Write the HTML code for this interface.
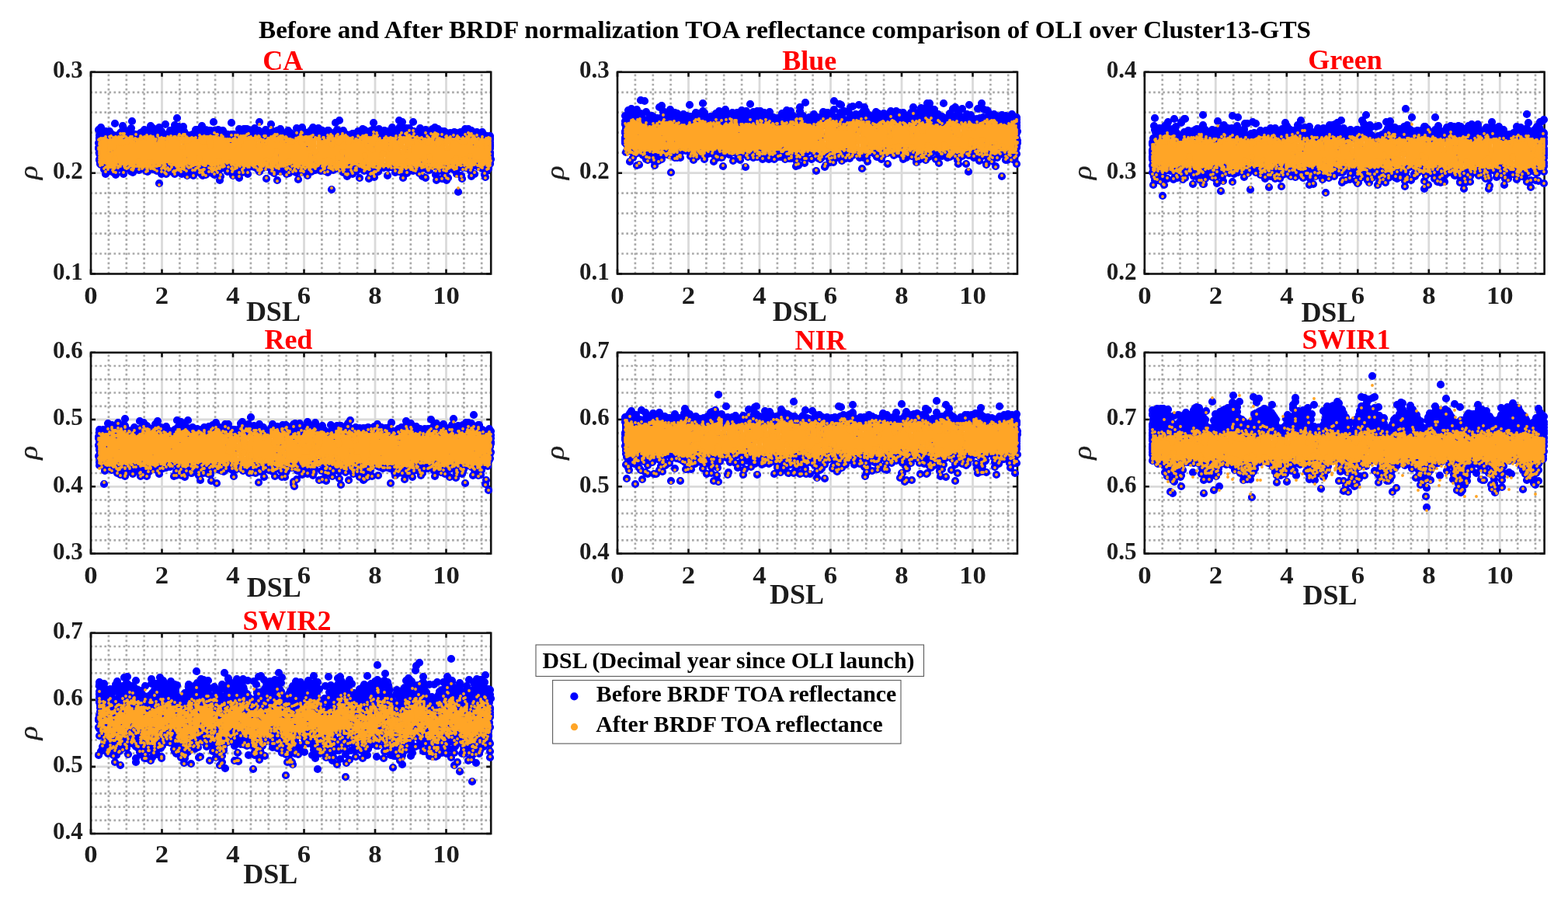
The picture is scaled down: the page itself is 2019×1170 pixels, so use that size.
<!DOCTYPE html>
<html><head><meta charset="utf-8"><title>Before and After BRDF normalization TOA reflectance comparison</title>
<style>
html,body{margin:0;padding:0;background:#fff;overflow:hidden}
svg{display:block}
text{font-family:"Liberation Serif","DejaVu Serif",serif;font-weight:bold}
.tk{font-size:31px;fill:#1c1c1c}
.xl{font-size:36px;fill:#1c1c1c}
.yl{font-size:37px;font-style:italic;font-weight:normal;fill:#1c1c1c;stroke:#1c1c1c;stroke-width:0.35}
.ti{font-size:36px;fill:#ff0000}
.lg{font-size:29.7px;fill:#000}
.mt{font-size:32px;fill:#000}
</style></head><body>
<svg width="2019" height="1170" viewBox="0 0 2019 1170">
<rect width="2019" height="1170" fill="#fff"/>
<text class="mt" x="333" y="49.1" textLength="1355" lengthAdjust="spacingAndGlyphs">Before and After BRDF normalization TOA reflectance comparison of OLI over Cluster13-GTS</text>
<path d="M208.5 92.8V352.5M300.0 92.8V352.5M391.5 92.8V352.5M483.0 92.8V352.5M574.5 92.8V352.5M117.0 222.7H632.2" stroke="#dadada" stroke-width="2.8" fill="none"/>
<path d="M139.9 92.8V352.5M162.8 92.8V352.5M185.6 92.8V352.5M231.4 92.8V352.5M254.2 92.8V352.5M277.1 92.8V352.5M322.9 92.8V352.5M345.8 92.8V352.5M368.6 92.8V352.5M414.4 92.8V352.5M437.2 92.8V352.5M460.1 92.8V352.5M505.9 92.8V352.5M528.8 92.8V352.5M551.6 92.8V352.5M597.4 92.8V352.5M620.2 92.8V352.5" stroke="#aaaaaa" stroke-width="2.7" stroke-dasharray="2.7 3.35" stroke-dashoffset="3.3" fill="none"/>
<path d="M117.0 326.5H632.2M117.0 300.6H632.2M117.0 274.6H632.2M117.0 248.6H632.2M117.0 196.7H632.2M117.0 170.7H632.2M117.0 144.7H632.2M117.0 118.8H632.2" stroke="#aaaaaa" stroke-width="2.7" stroke-dasharray="2.7 3.35" stroke-dashoffset="0.8" fill="none"/>
<path d="M117.0 352.5v-6M117.0 92.8v6M208.5 352.5v-6M208.5 92.8v6M300.0 352.5v-6M300.0 92.8v6M391.5 352.5v-6M391.5 92.8v6M483.0 352.5v-6M483.0 92.8v6M574.5 352.5v-6M574.5 92.8v6M117.0 352.5h6M632.2 352.5h-6M117.0 222.7h6M632.2 222.7h-6M117.0 92.8h6M632.2 92.8h-6" stroke="#111" stroke-width="2.6" fill="none"/>
<rect x="117.0" y="92.8" width="515.2" height="259.7" fill="none" stroke="#111" stroke-width="2.6"/>
<path d="M127 167h0m0 17h0m0 6h0m0 1h0m1-17h0m0 3h0m0 1h0m0 1h0m0 4h0m0 2h0m0 8h0m0 3h0m0 1h0m0 1h0m0 7h0m0 1h0m1-7h0m0 10h0m0 1h0m0 1h0m1-47h0m0 38h0m0 10h0m4-39h0m0 45h0m2-49h0m0 55h0m3-11h0m0 8h0m1-42h0m1-10h0m2 3h0m1 11h0m0 6h0m0 25h0m1-21h0m1-19h0m0 48h0m2-63h0m1 16h0m0 6h0m0 44h0m1-50h0m0 31h0m1-31h0m1-1h0m0 41h0m0 2h0m3-46h0m0 45h0m1-46h0m1 0h0m0 9h0m0 29h0m1-46h0m1 62h0m1-57h0m0 17h0m1 32h0m1-47h0m1 6h0m2 42h0m2-38h0m2-14h0m0 46h0m0 10h0m1-65h0m0 16h0m1 0h0m0 50h0m3-49h0m0 45h0m1-44h0m1 0h0m0 6h0m0 33h0m3 6h0m1-47h0m1-1h0m0 1h0m0 36h0m1-37h0m1-1h0m1 10h0m2-13h0m0 48h0m2 5h0m1-52h0m0 7h0m0 45h0m1 1h0m4-59h0m0 55h0m2-52h0m0 7h0m0 39h0m1-46h0m0 53h0m4-42h0m1 44h0m1-50h0m0 44h0m1-29h0m1-21h0m0 72h0m1-24h0m2-43h0m0 8h0m0 47h0m3-7h0m1-44h0m0 11h0m1-24h0m0 56h0m1-42h0m0 50h0m1-42h0m0 26h0m1-35h0m3-5h0m0 6h0m0 46h0m2-9h0m0 5h0m1-6h0m1-43h0m0 55h0m1 0h0m1-61h0m0 10h0m0 53h0m2-45h0m1-27h0m2 11h0m0 52h0m1-48h0m2 54h0m1 3h0m1-51h0m1-10h0m1 6h0m0 44h0m1-42h0m1 17h0m1-14h0m0 45h0m1-45h0m0 9h0m0 43h0m1-23h0m3 11h0m1-40h0m2-1h0m0 48h0m1 5h0m1-54h0m1-1h0m1-4h0m0 1h0m2-1h0m0 8h0m0 40h0m2-33h0m1-11h0m0 32h0m0 19h0m3-60h0m0 56h0m0 7h0m1 1h0m1-51h0m1 37h0m1-33h0m1-12h0m0 57h0m0 1h0m1-57h0m2 13h0m0 28h0m1-41h0m0 49h0m1-43h0m1-6h0m2 23h0m0 25h0m0 7h0m2-66h0m1 11h0m0 57h0m1-48h0m3 40h0m1-50h0m2 51h0m0 14h0m1-56h0m0 28h0m0 8h0m0 15h0m3-59h0m1 2h0m0 46h0m1-6h0m2-30h0m2-7h0m0 48h0m1-8h0m1-32h0m3-23h0m0 15h0m1 13h0m0 34h0m1 6h0m1-53h0m2 41h0m1-30h0m1 34h0m1-44h0m2-8h0m0 6h0m0 52h0m0 5h0m1-49h0m3 42h0m1-1h0m1-55h0m0 50h0m2-50h0m0 8h0m1 40h0m1-48h0m1 48h0m0 10h0m1-57h0m1 48h0m1-44h0m5 7h0m0 37h0m1-50h0m1 7h0m3 46h0m1-50h0m0 43h0m1-54h0m0 19h0m0 45h0m1-3h0m1-31h0m0 30h0m1-1h0m1-34h0m1 34h0m2-44h0m1-5h0m1 9h0m0 39h0m0 15h0m1-23h0m1 8h0m1 0h0m1-43h0m2-12h0m0 11h0m1 50h0m2-52h0m1 48h0m0 6h0m1-43h0m2 22h0m1-34h0m0 41h0m0 23h0m2-57h0m1 21h0m1-30h0m0 55h0m3-50h0m0 8h0m0 36h0m1-30h0m4-14h0m0 44h0m0 6h0m0 3h0m2-56h0m1 38h0m0 17h0m1-44h0m1-8h0m0 46h0m2-8h0m2-35h0m1 46h0m2-47h0m0 49h0m1-57h0m0 16h0m2 27h0m0 8h0m0 15h0m4-60h0m0 51h0m1-58h0m0 3h0m1 11h0m0 34h0m0 9h0m2-51h0m0 12h0m1-11h0m0 47h0m3 8h0m1-18h0m1-37h0m0 11h0m0 34h0m1-27h0m1-21h0m0 53h0m1-47h0m0 47h0m1-27h0m1-30h0m0 45h0m1-9h0m2 19h0m2-49h0m1 4h0m1-9h0m1 48h0m2 7h0m2-52h0m2 7h0m0 7h0m1 22h0m0 16h0m4-52h0m0 8h0m0 46h0m1-54h0m0 47h0m3-31h0m0 32h0m0 2h0m1-47h0m0 34h0m0 39h0m1-72h0m1 47h0m2-39h0m1-22h0m0 26h0m1 33h0m1-50h0m2 2h0m0 7h0m1-21h0m0 14h0m0 33h0m0 15h0m1-48h0m3 0h0m0 30h0m0 21h0m1-52h0m0 54h0m1-51h0m0 48h0m1-47h0m1 1h0m0 50h0m1-50h0m0 40h0m1 14h0m2-18h0m2 3h0m1-39h0m0 8h0m0 39h0m1 3h0m1-51h0m0 52h0m1-52h0m1 9h0m1-9h0m0 49h0m1-5h0m1 4h0m1-8h0m1-43h0m1 10h0m1 50h0m1-53h0m2 41h0m1-51h0m1 37h0m0 16h0m1-52h0m0 6h0m0 47h0m2-33h0m1-18h0m1 42h0m2-35h0m0 54h0m1-13h0m1-33h0m0 6h0m0 34h0m1-56h0m2 45h0m1-55h0m0 8h0m0 55h0m0 4h0m1-2h0m0 5h0m1-61h0m0 5h0m3 9h0m1-8h0m0 36h0m0 12h0m1-55h0m1 50h0m1 0h0m2-35h0m1-9h0m0 43h0m1 1h0m1-48h0m0 27h0m2-14h0m0 34h0m1-46h0m1 57h0m1-10h0m1-42h0m2 4h0m1 37h0m1-51h0m0 23h0m1-15h0m2 5h0m0 40h0m1-34h0m0 39h0m1-54h0m1 47h0m3-60h0m0 66h0m1-58h0m0 8h0m1 6h0m1 45h0m1-65h0m0 60h0m1-19h0m0 31h0m2-18h0m1-45h0m1-1h0m0 7h0m0 44h0m1-24h0m0 31h0m1-51h0m1 8h0m1-15h0m2 51h0m1-37h0m2-22h0m0 63h0m1-51h0m0 8h0m1-6h0m1 48h0m3-45h0m1 36h0m1 13h0m1-58h0m0 18h0m2 34h0m1-44h0m0 54h0m1-20h0m1-25h0m0 32h0m2-47h0m0 62h0m1-22h0m2-30h0m0 42h0m1-50h0m1 50h0m1-4h0m1-32h0m1 19h0m1-36h0m0 46h0m2-40h0m1-8h0m0 50h0m1-35h0m0 46h0m1 7h0m2-66h0m0 51h0m1-44h0m1 47h0m1-32h0m2-19h0m0 2h0m0 59h0m1-21h0m1 12h0m1-52h0m0 10h0m1 45h0m1-4h0m1-49h0m0 48h0m0 13h0m1-16h0m0 3h0m1-10h0m0 9h0m0 11h0m2-57h0m0 7h0m0 14h0m1-22h0m0 1h0m0 34h0m3 9h0m1-13h0m1-32h0m0 49h0m1-40h0m2-8h0m0 47h0m0 6h0m2 23h0m1-76h0m0 40h0m1-34h0m1-7h0m1 56h0m1 4h0m1-59h0m0 13h0m0 32h0m3-50h0m0 43h0m1 7h0m2-39h0m1-11h0m1 5h0m1 31h0m0 16h0m1 2h0m1-52h0m0 39h0m0 8h0m0 12h0m2-40h0m2-16h0m0 7h0m0 30h0m0 5h0m0 11h0m3-54h0m0 9h0m1 10h0m1 26h0m2-2h0m1 3h0m1-44h0m1-2h0m0 6h0m0 36h0m0 5h0m3-42h0m0 50h0m1 3h0m1-44h0m1-9h0m0 45h0m2-5h0m0 2h0m1-41h0m0 16h0m0 1h0m0 1h0m0 1h0m1-20h0m0 2h0m0 1h0m0 1h0m0 1h0m0 3h0m0 2h0m0 1h0m0 1h0m0 1h0m0 1h0m0 2h0m0 5h0m0 1h0m0 1h0m0 2h0m0 2h0m0 1h0m0 1h0m0 2h0m0 4h0m0 1h0m1-6h0" stroke="#0000ff" stroke-width="10.2" stroke-linecap="round" fill="none"/>
<path d="M128.5 190H129.5V179H136.5V180H137.5V181H139.5V198H143.5V197H145.5V190H148.5V184H150.5V177H152.5V179H154.5V186H158.5V181H160.5V185H164.5V182H168.5V181H169.5V179H170.5V183H174.5V179H175.5V180H179.5V179H180.5V178H181.5V177H182.5V180H187.5V176H188.5V175H189.5V176H196.5V177H197.5V179H200.5V185H203.5V187H207.5V189H211.5V183H215.5V177H219.5V178H223.5V177H224.5V176H225.5V177H226.5V178H233.5V191H236.5V177H240.5V183H244.5V182H245.5V178H251.5V181H256.5V178H257.5V182H260.5V184H263.5V179H264.5V176H268.5V190H272.5V183H273.5V176H276.5V177H280.5V178H281.5V179H285.5V176H286.5V179H289.5V180H293.5V185H294.5V186H297.5V190H301.5V186H303.5V185H304.5V180H305.5V189H309.5V183H311.5V178H312.5V176H313.5V175H315.5V178H320.5V180H324.5V178H329.5V177H330.5V180H331.5V189H335.5V180H338.5V185H339.5V186H343.5V181H344.5V179H345.5V178H348.5V177H349.5V176H352.5V175H353.5V182H357.5V178H358.5V177H359.5V179H363.5V180H364.5V183H365.5V184H366.5V185H370.5V183H373.5V185H377.5V181H380.5V179H381.5V178H384.5V177H386.5V187H390.5V177H392.5V190H393.5V191H394.5V192H398.5V181H399.5V192H403.5V189H404.5V196H407.5V178H411.5V182H414.5V183H415.5V184H418.5V182H422.5V176H423.5V183H424.5V185H425.5V188H428.5V182H429.5V179H434.5V185H437.5V181H440.5V175H445.5V176H446.5V185H450.5V178H453.5V181H454.5V182H457.5V180H463.5V182H467.5V175H470.5V188H473.5V192H476.5V184H478.5V194H481.5V184H482.5V176H484.5V181H487.5V180H488.5V181H498.5V180H499.5V179H500.5V192H503.5V181H504.5V178H505.5V179H508.5V182H509.5V183H513.5V181H514.5V177H516.5V197H520.5V183H524.5V195H528.5V186H530.5V185H531.5V184H532.5V180H536.5V181H540.5V182H545.5V179H547.5V180H549.5V185H552.5V179H557.5V183H561.5V181H562.5V187H566.5V182H569.5V180H573.5V192H577.5V178H579.5V179H582.5V180H586.5V179H587.5V178H588.5V176H589.5V177H590.5V182H591.5V183H595.5V185H599.5V179H600.5V180H607.5V189H611.5V188H612.5V179H613.5V182H617.5V188H620.5V180H621.5V183H624.5V192H628.5V183H630.5V210H624.5V207H620.5V215H619.5V212H617.5V208H616.5V207H612.5V208H611.5V211H610.5V210H607.5V199H603.5V215H601.5V212H600.5V203H596.5V209H591.5V212H589.5V202H585.5V207H581.5V209H577.5V211H568.5V215H567.5V213H563.5V214H562.5V211H558.5V212H556.5V208H554.5V199H550.5V208H548.5V209H547.5V210H546.5V211H545.5V205H541.5V206H540.5V212H539.5V208H535.5V209H532.5V211H531.5V210H528.5V215H527.5V211H526.5V207H523.5V211H522.5V215H521.5V214H517.5V212H511.5V211H508.5V212H507.5V211H506.5V210H499.5V212H495.5V195H491.5V196H490.5V210H489.5V215H488.5V216H487.5V212H486.5V211H478.5V214H475.5V217H473.5V210H471.5V199H468.5V215H466.5V214H464.5V209H463.5V208H460.5V209H459.5V211H453.5V209H448.5V205H444.5V209H443.5V194H439.5V212H437.5V215H436.5V201H433.5V217H432.5V215H430.5V211H427.5V206H426.5V205H425.5V204H421.5V210H420.5V211H419.5V212H418.5V207H415.5V210H410.5V212H409.5V213H407.5V214H406.5V206H402.5V199H398.5V211H396.5V209H392.5V212H390.5V210H385.5V213H383.5V214H382.5V209H374.5V210H372.5V206H368.5V212H367.5V213H361.5V214H358.5V193H354.5V199H352.5V202H351.5V214H350.5V216H349.5V215H346.5V204H342.5V205H340.5V212H339.5V213H338.5V214H336.5V218H335.5V219H334.5V212H333.5V211H328.5V212H327.5V214H326.5V213H325.5V212H320.5V215H319.5V214H318.5V213H317.5V212H313.5V210H309.5V211H308.5V212H304.5V209H300.5V211H297.5V209H296.5V208H293.5V209H291.5V208H287.5V214H285.5V210H283.5V205H280.5V211H272.5V212H271.5V211H270.5V210H264.5V213H263.5V212H261.5V211H260.5V210H258.5V202H255.5V212H247.5V211H244.5V210H240.5V202H236.5V210H232.5V213H229.5V218H228.5V214H227.5V211H223.5V212H222.5V208H218.5V210H217.5V208H212.5V209H211.5V210H205.5V213H203.5V209H197.5V214H196.5V216H195.5V207H191.5V214H184.5V209H180.5V214H179.5V206H175.5V209H173.5V210H172.5V214H171.5V212H167.5V211H166.5V210H163.5V211H162.5V212H161.5V208H158.5V211H155.5V213H154.5V209H153.5V208H150.5V210H149.5V202H145.5V215H142.5V214H141.5V211H138.5V210H136.5V209H134.5V206H130.5V212H129.5V210H128.5Z" fill="#ffa526"/>
<path d="M127 180h0m0 10h0m0 1h0m0 1h0m1-13h0m0 2h0m0 3h0m0 2h0m0 7h0m0 2h0m0 1h0m0 1h0m0 1h0m0 1h0m0 3h0m0 3h0m0 3h0m0 1h0m1-27h0m0 1h0m0 3h0m0 3h0m0 1h0m0 11h0m0 2h0m0 1h0m0 1h0m0 2h0m0 2h0m0 1h0m0 1h0m0 2h0m1-35h0m0 30h0m0 4h0m1-6h0m0 1h0m1-1h0m0 4h0m0 2h0m1-34h0m0 28h0m1 1h0m0 10h0m1-9h0m0 1h0m1-33h0m0 2h0m0 32h0m0 5h0m0 6h0m1-11h0m1-30h0m0 31h0m0 3h0m1-33h0m0 15h0m0 15h0m0 6h0m0 1h0m1-37h0m0 2h0m0 1h0m0 1h0m0 3h0m0 2h0m0 2h0m0 1h0m0 1h0m0 3h0m1-21h0m0 9h0m0 13h0m0 14h0m0 2h0m1-35h0m0 2h0m0 5h0m0 3h0m0 4h0m0 22h0m1-40h0m0 7h0m0 9h0m0 1h0m0 5h0m0 1h0m0 17h0m1-35h0m0 2h0m0 1h0m0 1h0m0 3h0m0 6h0m0 4h0m1-17h0m0 8h0m0 1h0m0 1h0m0 6h0m0 1h0m0 7h0m0 5h0m0 1h0m0 4h0m0 5h0m1-42h0m0 9h0m0 1h0m0 3h0m0 13h0m0 3h0m0 10h0m0 5h0m1-39h0m0 2h0m0 7h0m0 11h0m0 4h0m0 3h0m0 3h0m0 5h0m1-38h0m0 5h0m0 3h0m0 3h0m0 12h0m0 10h0m0 2h0m0 2h0m1-40h0m0 9h0m0 2h0m0 2h0m0 1h0m0 12h0m0 1h0m0 5h0m0 3h0m0 1h0m0 10h0m1-45h0m0 4h0m0 3h0m0 19h0m0 1h0m0 1h0m0 1h0m0 3h0m0 1h0m0 1h0m1-33h0m0 4h0m0 2h0m0 24h0m1 6h0m0 2h0m1-40h0m0 2h0m0 1h0m0 29h0m1-25h0m0 2h0m0 1h0m0 23h0m0 1h0m0 3h0m1-41h0m0 9h0m0 1h0m0 1h0m0 28h0m0 2h0m0 1h0m1-38h0m0 2h0m0 4h0m1-6h0m0 1h0m0 3h0m0 1h0m0 1h0m0 4h0m0 25h0m1-39h0m0 10h0m0 1h0m0 3h0m1-10h0m0 5h0m0 27h0m0 3h0m0 11h0m1-50h0m0 3h0m0 6h0m0 2h0m0 29h0m0 2h0m1-34h0m0 2h0m0 2h0m0 24h0m0 6h0m0 1h0m0 1h0m1-40h0m0 9h0m0 23h0m0 1h0m0 1h0m1-33h0m0 3h0m0 31h0m0 1h0m0 5h0m1-36h0m0 3h0m1-3h0m0 1h0m0 1h0m0 27h0m0 6h0m1-38h0m1 34h0m0 2h0m1-38h0m0 5h0m0 32h0m1-35h0m0 3h0m0 37h0m1-42h0m0 4h0m0 1h0m1-2h0m0 34h0m0 2h0m0 4h0m1-36h0m0 34h0m1-34h0m0 27h0m0 1h0m1-33h0m0 2h0m0 34h0m1-41h0m0 36h0m1-30h0m0 28h0m0 7h0m1-3h0m1-31h0m0 31h0m1-31h0m0 26h0m0 3h0m0 1h0m0 2h0m0 2h0m0 1h0m0 3h0m1-40h0m0 30h0m0 6h0m1-39h0m0 2h0m0 32h0m0 1h0m0 3h0m0 1h0m1-38h0m0 2h0m1-1h0m0 2h0m0 30h0m0 4h0m0 4h0m1-37h0m1 31h0m0 1h0m0 3h0m1-39h0m0 4h0m0 34h0m1-35h0m1-3h0m0 45h0m1-47h0m0 2h0m0 39h0m0 2h0m1-41h0m0 41h0m0 3h0m1-43h0m0 30h0m0 1h0m0 1h0m0 4h0m1-37h0m0 31h0m0 7h0m1-3h0m0 2h0m1-38h0m0 32h0m0 4h0m0 2h0m0 1h0m0 3h0m1-10h0m0 3h0m0 6h0m1-39h0m0 32h0m1-33h0m0 39h0m0 2h0m1-39h0m0 1h0m0 30h0m0 1h0m0 2h0m0 2h0m1 4h0m1-37h0m0 1h0m0 1h0m0 1h0m0 25h0m0 4h0m0 1h0m1-35h0m0 6h0m1 0h0m0 24h0m0 4h0m0 1h0m0 6h0m1-46h0m0 1h0m0 10h0m0 24h0m1-27h0m0 1h0m0 1h0m0 3h0m0 24h0m0 1h0m1-34h0m0 2h0m0 2h0m0 1h0m0 4h0m0 26h0m0 25h0m1-51h0m0 24h0m0 2h0m1-33h0m0 1h0m1-4h0m0 3h0m0 2h0m0 3h0m0 3h0m0 1h0m0 20h0m0 8h0m0 4h0m1-40h0m0 1h0m0 1h0m0 1h0m0 5h0m0 21h0m1-29h0m0 4h0m0 4h0m0 21h0m0 4h0m0 1h0m1-37h0m0 2h0m0 2h0m0 3h0m0 3h0m0 1h0m0 27h0m1-38h0m0 4h0m0 1h0m0 4h0m0 22h0m0 3h0m0 1h0m0 1h0m0 1h0m0 1h0m0 6h0m1-13h0m0 4h0m0 5h0m0 5h0m1 1h0m1-46h0m0 2h0m0 2h0m0 26h0m1-32h0m0 32h0m0 8h0m1-8h0m0 1h0m0 10h0m1-41h0m0 31h0m0 2h0m1-34h0m0 1h0m0 31h0m0 9h0m1-43h0m0 33h0m0 4h0m1-4h0m0 7h0m1-37h0m0 30h0m0 4h0m1-2h0m0 11h0m1-45h0m0 35h0m0 1h0m0 8h0m1-44h0m0 48h0m1-48h0m0 1h0m0 43h0m1-9h0m0 1h0m0 2h0m1-36h0m0 35h0m0 2h0m0 3h0m1-39h0m1-4h0m0 3h0m0 36h0m0 2h0m0 3h0m1-46h0m0 5h0m0 40h0m1-40h0m0 32h0m0 2h0m0 1h0m0 5h0m1-40h0m0 5h0m0 7h0m0 1h0m0 19h0m0 3h0m0 8h0m1-46h0m0 2h0m0 5h0m0 6h0m0 21h0m0 5h0m0 3h0m1-41h0m0 4h0m0 5h0m0 1h0m0 24h0m1-37h0m0 8h0m0 3h0m0 4h0m0 3h0m0 13h0m0 1h0m0 6h0m0 4h0m1-37h0m0 10h0m0 3h0m0 11h0m0 1h0m0 6h0m0 5h0m0 2h0m0 2h0m1-45h0m0 4h0m0 30h0m1-5h0m0 5h0m0 4h0m1-35h0m0 4h0m0 1h0m0 24h0m0 3h0m0 12h0m1-43h0m0 3h0m0 3h0m0 27h0m0 4h0m0 14h0m1-50h0m0 1h0m0 30h0m1 7h0m1-34h0m0 29h0m1-33h0m0 3h0m0 29h0m0 5h0m1 0h0m1-38h0m0 35h0m1-34h0m0 41h0m1-6h0m0 13h0m1-48h0m0 34h0m1-32h0m0 32h0m0 7h0m1-42h0m0 3h0m0 1h0m0 30h0m0 6h0m1-5h0m1-31h0m0 35h0m1-14h0m0 2h0m0 1h0m0 7h0m0 4h0m1-36h0m0 22h0m0 4h0m0 3h0m1-35h0m0 3h0m0 1h0m0 1h0m0 22h0m0 5h0m0 4h0m0 1h0m0 3h0m0 5h0m0 3h0m1-43h0m0 3h0m0 20h0m0 5h0m1-24h0m0 20h0m0 1h0m0 1h0m0 5h0m1-34h0m0 1h0m0 2h0m0 3h0m0 1h0m0 28h0m0 8h0m0 3h0m1-38h0m0 27h0m0 1h0m0 9h0m0 4h0m1-46h0m0 1h0m0 38h0m0 6h0m1-49h0m0 4h0m0 2h0m0 32h0m0 5h0m1-37h0m0 2h0m0 1h0m0 27h0m1-34h0m0 36h0m0 13h0m1-50h0m1 0h0m0 34h0m1-30h0m0 2h0m0 2h0m0 25h0m1-33h0m0 10h0m0 1h0m0 2h0m0 1h0m0 26h0m0 5h0m1-43h0m0 3h0m0 5h0m0 24h0m0 1h0m1-36h0m0 5h0m0 3h0m0 3h0m0 4h0m0 21h0m0 1h0m1-36h0m0 3h0m0 8h0m0 2h0m0 1h0m0 26h0m0 2h0m1-42h0m0 4h0m0 3h0m0 2h0m0 3h0m0 23h0m0 1h0m0 2h0m0 1h0m0 5h0m0 1h0m1-4h0m0 3h0m1-44h0m0 41h0m1-46h0m0 5h0m0 36h0m0 6h0m0 6h0m1-48h0m0 36h0m0 2h0m0 1h0m1-4h0m0 8h0m1-46h0m0 4h0m0 34h0m1-38h0m0 33h0m0 1h0m0 4h0m0 6h0m0 5h0m1-45h0m0 1h0m0 31h0m0 2h0m0 1h0m0 2h0m1-36h0m0 32h0m1-5h0m0 3h0m0 9h0m0 12h0m1-24h0m0 1h0m0 1h0m0 3h0m0 5h0m0 10h0m1-51h0m0 2h0m0 2h0m0 33h0m0 2h0m1-1h0m1-36h0m0 33h0m0 1h0m0 2h0m0 3h0m1-36h0m0 30h0m0 3h0m1-32h0m0 28h0m0 6h0m1-35h0m0 29h0m1 0h0m1 2h0m1-31h0m0 1h0m0 3h0m0 27h0m0 10h0m1-38h0m0 26h0m0 7h0m1-35h0m0 5h0m0 1h0m0 21h0m1-28h0m0 2h0m0 27h0m1-22h0m0 1h0m0 1h0m0 1h0m0 1h0m0 18h0m0 2h0m1-36h0m0 7h0m0 5h0m0 1h0m0 3h0m0 20h0m0 1h0m0 1h0m0 5h0m1-32h0m0 1h0m0 5h0m0 25h0m0 5h0m1-42h0m0 3h0m0 4h0m0 4h0m0 29h0m0 9h0m1-49h0m0 1h0m0 2h0m0 4h0m0 3h0m0 1h0m0 19h0m0 3h0m1-34h0m0 8h0m0 2h0m0 21h0m0 4h0m1-39h0m0 4h0m0 7h0m0 23h0m0 7h0m0 1h0m0 1h0m1-37h0m0 2h0m0 2h0m0 1h0m0 24h0m1-28h0m0 2h0m0 28h0m0 1h0m0 3h0m0 1h0m1-42h0m0 11h0m0 3h0m0 1h0m1-10h0m0 3h0m0 30h0m1-35h0m0 4h0m0 1h0m0 3h0m0 37h0m0 5h0m1-50h0m0 1h0m0 2h0m0 3h0m0 2h0m0 3h0m0 23h0m0 3h0m1-39h0m0 35h0m0 1h0m1-28h0m1-5h0m0 1h0m0 2h0m0 1h0m0 1h0m0 35h0m0 1h0m1-44h0m0 1h0m0 34h0m0 1h0m0 2h0m0 9h0m1-7h0m0 1h0m1-41h0m1 0h0m0 3h0m0 34h0m1-34h0m0 35h0m1-40h0m0 6h0m1-1h0m0 37h0m0 7h0m1-50h0m0 5h0m0 1h0m1-1h0m0 2h0m0 34h0m0 2h0m1-3h0m1-36h0m1 3h0m0 1h0m1-2h0m0 35h0m1-34h0m1-1h0m0 36h0m0 1h0m1-37h0m1-3h0m0 36h0m0 1h0m1 4h0m1-39h0m0 2h0m0 2h0m0 6h0m0 1h0m1-3h0m0 3h0m0 1h0m0 22h0m0 8h0m1-44h0m0 5h0m0 3h0m0 1h0m1-24h0m0 16h0m0 5h0m0 2h0m0 2h0m0 4h0m0 24h0m0 4h0m0 6h0m1-10h0m0 2h0m0 5h0m1-41h0m0 1h0m0 6h0m0 1h0m0 1h0m0 28h0m1-2h0m0 4h0m2-38h0m0 2h0m0 2h0m0 29h0m0 1h0m1-39h0m0 10h0m0 26h0m1-35h0m0 30h0m0 2h0m1-33h0m0 6h0m0 5h0m0 26h0m0 6h0m1-35h0m0 2h0m0 19h0m0 1h0m0 5h0m0 5h0m0 14h0m1-49h0m0 1h0m0 28h0m1-31h0m0 1h0m0 29h0m0 3h0m0 2h0m1-8h0m0 3h0m0 7h0m1-37h0m0 28h0m2-42h0m0 12h0m0 40h0m1 4h0m1-16h0m0 5h0m0 2h0m0 3h0m0 1h0m0 3h0m1-43h0m0 28h0m0 2h0m0 1h0m1-30h0m0 2h0m0 1h0m0 20h0m0 1h0m0 2h0m0 5h0m0 6h0m0 9h0m0 2h0m1-51h0m0 2h0m0 3h0m0 3h0m0 25h0m0 4h0m1-28h0m0 11h0m0 1h0m0 2h0m0 1h0m0 2h0m0 4h0m0 3h0m0 2h0m0 2h0m0 5h0m1-22h0m0 6h0m0 3h0m0 3h0m0 9h0m0 2h0m1-43h0m0 5h0m0 1h0m0 3h0m0 11h0m0 5h0m0 1h0m0 2h0m0 6h0m0 2h0m0 2h0m0 22h0m1-56h0m0 1h0m0 2h0m0 2h0m0 12h0m0 3h0m0 6h0m0 10h0m1-19h0m0 1h0m0 1h0m0 10h0m0 9h0m0 2h0m1-41h0m0 3h0m1-4h0m0 5h0m0 33h0m0 11h0m1-48h0m0 38h0m1-39h0m0 3h0m1-3h0m0 4h0m0 1h0m0 2h0m1 0h0m0 31h0m0 1h0m1-31h0m0 2h0m1-8h0m0 8h0m1-9h0m0 4h0m0 6h0m0 22h0m0 5h0m0 4h0m1-40h0m0 2h0m0 2h0m0 26h0m0 2h0m0 3h0m0 6h0m0 7h0m1-44h0m0 3h0m0 26h0m0 2h0m1-32h0m0 31h0m0 5h0m1-37h0m0 4h0m0 23h0m0 3h0m0 2h0m0 11h0m1-39h0m0 23h0m0 2h0m0 3h0m1-32h0m0 3h0m0 2h0m0 1h0m0 33h0m1-33h0m0 25h0m1-29h0m0 28h0m0 5h0m1-34h0m0 4h0m0 37h0m1-40h0m0 2h0m0 26h0m1 1h0m0 2h0m0 1h0m0 5h0m1-37h0m0 34h0m1-37h0m0 1h0m0 30h0m0 11h0m1-49h0m0 8h0m0 33h0m0 2h0m1-3h0m1-34h0m0 1h0m0 36h0m0 2h0m0 14h0m1-52h0m0 35h0m1-37h0m0 6h0m0 2h0m0 27h0m0 2h0m1-40h0m0 3h0m0 4h0m0 6h0m0 24h0m0 10h0m1-50h0m0 7h0m0 6h0m0 4h0m0 29h0m0 1h0m0 8h0m1-54h0m0 5h0m0 1h0m0 3h0m0 2h0m0 1h0m0 27h0m0 10h0m1-36h0m0 2h0m0 1h0m0 24h0m0 2h0m0 7h0m1-42h0m0 37h0m0 6h0m1-44h0m0 3h0m0 8h0m1-12h0m0 1h0m0 4h0m0 4h0m0 4h0m0 1h0m0 19h0m0 1h0m0 2h0m0 5h0m1-41h0m0 7h0m0 3h0m1-10h0m0 3h0m0 12h0m0 18h0m0 6h0m1-33h0m0 3h0m0 7h0m0 18h0m0 3h0m0 14h0m1-50h0m0 2h0m0 3h0m0 4h0m0 1h0m0 5h0m0 17h0m0 1h0m0 2h0m0 2h0m0 1h0m1-39h0m0 2h0m0 10h0m0 1h0m0 16h0m0 10h0m0 3h0m1-38h0m0 4h0m0 15h0m0 1h0m0 2h0m0 5h0m0 4h0m0 7h0m1-42h0m0 1h0m0 10h0m0 4h0m0 1h0m0 7h0m0 5h0m0 6h0m0 1h0m0 1h0m0 8h0m1-45h0m0 2h0m0 5h0m0 3h0m0 1h0m0 2h0m0 4h0m0 7h0m0 8h0m0 5h0m0 3h0m0 6h0m1-41h0m0 12h0m0 10h0m0 2h0m0 6h0m0 4h0m1-40h0m0 6h0m0 3h0m0 2h0m0 4h0m0 3h0m0 18h0m0 1h0m1-25h0m0 8h0m0 1h0m0 11h0m0 9h0m1-36h0m0 1h0m0 2h0m0 3h0m0 2h0m0 2h0m0 4h0m0 13h0m0 4h0m0 1h0m0 1h0m0 3h0m1-38h0m0 6h0m0 2h0m0 6h0m0 1h0m0 5h0m0 9h0m0 1h0m0 2h0m0 4h0m0 4h0m1-37h0m0 8h0m0 5h0m0 3h0m0 12h0m0 5h0m1-35h0m0 17h0m0 19h0m1-36h0m1 35h0m1-38h0m0 2h0m0 2h0m0 32h0m1-32h0m0 2h0m0 1h0m1 28h0m0 10h0m1-37h0m1-1h0m0 26h0m0 3h0m0 3h0m1-37h0m0 33h0m0 1h0m0 1h0m0 3h0m0 3h0m1-41h0m0 1h0m0 6h0m0 22h0m0 8h0m1-34h0m0 27h0m0 8h0m0 2h0m0 5h0m1-41h0m0 1h0m0 25h0m0 2h0m0 2h0m0 2h0m1-6h0m0 5h0m1-29h0m0 27h0m0 1h0m1-37h0m0 3h0m0 2h0m0 3h0m0 22h0m0 1h0m0 16h0m1-44h0m0 3h0m0 24h0m0 4h0m0 8h0m1-40h0m0 2h0m0 4h0m0 1h0m0 26h0m0 4h0m0 2h0m1-36h0m0 5h0m0 1h0m0 1h0m0 1h0m0 18h0m0 5h0m1-37h0m0 6h0m0 6h0m0 3h0m0 18h0m0 5h0m0 1h0m0 4h0m0 1h0m1-42h0m0 3h0m0 11h0m0 17h0m0 1h0m0 2h0m0 6h0m0 27h0m1-67h0m0 7h0m0 3h0m0 3h0m0 23h0m0 7h0m1-40h0m0 1h0m0 2h0m0 2h0m0 2h0m0 2h0m0 32h0m1-40h0m0 32h0m0 1h0m0 2h0m0 1h0m1 0h0m1-37h0m0 38h0m1-41h0m0 4h0m0 24h0m0 2h0m0 10h0m0 3h0m1-44h0m0 6h0m0 1h0m0 2h0m0 1h0m0 17h0m0 8h0m0 2h0m1-38h0m0 6h0m0 6h0m0 16h0m0 4h0m0 2h0m0 6h0m0 3h0m0 1h0m1-40h0m0 1h0m0 1h0m0 7h0m0 23h0m0 2h0m0 3h0m1-37h0m0 3h0m0 2h0m0 3h0m0 17h0m0 1h0m0 1h0m0 16h0m1-44h0m0 2h0m0 3h0m0 1h0m0 1h0m0 30h0m0 2h0m1-33h0m0 14h0m0 5h0m0 7h0m0 2h0m1-35h0m0 1h0m0 18h0m0 3h0m0 1h0m0 6h0m0 1h0m0 4h0m1-37h0m0 7h0m0 1h0m0 1h0m0 13h0m0 18h0m0 1h0m0 2h0m0 2h0m0 2h0m1-44h0m0 25h0m0 2h0m0 5h0m0 3h0m0 2h0m0 2h0m0 2h0m0 5h0m1-45h0m0 18h0m0 1h0m0 2h0m0 1h0m0 6h0m0 6h0m0 6h0m0 3h0m1-23h0m0 11h0m1-33h0m0 31h0m0 3h0m0 5h0m0 2h0m0 9h0m1-46h0m0 4h0m0 2h0m0 21h0m0 4h0m0 1h0m0 4h0m1-38h0m0 2h0m0 3h0m0 3h0m0 1h0m0 20h0m0 5h0m0 1h0m0 14h0m1-48h0m0 8h0m0 20h0m0 1h0m0 4h0m0 5h0m0 9h0m1-43h0m0 25h0m0 2h0m1-28h0m0 4h0m0 1h0m0 24h0m1-31h0m0 5h0m0 32h0m1-6h0m0 4h0m0 2h0m0 4h0m1-39h0m0 30h0m0 11h0m1-44h0m0 3h0m0 32h0m0 11h0m1-12h0m1-29h0m1 29h0m0 8h0m1-40h0m0 1h0m0 1h0m0 30h0m0 5h0m1-37h0m0 37h0m0 3h0m1-9h0m0 2h0m1-37h0m0 6h0m1-1h0m0 28h0m0 5h0m1-32h0m0 27h0m0 6h0m0 16h0m1-53h0m0 2h0m0 31h0m0 2h0m1-30h0m0 32h0m1-36h0m0 5h0m0 31h0m0 1h0m1-40h0m0 2h0m1 3h0m0 1h0m0 18h0m0 1h0m0 1h0m0 7h0m0 6h0m0 1h0m0 1h0m1-41h0m0 27h0m0 4h0m0 1h0m0 4h0m0 9h0m1-41h0m0 19h0m0 6h0m0 10h0m0 4h0m0 1h0m1-45h0m0 3h0m0 4h0m0 2h0m0 1h0m0 1h0m0 2h0m0 1h0m0 11h0m0 5h0m0 5h0m0 1h0m1-36h0m0 4h0m0 6h0m0 16h0m0 1h0m0 5h0m0 4h0m0 7h0m1-40h0m0 4h0m0 9h0m0 24h0m1-33h0m0 6h0m0 24h0m0 1h0m0 3h0m1-38h0m0 2h0m0 3h0m0 4h0m0 1h0m0 1h0m0 4h0m0 23h0m0 3h0m0 11h0m1-51h0m0 2h0m0 3h0m0 1h0m0 1h0m0 30h0m0 3h0m1-39h0m0 10h0m0 1h0m0 24h0m0 10h0m1-47h0m0 3h0m0 4h0m0 2h0m0 5h0m0 2h0m0 1h0m0 29h0m1-42h0m0 3h0m0 1h0m0 6h0m0 3h0m0 18h0m1-35h0m0 3h0m0 4h0m0 4h0m0 2h0m0 5h0m0 16h0m0 4h0m1-45h0m0 4h0m0 2h0m0 1h0m0 3h0m0 11h0m0 3h0m0 17h0m0 11h0m0 2h0m1-44h0m0 1h0m0 3h0m0 2h0m0 6h0m0 1h0m0 1h0m0 17h0m0 1h0m0 3h0m0 6h0m0 6h0m1-51h0m0 36h0m1-33h0m0 42h0m1-50h0m0 3h0m0 3h0m0 4h0m0 30h0m0 5h0m1-42h0m0 7h0m0 30h0m1 2h0m0 2h0m0 4h0m1-40h0m0 1h0m0 37h0m1-39h0m0 2h0m0 27h0m0 4h0m0 1h0m0 4h0m1-18h0m0 3h0m0 10h0m0 3h0m1-15h0m0 1h0m0 5h0m0 4h0m0 1h0m1-29h0m0 15h0m0 7h0m0 3h0m1-25h0m0 14h0m0 6h0m0 7h0m0 5h0m1-32h0m0 18h0m0 5h0m0 3h0m0 2h0m0 2h0m0 2h0m0 2h0m1-37h0m0 3h0m0 17h0m0 3h0m1-20h0m0 15h0m0 1h0m0 9h0m1-30h0m0 5h0m0 32h0m1-33h0m0 31h0m1 12h0m1-45h0m0 1h0m0 1h0m0 11h0m0 22h0m0 2h0m1-33h0m0 3h0m0 1h0m0 3h0m0 21h0m1-29h0m0 2h0m0 10h0m1-16h0m0 4h0m0 6h0m0 2h0m0 3h0m0 18h0m0 1h0m0 2h0m1-29h0m0 5h0m0 1h0m0 1h0m0 1h0m0 24h0m1-38h0m0 1h0m1-1h0m0 1h0m0 31h0m1 2h0m1-33h0m0 1h0m0 32h0m0 1h0m0 3h0m1-38h0m0 1h0m0 32h0m0 9h0m1-45h0m0 3h0m0 4h0m1 29h0m0 3h0m0 1h0m1-4h0m1-29h0m0 1h0m0 29h0m1-35h0m0 3h0m0 1h0m0 31h0m0 4h0m0 6h0m1-48h0m0 13h0m0 25h0m0 8h0m1-43h0m0 8h0m0 5h0m0 5h0m0 24h0m1-48h0m0 6h0m0 3h0m0 2h0m0 15h0m0 18h0m0 6h0m1-37h0m0 2h0m0 2h0m0 1h0m0 3h0m0 1h0m0 4h0m0 15h0m0 1h0m0 2h0m0 3h0m1-40h0m0 8h0m0 1h0m0 6h0m0 4h0m0 17h0m0 15h0m1-52h0m0 1h0m0 3h0m0 2h0m0 8h0m0 2h0m0 1h0m0 3h0m1-19h0m0 1h0m0 3h0m0 7h0m0 6h0m0 20h0m1-43h0m0 7h0m0 4h0m0 32h0m1-43h0m0 5h0m0 2h0m0 28h0m0 1h0m0 4h0m0 2h0m0 3h0m1-46h0m0 4h0m0 3h0m0 1h0m0 1h0m0 2h0m0 1h0m0 4h0m0 23h0m0 12h0m1-47h0m0 5h0m0 3h0m0 8h0m0 3h0m0 1h0m0 11h0m0 5h0m1-36h0m0 4h0m0 4h0m0 2h0m0 4h0m0 2h0m0 4h0m0 12h0m0 4h0m0 4h0m1-47h0m0 6h0m0 9h0m0 3h0m0 4h0m0 5h0m0 13h0m0 1h0m0 3h0m1-36h0m0 2h0m0 4h0m0 4h0m0 1h0m0 4h0m0 3h0m0 1h0m0 17h0m0 4h0m1-40h0m0 5h0m0 5h0m0 24h0m0 4h0m0 4h0m1-38h0m0 5h0m0 25h0m1-26h0m0 32h0m0 1h0m1-49h0m0 7h0m0 5h0m0 3h0m0 1h0m0 28h0m0 7h0m1-47h0m0 38h0m1-31h0m0 34h0m1-36h0m0 32h0m0 4h0m0 2h0m0 5h0m1-11h0m0 3h0m0 1h0m0 5h0m1-42h0m0 4h0m0 35h0m1-7h0m0 5h0m1-32h0m0 27h0m0 3h0m1-33h0m0 30h0m0 16h0m1-43h0m0 1h0m0 24h0m0 1h0m0 3h0m0 1h0m0 2h0m1-7h0m0 5h0m1-34h0m0 6h0m0 22h0m0 7h0m0 2h0m0 2h0m1-34h0m0 41h0m1-44h0m0 26h0m0 3h0m0 2h0m0 2h0m1-32h0m0 26h0m0 2h0m0 7h0m1-36h0m0 32h0m1-40h0m0 8h0m0 1h0m0 30h0m0 18h0m1-45h0m0 1h0m0 1h0m0 29h0m1-39h0m0 5h0m0 2h0m0 3h0m0 23h0m0 6h0m0 3h0m1-37h0m0 1h0m0 5h0m0 14h0m0 2h0m0 1h0m0 9h0m0 7h0m1-42h0m0 2h0m0 1h0m0 5h0m0 18h0m0 2h0m0 1h0m0 3h0m0 2h0m0 8h0m1-40h0m0 4h0m0 1h0m0 19h0m0 5h0m0 4h0m0 5h0m1-38h0m0 20h0m0 1h0m0 3h0m0 4h0m0 7h0m0 1h0m1-43h0m0 8h0m0 21h0m0 4h0m0 3h0m0 4h0m1-33h0m0 30h0m0 3h0m0 1h0m1-37h0m0 5h0m0 1h0m0 30h0m0 1h0m0 4h0m1-44h0m0 6h0m0 3h0m0 1h0m1-6h0m0 34h0m0 1h0m1-41h0m0 4h0m0 9h0m0 27h0m0 4h0m1-32h0m0 32h0m0 5h0m1-48h0m0 8h0m0 1h0m0 3h0m0 2h0m0 25h0m0 1h0m0 19h0m1-56h0m0 2h0m0 4h0m0 5h0m0 1h0m1-14h0m0 8h0m0 6h0m0 26h0m0 1h0m0 3h0m1-37h0m0 1h0m0 2h0m0 4h0m1-9h0m0 1h0m0 2h0m0 1h0m0 2h0m0 2h0m0 27h0m0 7h0m1-35h0m0 31h0m1-34h0m0 31h0m0 2h0m1-42h0m0 6h0m0 3h0m0 29h0m0 19h0m1-50h0m0 31h0m0 4h0m1-35h0m0 35h0m0 4h0m1-8h0m1-31h0m0 6h0m0 24h0m0 5h0m0 11h0m1-50h0m0 3h0m0 1h0m0 3h0m0 5h0m0 3h0m0 1h0m0 19h0m0 9h0m1-45h0m0 1h0m0 8h0m0 4h0m0 22h0m0 7h0m0 3h0m0 9h0m1-42h0m0 29h0m1-38h0m0 3h0m0 3h0m0 4h0m0 1h0m0 2h0m0 1h0m0 18h0m0 2h0m0 2h0m0 1h0m0 2h0m0 13h0m1-51h0m0 2h0m0 2h0m0 1h0m0 6h0m0 19h0m0 3h0m1-35h0m0 39h0m1-40h0m0 2h0m0 31h0m0 5h0m1-6h0m0 5h0m1-3h0m1-31h0m0 27h0m0 5h0m0 3h0m0 2h0m1-42h0m0 33h0m0 5h0m1-32h0m0 24h0m0 3h0m0 1h0m0 2h0m0 4h0m0 4h0m1-39h0m0 23h0m0 3h0m0 4h0m1-7h0m0 4h0m0 4h0m1-33h0m0 25h0m0 4h0m0 8h0m0 2h0m0 1h0m0 10h0m1-52h0m0 27h0m0 3h0m0 1h0m0 2h0m0 3h0m0 1h0m1-33h0m0 1h0m0 31h0m0 31h0m1-65h0m0 5h0m0 30h0m1-30h0m0 1h0m0 27h0m1-27h0m0 26h0m0 4h0m1-34h0m0 4h0m0 25h0m0 5h0m0 14h0m1-45h0m0 1h0m0 1h0m0 1h0m0 24h0m0 22h0m1-54h0m0 2h0m0 3h0m0 3h0m0 19h0m0 5h0m0 9h0m1-14h0m0 3h0m1-28h0m0 2h0m0 27h0m0 3h0m0 2h0m1-40h0m0 8h0m0 3h0m0 1h0m0 18h0m0 4h0m0 5h0m1-34h0m0 5h0m0 21h0m0 2h0m0 1h0m0 3h0m0 2h0m0 5h0m0 1h0m1-42h0m0 3h0m0 26h0m0 7h0m1 2h0m0 1h0m1-44h0m0 5h0m0 4h0m0 26h0m1-34h0m0 1h0m0 3h0m0 1h0m0 2h0m0 1h0m0 19h0m0 1h0m0 2h0m0 5h0m0 1h0m0 2h0m0 5h0m1-41h0m0 6h0m0 19h0m0 5h0m0 3h0m0 3h0m0 2h0m0 1h0m0 2h0m1-34h0m0 18h0m0 4h0m0 16h0m1-47h0m0 8h0m0 5h0m0 1h0m0 1h0m0 1h0m0 11h0m0 3h0m0 4h0m0 4h0m0 5h0m0 1h0m0 10h0m1-51h0m0 3h0m0 6h0m0 4h0m0 20h0m0 1h0m0 1h0m0 3h0m1-31h0m0 2h0m0 25h0m1-34h0m0 4h0m0 4h0m0 1h0m0 26h0m1-33h0m0 2h0m0 5h0m0 4h0m0 1h0m0 23h0m0 10h0m1-43h0m0 1h0m0 2h0m0 1h0m0 1h0m0 3h0m0 1h0m0 21h0m0 2h0m1-31h0m0 1h0m0 5h0m0 22h0m1-34h0m0 5h0m0 2h0m0 26h0m1 0h0m0 6h0m1-35h0m0 4h0m0 25h0m0 1h0m0 5h0m0 5h0m1-36h0m0 4h0m0 22h0m0 3h0m1-26h0m0 3h0m0 24h0m1-32h0m0 2h0m0 30h0m0 3h0m1-36h0m0 1h0m0 5h0m0 3h0m0 20h0m1-32h0m0 3h0m0 2h0m0 1h0m0 5h0m0 1h0m0 22h0m0 3h0m0 2h0m0 1h0m1-36h0m0 27h0m0 5h0m1-5h0m0 5h0m1-32h0m0 3h0m0 7h0m0 17h0m0 1h0m0 2h0m0 13h0m1-43h0m0 1h0m0 4h0m0 2h0m0 2h0m0 3h0m0 17h0m0 20h0m1-51h0m0 1h0m0 9h0m0 4h0m1-13h0m0 3h0m0 1h0m0 1h0m0 3h0m0 1h0m0 4h0m0 18h0m0 1h0m0 2h0m0 5h0m1-40h0m0 11h0m0 22h0m1-34h0m0 2h0m0 4h0m0 2h0m0 5h0m0 25h0m0 2h0m1-33h0m0 5h0m0 3h0m0 1h0m0 1h0m0 2h0m0 1h0m0 1h0m0 1h0m0 1h0m0 1h0m0 8h0m1-31h0m0 1h0m0 1h0m0 3h0m0 2h0m0 2h0m0 1h0m0 2h0m0 1h0m0 2h0m0 5h0m0 4h0m0 1h0m0 1h0m0 1h0m0 2h0m0 1h0m0 2h0m0 3h0m1-6h0" stroke="#ffa526" stroke-width="3.9" stroke-linecap="round" fill="none"/>
<g class="tk" text-anchor="middle"><text transform="translate(117.0 390.5) scale(1.12 1)">0</text><text transform="translate(208.5 390.5) scale(1.12 1)">2</text><text transform="translate(300.0 390.5) scale(1.12 1)">4</text><text transform="translate(391.5 390.5) scale(1.12 1)">6</text><text transform="translate(483.0 390.5) scale(1.12 1)">8</text><text transform="translate(574.5 390.5) scale(1.12 1)">10</text></g>
<g class="tk" text-anchor="end"><text x="106.8" y="359.7">0.1</text><text x="106.8" y="229.8">0.2</text><text x="106.8" y="100.0">0.3</text></g>
<text class="xl" x="351.9" y="413.3" text-anchor="middle">DSL</text>
<text class="yl" transform="translate(47.7 222.2) rotate(-90) scale(1 0.9)" text-anchor="middle">&#961;</text>
<text class="ti" x="364.2" y="89.7" text-anchor="middle">CA</text>
<path d="M886.5 92.8V352.5M978.0 92.8V352.5M1069.5 92.8V352.5M1161.0 92.8V352.5M1252.5 92.8V352.5M795.0 222.7H1310.0" stroke="#dadada" stroke-width="2.8" fill="none"/>
<path d="M817.9 92.8V352.5M840.8 92.8V352.5M863.6 92.8V352.5M909.4 92.8V352.5M932.2 92.8V352.5M955.1 92.8V352.5M1000.9 92.8V352.5M1023.8 92.8V352.5M1046.6 92.8V352.5M1092.4 92.8V352.5M1115.2 92.8V352.5M1138.1 92.8V352.5M1183.9 92.8V352.5M1206.8 92.8V352.5M1229.6 92.8V352.5M1275.4 92.8V352.5M1298.2 92.8V352.5" stroke="#aaaaaa" stroke-width="2.7" stroke-dasharray="2.7 3.35" stroke-dashoffset="3.3" fill="none"/>
<path d="M795.0 326.5H1310.0M795.0 300.6H1310.0M795.0 274.6H1310.0M795.0 248.6H1310.0M795.0 196.7H1310.0M795.0 170.7H1310.0M795.0 144.7H1310.0M795.0 118.8H1310.0" stroke="#aaaaaa" stroke-width="2.7" stroke-dasharray="2.7 3.35" stroke-dashoffset="0.8" fill="none"/>
<path d="M795.0 352.5v-6M795.0 92.8v6M886.5 352.5v-6M886.5 92.8v6M978.0 352.5v-6M978.0 92.8v6M1069.5 352.5v-6M1069.5 92.8v6M1161.0 352.5v-6M1161.0 92.8v6M1252.5 352.5v-6M1252.5 92.8v6M795.0 352.5h6M1310.0 352.5h-6M795.0 222.7h6M1310.0 222.7h-6M795.0 92.8h6M1310.0 92.8h-6" stroke="#111" stroke-width="2.6" fill="none"/>
<rect x="795.0" y="92.8" width="515.0" height="259.7" fill="none" stroke="#111" stroke-width="2.6"/>
<path d="M805 149h0m0 7h0m0 3h0m0 1h0m0 9h0m0 2h0m0 6h0m0 1h0m0 2h0m0 1h0m0 1h0m0 2h0m1-19h0m0 3h0m0 5h0m0 1h0m0 1h0m0 10h0m0 11h0m1-10h0m0 8h0m0 1h0m1-30h0m0 23h0m0 7h0m1-53h0m0 48h0m0 1h0m2 17h0m1-57h0m0 43h0m1-54h0m0 17h0m2-12h0m0 58h0m1-50h0m0 44h0m1 2h0m2-39h0m1-19h0m0 9h0m0 47h0m0 16h0m1-16h0m1-22h0m1 37h0m1-16h0m1-67h0m0 17h0m0 12h0m1-8h0m1 2h0m1 48h0m2-70h0m1 25h0m1-11h0m0 15h0m0 46h0m1-17h0m0 7h0m1 11h0m1-53h0m0 10h0m1 40h0m3-54h0m1 10h0m1-9h0m0 1h0m0 46h0m0 6h0m1 4h0m1 6h0m3-61h0m1 4h0m0 42h0m1-34h0m0 43h0m1-69h0m2 17h0m1-19h0m0 15h0m0 27h0m0 18h0m0 9h0m2-62h0m0 1h0m1 3h0m0 20h0m2-19h0m1 9h0m0 41h0m1-27h0m0 28h0m1-5h0m1-14h0m1-32h0m0 17h0m0 35h0m1-59h0m0 11h0m1 36h0m0 12h0m0 22h0m2-41h0m1 15h0m1-38h0m1-13h0m0 58h0m1-49h0m2-8h0m0 57h0m2-55h0m1 12h0m0 39h0m1-5h0m0 2h0m0 7h0m2-47h0m2-9h0m2 19h0m1 28h0m1-45h0m1 8h0m0 37h0m2-44h0m0 44h0m1-59h0m1 66h0m1-51h0m0 48h0m2-23h0m1-17h0m0 48h0m1-53h0m2-8h0m0 47h0m1 10h0m2-49h0m0 11h0m1-18h0m1 53h0m1-51h0m0 31h0m3-46h0m0 10h0m0 14h0m0 34h0m0 9h0m2-55h0m0 59h0m0 1h0m2-55h0m0 13h0m3-12h0m0 3h0m0 44h0m2-47h0m1-1h0m0 5h0m2 42h0m2 2h0m0 9h0m2-59h0m0 11h0m0 6h0m0 24h0m1-44h0m0 2h0m0 7h0m0 47h0m2 1h0m2-60h0m0 15h0m0 36h0m2-50h0m0 5h0m1 54h0m1-1h0m1 12h0m1-53h0m1-6h0m1-14h0m0 32h0m0 24h0m1-52h0m0 52h0m2-45h0m2 5h0m0 42h0m2-3h0m2-51h0m0 46h0m1-38h0m0 6h0m0 37h0m0 11h0m5-62h0m0 18h0m0 11h0m0 24h0m2 3h0m1-49h0m1 4h0m0 39h0m0 7h0m0 4h0m2-64h0m1 9h0m0 41h0m4 23h0m1-72h0m0 15h0m0 39h0m1-14h0m0 16h0m1-49h0m0 28h0m0 23h0m0 1h0m1-45h0m1-7h0m0 16h0m1-32h0m2 56h0m1 8h0m1-54h0m0 59h0m2-51h0m0 7h0m3-16h0m0 59h0m1-53h0m2 47h0m1-53h0m1 11h0m0 20h0m2-16h0m0 42h0m0 5h0m1-57h0m1-3h0m2 3h0m0 46h0m4-48h0m0 59h0m1-61h0m0 11h0m0 8h0m0 36h0m3-1h0m2-47h0m1 54h0m1-45h0m2 33h0m1-41h0m1 9h0m0 32h0m0 9h0m2-16h0m1 16h0m2-56h0m0 11h0m0 36h0m3-42h0m0 10h0m0 33h0m1-46h0m0 57h0m2-63h0m0 56h0m3-40h0m0 33h0m0 13h0m1-51h0m1-10h0m0 9h0m1 52h0m1-9h0m1-46h0m0 8h0m3 9h0m0 12h0m1 36h0m1-63h0m0 50h0m0 7h0m2 5h0m2-75h0m0 5h0m0 52h0m0 7h0m1-45h0m2 0h0m1-8h0m0 1h0m2 55h0m0 5h0m1-78h0m0 20h0m1 14h0m0 38h0m1-8h0m2-36h0m1-9h0m2 6h0m1-4h0m0 13h0m0 39h0m1-10h0m2-48h0m0 49h0m1 1h0m1 4h0m1 19h0m1-61h0m1-8h0m0 33h0m1 20h0m2-9h0m0 9h0m0 1h0m1-52h0m1-3h0m0 51h0m0 2h0m2-59h0m0 3h0m0 50h0m1-1h0m1-35h0m0 14h0m0 40h0m1-70h0m0 51h0m0 17h0m2-61h0m0 6h0m1-13h0m0 52h0m2-51h0m0 59h0m1-6h0m0 10h0m3-60h0m1 7h0m0 53h0m1-79h0m0 11h0m1 56h0m0 7h0m2-41h0m1-12h0m2 4h0m0 39h0m0 9h0m1-69h0m1 11h0m1-10h0m1 13h0m0 59h0m1-55h0m0 50h0m1-42h0m0 35h0m1-52h0m0 46h0m2 15h0m2-60h0m0 56h0m1-46h0m0 3h0m1-12h0m0 20h0m1-13h0m0 52h0m1-66h0m2 62h0m1-63h0m0 14h0m0 48h0m0 1h0m1-37h0m3-16h0m1 31h0m1-22h0m1 12h0m1-33h0m0 60h0m1-47h0m0 17h0m0 34h0m0 4h0m1-56h0m1 49h0m1 21h0m1-73h0m1 5h0m0 6h0m0 48h0m1-65h0m2 5h0m0 37h0m1 22h0m1-4h0m0 10h0m1-51h0m0 32h0m1-41h0m4 6h0m0 10h0m0 32h0m3-48h0m0 7h0m0 8h0m0 35h0m2-54h0m0 50h0m1 8h0m1 0h0m1-56h0m2 13h0m1-6h0m0 41h0m1 11h0m2-5h0m1-54h0m2 1h0m0 7h0m2 35h0m1-41h0m0 49h0m0 14h0m4-68h0m0 14h0m1-8h0m0 22h0m2 27h0m1-6h0m0 8h0m2-48h0m1-9h0m0 17h0m1 38h0m2-39h0m1-14h0m0 47h0m1-39h0m2 47h0m1 1h0m1-56h0m0 60h0m2-52h0m0 38h0m0 7h0m1-49h0m0 12h0m1 42h0m2-42h0m3 32h0m1-48h0m0 8h0m0 1h0m1 47h0m2-63h0m1 8h0m0 8h0m0 7h0m0 9h0m3-25h0m0 48h0m0 13h0m0 3h0m2-12h0m1-44h0m0 53h0m1-47h0m0 11h0m2-31h0m0 56h0m1 9h0m1-54h0m1-4h0m0 10h0m3-17h0m0 20h0m0 39h0m0 8h0m1-2h0m1-71h0m0 13h0m2 12h0m0 30h0m0 14h0m1-69h0m0 17h0m1-7h0m0 17h0m1-20h0m0 51h0m0 6h0m2-47h0m2-9h0m0 23h0m1-9h0m1 40h0m0 10h0m3-58h0m0 13h0m1 50h0m1-12h0m0 1h0m1-40h0m1-9h0m0 50h0m1-50h0m0 51h0m2-68h0m0 25h0m0 25h0m2 14h0m1-45h0m2 0h0m0 39h0m0 12h0m2-54h0m1-3h0m0 56h0m2-54h0m0 15h0m0 38h0m1-45h0m1-16h0m0 55h0m3-57h0m0 12h0m1 23h0m1 23h0m1 10h0m1-61h0m0 13h0m0 47h0m0 6h0m2-62h0m0 1h0m2 1h0m0 44h0m1-55h0m0 61h0m1-49h0m1 9h0m2-11h0m1 14h0m0 47h0m1-64h0m0 52h0m2-41h0m0 32h0m0 10h0m0 21h0m1-86h0m0 65h0m1-2h0m1-50h0m0 33h0m1-29h0m2 10h0m1-9h0m0 38h0m0 12h0m1-50h0m3 0h0m0 7h0m0 37h0m1-57h0m0 50h0m2 8h0m0 9h0m1-55h0m2-19h0m0 48h0m1-29h0m0 6h0m0 43h0m1-50h0m1-10h0m0 11h0m1 47h0m2-8h0m0 20h0m0 1h0m1-70h0m0 10h0m1-9h0m0 8h0m1 54h0m2-43h0m0 37h0m1-48h0m1-3h0m0 40h0m0 19h0m1-11h0m0 8h0m2-57h0m2 11h0m0 56h0m1-65h0m1 33h0m0 21h0m2-8h0m1-35h0m1 39h0m1-46h0m1-5h0m0 79h0m1-37h0m1-35h0m1 38h0m2-44h0m0 14h0m0 38h0m0 5h0m2 0h0m2-51h0m2 43h0m1-40h0m0 35h0m0 11h0m1-57h0m3 4h0m0 55h0m2-32h0m0 1h0m0 17h0m0 7h0m1-48h0m0 2h0m0 1h0m0 3h0m0 1h0m0 3h0m0 1h0m0 2h0m0 3h0m0 3h0m0 1h0m0 7h0m0 2h0m0 8h0m0 1h0m0 1h0m0 8h0m0 13h0m1-42h0m0 12h0m0 3h0" stroke="#0000ff" stroke-width="10.2" stroke-linecap="round" fill="none"/>
<path d="M1061.5 159H1062.5V158H1063.5V157H1064.5V156H1066.5V155H1068.5V157H1070.5V161H1074.5V157H1075.5V167H1079.5V166H1080.5V165H1082.5V163H1087.5V166H1090.5V164H1092.5V162H1093.5V161H1094.5V158H1095.5V163H1096.5V164H1100.5V172H1103.5V178H1107.5V165H1108.5V157H1111.5V160H1116.5V157H1118.5V161H1119.5V162H1120.5V163H1121.5V164H1126.5V167H1130.5V161H1131.5V160H1132.5V159H1133.5V161H1134.5V162H1139.5V159H1141.5V161H1143.5V177H1147.5V159H1148.5V156H1149.5V162H1154.5V161H1158.5V162H1159.5V163H1160.5V164H1164.5V160H1165.5V161H1166.5V162H1168.5V165H1172.5V175H1176.5V164H1181.5V163H1182.5V162H1183.5V161H1185.5V160H1186.5V170H1189.5V164H1191.5V161H1192.5V164H1195.5V155H1196.5V158H1197.5V162H1200.5V163H1204.5V162H1205.5V161H1206.5V162H1207.5V164H1216.5V163H1217.5V162H1218.5V161H1220.5V158H1222.5V164H1225.5V174H1229.5V163H1232.5V176H1236.5V175H1237.5V163H1239.5V160H1242.5V161H1245.5V166H1246.5V167H1250.5V166H1254.5V162H1262.5V159H1265.5V162H1270.5V158H1271.5V162H1275.5V161H1278.5V156H1280.5V157H1281.5V158H1282.5V161H1283.5V162H1287.5V161H1289.5V162H1294.5V163H1298.5V160H1301.5V161H1305.5V162H1308.5V177H1306.5V192H1304.5V196H1302.5V191H1298.5V192H1295.5V193H1294.5V195H1293.5V193H1292.5V187H1287.5V188H1286.5V189H1285.5V190H1283.5V184H1278.5V183H1274.5V192H1270.5V195H1267.5V178H1263.5V182H1259.5V189H1255.5V190H1254.5V191H1253.5V190H1251.5V180H1248.5V192H1244.5V193H1241.5V195H1240.5V193H1236.5V195H1235.5V190H1231.5V194H1229.5V190H1226.5V198H1225.5V191H1224.5V190H1221.5V191H1220.5V192H1218.5V184H1214.5V193H1213.5V192H1209.5V193H1208.5V192H1204.5V191H1202.5V188H1198.5V189H1196.5V194H1195.5V185H1192.5V193H1191.5V192H1187.5V196H1182.5V197H1181.5V194H1180.5V193H1178.5V192H1177.5V191H1176.5V188H1172.5V193H1171.5V188H1167.5V189H1166.5V190H1165.5V194H1164.5V187H1160.5V188H1159.5V193H1158.5V186H1154.5V194H1151.5V188H1147.5V189H1146.5V196H1143.5V197H1142.5V188H1138.5V189H1137.5V188H1134.5V192H1133.5V194H1132.5V193H1130.5V192H1129.5V191H1126.5V190H1122.5V194H1121.5V190H1116.5V183H1113.5V177H1110.5V191H1107.5V180H1103.5V193H1100.5V195H1094.5V194H1092.5V189H1086.5V192H1085.5V191H1081.5V192H1080.5V195H1075.5V196H1074.5V197H1073.5V193H1066.5V194H1064.5V195H1062.5V177H1061.5Z" fill="#ffa526"/>
<path d="M805 159h0m0 8h0m0 3h0m0 3h0m0 1h0m0 1h0m0 1h0m0 5h0m0 2h0m0 3h0m0 5h0m0 1h0m1-31h0m0 4h0m0 4h0m0 1h0m0 1h0m0 6h0m0 7h0m0 2h0m0 1h0m0 1h0m0 3h0m0 5h0m1-32h0m0 1h0m0 10h0m0 4h0m0 4h0m0 4h0m0 3h0m0 3h0m1-32h0m0 6h0m0 3h0m0 3h0m0 4h0m0 4h0m0 7h0m0 4h0m0 7h0m1-40h0m0 12h0m0 8h0m0 6h0m0 4h0m0 4h0m1-30h0m0 2h0m0 4h0m0 6h0m0 7h0m0 10h0m0 4h0m1-31h0m0 1h0m0 7h0m0 4h0m0 2h0m0 5h0m0 2h0m0 4h0m0 1h0m0 1h0m0 14h0m1-48h0m0 2h0m0 1h0m0 10h0m0 11h0m0 6h0m0 1h0m0 1h0m0 5h0m0 1h0m1-41h0m0 3h0m0 4h0m0 6h0m0 3h0m0 4h0m0 3h0m0 1h0m0 6h0m1-28h0m0 2h0m0 3h0m0 3h0m0 1h0m0 1h0m0 3h0m0 4h0m0 7h0m0 3h0m0 4h0m0 2h0m0 6h0m1-42h0m0 10h0m0 8h0m0 4h0m0 15h0m0 12h0m1-43h0m0 3h0m0 6h0m0 5h0m0 4h0m0 1h0m0 3h0m0 4h0m0 3h0m0 9h0m1-42h0m0 3h0m0 1h0m0 6h0m0 9h0m0 9h0m0 4h0m0 5h0m0 5h0m1-38h0m0 5h0m0 6h0m0 2h0m0 6h0m0 2h0m0 5h0m0 4h0m0 3h0m0 1h0m0 1h0m1-37h0m0 1h0m0 3h0m0 6h0m0 5h0m0 4h0m0 7h0m0 6h0m0 4h0m0 5h0m1-42h0m0 1h0m0 5h0m0 2h0m0 6h0m0 1h0m0 2h0m0 6h0m0 3h0m0 4h0m0 4h0m0 1h0m0 2h0m0 4h0m0 15h0m1-59h0m0 4h0m0 5h0m0 7h0m0 1h0m0 4h0m0 1h0m0 3h0m0 4h0m0 1h0m0 6h0m0 1h0m0 4h0m0 2h0m1-38h0m0 2h0m0 5h0m0 1h0m0 16h0m0 5h0m1-25h0m0 7h0m0 5h0m0 2h0m0 4h0m0 5h0m0 5h0m0 19h0m1-57h0m0 3h0m0 13h0m0 1h0m0 1h0m0 2h0m0 1h0m0 4h0m0 11h0m0 4h0m0 1h0m0 1h0m1-36h0m0 1h0m0 1h0m0 3h0m0 1h0m0 2h0m0 15h0m0 2h0m0 5h0m0 7h0m0 1h0m1-26h0m0 5h0m0 3h0m0 1h0m0 2h0m0 5h0m0 5h0m0 1h0m0 1h0m1-32h0m0 7h0m0 4h0m0 11h0m0 3h0m0 1h0m0 2h0m1-29h0m0 2h0m0 1h0m0 2h0m0 5h0m0 6h0m0 3h0m0 5h0m0 8h0m0 6h0m1-27h0m0 3h0m0 3h0m0 1h0m0 4h0m0 1h0m0 14h0m1-34h0m0 4h0m0 1h0m0 16h0m0 3h0m0 1h0m0 2h0m0 3h0m0 1h0m0 3h0m1-37h0m0 4h0m0 7h0m0 2h0m0 2h0m0 5h0m0 3h0m0 3h0m0 6h0m1-35h0m0 4h0m0 1h0m0 1h0m0 5h0m0 3h0m0 7h0m0 3h0m0 6h0m0 3h0m0 11h0m1-35h0m0 4h0m0 4h0m0 4h0m0 7h0m0 4h0m0 3h0m0 9h0m1-36h0m0 11h0m0 7h0m0 4h0m0 5h0m0 14h0m1-42h0m0 4h0m0 4h0m0 3h0m0 1h0m0 2h0m0 2h0m0 9h0m1-27h0m0 2h0m0 5h0m0 14h0m0 1h0m0 2h0m0 16h0m1-40h0m0 1h0m0 3h0m0 2h0m0 3h0m0 2h0m0 6h0m0 2h0m0 7h0m0 3h0m0 1h0m0 2h0m1-29h0m0 10h0m0 2h0m0 3h0m0 5h0m0 5h0m1-27h0m0 6h0m0 13h0m0 5h0m0 4h0m1-28h0m0 1h0m0 3h0m0 5h0m0 1h0m0 2h0m0 4h0m0 6h0m0 5h0m0 1h0m1-33h0m0 3h0m0 10h0m0 7h0m0 10h0m0 4h0m0 3h0m0 7h0m1-41h0m0 2h0m0 2h0m0 4h0m0 2h0m0 10h0m0 2h0m0 22h0m1-44h0m0 5h0m0 1h0m0 7h0m0 2h0m0 10h0m0 4h0m0 4h0m0 19h0m1-51h0m0 1h0m0 7h0m0 9h0m0 9h0m0 3h0m1-31h0m0 9h0m0 3h0m0 3h0m0 3h0m0 4h0m0 2h0m0 5h0m0 2h0m0 3h0m1-36h0m0 1h0m0 1h0m0 5h0m0 1h0m0 7h0m0 7h0m0 7h0m0 6h0m1-33h0m0 5h0m0 5h0m0 2h0m0 4h0m0 3h0m0 4h0m0 3h0m0 9h0m1-33h0m0 1h0m0 5h0m0 7h0m0 5h0m0 4h0m0 4h0m0 1h0m0 1h0m0 2h0m0 1h0m0 14h0m1-51h0m0 5h0m0 1h0m0 3h0m0 4h0m0 8h0m0 5h0m0 13h0m1-24h0m0 1h0m0 1h0m0 1h0m0 4h0m0 3h0m0 5h0m1-24h0m0 1h0m0 4h0m0 4h0m0 4h0m0 8h0m0 6h0m0 1h0m0 6h0m0 1h0m0 1h0m1-41h0m0 2h0m0 2h0m0 3h0m0 1h0m0 5h0m0 7h0m0 1h0m0 1h0m0 11h0m0 3h0m0 3h0m0 9h0m1-46h0m0 1h0m0 5h0m0 16h0m0 4h0m0 2h0m0 4h0m1-44h0m0 8h0m0 5h0m0 5h0m0 3h0m0 3h0m0 1h0m0 2h0m0 1h0m0 8h0m0 7h0m0 5h0m1-42h0m0 4h0m0 5h0m0 2h0m0 3h0m0 6h0m0 4h0m0 2h0m0 11h0m1-20h0m0 2h0m0 1h0m0 1h0m0 1h0m0 3h0m0 3h0m0 1h0m0 2h0m0 2h0m0 2h0m1-31h0m0 1h0m0 2h0m0 3h0m0 2h0m0 7h0m0 5h0m0 7h0m0 13h0m1-32h0m0 3h0m0 8h0m0 2h0m0 8h0m0 4h0m0 1h0m0 8h0m1-42h0m0 2h0m0 2h0m0 6h0m0 3h0m0 1h0m0 1h0m0 3h0m0 2h0m0 12h0m0 9h0m1-35h0m0 2h0m0 4h0m0 3h0m0 1h0m0 1h0m0 6h0m0 2h0m0 2h0m0 1h0m0 2h0m0 2h0m0 7h0m1-39h0m0 5h0m0 14h0m0 4h0m0 1h0m0 2h0m0 1h0m0 4h0m0 1h0m1-33h0m0 2h0m0 3h0m0 6h0m0 1h0m0 1h0m0 3h0m0 7h0m0 4h0m0 7h0m0 3h0m0 9h0m1-44h0m0 1h0m0 2h0m0 3h0m0 1h0m0 3h0m0 2h0m0 4h0m0 3h0m0 3h0m0 7h0m0 7h0m0 4h0m1-42h0m0 13h0m0 3h0m0 10h0m0 3h0m0 1h0m0 2h0m0 3h0m0 3h0m0 4h0m0 23h0m1-61h0m0 2h0m0 3h0m0 4h0m0 7h0m0 2h0m0 5h0m0 10h0m1-35h0m0 9h0m0 5h0m0 1h0m0 7h0m0 3h0m0 3h0m0 3h0m1-28h0m0 2h0m0 2h0m0 2h0m0 6h0m0 1h0m0 5h0m0 6h0m0 7h0m0 3h0m1-40h0m0 6h0m0 9h0m0 7h0m0 2h0m0 4h0m0 5h0m0 2h0m0 5h0m1-35h0m0 7h0m0 4h0m0 5h0m0 2h0m0 6h0m0 2h0m0 7h0m0 10h0m1-44h0m0 1h0m0 2h0m0 2h0m0 10h0m0 11h0m0 5h0m1-32h0m0 11h0m0 1h0m0 3h0m0 5h0m0 1h0m0 1h0m0 1h0m0 1h0m0 1h0m0 5h0m0 4h0m1-29h0m0 3h0m0 10h0m0 7h0m0 10h0m0 2h0m0 6h0m0 2h0m1-42h0m0 3h0m0 3h0m0 5h0m0 1h0m0 4h0m0 3h0m0 6h0m0 3h0m0 1h0m1-33h0m0 5h0m0 7h0m0 6h0m0 5h0m0 3h0m0 1h0m0 4h0m1-26h0m0 3h0m0 3h0m0 3h0m0 9h0m0 19h0m1-38h0m0 2h0m0 11h0m0 2h0m0 2h0m0 8h0m0 6h0m0 7h0m0 2h0m1-40h0m0 1h0m0 2h0m0 2h0m0 4h0m0 2h0m0 6h0m0 3h0m0 1h0m0 1h0m0 6h0m1-29h0m0 5h0m0 2h0m0 8h0m0 10h0m0 1h0m0 5h0m1-30h0m0 8h0m0 3h0m0 6h0m0 1h0m0 11h0m1-28h0m0 3h0m0 2h0m0 7h0m0 8h0m0 1h0m0 5h0m1-28h0m0 1h0m0 4h0m0 6h0m0 5h0m0 9h0m0 6h0m0 1h0m1-30h0m0 6h0m0 6h0m0 1h0m0 4h0m0 1h0m0 3h0m0 3h0m0 4h0m1-27h0m0 2h0m0 19h0m0 4h0m0 5h0m1-31h0m0 3h0m0 5h0m0 2h0m0 5h0m0 5h0m0 8h0m1-28h0m0 5h0m0 8h0m0 4h0m0 7h0m0 2h0m0 4h0m1-30h0m0 9h0m0 3h0m0 1h0m0 1h0m0 1h0m0 6h0m0 4h0m0 1h0m1-28h0m0 4h0m0 2h0m0 3h0m0 7h0m0 5h0m0 12h0m1-36h0m0 3h0m0 11h0m0 1h0m0 7h0m0 6h0m0 5h0m0 1h0m1-30h0m0 1h0m0 2h0m0 2h0m0 2h0m0 5h0m0 4h0m0 6h0m0 4h0m0 13h0m1-40h0m0 11h0m0 2h0m0 1h0m0 2h0m0 2h0m0 3h0m0 7h0m0 9h0m1-36h0m0 1h0m0 5h0m0 2h0m0 6h0m0 9h0m0 2h0m0 5h0m0 1h0m0 2h0m0 2h0m1-36h0m0 5h0m0 6h0m0 5h0m0 3h0m0 4h0m0 2h0m0 5h0m1-31h0m0 1h0m0 7h0m0 7h0m0 7h0m0 6h0m0 3h0m0 10h0m0 5h0m1-50h0m0 5h0m0 3h0m0 3h0m0 4h0m0 7h0m0 3h0m0 3h0m0 10h0m0 3h0m0 1h0m1-39h0m0 3h0m0 2h0m0 5h0m0 4h0m0 9h0m0 5h0m0 3h0m0 5h0m0 2h0m0 2h0m1-45h0m0 4h0m0 12h0m0 1h0m0 5h0m0 2h0m0 2h0m0 5h0m0 7h0m1-29h0m0 1h0m0 2h0m0 2h0m0 7h0m0 3h0m0 4h0m0 6h0m0 4h0m0 7h0m0 1h0m0 2h0m1-43h0m0 1h0m0 1h0m0 7h0m0 5h0m0 1h0m0 5h0m0 1h0m0 4h0m0 2h0m0 5h0m1-37h0m0 12h0m0 5h0m0 7h0m0 11h0m0 3h0m0 1h0m0 2h0m1-42h0m0 9h0m0 2h0m0 1h0m0 3h0m0 5h0m0 2h0m0 1h0m0 1h0m0 5h0m0 5h0m0 4h0m0 1h0m0 1h0m1-36h0m0 1h0m0 22h0m0 5h0m0 4h0m0 1h0m0 7h0m1-41h0m0 3h0m0 5h0m0 3h0m0 3h0m0 2h0m0 3h0m0 9h0m0 5h0m0 6h0m0 3h0m1-36h0m0 5h0m0 6h0m0 5h0m0 4h0m0 5h0m0 8h0m0 3h0m1-39h0m0 5h0m0 13h0m0 4h0m0 4h0m0 7h0m0 4h0m1-40h0m0 5h0m0 6h0m0 2h0m0 2h0m0 2h0m0 1h0m0 14h0m0 1h0m0 2h0m0 3h0m0 1h0m0 4h0m0 2h0m1-39h0m0 17h0m0 4h0m0 2h0m0 6h0m0 1h0m1-34h0m0 2h0m0 2h0m0 3h0m0 2h0m0 7h0m0 2h0m0 4h0m0 7h0m0 9h0m0 1h0m0 7h0m0 1h0m1-48h0m0 12h0m0 1h0m0 2h0m0 7h0m0 4h0m0 3h0m0 3h0m0 3h0m1-32h0m0 3h0m0 13h0m0 8h0m0 8h0m0 1h0m1-27h0m0 1h0m0 3h0m0 2h0m0 1h0m0 8h0m0 6h0m0 2h0m1-27h0m0 3h0m0 13h0m0 3h0m0 3h0m0 7h0m0 3h0m1-35h0m0 1h0m0 1h0m0 7h0m0 2h0m0 5h0m0 5h0m0 4h0m0 2h0m0 8h0m0 1h0m1-31h0m0 9h0m0 3h0m0 5h0m0 4h0m0 3h0m0 1h0m0 3h0m1-29h0m0 3h0m0 4h0m0 3h0m0 2h0m0 3h0m0 2h0m0 8h0m0 3h0m0 1h0m1-34h0m0 2h0m0 4h0m0 4h0m0 2h0m0 13h0m0 5h0m1-25h0m0 2h0m0 8h0m0 3h0m0 5h0m0 5h0m0 5h0m1-31h0m0 6h0m0 2h0m0 2h0m0 9h0m0 1h0m0 4h0m0 5h0m0 4h0m0 4h0m1-24h0m0 1h0m0 3h0m0 9h0m0 8h0m1-36h0m0 8h0m0 5h0m0 11h0m0 1h0m0 8h0m0 16h0m1-46h0m0 2h0m0 2h0m0 4h0m0 7h0m0 2h0m0 2h0m0 3h0m0 3h0m0 2h0m1-26h0m0 2h0m0 2h0m0 4h0m0 3h0m0 4h0m0 5h0m0 10h0m1-38h0m0 6h0m0 8h0m0 7h0m0 4h0m0 6h0m0 1h0m0 4h0m0 11h0m1-43h0m0 4h0m0 9h0m0 3h0m0 6h0m0 4h0m0 5h0m0 13h0m1-37h0m0 1h0m0 6h0m0 5h0m0 4h0m0 1h0m0 6h0m0 14h0m1-40h0m0 7h0m0 5h0m0 3h0m0 8h0m0 6h0m1-33h0m0 2h0m0 2h0m0 5h0m0 4h0m0 8h0m0 9h0m0 3h0m0 2h0m1-29h0m0 5h0m0 4h0m0 2h0m0 4h0m0 2h0m0 2h0m0 2h0m0 6h0m0 1h0m0 1h0m0 2h0m1-33h0m0 3h0m0 5h0m0 6h0m0 13h0m0 2h0m1-36h0m0 8h0m0 5h0m0 2h0m0 3h0m0 6h0m0 8h0m0 3h0m0 13h0m1-40h0m0 8h0m0 5h0m0 6h0m0 2h0m0 7h0m0 12h0m1-37h0m0 2h0m0 4h0m0 7h0m0 7h0m0 3h0m0 6h0m0 18h0m1-49h0m0 4h0m0 6h0m0 8h0m0 11h0m0 2h0m0 2h0m1-36h0m0 3h0m0 3h0m0 1h0m0 1h0m0 2h0m0 1h0m0 5h0m0 2h0m0 2h0m0 3h0m0 4h0m0 3h0m0 2h0m1-33h0m0 2h0m0 8h0m0 7h0m0 6h0m0 4h0m0 1h0m0 1h0m0 8h0m1-43h0m0 5h0m0 5h0m0 2h0m0 7h0m0 2h0m0 5h0m0 15h0m0 1h0m1-35h0m0 7h0m0 9h0m0 8h0m0 6h0m0 1h0m0 3h0m1-34h0m0 3h0m0 1h0m0 6h0m0 3h0m0 6h0m0 2h0m0 5h0m0 2h0m0 6h0m1-33h0m0 16h0m0 3h0m0 10h0m0 4h0m1-28h0m0 2h0m0 4h0m0 3h0m0 3h0m0 5h0m0 1h0m0 3h0m0 5h0m0 1h0m0 2h0m0 1h0m1-44h0m0 6h0m0 1h0m0 4h0m0 6h0m0 4h0m0 23h0m1-38h0m0 4h0m0 6h0m0 9h0m0 3h0m0 1h0m0 3h0m0 1h0m0 1h0m0 2h0m0 1h0m0 1h0m0 2h0m1-39h0m0 2h0m0 1h0m0 1h0m0 2h0m0 6h0m0 6h0m0 4h0m0 9h0m0 8h0m1-33h0m0 1h0m0 3h0m0 5h0m0 1h0m0 4h0m0 5h0m0 3h0m0 2h0m0 12h0m0 1h0m0 1h0m1-31h0m0 7h0m0 11h0m0 3h0m0 1h0m0 2h0m0 2h0m0 14h0m1-46h0m0 1h0m0 4h0m0 6h0m0 5h0m0 4h0m0 2h0m0 2h0m0 2h0m0 1h0m0 6h0m0 3h0m1-42h0m0 2h0m0 7h0m0 4h0m0 2h0m0 3h0m0 6h0m0 12h0m0 4h0m1-36h0m0 1h0m0 15h0m0 6h0m0 4h0m0 2h0m0 8h0m1-40h0m0 2h0m0 3h0m0 1h0m0 2h0m0 3h0m0 6h0m0 1h0m0 5h0m0 5h0m0 6h0m0 2h0m0 1h0m1-32h0m0 2h0m0 5h0m0 2h0m0 2h0m0 1h0m0 13h0m0 9h0m0 2h0m0 2h0m1-35h0m0 1h0m0 4h0m0 4h0m0 1h0m0 2h0m0 1h0m0 3h0m0 1h0m0 2h0m0 5h0m0 3h0m0 2h0m0 3h0m1-27h0m0 13h0m0 6h0m0 10h0m0 5h0m1-38h0m0 1h0m0 1h0m0 7h0m0 2h0m0 2h0m0 7h0m0 5h0m0 5h0m1-29h0m0 1h0m0 3h0m0 4h0m0 7h0m0 2h0m0 5h0m0 4h0m0 11h0m0 3h0m1-45h0m0 5h0m0 5h0m0 3h0m0 4h0m0 8h0m0 9h0m0 2h0m1-34h0m0 3h0m0 3h0m0 1h0m0 6h0m0 7h0m0 7h0m0 3h0m1-32h0m0 12h0m0 7h0m0 6h0m0 1h0m0 5h0m1-28h0m0 3h0m0 5h0m0 3h0m0 3h0m0 3h0m0 3h0m0 5h0m0 8h0m0 1h0m1-35h0m0 2h0m0 5h0m0 4h0m0 4h0m0 13h0m0 4h0m1-26h0m0 8h0m0 5h0m0 3h0m0 2h0m0 7h0m1-33h0m0 6h0m0 4h0m0 1h0m0 8h0m0 2h0m0 7h0m0 4h0m0 21h0m1-52h0m0 2h0m0 11h0m0 4h0m0 8h0m0 5h0m0 2h0m0 1h0m0 6h0m1-40h0m0 8h0m0 4h0m0 4h0m0 7h0m0 4h0m0 2h0m0 3h0m0 3h0m0 4h0m1-34h0m0 5h0m0 5h0m0 1h0m0 1h0m0 1h0m0 2h0m0 5h0m0 3h0m0 2h0m0 4h0m0 9h0m1-42h0m0 3h0m0 14h0m0 5h0m0 11h0m1-34h0m0 4h0m0 3h0m0 2h0m0 3h0m0 1h0m0 6h0m0 6h0m0 6h0m0 5h0m1-42h0m0 13h0m0 8h0m0 6h0m0 7h0m0 3h0m1-29h0m0 9h0m0 1h0m0 4h0m0 1h0m0 6h0m0 4h0m0 4h0m0 1h0m0 2h0m1-33h0m0 4h0m0 3h0m0 7h0m0 4h0m0 4h0m0 3h0m0 3h0m1-26h0m0 10h0m0 9h0m0 6h0m0 4h0m0 8h0m1-41h0m0 1h0m0 1h0m0 6h0m0 3h0m0 7h0m0 2h0m0 2h0m0 4h0m0 4h0m0 10h0m0 4h0m1-42h0m0 4h0m0 5h0m0 4h0m0 3h0m0 9h0m0 6h0m1-29h0m0 4h0m0 3h0m0 2h0m0 2h0m0 4h0m0 5h0m0 6h0m0 5h0m0 1h0m1-32h0m0 2h0m0 2h0m0 6h0m0 7h0m0 6h0m0 5h0m1-28h0m0 13h0m0 7h0m0 5h0m1-32h0m0 1h0m0 2h0m0 4h0m0 6h0m0 2h0m0 3h0m0 4h0m0 2h0m0 5h0m0 6h0m0 1h0m0 1h0m0 1h0m0 4h0m0 5h0m1-45h0m0 1h0m0 1h0m0 6h0m0 3h0m0 3h0m0 4h0m0 7h0m0 5h0m0 3h0m1-28h0m0 4h0m0 10h0m0 3h0m0 3h0m0 2h0m0 5h0m0 6h0m1-32h0m0 7h0m0 3h0m0 1h0m0 13h0m0 1h0m0 7h0m0 4h0m1-45h0m0 6h0m0 1h0m0 7h0m0 7h0m0 3h0m0 3h0m0 3h0m0 6h0m0 7h0m1-39h0m0 1h0m0 6h0m0 2h0m0 4h0m0 7h0m0 8h0m1-31h0m0 8h0m0 9h0m0 8h0m0 2h0m0 7h0m0 1h0m1-30h0m0 2h0m0 4h0m0 2h0m0 1h0m0 3h0m0 1h0m0 1h0m0 2h0m0 1h0m0 7h0m0 2h0m0 5h0m0 1h0m0 1h0m0 1h0m0 3h0m0 6h0m1-43h0m0 4h0m0 8h0m0 4h0m0 4h0m0 2h0m0 7h0m0 1h0m0 4h0m1-31h0m0 3h0m0 3h0m0 15h0m0 2h0m0 9h0m1-35h0m0 4h0m0 10h0m0 1h0m0 3h0m0 2h0m0 6h0m0 6h0m0 1h0m0 4h0m1-44h0m0 4h0m0 1h0m0 4h0m0 5h0m0 4h0m0 11h0m0 2h0m0 4h0m0 1h0m0 4h0m0 3h0m1-27h0m0 5h0m0 2h0m0 14h0m1-33h0m0 3h0m0 3h0m0 2h0m0 2h0m0 4h0m0 5h0m0 3h0m0 1h0m0 6h0m0 1h0m1-30h0m0 3h0m0 9h0m0 6h0m0 8h0m0 7h0m0 1h0m0 2h0m1-35h0m0 6h0m0 3h0m0 4h0m0 2h0m0 5h0m0 3h0m0 2h0m0 3h0m0 3h0m0 3h0m0 1h0m0 2h0m0 1h0m0 6h0m1-47h0m0 5h0m0 2h0m0 24h0m0 4h0m0 6h0m0 2h0m1-38h0m0 4h0m0 2h0m0 2h0m0 2h0m0 4h0m0 2h0m0 3h0m0 4h0m0 10h0m1-32h0m0 1h0m0 1h0m0 3h0m0 1h0m0 5h0m0 10h0m0 6h0m0 8h0m1-26h0m0 8h0m0 2h0m0 3h0m0 2h0m0 6h0m0 5h0m0 1h0m1-39h0m0 2h0m0 1h0m0 12h0m0 2h0m0 2h0m0 13h0m0 8h0m1-39h0m0 6h0m0 1h0m0 2h0m0 2h0m0 5h0m0 5h0m0 1h0m0 3h0m0 3h0m0 5h0m0 1h0m0 1h0m1-31h0m0 1h0m0 19h0m0 4h0m0 17h0m1-42h0m0 7h0m0 3h0m0 1h0m0 4h0m0 1h0m0 3h0m0 8h0m0 1h0m0 2h0m0 4h0m1-34h0m0 4h0m0 1h0m0 9h0m0 9h0m0 2h0m0 1h0m1-30h0m0 5h0m0 4h0m0 3h0m0 3h0m0 6h0m0 4h0m0 8h0m1-33h0m0 6h0m0 4h0m0 6h0m0 8h0m0 3h0m0 5h0m1-28h0m0 1h0m0 7h0m0 1h0m0 6h0m0 10h0m0 4h0m0 9h0m1-37h0m0 3h0m0 8h0m0 6h0m0 2h0m0 1h0m0 1h0m0 3h0m0 3h0m1-27h0m0 2h0m0 3h0m0 3h0m0 11h0m0 3h0m0 2h0m0 4h0m1-29h0m0 6h0m0 2h0m0 3h0m0 3h0m0 2h0m0 8h0m0 13h0m1-36h0m0 3h0m0 15h0m0 6h0m0 1h0m0 5h0m0 1h0m1-38h0m0 2h0m0 3h0m0 11h0m0 2h0m0 6h0m0 2h0m0 1h0m0 1h0m0 2h0m0 6h0m0 1h0m1-32h0m0 2h0m0 1h0m0 2h0m0 2h0m0 1h0m0 8h0m0 9h0m0 7h0m0 1h0m1-34h0m0 10h0m0 3h0m0 2h0m0 5h0m0 4h0m0 2h0m1-28h0m0 1h0m0 5h0m0 2h0m0 1h0m0 14h0m0 5h0m0 1h0m0 3h0m0 1h0m0 1h0m1-30h0m0 10h0m0 4h0m0 2h0m0 4h0m0 5h0m0 2h0m0 2h0m0 14h0m1-43h0m0 7h0m0 5h0m0 3h0m0 3h0m0 4h0m0 7h0m1-34h0m0 4h0m0 4h0m0 1h0m0 6h0m0 7h0m0 3h0m0 6h0m0 9h0m1-35h0m0 9h0m0 4h0m0 5h0m0 3h0m0 3h0m0 4h0m0 1h0m1-24h0m0 1h0m0 5h0m0 4h0m0 5h0m0 4h0m0 1h0m0 10h0m1-37h0m0 4h0m0 5h0m0 6h0m0 4h0m0 11h0m0 5h0m0 2h0m0 6h0m1-44h0m0 4h0m0 3h0m0 2h0m0 4h0m0 4h0m0 8h0m0 6h0m0 3h0m1-37h0m0 5h0m0 9h0m0 11h0m0 2h0m0 3h0m0 2h0m0 2h0m0 5h0m1-39h0m0 4h0m0 4h0m0 8h0m0 2h0m0 2h0m0 2h0m0 1h0m0 10h0m0 11h0m0 2h0m1-41h0m0 6h0m0 2h0m0 13h0m0 3h0m0 7h0m0 2h0m0 2h0m1-40h0m0 6h0m0 1h0m0 10h0m0 3h0m0 2h0m0 4h0m0 5h0m1-29h0m0 5h0m0 2h0m0 6h0m0 3h0m0 4h0m0 4h0m0 2h0m0 5h0m0 1h0m1-22h0m0 3h0m0 6h0m0 2h0m0 7h0m0 7h0m1-35h0m0 4h0m0 1h0m0 2h0m0 8h0m0 2h0m0 11h0m0 3h0m0 3h0m0 1h0m1-40h0m0 2h0m0 5h0m0 2h0m0 7h0m0 10h0m0 2h0m0 2h0m0 7h0m0 5h0m0 2h0m0 14h0m1-59h0m0 5h0m0 7h0m0 3h0m0 4h0m0 5h0m0 9h0m0 3h0m0 7h0m0 6h0m0 5h0m1-46h0m0 2h0m0 4h0m0 8h0m0 18h0m1-32h0m0 8h0m0 1h0m0 9h0m0 2h0m0 2h0m0 1h0m0 2h0m0 2h0m0 3h0m0 2h0m0 1h0m0 6h0m0 11h0m1-47h0m0 2h0m0 7h0m0 4h0m0 16h0m1-40h0m0 8h0m0 1h0m0 3h0m0 2h0m0 3h0m0 4h0m0 4h0m0 6h0m0 3h0m0 2h0m0 3h0m0 10h0m1-44h0m0 1h0m0 3h0m0 1h0m0 4h0m0 4h0m0 3h0m0 3h0m0 3h0m0 2h0m0 4h0m0 5h0m0 5h0m1-43h0m0 38h0m1-35h0m0 1h0m0 6h0m0 2h0m0 4h0m0 4h0m0 3h0m0 2h0m0 2h0m0 3h0m0 2h0m0 3h0m0 5h0m0 1h0m0 5h0m1-39h0m0 1h0m0 2h0m0 3h0m0 5h0m0 4h0m0 15h0m0 7h0m0 2h0m1-37h0m0 16h0m0 2h0m0 2h0m0 3h0m0 2h0m0 5h0m1-32h0m0 6h0m0 2h0m0 2h0m0 1h0m0 2h0m0 3h0m0 17h0m0 2h0m0 9h0m0 5h0m1-49h0m0 4h0m0 1h0m0 1h0m0 2h0m0 6h0m0 6h0m0 3h0m0 6h0m0 1h0m1-28h0m0 15h0m0 3h0m0 2h0m0 4h0m0 6h0m0 12h0m1-39h0m0 3h0m0 2h0m0 2h0m0 19h0m1-30h0m0 2h0m0 12h0m0 3h0m0 6h0m0 2h0m0 2h0m0 4h0m0 3h0m1-28h0m0 4h0m0 6h0m0 4h0m0 9h0m1-29h0m0 3h0m0 5h0m0 3h0m0 1h0m0 6h0m0 1h0m0 4h0m0 1h0m0 3h0m0 1h0m1-28h0m0 5h0m0 10h0m0 16h0m0 1h0m1-31h0m0 1h0m0 2h0m0 5h0m0 4h0m0 5h0m0 3h0m0 5h0m1-19h0m0 3h0m0 5h0m0 5h0m0 4h0m0 3h0m0 2h0m0 3h0m0 1h0m0 10h0m1-37h0m0 4h0m0 3h0m0 2h0m0 3h0m0 6h0m0 6h0m0 3h0m1-31h0m0 1h0m0 18h0m0 1h0m0 2h0m0 4h0m1-29h0m0 2h0m0 1h0m0 1h0m0 5h0m0 4h0m0 2h0m0 3h0m0 9h0m0 4h0m0 1h0m0 5h0m1-31h0m0 3h0m0 3h0m0 1h0m0 7h0m0 3h0m0 12h0m1-30h0m0 1h0m0 4h0m0 6h0m0 9h0m0 4h0m0 1h0m0 11h0m1-37h0m0 5h0m0 4h0m0 6h0m0 3h0m0 4h0m0 5h0m0 3h0m0 25h0m1-59h0m0 3h0m0 1h0m0 3h0m0 4h0m0 3h0m0 4h0m0 1h0m0 3h0m0 1h0m0 5h0m0 5h0m1-33h0m0 9h0m0 8h0m0 1h0m0 5h0m0 2h0m0 6h0m0 3h0m1-36h0m0 1h0m0 4h0m0 3h0m0 5h0m0 2h0m0 2h0m0 3h0m0 5h0m0 7h0m0 3h0m0 2h0m0 6h0m0 3h0m1-41h0m0 5h0m0 10h0m0 6h0m0 3h0m0 5h0m1-32h0m0 2h0m0 2h0m0 7h0m0 2h0m0 8h0m0 1h0m0 4h0m0 6h0m0 4h0m0 2h0m0 6h0m0 2h0m1-50h0m0 2h0m0 3h0m0 6h0m0 2h0m0 7h0m0 1h0m0 1h0m0 1h0m0 1h0m0 9h0m0 4h0m0 4h0m1-38h0m0 4h0m0 2h0m0 2h0m0 4h0m0 4h0m0 7h0m0 2h0m0 2h0m0 6h0m0 1h0m0 6h0m0 1h0m0 2h0m1-43h0m0 1h0m0 10h0m0 4h0m0 6h0m0 9h0m1-36h0m0 6h0m0 8h0m0 6h0m0 2h0m0 6h0m0 5h0m0 4h0m0 3h0m0 3h0m1-34h0m0 2h0m0 6h0m0 6h0m0 5h0m0 2h0m0 10h0m0 5h0m1-40h0m0 18h0m0 1h0m0 1h0m0 2h0m0 8h0m0 26h0m1-57h0m0 1h0m0 21h0m0 6h0m0 6h0m0 4h0m0 1h0m0 15h0m1-55h0m0 39h0m1-1h0m0 1h0m1-40h0m0 39h0m0 7h0m1-8h0m0 1h0m1-39h0m0 44h0m0 5h0m1-51h0m0 4h0m0 35h0m0 6h0m0 10h0m1-49h0m0 34h0m1-36h0m0 1h0m0 3h0m0 32h0m0 10h0m1-47h0m0 5h0m0 36h0m0 1h0m1-42h0m0 37h0m0 1h0m0 2h0m0 13h0m1-52h0m0 3h0m0 36h0m1-37h0m0 4h0m0 1h0m0 1h0m0 30h0m0 1h0m0 1h0m0 4h0m0 2h0m1-37h0m1-10h0m0 2h0m0 3h0m0 1h0m1-1h0m0 1h0m0 5h0m0 28h0m1-29h0m0 29h0m1-35h0m0 5h0m0 1h0m0 34h0m0 1h0m1-36h0m0 28h0m1-36h0m0 2h0m0 3h0m0 2h0m0 27h0m0 1h0m0 4h0m1-33h0m0 35h0m1-44h0m0 10h0m0 44h0m1-16h0m0 9h0m1-41h0m0 2h0m0 1h0m0 28h0m1-27h0m0 1h0m0 1h0m0 24h0m0 4h0m1-31h0m0 30h0m1-33h0m0 7h0m0 21h0m0 15h0m1-37h0m0 23h0m1-31h0m0 6h0m0 25h0m0 11h0m1-37h0m0 27h0m0 3h0m0 1h0m1-33h0m0 1h0m0 1h0m0 36h0m1-41h0m0 2h0m0 1h0m0 34h0m0 8h0m1-42h0m0 33h0m1-36h0m0 1h0m0 36h0m1-36h0m0 4h0m0 38h0m1-44h0m0 1h0m0 1h0m0 5h0m0 32h0m0 3h0m1-44h0m0 5h0m0 4h0m1-6h0m0 1h0m0 4h0m0 7h0m0 24h0m1-36h0m0 5h0m0 3h0m0 2h0m0 4h0m0 21h0m0 3h0m1-34h0m0 1h0m0 29h0m1-37h0m0 3h0m0 7h0m0 3h0m0 7h0m0 1h0m0 1h0m0 1h0m0 6h0m0 8h0m0 1h0m0 8h0m1-41h0m0 2h0m0 3h0m0 4h0m0 2h0m0 3h0m0 1h0m0 3h0m0 3h0m0 2h0m0 6h0m0 4h0m1-33h0m0 10h0m0 10h0m0 4h0m0 2h0m0 1h0m0 6h0m0 4h0m1-41h0m0 3h0m0 2h0m0 6h0m0 3h0m0 3h0m0 1h0m0 4h0m0 6h0m0 1h0m0 2h0m0 2h0m0 2h0m0 3h0m0 4h0m1-40h0m0 8h0m0 7h0m0 4h0m0 1h0m0 2h0m0 1h0m0 2h0m0 11h0m0 5h0m0 1h0m0 1h0m1-42h0m0 5h0m0 1h0m0 4h0m0 13h0m0 9h0m0 6h0m1-44h0m0 4h0m0 5h0m0 1h0m0 19h0m0 13h0m1-16h0m0 6h0m0 6h0m0 3h0m0 2h0m0 1h0m0 20h0m1-60h0m0 30h0m0 3h0m1-33h0m0 2h0m0 1h0m0 17h0m0 4h0m0 2h0m0 3h0m0 3h0m0 2h0m0 3h0m1-13h0m0 2h0m0 1h0m0 7h0m1-30h0m0 17h0m0 1h0m0 1h0m0 3h0m0 3h0m0 2h0m0 2h0m0 3h0m0 3h0m1-44h0m0 8h0m0 22h0m0 5h0m0 7h0m0 1h0m1-38h0m0 26h0m0 3h0m0 4h0m0 11h0m1-43h0m0 25h0m0 10h0m0 3h0m0 3h0m0 8h0m1-50h0m0 1h0m0 2h0m0 30h0m0 3h0m0 1h0m1-37h0m0 3h0m1 1h0m0 29h0m0 5h0m0 2h0m1-35h0m0 32h0m1-31h0m0 29h0m1 1h0m0 2h0m1-36h0m0 5h0m0 26h0m1-25h0m1-5h0m0 1h0m0 4h0m0 26h0m0 6h0m1-34h0m0 3h0m0 25h0m1-30h0m0 2h0m0 27h0m1-29h0m0 1h0m0 6h0m0 23h0m0 10h0m1-34h0m0 26h0m0 8h0m1-41h0m0 3h0m0 1h0m0 1h0m1-6h0m0 34h0m0 1h0m1-36h0m0 2h0m1-2h0m0 31h0m0 1h0m0 2h0m0 1h0m0 3h0m0 2h0m1-41h0m0 4h0m0 1h0m0 26h0m0 4h0m0 12h0m1-42h0m0 26h0m0 9h0m1-41h0m0 1h0m0 6h0m0 25h0m0 13h0m1-44h0m0 31h0m0 1h0m0 1h0m0 7h0m1-38h0m0 2h0m0 1h0m0 30h0m0 1h0m0 1h0m1-34h0m0 27h0m0 9h0m1-37h0m0 29h0m0 8h0m1-35h0m0 27h0m0 5h0m0 6h0m1-42h0m0 9h0m0 9h0m0 14h0m0 1h0m0 1h0m0 7h0m0 12h0m1-49h0m0 4h0m0 4h0m0 2h0m0 3h0m0 2h0m0 1h0m0 20h0m1-39h0m0 5h0m0 3h0m0 7h0m1-13h0m0 4h0m0 5h0m0 4h0m0 4h0m0 13h0m0 1h0m1-41h0m0 11h0m0 5h0m0 5h0m0 3h0m0 2h0m0 13h0m0 7h0m1-40h0m0 2h0m0 17h0m0 14h0m0 4h0m0 1h0m0 2h0m1-41h0m0 38h0m1-34h0m0 3h0m0 26h0m0 11h0m1-43h0m0 1h0m0 5h0m0 26h0m0 3h0m0 1h0m0 2h0m0 1h0m0 5h0m1-43h0m0 6h0m1-5h0m0 4h0m1 26h0m0 6h0m1-34h0m0 1h0m0 28h0m0 1h0m0 1h0m0 6h0m1-36h0m0 25h0m1 0h0m0 4h0m0 3h0m0 2h0m0 2h0m1-49h0m0 12h0m0 29h0m0 1h0m0 3h0m1-35h0m0 1h0m0 29h0m0 2h0m0 1h0m1-29h0m0 27h0m0 4h0m1-29h0m0 24h0m0 5h0m0 7h0m1-35h0m0 36h0m1-43h0m0 6h0m0 23h0m0 8h0m0 2h0m0 4h0m0 3h0m1-45h0m0 4h0m0 25h0m0 3h0m0 10h0m1-42h0m0 1h0m0 1h0m0 28h0m0 4h0m0 4h0m1-37h0m0 31h0m0 2h0m0 1h0m1-33h0m0 27h0m0 2h0m0 4h0m0 4h0m1-34h0m0 24h0m0 7h0m1-33h0m0 25h0m0 10h0m0 2h0m1-33h0m0 26h0m1-33h0m0 6h0m0 23h0m0 1h0m1-29h0m0 4h0m0 7h0m0 1h0m0 20h0m0 2h0m1-34h0m0 4h0m0 3h0m0 2h0m0 5h0m0 1h0m0 14h0m1-29h0m0 2h0m0 1h0m0 2h0m0 2h0m0 1h0m0 20h0m0 4h0m0 10h0m1-46h0m0 15h0m0 4h0m0 13h0m1-42h0m0 28h0m0 14h0m0 3h0m0 5h0m1-38h0m0 3h0m0 2h0m0 1h0m0 2h0m0 2h0m0 1h0m0 23h0m1-33h0m0 5h0m0 29h0m1-34h0m0 5h0m0 29h0m0 9h0m1-46h0m0 1h0m0 7h0m0 29h0m0 6h0m0 6h0m0 6h0m1-16h0m0 2h0m1-35h0m0 36h0m1-41h0m0 4h0m0 1h0m0 35h0m0 7h0m1-49h0m0 6h0m1 35h0m1-37h0m0 2h0m0 6h0m0 1h0m0 2h0m0 31h0m1-38h0m0 4h0m0 3h0m0 27h0m0 6h0m1-45h0m0 1h0m0 4h0m0 2h0m0 27h0m0 1h0m0 3h0m0 4h0m1-40h0m0 32h0m0 8h0m1-36h0m0 3h0m0 1h0m0 1h0m0 1h0m0 22h0m0 10h0m1-39h0m0 29h0m0 1h0m1-41h0m0 9h0m0 2h0m0 1h0m0 23h0m0 1h0m0 8h0m0 1h0m0 1h0m0 9h0m1-47h0m0 1h0m0 24h0m0 3h0m0 3h0m0 3h0m0 10h0m1-50h0m0 2h0m0 9h0m0 24h0m0 4h0m1-38h0m0 2h0m0 1h0m0 3h0m0 3h0m0 21h0m0 3h0m1-31h0m0 28h0m0 2h0m0 1h0m0 2h0m0 1h0m0 3h0m0 1h0m0 5h0m1-45h0m0 4h0m0 30h0m0 3h0m0 3h0m1-34h0m0 27h0m0 7h0m0 2h0m1-45h0m0 6h0m0 31h0m0 3h0m0 1h0m0 5h0m1-36h0m1 0h0m0 1h0m0 29h0m1-29h0m0 25h0m0 1h0m1-25h0m0 27h0m1-28h0m0 28h0m1-30h0m0 1h0m0 31h0m0 12h0m2-44h0m0 31h0m1-37h0m0 8h0m0 30h0m1-1h0m0 1h0m0 17h0m1-53h0m0 35h0m0 3h0m1-32h0m0 1h0m1 0h0m0 34h0m1-39h0m0 34h0m0 5h0m1-34h0m0 21h0m0 2h0m0 1h0m0 6h0m1-10h0m0 1h0m0 3h0m0 4h0m1-29h0m0 21h0m0 6h0m0 2h0m1-4h0m0 4h0m0 4h0m1-35h0m0 24h0m0 3h0m0 3h0m1-29h0m0 30h0m1-34h0m0 34h0m0 9h0m1-42h0m0 1h0m0 31h0m0 1h0m0 7h0m1-42h0m0 4h0m0 1h0m0 1h0m0 32h0m1-40h0m0 4h0m0 31h0m0 8h0m0 4h0m1-45h0m0 41h0m1-38h0m0 4h0m0 7h0m0 1h0m0 2h0m0 18h0m0 3h0m0 2h0m0 2h0m0 1h0m1-40h0m0 1h0m0 1h0m0 1h0m0 3h0m0 4h0m0 4h0m0 16h0m0 1h0m0 3h0m0 5h0m1-42h0m0 2h0m0 5h0m0 2h0m0 2h0m0 22h0m0 3h0m0 3h0m0 2h0m1-28h0m0 4h0m0 20h0m0 3h0m1-39h0m0 2h0m0 1h0m0 1h0m0 3h0m0 3h0m0 2h0m0 1h0m0 2h0m0 1h0m0 16h0m1-31h0m0 3h0m0 1h0m0 9h0m0 18h0m0 1h0m0 1h0m0 1h0m0 1h0m0 7h0m1-34h0m0 2h0m0 22h0m0 1h0m0 3h0m1-39h0m0 34h0m0 1h0m0 3h0m0 2h0m1-36h0m0 2h0m0 3h0m0 6h0m0 2h0m0 2h0m0 20h0m0 1h0m0 8h0m1-43h0m0 7h0m0 4h0m0 18h0m0 4h0m0 12h0m0 4h0m1-49h0m0 1h0m0 2h0m0 12h0m0 14h0m0 1h0m0 4h0m0 5h0m1-34h0m0 2h0m0 2h0m0 5h0m0 17h0m1-27h0m0 7h0m0 2h0m0 19h0m0 3h0m1-38h0m0 5h0m0 10h0m0 26h0m1-39h0m0 2h0m0 35h0m0 2h0m0 2h0m1-41h0m0 33h0m0 1h0m1 2h0m1-36h0m0 34h0m1-36h0m1 3h0m0 31h0m0 18h0m1-45h0m0 28h0m0 5h0m1-36h0m0 3h0m0 1h0m0 26h0m0 6h0m1-38h0m0 6h0m0 1h0m0 24h0m0 8h0m0 1h0m0 18h0m1-61h0m0 5h0m0 5h0m0 14h0m0 2h0m0 4h0m0 5h0m0 8h0m1-42h0m0 9h0m0 13h0m0 3h0m0 1h0m0 6h0m0 2h0m0 2h0m0 2h0m1-35h0m0 2h0m0 1h0m0 3h0m0 12h0m0 5h0m0 4h0m0 2h0m0 3h0m1-33h0m0 3h0m0 2h0m0 15h0m0 3h0m0 3h0m1-20h0m0 14h0m0 2h0m0 1h0m1-21h0m0 29h0m1-30h0m0 2h0m0 2h0m0 1h0m0 24h0m0 11h0m1-40h0m0 3h0m0 27h0m1-2h0m0 6h0m1-33h0m0 27h0m1-32h0m0 4h0m0 1h0m0 27h0m0 9h0m1-37h0m0 22h0m0 1h0m0 1h0m0 5h0m0 4h0m1-32h0m0 20h0m0 1h0m0 5h0m0 1h0m0 1h0m0 5h0m1-13h0m0 7h0m0 10h0m0 7h0m1-47h0m0 2h0m0 1h0m0 20h0m0 4h0m0 2h0m0 5h0m1-34h0m0 19h0m0 1h0m0 2h0m0 2h0m0 6h0m0 3h0m0 1h0m1-12h0m0 1h0m0 4h0m0 2h0m0 2h0m0 6h0m0 2h0m1-40h0m0 2h0m0 24h0m0 2h0m0 5h0m0 10h0m1-43h0m0 1h0m0 2h0m0 17h0m0 5h0m0 7h0m0 4h0m1-32h0m0 17h0m0 2h0m0 1h0m0 4h0m0 2h0m1-32h0m0 24h0m0 12h0m0 4h0m0 3h0m1-37h0m0 33h0m1-37h0m0 53h0m0 2h0m1-59h0m0 6h0m0 32h0m0 1h0m0 2h0m0 4h0m1-42h0m0 2h0m0 2h0m0 1h0m1 0h0m0 42h0m1-14h0m0 2h0m0 13h0m1-49h0m0 3h0m0 25h0m0 2h0m0 1h0m0 1h0m0 12h0m0 1h0m1-40h0m0 27h0m0 5h0m0 1h0m0 3h0m1-42h0m0 2h0m0 5h0m0 21h0m0 8h0m0 4h0m0 1h0m0 12h0m1-25h0m0 1h0m0 5h0m0 3h0m0 4h0m0 7h0m1-44h0m0 1h0m0 28h0m0 1h0m0 2h0m0 6h0m1-42h0m0 1h0m0 28h0m0 4h0m0 1h0m0 5h0m1-38h0m0 32h0m0 4h0m0 2h0m0 3h0m0 1h0m1-39h0m0 30h0m0 26h0m1-57h0m0 2h0m0 1h0m0 23h0m0 1h0m0 2h0m0 1h0m0 4h0m0 5h0m1-7h0m0 5h0m0 8h0m1-41h0m0 27h0m1-27h0m0 27h0m0 1h0m0 4h0m0 1h0m1-34h0m0 1h0m0 27h0m0 8h0m1-36h0m0 37h0m1-38h0m0 27h0m0 5h0m0 1h0m1-31h0m0 24h0m0 5h0m0 1h0m0 34h0m1-64h0m0 25h0m0 6h0m1-5h0m0 3h0m1-30h0m0 1h0m0 26h0m0 3h0m0 3h0m1 1h0m0 1h0m1-34h0m0 39h0m0 4h0m1-12h0m1-30h0m0 40h0m1-40h0m1-4h0m0 1h0m0 1h0m0 31h0m0 4h0m0 3h0m1-8h0m0 4h0m0 1h0m1-6h0m0 5h0m0 1h0m0 4h0m1-40h0m0 1h0m0 30h0m0 3h0m0 12h0m1-49h0m0 36h0m0 3h0m1 0h0m1-36h0m0 1h0m0 34h0m1-39h0m0 2h0m0 20h0m0 4h0m0 2h0m0 8h0m0 4h0m0 7h0m1-46h0m0 21h0m0 3h0m0 3h0m1-22h0m0 3h0m0 8h0m0 1h0m0 2h0m0 1h0m0 8h0m0 1h0m0 1h0m0 1h0m0 1h0m0 1h0m0 1h0m0 1h0m0 1h0m0 8h0m1-47h0m0 2h0m0 11h0m0 1h0m0 1h0m0 2h0m0 1h0m0 1h0m0 4h0m0 7h0m0 1h0m0 4h0m0 8h0m0 14h0m1-34h0m0 6h0m0 1h0" stroke="#ffa526" stroke-width="3.9" stroke-linecap="round" fill="none"/>
<g class="tk" text-anchor="middle"><text transform="translate(795.0 390.5) scale(1.12 1)">0</text><text transform="translate(886.5 390.5) scale(1.12 1)">2</text><text transform="translate(978.0 390.5) scale(1.12 1)">4</text><text transform="translate(1069.5 390.5) scale(1.12 1)">6</text><text transform="translate(1161.0 390.5) scale(1.12 1)">8</text><text transform="translate(1252.5 390.5) scale(1.12 1)">10</text></g>
<g class="tk" text-anchor="end"><text x="784.8" y="359.7">0.1</text><text x="784.8" y="229.8">0.2</text><text x="784.8" y="100.0">0.3</text></g>
<text class="xl" x="1029.8" y="413.0" text-anchor="middle">DSL</text>
<text class="yl" transform="translate(725.7 222.2) rotate(-90) scale(1 0.9)" text-anchor="middle">&#961;</text>
<text class="ti" x="1042.2" y="90.4" text-anchor="middle">Blue</text>
<path d="M1565.3 92.8V352.5M1656.8 92.8V352.5M1748.3 92.8V352.5M1839.8 92.8V352.5M1931.3 92.8V352.5M1473.8 222.7H1988.6" stroke="#dadada" stroke-width="2.8" fill="none"/>
<path d="M1496.7 92.8V352.5M1519.5 92.8V352.5M1542.4 92.8V352.5M1588.2 92.8V352.5M1611.0 92.8V352.5M1633.9 92.8V352.5M1679.7 92.8V352.5M1702.5 92.8V352.5M1725.4 92.8V352.5M1771.2 92.8V352.5M1794.0 92.8V352.5M1816.9 92.8V352.5M1862.7 92.8V352.5M1885.5 92.8V352.5M1908.4 92.8V352.5M1954.2 92.8V352.5M1977.0 92.8V352.5" stroke="#aaaaaa" stroke-width="2.7" stroke-dasharray="2.7 3.35" stroke-dashoffset="3.3" fill="none"/>
<path d="M1473.8 326.5H1988.6M1473.8 300.6H1988.6M1473.8 274.6H1988.6M1473.8 248.6H1988.6M1473.8 196.7H1988.6M1473.8 170.7H1988.6M1473.8 144.7H1988.6M1473.8 118.8H1988.6" stroke="#aaaaaa" stroke-width="2.7" stroke-dasharray="2.7 3.35" stroke-dashoffset="0.8" fill="none"/>
<path d="M1473.8 352.5v-6M1473.8 92.8v6M1565.3 352.5v-6M1565.3 92.8v6M1656.8 352.5v-6M1656.8 92.8v6M1748.3 352.5v-6M1748.3 92.8v6M1839.8 352.5v-6M1839.8 92.8v6M1931.3 352.5v-6M1931.3 92.8v6M1473.8 352.5h6M1988.6 352.5h-6M1473.8 222.7h6M1988.6 222.7h-6M1473.8 92.8h6M1988.6 92.8h-6" stroke="#111" stroke-width="2.6" fill="none"/>
<rect x="1473.8" y="92.8" width="514.8" height="259.7" fill="none" stroke="#111" stroke-width="2.6"/>
<path d="M1484 183h0m0 1h0m0 1h0m0 1h0m0 7h0m0 1h0m0 1h0m0 2h0m0 4h0m0 1h0m0 1h0m0 2h0m0 8h0m0 9h0m1-44h0m0 3h0m0 6h0m0 1h0m0 2h0m0 2h0m0 6h0m0 1h0m0 8h0m0 3h0m0 2h0m0 4h0m0 1h0m0 21h0m1-76h0m0 56h0m0 9h0m1-75h0m0 15h0m0 45h0m0 20h0m1-62h0m1 5h0m0 49h0m1 8h0m3-67h0m1 13h0m0 38h0m0 17h0m2-64h0m1 54h0m0 5h0m0 24h0m1-34h0m0 18h0m1 2h0m1-76h0m0 11h0m0 36h0m1-25h0m0 36h0m2-61h0m0 71h0m1-73h0m0 8h0m0 8h0m3 41h0m0 6h0m3-54h0m0 19h0m0 35h0m1-49h0m0 7h0m0 42h0m0 11h0m1-78h0m0 68h0m1-55h0m0 61h0m1-64h0m1 8h0m0 41h0m1-30h0m0 42h0m0 5h0m3-51h0m1 39h0m0 4h0m1-64h0m0 1h0m1 17h0m0 7h0m1 48h0m0 1h0m2-78h0m0 17h0m1-17h0m0 52h0m0 24h0m1-54h0m0 39h0m0 9h0m1-1h0m1-20h0m1-34h0m0 1h0m2 49h0m1-42h0m0 46h0m1-53h0m2 68h0m1-10h0m2-60h0m0 48h0m1-39h0m1-10h0m0 57h0m2-56h0m0 55h0m1 9h0m1-65h0m0 15h0m1 34h0m1-47h0m2-20h0m0 13h0m0 62h0m0 14h0m1 0h0m2-70h0m0 8h0m0 55h0m1-61h0m0 11h0m0 35h0m3 7h0m2-48h0m1 42h0m0 10h0m2-59h0m0 61h0m1-51h0m0 48h0m3-50h0m0 9h0m0 46h0m1-62h0m1 47h0m0 8h0m0 13h0m1-80h0m2 17h0m1 7h0m1 66h0m1-81h0m0 4h0m0 49h0m1 8h0m0 1h0m1-48h0m0 54h0m1-72h0m0 53h0m0 9h0m2-44h0m0 43h0m3-57h0m0 6h0m2 7h0m0 45h0m1-51h0m2-7h0m1-16h0m0 30h0m0 55h0m2-12h0m0 2h0m3-60h0m0 2h0m0 5h0m1-9h0m0 48h0m1-59h0m0 71h0m1-46h0m1 10h0m3 34h0m1-18h0m1-33h0m0 50h0m1-53h0m0 1h0m0 8h0m0 53h0m1-69h0m2 15h0m1-15h0m0 21h0m0 36h0m1 7h0m1-49h0m0 29h0m1 7h0m0 9h0m1-33h0m0 58h0m1-72h0m2-15h0m2 14h0m0 7h0m0 39h0m1 3h0m1-61h0m0 55h0m0 5h0m0 3h0m1-35h0m4-17h0m1-2h0m0 8h0m0 33h0m0 16h0m1-56h0m2 50h0m2-41h0m1 43h0m0 9h0m1-62h0m3 7h0m0 41h0m1 25h0m1-58h0m0 43h0m1-61h0m0 62h0m2-61h0m0 2h0m0 56h0m2-7h0m1-47h0m0 58h0m1-63h0m0 43h0m0 22h0m1-59h0m0 8h0m1 44h0m3-8h0m1-46h0m0 8h0m0 53h0m1-47h0m1 29h0m0 28h0m1-74h0m1 55h0m0 4h0m1-49h0m2-18h0m1 14h0m1-10h0m0 47h0m0 7h0m1 8h0m2-58h0m0 10h0m2 51h0m2-59h0m0 53h0m1-44h0m0 37h0m1-46h0m2 29h0m0 31h0m1-60h0m0 49h0m0 7h0m2-63h0m1 12h0m0 37h0m3-55h0m0 71h0m1-35h0m0 27h0m0 8h0m1-61h0m0 12h0m1 52h0m1-61h0m1-4h0m1 54h0m1-34h0m0 14h0m0 25h0m1-54h0m1 5h0m2-11h0m0 17h0m0 30h0m0 28h0m1-51h0m0 43h0m1-10h0m0 3h0m2-8h0m1 22h0m1-67h0m0 7h0m1 43h0m1 7h0m3-62h0m0 5h0m0 45h0m0 8h0m1-45h0m1 44h0m2-48h0m1 11h0m1 2h0m0 17h0m0 27h0m1-66h0m0 57h0m2-48h0m0 40h0m0 12h0m1 22h0m3-83h0m0 57h0m1-53h0m0 60h0m1-68h0m0 23h0m3-9h0m1-14h0m1 22h0m1-16h0m0 50h0m0 8h0m0 2h0m1-67h0m0 14h0m1 33h0m2-49h0m1 6h0m1 11h0m0 47h0m1-34h0m0 5h0m1-23h0m0 52h0m1-67h0m1 61h0m0 19h0m1-13h0m0 10h0m1-67h0m0 48h0m0 6h0m1-44h0m0 44h0m2-47h0m0 60h0m1-44h0m2-13h0m0 5h0m1 36h0m1 15h0m1-64h0m0 28h0m0 30h0m2-22h0m0 13h0m3-45h0m0 7h0m0 39h0m2 16h0m1-66h0m1 0h0m0 55h0m0 2h0m0 12h0m1-68h0m0 56h0m0 11h0m2-63h0m0 14h0m1 43h0m1-52h0m1-22h0m0 64h0m0 8h0m1-61h0m1-7h0m2 13h0m0 40h0m1-64h0m0 18h0m2 58h0m0 8h0m1-58h0m1 41h0m0 20h0m1-74h0m0 11h0m1-8h0m1 10h0m0 55h0m1-54h0m0 54h0m1-53h0m0 5h0m0 38h0m2-33h0m0 39h0m2-62h0m1 57h0m1-13h0m0 9h0m0 22h0m1-76h0m0 13h0m0 40h0m1-33h0m0 45h0m0 7h0m1-3h0m1-17h0m1 12h0m1-53h0m1 30h0m0 22h0m1-52h0m1 56h0m1-59h0m0 12h0m0 38h0m0 15h0m1-78h0m0 12h0m2-4h0m1 12h0m0 49h0m0 3h0m1-70h0m1-3h0m0 52h0m1-45h0m0 53h0m1 6h0m0 1h0m2-52h0m0 9h0m2-16h0m0 43h0m1 22h0m2-52h0m0 42h0m0 11h0m1-39h0m2-25h0m0 3h0m0 11h0m0 46h0m1-52h0m0 53h0m0 1h0m1-60h0m0 51h0m3-5h0m1-51h0m0 34h0m1-14h0m0 50h0m0 7h0m1-100h0m0 35h0m0 46h0m0 9h0m2-69h0m0 68h0m0 2h0m1-60h0m2 44h0m1-48h0m0 47h0m1 18h0m1-81h0m1 25h0m1 38h0m1-45h0m0 55h0m1-48h0m0 51h0m1-10h0m1-9h0m1-40h0m0 55h0m4-52h0m0 49h0m1-52h0m0 9h0m1 43h0m1 0h0m2-57h0m0 20h0m0 21h0m0 12h0m0 17h0m0 10h0m1-80h0m1 63h0m2-60h0m0 1h0m0 6h0m0 4h0m1-9h0m0 1h0m0 69h0m1-66h0m1-2h0m1 53h0m1-38h0m1 29h0m3-45h0m0 8h0m0 45h0m0 8h0m1-79h0m0 16h0m1 47h0m2 20h0m1-72h0m0 15h0m2-8h0m0 56h0m1-56h0m0 49h0m0 17h0m2-60h0m0 51h0m1-31h0m1-26h0m0 39h0m1 26h0m1-21h0m0 12h0m1-43h0m1-18h0m2 10h0m0 9h0m1 39h0m1-11h0m1-49h0m0 7h0m1 8h0m1 43h0m2-57h0m0 26h0m1-4h0m0 12h0m0 29h0m1-53h0m0 53h0m1-62h0m0 54h0m2-40h0m1-16h0m2 15h0m0 31h0m0 19h0m0 7h0m0 1h0m1-72h0m0 5h0m0 61h0m3-9h0m1 3h0m0 20h0m1-77h0m0 39h0m0 25h0m1-58h0m0 63h0m1-60h0m3-13h0m1 50h0m0 5h0m0 8h0m1-55h0m0 57h0m0 7h0m1-53h0m1-21h0m1 16h0m1-10h0m2 56h0m1-43h0m0 37h0m0 4h0m1-46h0m2-14h0m0 2h0m1 4h0m0 60h0m2-53h0m1 6h0m0 46h0m3-49h0m1-8h0m0 51h0m1 9h0m1 2h0m1-66h0m1 9h0m0 32h0m1 16h0m0 5h0m1 4h0m0 13h0m1-65h0m0 61h0m1-74h0m1 31h0m1-39h0m1 6h0m0 56h0m1-48h0m3-4h0m0 54h0m1-44h0m0 51h0m1-4h0m2-61h0m1 6h0m0 13h0m0 34h0m1-39h0m1 48h0m1-14h0m2-44h0m1 55h0m0 16h0m1-66h0m0 44h0m0 10h0m0 4h0m1-9h0m1-40h0m2 49h0m2-57h0m1 42h0m2-34h0m0 1h0m0 41h0m1-24h0m0 25h0m1-53h0m3-2h0m1-6h0m0 12h0m0 5h0m0 51h0m1-13h0m2 2h0m2-56h0m1 50h0m0 13h0m1-57h0m0 52h0m1-41h0m2 47h0m1-54h0m2-27h0m0 18h0m0 51h0m0 18h0m1-63h0m0 63h0m1-76h0m0 64h0m1-7h0m1-41h0m1 23h0m0 35h0m0 9h0m1-61h0m0 4h0m1-15h0m3-2h0m0 45h0m0 6h0m1-9h0m0 12h0m0 1h0m0 10h0m2-69h0m0 12h0m0 48h0m2-31h0m0 41h0m1-69h0m0 18h0m1-25h0m0 62h0m1-47h0m1-2h0m1-14h0m1 14h0m0 6h0m0 4h0m0 7h0m0 1h0m0 17h0m0 14h0m1-65h0m0 17h0m0 1h0m0 5h0m0 4h0m0 1h0m0 1h0m0 1h0m0 1h0m0 6h0m0 1h0m0 2h0m0 2h0m0 2h0m0 2h0m0 3h0m0 6h0m0 1h0m0 3h0m0 1h0m0 7h0m0 15h0" stroke="#0000ff" stroke-width="10.2" stroke-linecap="round" fill="none"/>
<path d="M1483.5 202H1484.5V196H1485.5V187H1486.5V189H1490.5V183H1492.5V184H1496.5V181H1498.5V185H1502.5V174H1503.5V176H1504.5V180H1507.5V185H1510.5V188H1513.5V184H1518.5V183H1524.5V180H1528.5V181H1529.5V182H1533.5V180H1535.5V181H1536.5V182H1541.5V179H1543.5V177H1544.5V174H1545.5V184H1549.5V183H1550.5V182H1552.5V184H1556.5V181H1559.5V182H1561.5V186H1565.5V185H1569.5V184H1572.5V181H1575.5V180H1576.5V179H1577.5V180H1580.5V179H1584.5V180H1590.5V189H1594.5V180H1598.5V181H1602.5V182H1606.5V181H1607.5V183H1609.5V187H1613.5V185H1617.5V179H1619.5V178H1620.5V177H1621.5V181H1626.5V180H1633.5V184H1637.5V180H1641.5V183H1645.5V182H1646.5V181H1647.5V182H1648.5V184H1652.5V181H1653.5V182H1656.5V181H1657.5V180H1658.5V181H1660.5V182H1664.5V181H1667.5V179H1669.5V178H1670.5V179H1671.5V194H1674.5V197H1679.5V185H1682.5V183H1683.5V185H1687.5V182H1689.5V188H1693.5V183H1697.5V182H1698.5V181H1700.5V192H1704.5V180H1705.5V179H1706.5V178H1707.5V179H1711.5V181H1716.5V182H1718.5V189H1720.5V196H1724.5V181H1725.5V180H1729.5V187H1736.5V181H1737.5V182H1738.5V183H1739.5V196H1742.5V183H1743.5V178H1746.5V180H1748.5V183H1751.5V190H1756.5V177H1758.5V178H1759.5V179H1760.5V180H1763.5V179H1764.5V181H1767.5V183H1768.5V184H1769.5V185H1770.5V187H1773.5V185H1777.5V184H1778.5V180H1779.5V183H1782.5V180H1784.5V181H1785.5V182H1789.5V181H1790.5V180H1794.5V181H1795.5V185H1798.5V192H1802.5V191H1803.5V186H1807.5V185H1808.5V184H1809.5V182H1810.5V184H1814.5V179H1817.5V180H1825.5V181H1829.5V178H1831.5V177H1833.5V184H1834.5V185H1842.5V186H1846.5V183H1847.5V179H1848.5V180H1855.5V181H1856.5V195H1860.5V184H1861.5V187H1865.5V186H1868.5V184H1871.5V193H1876.5V179H1882.5V178H1883.5V180H1887.5V181H1889.5V182H1893.5V184H1898.5V183H1899.5V182H1901.5V181H1902.5V180H1903.5V179H1905.5V177H1906.5V182H1907.5V183H1910.5V182H1911.5V181H1912.5V180H1914.5V175H1915.5V179H1916.5V180H1918.5V195H1921.5V180H1923.5V179H1926.5V180H1927.5V181H1928.5V182H1932.5V183H1938.5V182H1939.5V183H1941.5V187H1942.5V188H1946.5V180H1953.5V182H1957.5V179H1958.5V181H1961.5V180H1965.5V179H1966.5V180H1967.5V186H1968.5V187H1971.5V196H1975.5V186H1977.5V187H1979.5V189H1982.5V183H1983.5V182H1984.5V180H1986.5V216H1983.5V217H1982.5V216H1981.5V210H1978.5V205H1975.5V212H1974.5V213H1973.5V214H1972.5V210H1969.5V214H1968.5V215H1962.5V214H1958.5V213H1954.5V215H1953.5V214H1949.5V199H1945.5V212H1942.5V215H1939.5V210H1936.5V209H1929.5V210H1928.5V212H1927.5V215H1926.5V214H1922.5V215H1918.5V203H1914.5V214H1913.5V206H1909.5V215H1906.5V213H1902.5V212H1901.5V211H1899.5V210H1895.5V212H1891.5V209H1890.5V205H1887.5V215H1886.5V216H1884.5V208H1880.5V215H1877.5V197H1874.5V221H1873.5V215H1872.5V214H1871.5V211H1866.5V216H1865.5V217H1863.5V213H1859.5V212H1856.5V209H1853.5V211H1846.5V214H1845.5V215H1839.5V214H1837.5V201H1833.5V199H1829.5V211H1828.5V213H1827.5V206H1823.5V215H1822.5V211H1818.5V212H1817.5V213H1816.5V214H1814.5V211H1813.5V210H1809.5V197H1804.5V211H1803.5V215H1800.5V203H1797.5V216H1796.5V213H1795.5V212H1793.5V205H1792.5V202H1788.5V210H1785.5V220H1784.5V198H1781.5V210H1778.5V212H1777.5V205H1773.5V214H1770.5V215H1769.5V214H1768.5V212H1765.5V215H1763.5V214H1755.5V218H1752.5V219H1751.5V220H1750.5V216H1749.5V212H1745.5V203H1741.5V214H1736.5V210H1735.5V209H1734.5V208H1731.5V211H1727.5V212H1725.5V215H1723.5V214H1722.5V205H1719.5V206H1718.5V212H1715.5V214H1714.5V217H1712.5V219H1709.5V214H1707.5V204H1703.5V218H1702.5V217H1700.5V214H1697.5V212H1696.5V211H1692.5V212H1691.5V213H1689.5V214H1686.5V213H1683.5V210H1680.5V213H1677.5V209H1673.5V217H1672.5V216H1671.5V211H1670.5V210H1667.5V196H1663.5V213H1660.5V214H1657.5V216H1656.5V208H1652.5V209H1651.5V211H1650.5V213H1649.5V208H1645.5V209H1643.5V210H1642.5V211H1640.5V208H1636.5V216H1635.5V214H1631.5V216H1630.5V213H1627.5V204H1623.5V215H1622.5V213H1615.5V214H1614.5V212H1613.5V200H1610.5V212H1609.5V213H1608.5V212H1607.5V211H1604.5V204H1600.5V213H1597.5V211H1591.5V219H1590.5V216H1585.5V217H1581.5V210H1579.5V209H1574.5V216H1573.5V214H1572.5V213H1571.5V212H1570.5V211H1568.5V210H1561.5V211H1560.5V212H1559.5V215H1558.5V216H1554.5V212H1551.5V214H1544.5V215H1542.5V217H1538.5V216H1537.5V214H1536.5V212H1534.5V200H1533.5V199H1529.5V214H1527.5V208H1523.5V212H1522.5V211H1518.5V212H1516.5V213H1515.5V214H1513.5V213H1509.5V218H1507.5V213H1503.5V214H1502.5V219H1500.5V212H1497.5V210H1493.5V211H1491.5V210H1488.5V214H1487.5V213H1484.5V204H1483.5Z" fill="#ffa526"/>
<path d="M1484 186h0m0 2h0m0 2h0m0 2h0m0 5h0m0 4h0m0 1h0m0 1h0m0 1h0m0 1h0m0 3h0m0 4h0m0 1h0m0 11h0m1-33h0m0 1h0m0 1h0m0 2h0m0 4h0m0 2h0m0 8h0m0 1h0m0 3h0m0 4h0m0 2h0m0 19h0m1-52h0m0 1h0m0 7h0m0 19h0m0 6h0m0 1h0m0 8h0m1-48h0m0 9h0m0 25h0m0 2h0m0 2h0m0 1h0m0 11h0m1-51h0m0 3h0m0 7h0m0 23h0m1-28h0m0 5h0m0 25h0m0 11h0m1-43h0m0 1h0m0 2h0m0 1h0m0 2h0m0 1h0m0 21h0m0 21h0m1-21h0m0 6h0m0 2h0m0 2h0m1-9h0m0 1h0m1-32h0m0 3h0m0 34h0m1-42h0m0 2h0m0 2h0m0 5h0m0 27h0m0 4h0m0 1h0m0 18h0m1-50h0m0 26h0m0 7h0m1-36h0m0 28h0m0 7h0m0 4h0m1-39h0m0 29h0m0 3h0m0 6h0m0 3h0m0 5h0m0 26h0m1-77h0m0 1h0m0 3h0m0 1h0m0 3h0m0 1h0m0 25h0m0 1h0m0 8h0m0 18h0m1-57h0m0 2h0m0 30h0m0 4h0m0 1h0m0 2h0m0 19h0m1-63h0m0 2h0m0 2h0m0 2h0m0 32h0m0 3h0m1-31h0m0 29h0m0 5h0m1-44h0m0 7h0m0 2h0m0 1h0m0 31h0m0 4h0m1-49h0m0 2h0m0 5h0m0 2h0m0 34h0m0 1h0m0 2h0m0 2h0m0 10h0m1-54h0m0 1h0m0 2h0m1 1h0m0 1h0m0 32h0m1-36h0m0 37h0m1-32h0m0 2h0m0 31h0m0 2h0m0 2h0m1-38h0m0 2h0m0 2h0m0 1h0m0 32h0m1-41h0m1 2h0m0 7h0m0 1h0m0 1h0m0 27h0m0 2h0m0 3h0m0 1h0m1-45h0m0 3h0m0 3h0m0 1h0m0 31h0m0 9h0m0 8h0m1-55h0m0 6h0m0 1h0m0 6h0m0 25h0m0 7h0m1-37h0m0 1h0m0 4h0m0 26h0m1-35h0m0 7h0m0 1h0m0 27h0m1-30h0m0 29h0m0 5h0m0 2h0m0 6h0m1-46h0m0 4h0m0 30h0m0 14h0m1-44h0m0 28h0m1-29h0m0 29h0m0 6h0m0 4h0m1-39h0m0 28h0m0 1h0m1-29h0m0 33h0m0 4h0m1-37h0m0 41h0m1-41h0m0 29h0m0 5h0m1-8h0m0 1h0m0 2h0m0 1h0m0 2h0m0 14h0m0 3h0m1-52h0m0 3h0m0 25h0m0 3h0m0 1h0m0 2h0m0 1h0m1-39h0m0 3h0m0 1h0m1-1h0m0 29h0m0 5h0m0 16h0m1-49h0m0 31h0m0 1h0m0 1h0m0 8h0m1-41h0m0 27h0m0 8h0m0 8h0m1-43h0m0 21h0m0 9h0m1-33h0m0 4h0m0 21h0m0 1h0m0 2h0m0 6h0m0 2h0m1-14h0m0 5h0m0 4h0m0 6h0m0 6h0m1-38h0m0 17h0m0 5h0m0 3h0m0 10h0m1-38h0m0 2h0m0 19h0m0 4h0m0 6h0m0 2h0m0 3h0m0 5h0m1-43h0m0 3h0m0 21h0m0 2h0m0 1h0m0 3h0m0 5h0m1-32h0m0 31h0m1-31h0m0 56h0m1-59h0m0 35h0m0 1h0m0 1h0m0 1h0m0 10h0m1-43h0m0 33h0m0 2h0m1-34h0m0 34h0m1-39h0m0 4h0m1-6h0m0 3h0m0 2h0m0 43h0m1-8h0m0 2h0m1 0h0m0 2h0m0 3h0m1-50h0m0 4h0m0 1h0m0 41h0m0 3h0m0 10h0m1-57h0m0 2h0m0 4h0m0 1h0m0 2h0m0 31h0m0 3h0m0 1h0m1-43h0m0 8h0m0 35h0m1-46h0m0 2h0m0 4h0m0 1h0m0 52h0m1-53h0m0 5h0m0 30h0m0 1h0m0 6h0m1-38h0m0 1h0m0 38h0m0 16h0m1-56h0m0 32h0m0 21h0m1-52h0m0 30h0m0 1h0m1-35h0m0 3h0m0 36h0m0 13h0m1-55h0m0 2h0m0 1h0m0 2h0m0 2h0m0 1h0m0 28h0m0 4h0m1-32h0m1 30h0m0 2h0m1-35h0m0 2h0m0 34h0m1-36h0m0 1h0m1-4h0m0 2h0m0 35h0m1-35h0m0 36h0m0 9h0m1-13h0m0 3h0m1-33h0m0 1h0m0 2h0m0 26h0m0 1h0m0 17h0m1-44h0m0 1h0m0 24h0m0 1h0m0 8h0m0 5h0m1-45h0m0 31h0m0 9h0m1-40h0m0 2h0m0 35h0m1-31h0m0 26h0m0 4h0m0 14h0m1-50h0m1 6h0m0 29h0m0 2h0m0 5h0m0 13h0m1-72h0m0 23h0m0 25h0m0 1h0m1-29h0m0 2h0m0 1h0m0 26h0m1-31h0m0 4h0m1-4h0m0 5h0m0 27h0m0 1h0m1-32h0m0 64h0m1-69h0m0 5h0m0 2h0m0 1h0m0 31h0m0 3h0m1-8h0m0 1h0m0 1h0m0 1h0m0 13h0m1-46h0m0 29h0m0 7h0m0 19h0m1-62h0m0 6h0m0 30h0m0 6h0m0 5h0m1-46h0m0 4h0m0 30h0m0 10h0m1-38h0m0 29h0m0 15h0m1-43h0m0 29h0m1-30h0m0 30h0m0 8h0m1-40h0m0 33h0m0 2h0m0 1h0m0 2h0m1-37h0m0 33h0m0 5h0m0 1h0m1 4h0m1-46h0m0 2h0m0 1h0m0 1h0m1 38h0m0 3h0m1-5h0m1-42h0m0 6h0m0 36h0m0 7h0m0 12h0m1-55h0m0 35h0m0 6h0m1-41h0m0 36h0m0 6h0m1-36h0m0 1h0m0 1h0m0 24h0m0 4h0m0 1h0m0 3h0m1-39h0m0 3h0m0 4h0m0 29h0m0 1h0m1-41h0m0 1h0m0 1h0m0 1h0m0 4h0m0 5h0m0 25h0m1-38h0m0 2h0m0 4h0m0 2h0m0 5h0m0 22h0m0 9h0m1-42h0m0 7h0m0 1h0m0 2h0m0 1h0m0 21h0m0 6h0m0 2h0m1-38h0m0 7h0m0 24h0m0 3h0m1-34h0m1 31h0m0 3h0m0 2h0m1-37h0m0 33h0m0 1h0m0 1h0m0 2h0m1 3h0m0 3h0m1-41h0m0 29h0m0 1h0m1-6h0m0 2h0m0 7h0m0 4h0m1-38h0m0 24h0m0 9h0m0 14h0m1-46h0m0 27h0m0 1h0m0 2h0m0 5h0m1-39h0m0 28h0m0 3h0m1-25h0m0 23h0m0 5h0m1-29h0m0 34h0m1-36h0m0 32h0m0 13h0m1-43h0m0 1h0m0 29h0m1-29h0m0 31h0m0 5h0m1-35h0m0 2h0m0 1h0m0 15h0m0 1h0m0 38h0m1-61h0m0 2h0m0 5h0m0 13h0m0 4h0m0 3h0m0 5h0m1-32h0m0 1h0m0 2h0m0 4h0m0 13h0m0 4h0m0 5h0m0 1h0m0 1h0m1-30h0m0 6h0m0 13h0m0 4h0m0 3h0m1-23h0m0 1h0m0 1h0m0 15h0m0 1h0m0 11h0m1-33h0m0 5h0m0 30h0m1-35h0m0 1h0m1-2h0m0 2h0m0 3h0m0 1h0m0 28h0m0 10h0m1-10h0m1-35h0m0 35h0m1-35h0m0 34h0m1-36h0m0 3h0m0 34h0m1-32h0m0 36h0m1-40h0m0 4h0m0 27h0m0 4h0m0 2h0m0 1h0m0 4h0m0 3h0m0 4h0m1-44h0m0 23h0m0 3h0m0 7h0m0 5h0m1-39h0m0 29h0m0 12h0m1-45h0m0 4h0m0 29h0m0 3h0m1-36h0m0 2h0m0 25h0m0 1h0m0 2h0m0 6h0m0 1h0m0 5h0m1-45h0m0 6h0m0 26h0m0 7h0m1 4h0m0 4h0m0 7h0m1-51h0m0 2h0m1 35h0m0 1h0m1-34h0m0 33h0m0 3h0m1-42h0m0 2h0m0 3h0m0 33h0m0 5h0m0 1h0m0 6h0m1-45h0m0 1h0m0 2h0m0 1h0m0 30h0m0 6h0m0 19h0m1-60h0m0 1h0m0 4h0m0 31h0m0 2h0m0 8h0m1-41h0m0 25h0m0 1h0m0 1h0m0 4h0m0 1h0m0 9h0m1-48h0m0 2h0m0 4h0m0 1h0m0 24h0m0 8h0m1-41h0m0 5h0m0 1h0m0 2h0m0 25h0m0 5h0m0 4h0m0 5h0m1-42h0m0 32h0m1-38h0m0 6h0m0 28h0m0 1h0m0 2h0m0 1h0m0 1h0m0 1h0m1-39h0m0 4h0m0 4h0m0 43h0m0 2h0m1-50h0m0 2h0m0 50h0m1-52h0m0 5h0m0 27h0m0 1h0m0 6h0m1-34h0m0 31h0m0 10h0m1-42h0m0 26h0m0 21h0m1-50h0m0 30h0m1 8h0m0 8h0m1-44h0m0 27h0m0 4h0m0 18h0m1-47h0m0 25h0m0 3h0m0 6h0m1-41h0m0 36h0m0 2h0m0 2h0m0 1h0m0 5h0m0 18h0m1-56h0m0 27h0m0 1h0m1-32h0m0 1h0m0 29h0m0 8h0m0 1h0m0 2h0m0 4h0m1-45h0m0 2h0m1 0h0m0 26h0m1-26h0m0 26h0m1-26h0m0 26h0m0 1h0m0 2h0m0 2h0m0 2h0m0 3h0m1-44h0m0 2h0m0 4h0m0 1h0m0 36h0m1-38h0m0 1h0m0 35h0m0 9h0m1-46h0m0 3h0m1 32h0m0 7h0m1-42h0m0 3h0m0 1h0m0 32h0m1-7h0m0 21h0m1-51h0m0 6h0m0 15h0m0 4h0m0 10h0m1-39h0m0 6h0m0 3h0m0 15h0m0 3h0m0 5h0m0 4h0m0 1h0m0 4h0m0 5h0m1-43h0m0 1h0m0 4h0m0 19h0m0 3h0m0 5h0m0 5h0m0 1h0m0 1h0m1-38h0m0 4h0m0 19h0m0 9h0m1-28h0m0 16h0m0 4h0m0 3h0m0 2h0m0 6h0m0 6h0m0 1h0m1-44h0m0 4h0m0 31h0m0 4h0m0 2h0m0 13h0m1-19h0m0 5h0m0 7h0m1-45h0m0 1h0m0 3h0m0 29h0m0 5h0m1-44h0m0 7h0m0 9h0m0 3h0m0 1h0m0 21h0m1-33h0m0 4h0m0 7h0m0 3h0m0 20h0m0 3h0m0 1h0m1-38h0m0 1h0m0 5h0m0 4h0m0 22h0m1-36h0m0 3h0m0 3h0m0 1h0m0 6h0m0 2h0m0 4h0m0 16h0m0 2h0m0 3h0m1-33h0m0 1h0m0 2h0m0 6h0m0 2h0m0 1h0m0 3h0m0 12h0m0 8h0m0 1h0m0 7h0m1-42h0m0 14h0m0 11h0m0 5h0m0 1h0m0 11h0m0 2h0m1-59h0m0 19h0m0 2h0m0 3h0m0 5h0m0 12h0m1-27h0m0 1h0m0 2h0m0 2h0m0 2h0m0 22h0m0 7h0m0 11h0m1-51h0m0 2h0m0 1h0m0 4h0m0 7h0m0 1h0m0 4h0m0 16h0m0 3h0m1-48h0m0 12h0m0 5h0m0 9h0m0 1h0m0 1h0m0 1h0m0 14h0m0 1h0m1-2h0m0 3h0m0 4h0m1 6h0m1-45h0m0 4h0m0 1h0m0 1h0m0 1h0m0 25h0m0 3h0m0 10h0m1-43h0m0 4h0m0 1h0m0 26h0m0 12h0m2-38h0m0 28h0m0 1h0m0 23h0m1-55h0m0 2h0m0 42h0m0 2h0m1-47h0m0 33h0m0 10h0m1-48h0m0 10h0m1-9h0m0 1h0m0 4h0m0 3h0m0 2h0m0 26h0m0 1h0m0 2h0m1-34h0m0 2h0m0 4h0m0 25h0m0 23h0m1-55h0m0 3h0m0 4h0m0 25h0m1-36h0m0 7h0m0 1h0m0 3h0m0 23h0m0 11h0m1-39h0m0 28h0m0 18h0m2-52h0m0 34h0m0 1h0m1-30h0m0 1h0m0 29h0m0 1h0m0 2h0m0 8h0m1-42h0m0 37h0m1 4h0m1-41h0m0 5h0m0 2h0m0 1h0m0 1h0m0 1h0m0 24h0m0 2h0m1-38h0m0 4h0m0 5h0m0 4h0m1-15h0m0 1h0m0 9h0m0 5h0m0 26h0m1-35h0m0 2h0m0 3h0m0 18h0m0 7h0m0 5h0m0 14h0m1-52h0m0 2h0m0 6h0m0 1h0m0 2h0m0 1h0m0 12h0m0 3h0m0 3h0m0 5h0m0 5h0m0 3h0m1-43h0m0 24h0m0 4h0m0 12h0m1-42h0m0 1h0m0 25h0m0 8h0m0 1h0m0 2h0m0 2h0m0 1h0m0 2h0m1-43h0m0 28h0m0 2h0m0 2h0m0 10h0m0 4h0m0 26h0m1-73h0m0 37h0m1-34h0m0 35h0m0 3h0m0 3h0m0 2h0m0 1h0m1-44h0m0 40h0m0 6h0m1-47h0m0 1h0m0 1h0m0 50h0m1-57h0m0 2h0m0 1h0m1 41h0m0 1h0m0 2h0m0 1h0m0 4h0m1-44h0m1 0h0m0 33h0m0 1h0m0 2h0m1-41h0m0 5h0m0 39h0m1-43h0m0 2h0m0 3h0m0 30h0m1-35h0m0 6h0m0 6h0m0 29h0m0 8h0m0 1h0m1-45h0m0 4h0m0 20h0m0 1h0m0 2h0m0 3h0m0 1h0m0 5h0m1-39h0m0 1h0m0 3h0m0 2h0m0 4h0m0 5h0m0 11h0m0 5h0m1-25h0m0 4h0m0 3h0m0 1h0m0 2h0m0 9h0m0 7h0m0 2h0m0 1h0m1-33h0m0 4h0m0 1h0m0 3h0m0 24h0m1-36h0m0 5h0m0 8h0m0 6h0m0 9h0m0 1h0m0 1h0m0 1h0m0 1h0m0 5h0m1-30h0m0 3h0m0 8h0m0 1h0m0 20h0m0 4h0m1-40h0m0 11h0m0 1h0m0 1h0m0 1h0m0 1h0m0 19h0m1-38h0m0 5h0m0 32h0m1-33h0m0 36h0m1-4h0m0 10h0m0 12h0m1-54h0m0 4h0m0 1h0m0 47h0m1-53h0m0 3h0m0 1h0m0 3h0m0 1h0m0 24h0m0 8h0m1-37h0m0 5h0m0 23h0m0 2h0m0 6h0m1-35h0m0 4h0m0 21h0m0 4h0m1-30h0m0 25h0m0 6h0m0 3h0m0 15h0m1-49h0m0 5h0m0 21h0m1-27h0m0 2h0m0 4h0m0 21h0m0 1h0m0 1h0m1-29h0m0 2h0m0 27h0m0 3h0m1-29h0m0 1h0m0 1h0m0 28h0m0 1h0m0 2h0m1-41h0m0 5h0m0 33h0m0 15h0m1-52h0m0 5h0m0 6h0m0 5h0m0 1h0m0 29h0m1-38h0m0 6h0m0 5h0m1-20h0m0 2h0m0 8h0m0 3h0m0 8h0m0 6h0m0 1h0m0 1h0m0 1h0m0 1h0m0 3h0m0 5h0m1-32h0m0 9h0m0 1h0m0 16h0m0 5h0m1-37h0m0 3h0m0 7h0m0 6h0m0 2h0m0 1h0m0 16h0m1-9h0m0 4h0m0 2h0m0 3h0m0 3h0m1-37h0m0 25h0m0 3h0m0 8h0m1-34h0m0 30h0m0 2h0m0 1h0m0 19h0m1-55h0m0 35h0m1-37h0m0 5h0m0 1h0m0 40h0m0 3h0m0 13h0m1-57h0m0 3h0m0 29h0m0 1h0m0 3h0m0 8h0m0 11h0m1-62h0m0 40h0m0 1h0m0 3h0m0 2h0m1-34h0m0 3h0m0 30h0m0 3h0m0 2h0m1-43h0m0 1h0m0 1h0m0 7h0m0 1h0m0 40h0m1-51h0m0 1h0m0 6h0m0 4h0m0 29h0m0 6h0m1-51h0m0 10h0m0 2h0m0 4h0m0 28h0m0 9h0m1-50h0m0 1h0m0 3h0m0 2h0m0 3h0m0 5h0m0 24h0m0 1h0m1-30h0m0 4h0m0 28h0m1-42h0m0 4h0m0 8h0m0 1h0m0 25h0m1 4h0m1-41h0m0 37h0m1-36h0m0 41h0m1-39h0m0 34h0m0 9h0m0 7h0m0 1h0m1-17h0m1 1h0m0 22h0m1-59h0m0 1h0m0 37h0m0 8h0m1-43h0m0 32h0m1-32h0m0 1h0m0 30h0m0 3h0m0 13h0m1-17h0m0 20h0m1-51h0m0 32h0m1-29h0m0 31h0m1-30h0m0 1h0m0 1h0m0 1h0m0 29h0m0 8h0m1-10h0m1-34h0m0 8h0m1-4h0m0 3h0m0 19h0m0 15h0m1-36h0m0 1h0m0 1h0m0 18h0m0 3h0m0 2h0m0 3h0m0 2h0m0 24h0m1-60h0m0 2h0m0 32h0m0 2h0m1-30h0m0 20h0m0 23h0m0 7h0m1-30h0m0 1h0m0 2h0m0 1h0m0 2h0m0 21h0m1-52h0m0 1h0m0 2h0m0 29h0m0 1h0m1 1h0m0 12h0m1-49h0m0 3h0m0 3h0m0 27h0m0 10h0m1-22h0m0 1h0m0 2h0m0 2h0m0 7h0m0 5h0m0 10h0m0 6h0m1-53h0m0 2h0m0 3h0m0 18h0m0 6h0m0 3h0m0 1h0m1-30h0m0 2h0m0 14h0m0 8h0m0 7h0m0 2h0m0 13h0m1-54h0m0 2h0m0 5h0m0 18h0m0 5h0m0 5h0m0 8h0m0 2h0m0 3h0m0 14h0m1-55h0m0 20h0m0 1h0m0 9h0m0 2h0m0 6h0m1-36h0m0 28h0m0 3h0m0 1h0m0 6h0m1-38h0m0 34h0m1-45h0m0 5h0m0 27h0m0 1h0m0 1h0m0 1h0m0 4h0m0 6h0m0 10h0m0 3h0m1-57h0m0 4h0m0 5h0m0 21h0m0 1h0m0 4h0m0 1h0m0 1h0m0 1h0m0 3h0m0 4h0m0 1h0m0 2h0m1-44h0m0 4h0m0 29h0m0 1h0m1-34h0m0 1h0m0 2h0m0 23h0m0 12h0m0 1h0m0 1h0m0 2h0m1-39h0m0 24h0m0 6h0m0 3h0m0 4h0m0 5h0m0 2h0m1-49h0m0 31h0m0 1h0m0 2h0m1-35h0m0 2h0m0 6h0m0 29h0m0 8h0m1-38h0m0 4h0m0 29h0m0 5h0m1-45h0m0 3h0m0 5h0m0 1h0m0 3h0m0 29h0m1-11h0m0 1h0m0 2h0m0 2h0m0 5h0m0 1h0m0 2h0m0 11h0m1-46h0m0 9h0m0 13h0m0 3h0m0 4h0m1-30h0m0 1h0m0 3h0m0 1h0m0 4h0m0 2h0m0 16h0m0 9h0m0 5h0m1-41h0m0 3h0m0 3h0m0 1h0m0 1h0m0 4h0m0 20h0m0 2h0m0 2h0m1-34h0m0 22h0m0 1h0m0 1h0m0 3h0m1-31h0m0 1h0m0 1h0m0 6h0m0 1h0m0 4h0m0 1h0m0 23h0m1-35h0m0 4h0m0 3h0m0 3h0m0 17h0m0 5h0m0 1h0m0 1h0m0 1h0m0 13h0m0 1h0m1-48h0m0 2h0m0 3h0m0 3h0m0 9h0m0 1h0m0 20h0m1-39h0m0 2h0m0 4h0m0 14h0m0 4h0m0 5h0m0 2h0m0 5h0m1-35h0m0 5h0m0 10h0m0 5h0m0 1h0m0 4h0m0 4h0m0 1h0m1-26h0m0 12h0m0 3h0m0 7h0m0 6h0m0 1h0m1-41h0m0 7h0m0 4h0m0 17h0m0 1h0m0 2h0m0 7h0m0 2h0m0 4h0m1-33h0m0 25h0m0 3h0m0 21h0m0 7h0m1-59h0m0 1h0m0 15h0m0 1h0m0 1h0m0 7h0m0 4h0m0 1h0m0 8h0m0 2h0m0 9h0m1-46h0m0 26h0m1-32h0m0 50h0m0 3h0m1-52h0m0 32h0m0 5h0m1-38h0m0 5h0m0 29h0m1-31h0m0 2h0m0 29h0m0 1h0m0 1h0m0 1h0m1-1h0m1-35h0m0 35h0m0 17h0m1-71h0m0 19h0m0 1h0m0 32h0m1 0h0m1-32h0m0 31h0m0 5h0m1-41h0m0 1h0m0 50h0m1-51h0m0 5h0m0 31h0m0 4h0m0 11h0m1-13h0m0 5h0m0 4h0m1-42h0m0 27h0m0 2h0m0 1h0m0 4h0m0 2h0m1-36h0m0 1h0m0 25h0m0 5h0m0 13h0m1-48h0m0 2h0m0 28h0m0 4h0m1-36h0m0 3h0m0 32h0m0 4h0m0 5h0m0 1h0m1-38h0m0 27h0m0 5h0m0 1h0m0 7h0m1-40h0m0 18h0m0 1h0m0 11h0m0 1h0m0 2h0m0 5h0m1-41h0m0 1h0m0 20h0m0 3h0m0 1h0m0 3h0m0 3h0m0 2h0m1-34h0m0 21h0m0 5h0m0 8h0m0 9h0m1-42h0m0 26h0m0 3h0m0 4h0m0 10h0m1-21h0m0 3h0m0 1h0m0 4h0m0 3h0m0 11h0m1-46h0m0 4h0m0 1h0m0 2h0m0 1h0m0 16h0m0 2h0m0 2h0m0 9h0m0 3h0m0 2h0m0 16h0m0 6h0m1-66h0m0 4h0m0 6h0m0 17h0m0 4h0m0 1h0m0 3h0m0 3h0m0 3h0m1-38h0m0 3h0m0 5h0m0 16h0m0 4h0m0 9h0m0 1h0m0 5h0m0 7h0m1-41h0m0 15h0m0 7h0m0 2h0m1-30h0m0 1h0m0 4h0m0 17h0m0 1h0m0 1h0m0 8h0m0 7h0m1-52h0m0 11h0m0 6h0m0 30h0m0 3h0m0 4h0m0 17h0m1-57h0m0 35h0m1-46h0m0 9h0m0 2h0m0 38h0m0 2h0m1-41h0m0 4h0m0 1h0m0 30h0m0 8h0m1-38h0m0 1h0m0 29h0m1-37h0m1-2h0m0 3h0m0 7h0m0 30h0m0 2h0m1-35h0m0 2h0m0 1h0m0 27h0m0 1h0m0 1h0m1-35h0m0 3h0m0 28h0m0 11h0m0 7h0m1-51h0m1 1h0m0 32h0m0 3h0m1-3h0m1-30h0m0 37h0m0 15h0m1-53h0m1 31h0m0 1h0m0 3h0m1-6h0m0 4h0m0 15h0m1-49h0m0 1h0m0 10h0m0 18h0m0 6h0m0 20h0m1-53h0m0 1h0m0 1h0m0 1h0m0 25h0m0 3h0m0 1h0m0 7h0m0 1h0m1-40h0m0 3h0m0 3h0m0 1h0m0 4h0m0 2h0m0 1h0m0 31h0m1-35h0m0 20h0m1-31h0m0 1h0m0 3h0m0 2h0m0 2h0m0 3h0m0 4h0m0 17h0m0 3h0m1-41h0m0 10h0m0 7h0m0 4h0m0 18h0m0 3h0m0 1h0m0 3h0m0 17h0m1-44h0m0 1h0m0 19h0m0 5h0m0 5h0m1-39h0m0 2h0m0 27h0m0 5h0m1-39h0m0 1h0m0 2h0m0 5h0m0 29h0m1-29h0m1-7h0m0 2h0m0 1h0m0 1h0m0 33h0m1-41h0m0 5h0m0 2h0m0 3h0m0 27h0m0 4h0m0 4h0m1-42h0m0 33h0m1-42h0m0 4h0m0 12h0m0 29h0m0 6h0m1-40h0m0 3h0m0 1h0m0 26h0m0 4h0m1-39h0m0 9h0m0 34h0m1-40h0m0 5h0m0 27h0m0 1h0m1-35h0m0 1h0m0 1h0m0 2h0m0 5h0m0 3h0m0 1h0m0 2h0m0 1h0m0 19h0m0 1h0m0 1h0m0 6h0m1-44h0m0 17h0m0 21h0m0 1h0m0 1h0m0 2h0m0 2h0m0 3h0m1-45h0m0 4h0m0 1h0m0 1h0m0 3h0m0 1h0m0 5h0m0 6h0m0 1h0m0 2h0m0 3h0m0 3h0m0 11h0m0 6h0m1-47h0m0 4h0m0 7h0m0 8h0m0 5h0m0 9h0m0 1h0m0 2h0m0 2h0m0 5h0m1-42h0m0 2h0m0 1h0m0 4h0m0 4h0m0 3h0m0 4h0m0 6h0m0 3h0m0 12h0m0 2h0m1-37h0m0 7h0m0 2h0m0 5h0m0 5h0m0 1h0m0 6h0m0 6h0m1-36h0m0 19h0m0 1h0m0 1h0m0 1h0m0 10h0m0 2h0m0 2h0m0 6h0m1-43h0m0 45h0m1-7h0m0 4h0m0 1h0m0 5h0m0 9h0m1-56h0m0 29h0m0 3h0m0 1h0m0 3h0m0 2h0m0 1h0m0 1h0m1-41h0m0 30h0m0 7h0m1-37h0m0 30h0m0 6h0m1-38h0m0 4h0m0 31h0m0 6h0m0 1h0m1 5h0m0 19h0m1-12h0m1-53h0m0 2h0m0 26h0m0 1h0m0 5h0m0 5h0m0 18h0m1-26h0m0 5h0m1-32h0m0 28h0m0 4h0m1-37h0m0 5h0m0 24h0m0 8h0m0 2h0m0 10h0m1-51h0m0 31h0m0 1h0m0 1h0m0 1h0m0 1h0m0 3h0m0 2h0m1-32h0m0 27h0m0 1h0m0 1h0m0 1h0m0 1h0m0 3h0m1 0h0m0 2h0m0 1h0m0 9h0m0 6h0m1-53h0m0 2h0m0 38h0m1-8h0m0 3h0m1-31h0m0 25h0m0 1h0m0 6h0m1-33h0m0 30h0m0 3h0m1-3h0m1-36h0m0 4h0m0 29h0m0 4h0m0 4h0m0 3h0m1-6h0m0 2h0m1-37h0m1 0h0m0 31h0m0 1h0m1-38h0m0 4h0m0 34h0m1 0h0m0 13h0m1-48h0m0 1h0m0 38h0m1-41h0m0 2h0m0 35h0m0 1h0m0 6h0m1-39h0m0 1h0m0 33h0m0 10h0m1-47h0m0 5h0m0 28h0m1-28h0m0 32h0m1-8h0m0 2h0m0 4h0m1-41h0m0 9h0m0 25h0m0 4h0m0 5h0m0 8h0m1-43h0m0 1h0m0 25h0m0 8h0m0 1h0m0 4h0m0 1h0m0 7h0m1-51h0m0 4h0m0 27h0m0 5h0m0 8h0m0 10h0m1-53h0m0 27h0m0 5h0m0 1h0m1-36h0m0 4h0m0 28h0m0 1h0m0 7h0m0 8h0m1-46h0m0 3h0m0 23h0m0 9h0m0 3h0m0 2h0m0 10h0m1-47h0m0 1h0m0 23h0m0 5h0m0 3h0m0 2h0m0 2h0m0 14h0m0 13h0m1-58h0m0 3h0m0 3h0m0 2h0m0 1h0m0 13h0m0 9h0m0 1h0m0 23h0m1-58h0m0 10h0m0 4h0m0 10h0m0 5h0m0 5h0m1-35h0m0 2h0m0 3h0m0 2h0m0 1h0m0 3h0m0 4h0m0 20h0m1-34h0m0 3h0m0 7h0m0 4h0m0 21h0m1-44h0m0 20h0m0 1h0m0 23h0m1-37h0m0 35h0m0 5h0m1-39h0m0 33h0m1-34h0m1 36h0m1-36h0m0 35h0m0 12h0m1-15h0m0 1h0m0 1h0m0 2h0m0 9h0m1-43h0m0 35h0m1-6h0m1-32h0m0 4h0m0 34h0m1-34h0m0 27h0m0 11h0m1-38h0m0 28h0m0 16h0m1-17h0m1-25h0m0 25h0m1-31h0m0 5h0m0 26h0m0 1h0m0 3h0m1 5h0m0 5h0m0 13h0m1-54h0m0 32h0m0 14h0m0 1h0m1-48h0m0 30h0m0 5h0m1-34h0m0 38h0m1-37h0m0 2h0m1-1h0m0 29h0m0 1h0m0 1h0m0 17h0m1-50h0m0 1h0m0 4h0m0 29h0m1-34h0m0 1h0m0 5h0m0 24h0m1-24h0m0 14h0m0 3h0m0 13h0m1-40h0m0 3h0m0 4h0m0 3h0m0 12h0m0 8h0m0 2h0m0 2h0m0 1h0m0 2h0m1-34h0m0 3h0m0 2h0m0 17h0m0 8h0m0 3h0m0 4h0m1-38h0m0 19h0m0 7h0m0 7h0m0 2h0m0 2h0m0 8h0m1-49h0m0 23h0m0 3h0m0 7h0m0 1h0m0 8h0m1-38h0m0 21h0m0 3h0m1-24h0m0 34h0m2-38h0m0 3h0m0 1h0m0 1h0m0 33h0m0 1h0m0 6h0m0 4h0m0 5h0m1-49h0m0 34h0m0 1h0m0 3h0m1-45h0m0 8h0m0 34h0m0 1h0m0 1h0m0 8h0m1-13h0m0 7h0m0 2h0m1-41h0m0 36h0m1-41h0m0 2h0m0 1h0m0 34h0m0 7h0m1-43h0m0 36h0m0 1h0m0 1h0m0 3h0m0 10h0m1-47h0m0 43h0m1-43h0m1-2h0m0 36h0m0 2h0m1-2h0m1-35h0m0 34h0m0 5h0m1-44h0m1 3h0m0 1h0m0 37h0m0 4h0m0 14h0m1-57h0m0 56h0m1-58h0m0 5h0m0 2h0m0 1h0m0 2h0m0 1h0m0 37h0m1-37h0m0 1h0m0 24h0m0 4h0m1-36h0m0 3h0m0 31h0m1-33h0m0 1h0m0 2h0m0 4h0m0 3h0m0 24h0m0 18h0m0 9h0m1-58h0m0 1h0m0 9h0m0 3h0m0 14h0m0 3h0m0 1h0m1-35h0m0 6h0m0 4h0m0 3h0m0 4h0m0 15h0m1-29h0m0 2h0m0 1h0m0 2h0m0 9h0m0 20h0m1-30h0m0 4h0m0 2h0m0 3h0m0 10h0m0 8h0m0 4h0m1-36h0m0 1h0m0 4h0m0 6h0m0 2h0m0 11h0m0 3h0m0 3h0m0 9h0m1-34h0m0 18h0m0 8h0m0 4h0m0 4h0m0 1h0m0 2h0m0 8h0m1-51h0m0 2h0m0 2h0m0 21h0m0 3h0m0 1h0m0 2h0m1-31h0m0 7h0m0 1h0m0 1h0m0 16h0m0 18h0m1-41h0m0 7h0m1 22h0m0 2h0m0 3h0m0 16h0m1-49h0m0 1h0m0 2h0m0 3h0m0 26h0m0 2h0m1-35h0m0 1h0m0 4h0m0 2h0m1-7h0m0 35h0m1-38h0m0 1h0m0 35h0m1-33h0m1-10h0m0 16h0m0 3h0m0 4h0m0 5h0m0 3h0m0 2h0m0 3h0m0 1h0m0 4h0m0 4h0m1-38h0m0 1h0m0 2h0m0 2h0m0 1h0m0 1h0m0 1h0m0 2h0m0 1h0m0 3h0m0 1h0m0 2h0m0 1h0m0 1h0m0 4h0m0 2h0m0 4h0m0 2h0m0 1h0m0 1h0m0 2h0m0 7h0m0 15h0" stroke="#ffa526" stroke-width="3.9" stroke-linecap="round" fill="none"/>
<g class="tk" text-anchor="middle"><text transform="translate(1473.8 390.5) scale(1.12 1)">0</text><text transform="translate(1565.3 390.5) scale(1.12 1)">2</text><text transform="translate(1656.8 390.5) scale(1.12 1)">4</text><text transform="translate(1748.3 390.5) scale(1.12 1)">6</text><text transform="translate(1839.8 390.5) scale(1.12 1)">8</text><text transform="translate(1931.3 390.5) scale(1.12 1)">10</text></g>
<g class="tk" text-anchor="end"><text x="1463.6" y="359.7">0.2</text><text x="1463.6" y="229.9">0.3</text><text x="1463.6" y="100.0">0.4</text></g>
<text class="xl" x="1710.4" y="413.6" text-anchor="middle">DSL</text>
<text class="yl" transform="translate(1404.5 222.2) rotate(-90) scale(1 0.9)" text-anchor="middle">&#961;</text>
<text class="ti" x="1732.0" y="88.8" text-anchor="middle">Green</text>
<path d="M208.5 453.8V712.5M300.0 453.8V712.5M391.5 453.8V712.5M483.0 453.8V712.5M574.5 453.8V712.5M117.0 626.3H632.2M117.0 540.0H632.2" stroke="#dadada" stroke-width="2.8" fill="none"/>
<path d="M139.9 453.8V712.5M162.8 453.8V712.5M185.6 453.8V712.5M231.4 453.8V712.5M254.2 453.8V712.5M277.1 453.8V712.5M322.9 453.8V712.5M345.8 453.8V712.5M368.6 453.8V712.5M414.4 453.8V712.5M437.2 453.8V712.5M460.1 453.8V712.5M505.9 453.8V712.5M528.8 453.8V712.5M551.6 453.8V712.5M597.4 453.8V712.5M620.2 453.8V712.5" stroke="#aaaaaa" stroke-width="2.7" stroke-dasharray="2.7 3.35" stroke-dashoffset="3.3" fill="none"/>
<path d="M117.0 695.3H632.2M117.0 678.0H632.2M117.0 660.8H632.2M117.0 643.5H632.2M117.0 609.0H632.2M117.0 591.8H632.2M117.0 574.5H632.2M117.0 557.3H632.2M117.0 522.8H632.2M117.0 505.5H632.2M117.0 488.3H632.2M117.0 471.0H632.2" stroke="#aaaaaa" stroke-width="2.7" stroke-dasharray="2.7 3.35" stroke-dashoffset="0.8" fill="none"/>
<path d="M117.0 712.5v-6M117.0 453.8v6M208.5 712.5v-6M208.5 453.8v6M300.0 712.5v-6M300.0 453.8v6M391.5 712.5v-6M391.5 453.8v6M483.0 712.5v-6M483.0 453.8v6M574.5 712.5v-6M574.5 453.8v6M117.0 712.5h6M632.2 712.5h-6M117.0 626.3h6M632.2 626.3h-6M117.0 540.0h6M632.2 540.0h-6M117.0 453.8h6M632.2 453.8h-6" stroke="#111" stroke-width="2.6" fill="none"/>
<rect x="117.0" y="453.8" width="515.2" height="258.7" fill="none" stroke="#111" stroke-width="2.6"/>
<path d="M127 562h0m0 2h0m0 9h0m0 14h0m1-34h0m0 3h0m0 4h0m0 1h0m0 5h0m0 2h0m0 3h0m0 1h0m0 2h0m0 1h0m0 3h0m0 1h0m0 7h0m0 1h0m0 1h0m0 1h0m0 6h0m0 4h0m1-19h0m0 1h0m0 2h0m0 1h0m0 10h0m2-35h0m0 40h0m2-46h0m1 38h0m0 32h0m1-17h0m1-52h0m2 18h0m0 26h0m1-53h0m0 14h0m1-9h0m1 50h0m3-53h0m0 58h0m1-57h0m0 10h0m0 12h0m1-10h0m1 38h0m2-49h0m0 40h0m2 20h0m1-65h0m0 15h0m0 19h0m0 28h0m1-43h0m0 41h0m2-52h0m0 42h0m0 17h0m1-64h0m1 54h0m2-36h0m0 9h0m2-35h0m0 9h0m0 8h0m0 47h0m0 10h0m1-4h0m3-55h0m0 45h0m1-44h0m1 47h0m2-35h0m0 15h0m1-28h0m1 56h0m1-58h0m0 49h0m1-51h0m0 43h0m1-42h0m1 9h0m0 42h0m3-5h0m2-55h0m0 10h0m0 56h0m1-52h0m0 50h0m0 7h0m3-64h0m0 1h0m0 49h0m0 12h0m1-67h0m1 47h0m1-44h0m1 10h0m0 46h0m1-55h0m0 65h0m1-64h0m1 58h0m0 1h0m1-56h0m0 51h0m2-42h0m1 20h0m2 23h0m1-53h0m1 15h0m0 23h0m1-43h0m0 53h0m3-57h0m0 7h0m0 57h0m1-57h0m0 5h0m1 56h0m1-8h0m1-52h0m0 44h0m1-38h0m2 47h0m4-54h0m0 53h0m2-9h0m1-39h0m0 31h0m2-30h0m0 10h0m0 36h0m3-4h0m2-21h0m0 37h0m1-60h0m0 7h0m0 37h0m2-45h0m0 55h0m0 5h0m1-71h0m1 9h0m0 49h0m1-50h0m1-2h0m0 61h0m1-52h0m0 34h0m1-47h0m1 27h0m0 42h0m1-11h0m1-48h0m2-5h0m0 66h0m1-65h0m0 13h0m1 45h0m1-56h0m1-10h0m0 56h0m1-27h0m2 35h0m1-54h0m0 12h0m0 46h0m1-52h0m0 52h0m1-59h0m0 33h0m2 19h0m2-8h0m2-42h0m0 12h0m0 39h0m1-50h0m1 54h0m0 5h0m1-18h0m1 24h0m1-65h0m0 3h0m1 28h0m0 13h0m2 12h0m1-59h0m0 1h0m0 53h0m1-37h0m1-7h0m3 50h0m1-61h0m0 4h0m1 48h0m1-6h0m0 13h0m0 3h0m1 8h0m2-72h0m0 15h0m1-10h0m2 49h0m1-57h0m0 25h0m1 53h0m1-18h0m1-55h0m1 47h0m1-40h0m1 43h0m1 7h0m2-55h0m1 56h0m1-30h0m1-31h0m0 11h0m1-5h0m0 46h0m0 6h0m1-15h0m1-29h0m1-14h0m4 49h0m1-42h0m0 50h0m0 2h0m2 8h0m1-60h0m0 11h0m1 40h0m1-44h0m0 38h0m0 6h0m1-50h0m0 49h0m1-25h0m2-26h0m1 51h0m1-58h0m0 20h0m0 28h0m0 10h0m2-60h0m0 12h0m1 51h0m2-26h0m2-30h0m0 6h0m1 42h0m1-20h0m1-32h0m0 37h0m0 18h0m1 8h0m1-54h0m0 51h0m1-69h0m1 71h0m1 0h0m1-13h0m1-47h0m0 16h0m2 45h0m1-9h0m1-46h0m2 45h0m0 22h0m1-75h0m0 16h0m1 45h0m2-16h0m2-41h0m0 12h0m0 34h0m0 10h0m1 8h0m1-60h0m1 49h0m2-47h0m1 40h0m1 9h0m2-35h0m1-19h0m2-5h0m0 52h0m0 9h0m1-2h0m0 2h0m2 6h0m1-21h0m0 10h0m2-53h0m0 53h0m1-28h0m1 6h0m2 24h0m1-12h0m0 14h0m1-51h0m0 3h0m0 27h0m0 29h0m1-67h0m0 1h0m0 51h0m1-6h0m1-18h0m1 39h0m1-67h0m0 61h0m1-60h0m0 1h0m0 10h0m0 47h0m1-56h0m0 54h0m1-39h0m1 34h0m1-42h0m3 45h0m1-49h0m1-7h0m0 53h0m0 21h0m0 1h0m0 2h0m1 3h0m1-81h0m0 48h0m0 9h0m1-35h0m0 32h0m1 18h0m1-61h0m0 50h0m1-54h0m1 52h0m1-59h0m0 14h0m2-6h0m1 43h0m0 15h0m1-38h0m0 11h0m1 22h0m1-56h0m0 14h0m1 35h0m2-50h0m1-6h0m0 12h0m0 55h0m2-27h0m0 2h0m0 16h0m1-53h0m1 1h0m0 12h0m2 17h0m1-10h0m0 28h0m0 16h0m1-62h0m0 56h0m0 3h0m1-56h0m0 49h0m1-58h0m0 53h0m1-39h0m1 16h0m1 16h0m0 6h0m1-29h0m1 51h0m1-22h0m1-46h0m1 2h0m0 10h0m0 44h0m1-58h0m0 69h0m2-64h0m0 1h0m0 43h0m1-11h0m1-31h0m0 44h0m0 4h0m0 6h0m1 10h0m2-9h0m1-48h0m1-6h0m1 47h0m1-56h0m1 7h0m1 3h0m0 36h0m0 2h0m0 18h0m1-6h0m3-42h0m0 36h0m2-53h0m1 6h0m1-5h0m0 12h0m1 46h0m0 9h0m1-68h0m1 0h0m0 1h0m0 75h0m1-55h0m1-16h0m0 48h0m2-10h0m2-39h0m0 56h0m2-51h0m1-12h0m1 73h0m1-68h0m0 29h0m1-38h0m0 61h0m3-50h0m0 54h0m1 3h0m0 1h0m1-50h0m1 4h0m1-14h0m0 49h0m2-44h0m0 30h0m0 22h0m3-56h0m0 63h0m1-20h0m2 7h0m2-50h0m0 2h0m0 56h0m0 9h0m1-1h0m2-66h0m0 47h0m1-36h0m0 52h0m1 0h0m1-64h0m0 53h0m0 9h0m2-53h0m1 21h0m0 10h0m0 9h0m0 4h0m0 2h0m1-54h0m0 50h0m1 12h0m3-64h0m0 7h0m2 8h0m1 35h0m1-53h0m1 31h0m0 35h0m1-11h0m1-35h0m1-12h0m0 27h0m0 8h0m0 12h0m1-51h0m1 1h0m1 6h0m0 46h0m2-40h0m0 39h0m1-51h0m2 0h0m1 7h0m0 44h0m2-52h0m1 53h0m1-39h0m0 58h0m1-78h0m2 54h0m1-43h0m1 32h0m0 21h0m1-45h0m0 38h0m0 11h0m1-17h0m3-43h0m0 57h0m1-53h0m0 21h0m0 28h0m3-55h0m0 15h0m1 8h0m0 28h0m0 8h0m2-59h0m1 67h0m2-75h0m0 62h0m1-56h0m0 12h0m1 50h0m1-58h0m0 27h0m0 25h0m1-6h0m0 12h0m2-65h0m0 50h0m1-47h0m0 7h0m1 59h0m2-12h0m0 4h0m2-50h0m0 21h0m1-28h0m2 48h0m2 7h0m1-52h0m0 10h0m0 46h0m1 4h0m1-16h0m1 13h0m1-52h0m1 47h0m1-52h0m2 45h0m1-44h0m1-1h0m0 7h0m0 44h0m2-51h0m0 50h0m2-62h0m3 9h0m1 7h0m0 39h0m0 11h0m1-36h0m0 43h0m1-10h0m1-58h0m1 2h0m0 8h0m2 29h0m1-22h0m1 31h0m0 8h0m1 7h0m2-56h0m1-6h0m0 60h0m1-51h0m1 55h0m1-59h0m0 15h0m1 29h0m1-44h0m0 49h0m1-45h0m1 33h0m1-37h0m0 53h0m0 10h0m3-67h0m2-8h0m1 16h0m0 44h0m1-38h0m0 33h0m1-27h0m0 48h0m1-10h0m0 3h0m0 3h0m2-63h0m1 47h0m2-39h0m0 46h0m2-14h0m0 22h0m1-63h0m0 60h0m1-49h0m0 46h0m2 18h0m1-78h0m0 56h0m2-48h0m1-8h0m0 47h0m2 8h0m1-38h0m1-16h0m0 1h0m0 55h0m2-53h0m0 4h0m0 60h0m1-78h0m1 57h0m0 6h0m0 8h0m1-25h0m3-18h0m1-15h0m0 65h0m1-65h0m0 5h0m1 51h0m1 8h0m1-6h0m1-52h0m0 37h0m1-33h0m2 40h0m1-42h0m0 8h0m0 22h0m0 38h0m1-5h0m2-63h0m0 41h0m0 4h0m1-46h0m0 77h0m1-79h0m0 1h0m0 24h0m0 3h0m0 5h0m0 1h0m0 1h0m0 5h0m1-36h0m0 2h0m0 9h0m0 1h0m0 4h0m0 3h0m0 6h0m0 2h0m0 1h0m0 6h0m1-35h0m0 5h0m0 4h0m0 5h0m0 2h0m0 11h0" stroke="#0000ff" stroke-width="10.2" stroke-linecap="round" fill="none"/>
<path d="M289.5 579H290.5V562H291.5V566H295.5V559H296.5V557H297.5V564H301.5V563H303.5V561H305.5V576H309.5V564H311.5V559H314.5V560H315.5V562H319.5V579H323.5V567H324.5V561H326.5V558H330.5V559H331.5V560H335.5V562H337.5V564H340.5V561H349.5V555H350.5V572H352.5V575H356.5V554H357.5V563H358.5V575H366.5V560H367.5V562H371.5V563H372.5V566H375.5V567H376.5V568H380.5V562H382.5V572H385.5V562H388.5V570H389.5V575H393.5V566H395.5V565H396.5V578H400.5V568H402.5V555H403.5V557H404.5V562H405.5V563H406.5V577H410.5V572H413.5V565H414.5V561H415.5V562H418.5V559H419.5V563H424.5V564H427.5V567H428.5V568H432.5V567H433.5V555H434.5V574H438.5V560H442.5V561H443.5V562H447.5V561H449.5V558H450.5V564H455.5V563H456.5V569H459.5V558H461.5V556H462.5V557H464.5V558H465.5V559H467.5V560H475.5V559H477.5V591H473.5V594H464.5V590H462.5V587H456.5V593H455.5V594H454.5V579H450.5V596H449.5V598H446.5V600H445.5V598H444.5V596H443.5V593H442.5V591H438.5V598H437.5V597H436.5V596H432.5V588H428.5V595H427.5V596H422.5V586H418.5V596H417.5V595H413.5V589H410.5V587H407.5V598H406.5V597H405.5V591H404.5V581H400.5V592H398.5V596H396.5V600H395.5V586H390.5V599H389.5V590H385.5V591H381.5V594H380.5V595H379.5V599H378.5V595H377.5V594H376.5V593H372.5V594H370.5V593H367.5V579H363.5V597H362.5V599H361.5V593H359.5V587H358.5V580H354.5V581H353.5V591H350.5V598H349.5V597H347.5V592H341.5V594H337.5V590H330.5V593H325.5V596H324.5V584H321.5V598H320.5V599H319.5V595H316.5V593H315.5V580H311.5V592H306.5V579H305.5V578H301.5V592H296.5V591H295.5V586H290.5V593H289.5Z" fill="#ffa526"/>
<path d="M127 564h0m0 2h0m0 6h0m0 18h0m1-32h0m0 6h0m0 1h0m0 5h0m0 1h0m0 1h0m0 1h0m0 1h0m0 1h0m0 1h0m0 1h0m0 1h0m0 1h0m0 3h0m0 2h0m0 4h0m0 2h0m0 2h0m0 1h0m0 3h0m0 7h0m1-37h0m0 3h0m0 12h0m0 1h0m0 2h0m0 2h0m0 1h0m0 1h0m0 5h0m1-33h0m0 3h0m0 1h0m0 10h0m0 5h0m0 13h0m0 1h0m0 1h0m0 3h0m1-35h0m0 1h0m0 8h0m0 2h0m0 3h0m0 7h0m0 2h0m0 5h0m0 7h0m0 4h0m1-43h0m0 4h0m0 2h0m0 2h0m0 1h0m0 1h0m0 1h0m0 10h0m0 1h0m0 7h0m0 3h0m1-31h0m0 9h0m0 2h0m0 5h0m0 2h0m0 6h0m0 3h0m0 7h0m1-21h0m0 8h0m0 9h0m0 4h0m0 3h0m0 25h0m1-61h0m0 2h0m0 1h0m0 2h0m0 1h0m0 6h0m0 3h0m0 10h0m0 2h0m0 4h0m0 14h0m1-46h0m0 7h0m0 3h0m0 1h0m0 2h0m0 6h0m0 2h0m0 2h0m0 7h0m0 1h0m0 1h0m0 7h0m1-35h0m0 9h0m0 6h0m0 5h0m0 5h0m0 1h0m0 6h0m1-36h0m0 6h0m0 3h0m0 4h0m0 9h0m0 2h0m0 3h0m0 13h0m1-47h0m0 9h0m0 1h0m0 6h0m0 3h0m0 1h0m0 1h0m0 4h0m0 1h0m0 15h0m0 1h0m0 4h0m1-39h0m0 6h0m0 8h0m0 1h0m0 1h0m0 1h0m0 1h0m0 7h0m0 2h0m0 2h0m0 1h0m0 2h0m0 2h0m0 2h0m0 2h0m1-41h0m0 7h0m0 2h0m0 3h0m0 1h0m0 1h0m0 8h0m0 2h0m0 2h0m0 1h0m0 9h0m0 5h0m0 2h0m0 5h0m1-33h0m0 3h0m0 8h0m0 4h0m0 3h0m0 5h0m0 2h0m1-38h0m0 5h0m0 4h0m0 6h0m0 3h0m0 4h0m0 7h0m0 1h0m0 2h0m1-40h0m0 2h0m0 5h0m0 2h0m0 2h0m0 5h0m0 2h0m0 8h0m0 1h0m0 7h0m0 3h0m0 6h0m0 2h0m0 4h0m0 7h0m1-52h0m0 7h0m0 1h0m0 1h0m0 7h0m0 1h0m0 1h0m0 4h0m0 5h0m0 6h0m0 5h0m0 7h0m1-42h0m0 1h0m0 4h0m0 6h0m0 3h0m0 1h0m0 3h0m0 1h0m0 3h0m0 5h0m0 4h0m0 11h0m0 2h0m1-47h0m0 11h0m0 3h0m0 11h0m0 8h0m0 4h0m0 1h0m0 2h0m0 2h0m0 1h0m0 3h0m1-46h0m0 7h0m0 4h0m0 9h0m0 8h0m0 4h0m0 2h0m0 1h0m0 1h0m0 4h0m0 4h0m1-44h0m0 1h0m0 5h0m0 6h0m0 4h0m0 2h0m0 2h0m0 3h0m0 3h0m0 4h0m0 5h0m0 3h0m0 9h0m1-40h0m0 6h0m0 9h0m0 5h0m0 13h0m0 2h0m0 7h0m1-48h0m0 6h0m0 16h0m0 1h0m0 4h0m0 3h0m0 1h0m0 4h0m0 4h0m0 15h0m1-64h0m0 6h0m0 5h0m0 1h0m0 2h0m0 3h0m0 3h0m0 4h0m0 2h0m0 2h0m0 2h0m0 1h0m0 6h0m0 5h0m0 1h0m0 1h0m0 2h0m0 1h0m0 13h0m1-50h0m0 7h0m0 6h0m0 6h0m0 11h0m0 13h0m0 5h0m1-47h0m0 17h0m0 2h0m0 1h0m0 4h0m0 2h0m0 7h0m0 3h0m0 2h0m0 10h0m1-50h0m0 4h0m0 2h0m0 1h0m0 3h0m0 2h0m0 4h0m0 7h0m0 2h0m0 8h0m0 7h0m0 1h0m0 2h0m0 5h0m0 10h0m1-60h0m0 1h0m0 16h0m0 3h0m0 4h0m0 5h0m0 3h0m0 1h0m0 6h0m0 4h0m0 3h0m1-43h0m0 1h0m0 6h0m0 4h0m0 6h0m0 3h0m0 1h0m0 3h0m0 4h0m0 6h0m0 3h0m0 1h0m0 3h0m0 5h0m1-42h0m0 5h0m0 4h0m0 2h0m0 9h0m0 8h0m0 10h0m1-37h0m0 14h0m0 2h0m0 3h0m0 2h0m0 3h0m0 1h0m0 4h0m0 1h0m0 6h0m1-39h0m0 2h0m0 3h0m0 1h0m0 2h0m0 1h0m0 6h0m0 3h0m0 1h0m0 16h0m0 1h0m1-44h0m0 1h0m0 5h0m0 4h0m0 3h0m0 3h0m0 1h0m0 3h0m0 10h0m0 3h0m0 5h0m0 2h0m0 5h0m0 8h0m0 1h0m0 9h0m0 1h0m1-53h0m0 6h0m0 4h0m0 3h0m0 5h0m0 7h0m0 1h0m0 5h0m0 5h0m0 1h0m0 12h0m0 1h0m1-48h0m0 5h0m0 5h0m0 3h0m0 5h0m0 3h0m0 7h0m0 5h0m0 1h0m1-38h0m0 5h0m0 7h0m0 8h0m0 3h0m0 7h0m0 5h0m1-32h0m0 2h0m0 1h0m0 2h0m0 3h0m0 4h0m0 11h0m0 2h0m0 5h0m0 8h0m0 1h0m1-45h0m0 10h0m0 1h0m0 5h0m0 5h0m0 3h0m0 5h0m0 3h0m0 5h0m0 3h0m1-39h0m0 5h0m0 1h0m0 5h0m0 2h0m0 3h0m0 6h0m0 4h0m0 2h0m0 5h0m0 6h0m0 7h0m0 1h0m1-41h0m0 12h0m0 2h0m0 3h0m0 9h0m0 4h0m0 3h0m0 1h0m1-36h0m0 1h0m0 1h0m0 3h0m0 1h0m0 5h0m0 3h0m0 5h0m0 2h0m0 4h0m0 2h0m0 1h0m0 6h0m0 4h0m1-39h0m0 5h0m0 4h0m0 3h0m0 10h0m0 1h0m0 4h0m0 4h0m0 4h0m0 4h0m1-41h0m0 1h0m0 5h0m0 3h0m0 8h0m0 1h0m0 2h0m0 2h0m0 4h0m0 1h0m0 3h0m0 6h0m0 17h0m1-50h0m0 4h0m0 5h0m0 13h0m0 10h0m0 2h0m0 7h0m1-47h0m0 6h0m0 2h0m0 10h0m0 7h0m0 7h0m0 3h0m0 2h0m0 1h0m1-30h0m0 1h0m0 3h0m0 1h0m0 7h0m0 2h0m0 4h0m0 3h0m0 3h0m0 4h0m0 6h0m1-33h0m0 3h0m0 4h0m0 2h0m0 13h0m0 4h0m0 12h0m1-39h0m0 5h0m0 7h0m0 3h0m0 1h0m0 4h0m0 1h0m0 4h0m0 6h0m0 2h0m1-33h0m0 4h0m0 3h0m0 4h0m0 6h0m0 9h0m0 2h0m0 1h0m1-30h0m0 3h0m0 3h0m0 4h0m0 5h0m0 5h0m0 4h0m0 1h0m0 8h0m0 3h0m1-36h0m0 12h0m0 6h0m0 4h0m0 6h0m0 1h0m1-39h0m0 8h0m0 4h0m0 3h0m0 3h0m0 2h0m0 6h0m0 5h0m0 2h0m0 8h0m0 17h0m1-49h0m0 1h0m0 14h0m0 12h0m0 5h0m0 3h0m0 3h0m0 2h0m0 8h0m0 5h0m1-54h0m0 6h0m0 2h0m0 5h0m0 7h0m0 1h0m0 4h0m0 5h0m0 2h0m0 1h0m1-34h0m0 1h0m0 4h0m0 3h0m0 1h0m0 3h0m0 3h0m0 4h0m0 6h0m0 4h0m0 1h0m0 11h0m1-46h0m0 2h0m0 7h0m0 1h0m0 13h0m0 2h0m0 3h0m0 3h0m0 13h0m0 2h0m0 12h0m1-62h0m0 7h0m0 4h0m0 9h0m0 2h0m0 3h0m0 16h0m0 2h0m0 3h0m1-30h0m0 1h0m0 3h0m0 2h0m0 6h0m0 3h0m0 3h0m0 3h0m0 2h0m0 4h0m0 1h0m0 4h0m1-45h0m0 10h0m0 12h0m0 3h0m0 2h0m0 2h0m0 13h0m0 6h0m1-42h0m0 2h0m0 1h0m0 3h0m0 3h0m0 18h0m0 2h0m0 3h0m0 6h0m0 7h0m1-50h0m0 1h0m0 2h0m0 1h0m0 8h0m0 5h0m0 2h0m0 3h0m0 6h0m0 1h0m0 2h0m0 4h0m0 4h0m0 4h0m0 5h0m0 12h0m1-61h0m0 10h0m0 5h0m0 11h0m0 13h0m0 3h0m0 2h0m0 1h0m1-41h0m0 3h0m0 5h0m0 9h0m0 7h0m0 2h0m0 4h0m0 11h0m0 6h0m0 4h0m1-54h0m0 2h0m0 5h0m0 5h0m0 2h0m0 2h0m0 2h0m0 5h0m0 9h0m0 4h0m0 4h0m0 5h0m0 4h0m1-46h0m0 7h0m0 9h0m0 7h0m0 5h0m0 3h0m0 4h0m0 4h0m0 3h0m0 1h0m1-41h0m0 3h0m0 1h0m0 1h0m0 1h0m0 3h0m0 1h0m0 3h0m0 3h0m0 3h0m0 4h0m0 12h0m0 5h0m0 4h0m0 1h0m1-44h0m0 5h0m0 2h0m0 3h0m0 11h0m0 3h0m0 3h0m0 1h0m0 1h0m0 1h0m0 8h0m1-42h0m0 3h0m0 14h0m0 3h0m0 3h0m0 5h0m0 9h0m0 3h0m0 2h0m1-41h0m0 5h0m0 3h0m0 5h0m0 3h0m0 3h0m0 7h0m0 10h0m0 5h0m0 1h0m0 9h0m1-54h0m0 3h0m0 3h0m0 4h0m0 3h0m0 3h0m0 11h0m0 3h0m0 4h0m0 2h0m0 1h0m0 6h0m1-41h0m0 2h0m0 1h0m0 6h0m0 8h0m0 2h0m0 3h0m0 4h0m0 3h0m0 3h0m0 5h0m0 2h0m0 5h0m1-48h0m0 10h0m0 6h0m0 9h0m0 9h0m0 5h0m0 6h0m0 4h0m1-48h0m0 18h0m0 9h0m0 4h0m0 5h0m0 4h0m0 1h0m0 6h0m1-42h0m0 2h0m0 4h0m0 2h0m0 4h0m0 4h0m0 2h0m0 2h0m0 5h0m0 1h0m0 7h0m0 3h0m0 5h0m1-47h0m0 9h0m0 6h0m0 5h0m0 8h0m0 7h0m0 2h0m0 6h0m0 1h0m0 2h0m0 1h0m0 8h0m1-56h0m0 5h0m0 6h0m0 3h0m0 11h0m0 2h0m0 8h0m0 5h0m1-27h0m0 5h0m0 2h0m0 2h0m0 3h0m0 6h0m0 2h0m0 7h0m0 2h0m0 1h0m0 1h0m0 15h0m1-53h0m0 5h0m0 4h0m0 8h0m0 5h0m0 3h0m0 6h0m0 16h0m1-51h0m0 5h0m0 1h0m0 2h0m0 11h0m0 6h0m0 5h0m0 3h0m0 5h0m0 4h0m0 3h0m1-35h0m0 2h0m0 3h0m0 2h0m0 6h0m0 4h0m0 2h0m0 7h0m0 4h0m0 5h0m1-37h0m0 2h0m0 11h0m0 5h0m0 5h0m0 2h0m0 2h0m0 7h0m0 8h0m1-37h0m0 1h0m0 2h0m0 3h0m0 18h0m0 2h0m0 1h0m0 4h0m0 2h0m0 5h0m1-47h0m0 15h0m0 3h0m0 2h0m0 3h0m0 1h0m0 1h0m0 4h0m0 1h0m0 9h0m1-36h0m0 1h0m0 1h0m0 2h0m0 2h0m0 4h0m0 14h0m0 8h0m0 7h0m1-41h0m0 10h0m0 6h0m0 4h0m0 4h0m0 7h0m0 5h0m0 2h0m1-35h0m0 2h0m0 3h0m0 6h0m0 4h0m0 4h0m0 6h0m0 1h0m0 1h0m0 2h0m0 4h0m0 8h0m1-33h0m0 1h0m0 14h0m0 3h0m0 3h0m0 1h0m0 3h0m1-34h0m0 3h0m0 1h0m0 4h0m0 3h0m0 3h0m0 2h0m0 2h0m0 4h0m0 4h0m0 8h0m1-34h0m0 1h0m0 3h0m0 3h0m0 5h0m0 9h0m0 4h0m0 5h0m0 3h0m0 1h0m0 5h0m1-31h0m0 4h0m0 3h0m0 2h0m0 1h0m0 1h0m0 8h0m0 1h0m0 1h0m0 1h0m0 6h0m1-38h0m0 2h0m0 5h0m0 3h0m0 1h0m0 2h0m0 1h0m0 5h0m0 3h0m0 3h0m0 15h0m0 3h0m1-35h0m0 4h0m0 4h0m0 2h0m0 7h0m0 2h0m0 1h0m0 6h0m0 2h0m0 5h0m1-36h0m0 5h0m0 4h0m0 17h0m0 5h0m1-29h0m0 11h0m0 1h0m0 4h0m0 11h0m0 9h0m1-38h0m0 4h0m0 3h0m0 4h0m0 4h0m0 1h0m0 2h0m0 3h0m0 1h0m0 2h0m0 7h0m0 1h0m1-25h0m0 2h0m0 4h0m0 8h0m0 2h0m0 4h0m0 4h0m0 19h0m1-53h0m0 3h0m0 2h0m0 16h0m0 7h0m0 4h0m0 2h0m0 4h0m1-35h0m0 5h0m0 2h0m0 4h0m0 3h0m0 2h0m0 5h0m0 7h0m0 3h0m1-37h0m0 3h0m0 5h0m0 8h0m0 7h0m0 7h0m0 1h0m0 3h0m0 2h0m0 14h0m0 6h0m1-54h0m0 2h0m0 9h0m0 5h0m0 3h0m0 4h0m0 6h0m0 7h0m0 1h0m1-42h0m0 1h0m0 8h0m0 4h0m0 4h0m0 2h0m0 3h0m0 6h0m0 3h0m0 9h0m0 2h0m0 5h0m1-44h0m0 3h0m0 5h0m0 3h0m0 2h0m0 2h0m0 7h0m0 11h0m0 2h0m0 9h0m1-47h0m0 4h0m0 4h0m0 5h0m0 1h0m0 7h0m0 3h0m0 6h0m0 2h0m0 1h0m0 1h0m0 2h0m0 1h0m0 3h0m0 3h0m0 2h0m0 9h0m0 2h0m1-49h0m0 2h0m0 3h0m0 1h0m0 6h0m0 8h0m0 10h0m0 5h0m1-39h0m0 1h0m0 18h0m0 2h0m0 9h0m0 4h0m0 2h0m0 12h0m1-48h0m0 4h0m0 3h0m0 2h0m0 4h0m0 1h0m0 1h0m0 9h0m0 2h0m0 2h0m0 3h0m0 3h0m0 5h0m0 17h0m1-56h0m0 1h0m0 8h0m0 3h0m0 5h0m0 13h0m0 2h0m0 7h0m0 3h0m0 2h0m1-45h0m0 1h0m0 4h0m0 1h0m0 2h0m0 4h0m0 9h0m0 2h0m0 6h0m0 4h0m0 3h0m0 2h0m1-26h0m0 3h0m0 1h0m0 2h0m0 1h0m0 7h0m0 10h0m0 4h0m0 3h0m0 2h0m0 11h0m1-57h0m0 4h0m0 7h0m0 4h0m0 2h0m0 3h0m0 4h0m0 7h0m0 2h0m0 7h0m0 2h0m0 17h0m1-60h0m0 4h0m0 4h0m0 1h0m0 8h0m0 5h0m0 8h0m0 6h0m0 6h0m0 6h0m1-46h0m0 4h0m0 1h0m0 2h0m0 2h0m0 3h0m0 4h0m0 4h0m0 5h0m0 7h0m0 5h0m0 2h0m0 5h0m0 7h0m1-51h0m0 2h0m0 7h0m0 2h0m0 2h0m0 6h0m0 3h0m0 3h0m0 4h0m0 5h0m0 4h0m0 6h0m1-40h0m0 12h0m0 6h0m0 5h0m0 4h0m0 10h0m0 1h0m0 2h0m1-42h0m0 7h0m0 1h0m0 3h0m0 2h0m0 5h0m0 5h0m0 7h0m0 4h0m0 3h0m1-34h0m0 3h0m0 1h0m0 4h0m0 3h0m0 3h0m0 3h0m0 7h0m0 4h0m0 4h0m1-30h0m0 1h0m0 8h0m0 6h0m0 3h0m0 1h0m0 26h0m1-48h0m0 7h0m0 2h0m0 4h0m0 8h0m0 6h0m0 4h0m0 4h0m0 1h0m0 5h0m0 9h0m1-50h0m0 1h0m0 4h0m0 7h0m0 1h0m0 3h0m0 8h0m0 4h0m0 6h0m0 4h0m0 11h0m1-53h0m0 3h0m0 5h0m0 5h0m0 10h0m0 3h0m0 5h0m0 4h0m0 4h0m0 2h0m0 1h0m0 7h0m1-49h0m0 6h0m0 3h0m0 3h0m0 3h0m0 4h0m0 9h0m0 1h0m0 4h0m0 5h0m0 4h0m0 4h0m0 1h0m1-45h0m0 4h0m0 3h0m0 2h0m0 3h0m0 2h0m0 3h0m0 2h0m0 2h0m0 2h0m0 2h0m0 3h0m0 8h0m0 9h0m1-45h0m0 9h0m0 21h0m0 2h0m0 2h0m0 2h0m0 4h0m1-38h0m0 3h0m0 2h0m0 6h0m0 2h0m0 7h0m0 3h0m0 11h0m0 1h0m0 6h0m1-40h0m0 8h0m0 7h0m0 2h0m0 6h0m0 2h0m0 1h0m0 2h0m1-31h0m0 2h0m0 3h0m0 2h0m0 2h0m0 5h0m0 5h0m0 5h0m0 3h0m0 5h0m0 1h0m0 2h0m0 3h0m0 6h0m1-43h0m0 4h0m0 6h0m0 5h0m0 6h0m0 7h0m0 6h0m0 4h0m1-41h0m0 8h0m0 2h0m0 7h0m0 2h0m0 9h0m0 1h0m0 6h0m0 5h0m0 13h0m0 3h0m1-55h0m0 14h0m0 7h0m0 3h0m0 1h0m0 7h0m0 5h0m1-32h0m0 3h0m0 3h0m0 6h0m0 5h0m0 8h0m0 4h0m0 4h0m0 22h0m1-59h0m0 1h0m0 3h0m0 5h0m0 9h0m0 8h0m0 5h0m0 5h0m0 12h0m1-47h0m0 3h0m0 2h0m0 5h0m0 1h0m0 2h0m0 8h0m0 2h0m0 1h0m0 1h0m0 7h0m0 9h0m1-37h0m0 7h0m0 5h0m0 3h0m0 8h0m0 2h0m0 6h0m0 1h0m0 9h0m1-38h0m0 3h0m0 5h0m0 3h0m0 3h0m0 2h0m0 4h0m0 5h0m0 5h0m0 2h0m0 11h0m0 1h0m1-55h0m0 1h0m0 3h0m0 2h0m0 1h0m0 7h0m0 3h0m0 10h0m0 4h0m0 8h0m0 10h0m1-42h0m0 2h0m0 3h0m0 2h0m0 6h0m0 3h0m0 1h0m0 5h0m0 3h0m0 2h0m1-27h0m0 28h0m0 2h0m0 3h0m0 2h0m1-34h0m0 2h0m0 3h0m0 3h0m0 2h0m0 3h0m0 5h0m0 2h0m0 3h0m0 9h0m0 2h0m0 3h0m1-22h0m0 10h0m0 4h0m1-31h0m0 4h0m0 1h0m0 3h0m0 6h0m0 4h0m0 3h0m0 3h0m0 2h0m0 3h0m0 7h0m0 1h0m0 14h0m1-55h0m0 4h0m0 2h0m0 9h0m0 6h0m0 6h0m0 10h0m0 3h0m1-37h0m0 5h0m0 3h0m0 3h0m0 2h0m0 8h0m0 7h0m0 2h0m0 2h0m0 11h0m1-46h0m0 5h0m0 6h0m0 8h0m0 4h0m0 4h0m0 2h0m0 9h0m0 13h0m0 3h0m1-57h0m0 4h0m0 18h0m0 2h0m0 11h0m0 4h0m0 8h0m0 18h0m1-59h0m0 4h0m0 2h0m0 3h0m0 1h0m0 2h0m0 2h0m0 5h0m0 3h0m0 1h0m0 3h0m0 5h0m0 5h0m1-44h0m0 6h0m0 4h0m0 3h0m0 8h0m0 9h0m0 4h0m0 2h0m0 9h0m0 5h0m1-44h0m0 2h0m0 1h0m0 2h0m0 4h0m0 3h0m0 6h0m0 1h0m0 12h0m0 4h0m0 1h0m0 4h0m0 1h0m0 2h0m1-44h0m0 7h0m0 16h0m0 4h0m0 3h0m0 4h0m1-34h0m0 2h0m0 6h0m0 3h0m0 2h0m0 2h0m0 2h0m0 5h0m0 2h0m0 3h0m0 11h0m0 2h0m0 10h0m1-56h0m0 3h0m0 1h0m0 6h0m0 8h0m0 3h0m0 5h0m0 12h0m0 4h0m0 4h0m0 4h0m1-44h0m0 4h0m0 2h0m0 3h0m0 7h0m0 3h0m0 3h0m0 2h0m0 1h0m0 4h0m0 5h0m0 3h0m0 29h0m1-69h0m0 4h0m0 14h0m0 11h0m0 8h0m0 2h0m0 9h0m0 2h0m1-50h0m0 3h0m0 5h0m0 3h0m0 3h0m0 1h0m0 2h0m0 3h0m0 3h0m0 11h0m0 6h0m0 7h0m0 3h0m1-49h0m0 5h0m0 3h0m0 4h0m0 11h0m0 2h0m0 2h0m0 3h0m0 1h0m0 3h0m0 9h0m0 5h0m1-46h0m0 9h0m0 4h0m0 3h0m0 2h0m0 17h0m0 4h0m0 3h0m1-37h0m0 8h0m0 7h0m0 3h0m0 3h0m0 3h0m0 2h0m0 6h0m0 8h0m1-43h0m0 5h0m0 4h0m0 1h0m0 4h0m0 2h0m0 15h0m0 6h0m0 6h0m0 7h0m1-43h0m0 12h0m0 4h0m0 2h0m0 2h0m0 7h0m1-37h0m0 5h0m0 1h0m0 6h0m0 3h0m0 6h0m0 2h0m0 1h0m0 9h0m0 7h0m1-32h0m0 2h0m0 4h0m0 4h0m0 2h0m0 4h0m0 11h0m0 1h0m0 3h0m0 1h0m0 2h0m0 1h0m0 8h0m1-50h0m0 5h0m0 7h0m0 4h0m0 7h0m0 3h0m0 2h0m0 2h0m0 8h0m0 2h0m1-47h0m0 11h0m0 2h0m0 13h0m0 1h0m0 2h0m0 1h0m0 7h0m0 1h0m0 1h0m0 1h0m0 2h0m0 2h0m0 1h0m0 4h0m1-42h0m0 6h0m0 2h0m0 2h0m0 4h0m0 19h0m0 9h0m0 2h0m0 3h0m1-40h0m0 3h0m0 19h0m1-26h0m0 7h0m0 20h0m0 4h0m0 1h0m0 1h0m0 1h0m0 1h0m0 4h0m1-47h0m0 10h0m0 5h0m0 24h0m0 1h0m0 5h0m1-9h0m0 2h0m1-31h0m0 1h0m0 4h0m0 1h0m1-8h0m0 36h0m0 1h0m1-35h0m0 1h0m0 1h0m0 1h0m0 2h0m0 30h0m0 6h0m1-45h0m0 38h0m0 4h0m0 7h0m1-39h0m1-1h0m0 1h0m0 15h0m0 1h0m0 5h0m0 4h0m0 2h0m0 2h0m0 21h0m1-55h0m0 19h0m0 4h0m0 16h0m0 2h0m1-41h0m0 3h0m0 16h0m0 5h0m0 3h0m0 1h0m0 6h0m0 3h0m0 7h0m1-42h0m0 22h0m0 7h0m0 8h0m0 3h0m0 3h0m1-43h0m0 17h0m0 1h0m0 4h0m0 2h0m0 4h0m0 3h0m0 4h0m0 1h0m0 8h0m1-44h0m0 1h0m0 2h0m0 3h0m0 2h0m0 3h0m0 1h0m0 2h0m0 11h0m0 5h0m0 3h0m0 2h0m1-32h0m0 8h0m0 4h0m0 5h0m0 11h0m1-35h0m0 3h0m0 4h0m0 3h0m0 25h0m1-28h0m0 6h0m0 2h0m0 1h0m0 2h0m0 1h0m0 27h0m1-51h0m0 40h0m0 5h0m0 3h0m0 2h0m0 3h0m1-54h0m0 7h0m0 2h0m0 3h0m0 1h0m0 18h0m0 3h0m0 7h0m0 1h0m0 2h0m1-47h0m0 6h0m0 1h0m0 26h0m0 2h0m0 5h0m0 3h0m0 7h0m1-43h0m0 4h0m0 21h0m0 7h0m0 4h0m0 2h0m0 1h0m0 2h0m0 2h0m0 9h0m1-27h0m0 4h0m0 5h0m0 4h0m1-38h0m0 4h0m0 1h0m0 21h0m0 3h0m0 2h0m0 7h0m0 4h0m0 4h0m1-47h0m0 7h0m0 1h0m0 20h0m0 8h0m0 8h0m0 1h0m1-47h0m0 10h0m0 32h0m0 1h0m1-1h0m0 5h0m0 3h0m1-48h0m0 1h0m0 16h0m0 27h0m1-46h0m0 3h0m0 6h0m0 1h0m0 1h0m0 2h0m0 3h0m0 6h0m0 1h0m0 3h0m0 1h0m0 16h0m0 1h0m0 1h0m0 2h0m0 1h0m1-41h0m0 1h0m0 1h0m0 1h0m0 2h0m0 5h0m0 2h0m0 4h0m0 11h0m0 1h0m0 6h0m0 6h0m0 10h0m1-57h0m0 4h0m0 1h0m0 10h0m0 7h0m0 10h0m0 5h0m0 2h0m0 6h0m0 10h0m1-51h0m0 4h0m0 8h0m0 2h0m0 3h0m0 5h0m0 1h0m0 9h0m0 2h0m0 4h0m0 4h0m1-37h0m0 1h0m0 2h0m0 3h0m0 9h0m0 1h0m0 7h0m0 4h0m0 5h0m0 3h0m0 13h0m1-48h0m0 3h0m0 3h0m0 19h0m0 1h0m0 9h0m0 11h0m1-49h0m0 35h0m0 1h0m0 6h0m0 2h0m1-48h0m0 3h0m0 1h0m0 35h0m0 5h0m1-41h0m0 44h0m1-47h0m0 4h0m0 35h0m0 16h0m1-55h0m0 38h0m0 1h0m0 1h0m0 7h0m1-43h0m0 1h0m0 32h0m0 2h0m0 1h0m0 1h0m0 1h0m1-37h0m0 35h0m0 1h0m1-1h0m0 5h0m0 22h0m1-68h0m0 7h0m0 30h0m0 1h0m0 15h0m1-51h0m0 6h0m0 29h0m0 5h0m0 12h0m1-51h0m0 1h0m0 2h0m0 31h0m0 4h0m1-32h0m0 1h0m0 28h0m0 7h0m2-43h0m0 10h0m0 29h0m0 1h0m0 3h0m0 3h0m0 2h0m0 1h0m1-44h0m0 1h0m0 3h0m0 49h0m1-55h0m0 2h0m0 1h0m0 1h0m0 2h0m1 29h0m0 2h0m0 7h0m1-10h0m1-32h0m1 0h0m0 32h0m0 3h0m1-4h0m0 6h0m0 1h0m0 7h0m1-13h0m0 3h0m0 2h0m1-36h0m0 33h0m0 1h0m1-42h0m0 2h0m0 2h0m0 1h0m0 2h0m1-1h0m0 3h0m0 9h0m0 24h0m0 3h0m0 1h0m0 6h0m1-50h0m0 8h0m0 4h0m0 2h0m0 3h0m0 19h0m0 1h0m0 10h0m0 4h0m1-55h0m0 7h0m0 2h0m0 5h0m0 26h0m0 4h0m0 2h0m0 7h0m0 2h0m1-49h0m0 5h0m0 4h0m0 3h0m0 3h0m0 2h0m0 9h0m0 6h0m0 1h0m1-36h0m0 7h0m0 7h0m0 1h0m0 1h0m0 5h0m0 6h0m0 1h0m0 3h0m0 6h0m0 5h0m0 1h0m0 1h0m0 15h0m1-59h0m0 5h0m0 5h0m0 5h0m0 2h0m0 9h0m0 1h0m0 4h0m0 2h0m0 9h0m0 1h0m0 1h0m0 6h0m1-48h0m0 6h0m0 4h0m0 8h0m0 1h0m0 10h0m0 5h0m0 1h0m0 1h0m0 2h0m0 5h0m1-46h0m0 17h0m0 17h0m0 4h0m0 12h0m1-48h0m0 1h0m0 1h0m0 2h0m0 3h0m0 1h0m0 5h0m0 13h0m0 6h0m0 4h0m0 2h0m0 1h0m0 3h0m0 1h0m0 2h0m1-41h0m0 6h0m0 7h0m0 2h0m0 1h0m0 7h0m0 1h0m0 1h0m0 3h0m0 3h0m0 1h0m1-33h0m0 8h0m0 3h0m0 2h0m0 18h0m0 4h0m0 4h0m1-38h0m0 1h0m0 2h0m0 2h0m0 6h0m0 6h0m0 17h0m0 1h0m0 3h0m0 2h0m0 4h0m1-42h0m0 7h0m0 2h0m0 5h0m0 15h0m0 9h0m0 7h0m1-54h0m0 2h0m0 10h0m0 2h0m0 5h0m0 3h0m0 7h0m0 12h0m0 21h0m1-62h0m0 4h0m0 1h0m0 2h0m0 10h0m0 2h0m0 1h0m0 3h0m0 5h0m0 4h0m0 4h0m0 9h0m0 4h0m1-42h0m0 1h0m0 2h0m0 5h0m0 9h0m0 7h0m0 3h0m0 5h0m0 2h0m0 2h0m0 1h0m1-40h0m0 4h0m0 5h0m0 6h0m0 1h0m0 3h0m0 4h0m0 4h0m0 2h0m0 3h0m0 8h0m0 5h0m1-41h0m0 9h0m0 3h0m0 1h0m0 1h0m0 1h0m0 7h0m0 1h0m0 8h0m0 2h0m0 1h0m0 3h0m0 5h0m0 11h0m1-62h0m0 35h0m0 7h0m0 3h0m0 1h0m0 10h0m1-57h0m0 8h0m0 4h0m0 30h0m0 6h0m0 7h0m1-51h0m0 8h0m0 35h0m0 6h0m1-45h0m0 1h0m0 2h0m0 1h0m0 31h0m0 1h0m0 1h0m0 8h0m1-5h0m0 1h0m1-44h0m0 1h0m0 7h0m0 2h0m0 1h0m0 28h0m2-32h0m0 4h0m0 27h0m0 7h0m1-34h0m0 27h0m0 1h0m0 6h0m0 4h0m1-41h0m0 32h0m1-46h0m0 10h0m0 1h0m0 1h0m0 7h0m0 30h0m0 2h0m0 20h0m0 1h0m0 4h0m1-62h0m0 34h0m0 29h0m1-68h0m0 2h0m0 1h0m0 2h0m0 4h0m0 1h0m0 36h0m1-42h0m0 3h0m0 29h0m0 1h0m0 4h0m1-36h0m0 6h0m0 1h0m0 1h0m0 20h0m0 1h0m0 2h0m0 24h0m1-56h0m0 3h0m0 2h0m0 5h0m0 29h0m0 4h0m1-48h0m0 1h0m0 4h0m0 6h0m0 5h0m0 17h0m1-33h0m0 2h0m0 8h0m0 24h0m0 14h0m1-57h0m0 14h0m0 2h0m0 5h0m0 1h0m0 1h0m0 22h0m1-30h0m0 27h0m0 4h0m0 1h0m1-41h0m0 8h0m0 28h0m0 7h0m1-33h0m0 3h0m0 2h0m0 1h0m0 3h0m0 18h0m0 2h0m0 5h0m0 12h0m1-49h0m0 5h0m0 4h0m0 2h0m0 2h0m0 13h0m0 2h0m0 6h0m0 5h0m1-41h0m0 1h0m0 10h0m0 5h0m0 14h0m0 3h0m0 3h0m0 1h0m0 11h0m1-52h0m0 2h0m0 6h0m0 1h0m0 1h0m0 4h0m0 1h0m0 20h0m0 9h0m1-40h0m0 2h0m0 1h0m0 4h0m0 1h0m0 1h0m0 4h0m0 3h0m0 11h0m0 3h0m0 3h0m0 5h0m0 1h0m1-32h0m0 7h0m0 1h0m0 1h0m0 15h0m0 4h0m1-42h0m0 3h0m0 3h0m0 35h0m0 2h0m0 3h0m0 1h0m1-49h0m0 10h0m0 1h0m0 3h0m0 1h0m0 3h0m0 1h0m0 17h0m0 1h0m0 1h0m0 1h0m0 12h0m0 8h0m1-54h0m0 1h0m0 3h0m0 2h0m0 2h0m0 10h0m0 2h0m0 2h0m0 19h0m0 1h0m0 2h0m1-43h0m0 10h0m0 5h0m0 2h0m0 1h0m0 20h0m0 6h0m1-47h0m0 1h0m0 9h0m0 1h0m0 4h0m0 19h0m0 9h0m1-40h0m0 2h0m0 1h0m0 3h0m0 2h0m0 4h0m0 3h0m0 3h0m0 3h0m0 1h0m0 5h0m0 6h0m0 3h0m0 9h0m1-40h0m0 1h0m0 6h0m0 8h0m0 5h0m0 3h0m0 1h0m0 7h0m0 4h0m1-41h0m0 4h0m0 6h0m0 2h0m0 1h0m0 13h0m0 4h0m0 3h0m0 1h0m0 8h0m0 1h0m1-44h0m0 3h0m0 24h0m0 4h0m0 2h0m0 10h0m0 1h0m0 3h0m0 10h0m1-57h0m0 5h0m0 1h0m0 1h0m0 20h0m0 3h0m0 1h0m0 4h0m0 2h0m0 6h0m0 10h0m0 1h0m1-56h0m0 5h0m0 4h0m0 5h0m0 26h0m0 3h0m0 1h0m0 5h0m1-48h0m0 22h0m0 18h0m0 4h0m0 1h0m1-35h0m0 5h0m0 2h0m0 3h0m0 1h0m0 2h0m0 1h0m0 14h0m1-34h0m0 2h0m0 6h0m0 7h0m0 5h0m0 10h0m0 3h0m0 2h0m0 2h0m0 2h0m1-37h0m0 3h0m0 4h0m0 7h0m0 5h0m0 8h0m0 8h0m0 1h0m0 4h0m1-42h0m0 12h0m0 1h0m0 1h0m0 1h0m0 1h0m0 1h0m1-12h0m0 2h0m0 1h0m0 1h0m0 3h0m0 3h0m0 2h0m0 1h0m0 1h0m0 12h0m0 1h0m0 5h0m0 25h0m1-61h0m0 2h0m0 1h0m0 4h0m0 3h0m0 5h0m0 16h0m0 6h0m0 1h0m0 2h0m1-42h0m0 1h0m0 1h0m0 7h0m0 4h0m0 3h0m0 20h0m1-36h0m0 6h0m0 2h0m0 1h0m0 4h0m0 1h0m0 26h0m0 11h0m1-51h0m0 1h0m0 1h0m0 3h0m0 1h0m0 33h0m0 22h0m1-58h0m0 3h0m1-5h0m0 1h0m0 38h0m1-3h0m1-33h0m0 1h0m0 25h0m0 1h0m0 3h0m0 2h0m0 6h0m0 5h0m0 5h0m1-49h0m0 3h0m0 28h0m0 5h0m0 8h0m0 15h0m1-32h0m0 5h0m0 3h0m0 2h0m0 5h0m1-43h0m0 5h0m0 23h0m0 1h0m0 2h0m0 1h0m0 19h0m1-46h0m0 29h0m0 17h0m1-47h0m0 1h0m0 34h0m1 6h0m1-45h0m0 2h0m0 4h0m1-7h0m0 8h0m0 31h0m1-37h0m0 2h0m0 5h0m0 1h0m0 22h0m0 1h0m0 1h0m0 7h0m0 16h0m1-53h0m0 2h0m0 25h0m0 5h0m0 2h0m0 11h0m1-44h0m0 6h0m0 20h0m0 4h0m0 2h0m1-34h0m0 3h0m0 5h0m0 19h0m0 5h0m0 1h0m0 2h0m0 3h0m1-39h0m0 1h0m0 2h0m0 5h0m0 21h0m0 8h0m0 1h0m0 3h0m1-45h0m0 2h0m0 2h0m0 4h0m0 25h0m0 1h0m0 1h0m0 9h0m0 1h0m0 1h0m1-46h0m0 7h0m0 3h0m0 4h0m0 3h0m0 24h0m1-37h0m0 4h0m0 10h0m0 1h0m0 22h0m0 5h0m1-50h0m0 2h0m0 1h0m0 3h0m0 3h0m0 6h0m0 1h0m0 3h0m0 4h0m0 22h0m0 1h0m1-38h0m0 1h0m0 3h0m0 34h0m0 1h0m0 8h0m0 10h0m1-64h0m0 3h0m0 1h0m0 10h0m0 2h0m0 5h0m0 25h0m0 1h0m1-47h0m0 3h0m0 1h0m0 6h0m0 9h0m0 20h0m0 3h0m0 5h0m0 3h0m0 22h0m1-64h0m0 31h0m0 5h0m0 3h0m1-42h0m0 2h0m0 32h0m0 8h0m0 1h0m1-44h0m0 35h0m0 1h0m1-36h0m0 4h0m0 34h0m0 2h0m0 6h0m0 1h0m1-47h0m0 5h0m0 1h0m0 33h0m1-41h0m0 1h0m0 43h0m0 1h0m0 3h0m0 6h0m1-8h0m0 1h0m0 3h0m1-47h0m0 4h0m0 1h0m0 37h0m1-50h0m0 49h0m1-37h0m0 58h0m1-64h0m0 3h0m0 1h0m0 22h0m0 7h0m0 7h0m0 2h0m0 2h0m1-57h0m0 17h0m0 2h0m0 2h0m0 1h0m0 15h0m0 1h0m0 2h0m0 3h0m0 7h0m0 10h0m1-44h0m0 2h0m0 4h0m0 22h0m0 4h0m0 5h0m0 8h0m1-46h0m0 3h0m0 5h0m0 14h0m0 5h0m0 5h0m0 4h0m0 3h0m0 1h0m1-45h0m0 7h0m0 5h0m0 15h0m0 3h0m0 1h0m0 18h0m0 4h0m1-46h0m0 4h0m0 18h0m0 5h0m0 1h0m0 4h0m0 3h0m0 1h0m0 13h0m0 3h0m1-51h0m0 3h0m0 5h0m0 1h0m0 29h0m0 7h0m1-50h0m0 6h0m0 5h0m0 3h0m0 19h0m0 2h0m0 2h0m1-35h0m0 2h0m0 1h0m0 2h0m0 3h0m0 28h0m0 6h0m1-33h0m0 20h0m0 5h0m0 1h0m0 2h0m1-36h0m0 6h0m0 4h0m0 19h0m0 3h0m0 1h0m0 3h0m0 1h0m0 1h0m0 8h0m0 3h0m1-52h0m0 31h0m0 8h0m0 1h0m0 6h0m1-46h0m0 35h0m0 4h0m1-37h0m0 30h0m0 1h0m0 1h0m0 1h0m0 4h0m0 20h0m1-23h0m0 2h0m0 1h0m0 1h0m0 7h0m1-45h0m0 37h0m0 5h0m0 5h0m0 3h0m1-49h0m0 36h0m0 7h0m1-6h0m1-40h0m0 4h0m0 1h0m0 34h0m0 4h0m0 3h0m0 7h0m0 8h0m1-22h0m0 23h0m1-23h0m0 1h0m0 2h0m1-40h0m0 3h0m0 34h0m0 4h0m0 2h0m1-43h0m0 37h0m0 20h0m1-54h0m0 35h0m0 20h0m1-62h0m0 38h0m0 1h0m0 2h0m0 3h0m0 7h0m0 8h0m1-53h0m0 32h0m0 4h0m1-35h0m0 30h0m1-25h0m0 4h0m0 4h0m0 3h0m0 3h0m0 4h0m0 8h0m0 8h0m0 4h0m0 1h0m0 1h0m1-53h0m0 3h0m0 3h0m0 3h0m0 1h0m0 14h0m0 3h0m0 7h0m0 3h0m0 4h0m0 1h0m0 1h0m0 2h0m0 1h0m0 4h0m1-44h0m0 7h0m0 2h0m0 4h0m0 4h0m0 5h0m0 1h0m0 32h0m1-53h0m0 3h0m0 4h0m0 3h0m0 4h0m0 2h0m0 3h0m0 5h0m0 3h0m0 3h0m0 2h0m0 1h0m0 5h0m0 5h0m1-48h0m0 4h0m0 5h0m0 8h0m0 4h0m0 1h0m0 1h0m0 4h0m0 5h0m0 4h0m0 2h0m0 3h0m0 5h0m1-49h0m0 10h0m0 7h0m0 4h0m0 8h0m0 3h0m0 11h0m1-36h0m0 6h0m0 1h0m0 5h0m0 5h0m0 13h0m1-31h0m0 10h0m0 6h0m0 5h0m0 2h0m0 2h0m0 3h0m0 6h0m0 2h0m0 1h0m0 1h0m0 1h0m1-46h0m0 11h0m0 1h0m0 9h0m0 4h0m0 5h0m0 3h0m0 4h0m0 2h0m0 2h0m0 5h0m0 3h0m1-52h0m0 7h0m0 3h0m0 1h0m0 5h0m0 1h0m0 2h0m0 3h0m0 8h0m0 9h0m1-27h0m0 3h0m0 1h0m0 3h0m0 6h0m0 1h0m0 1h0m0 4h0m0 7h0m0 4h0m0 4h0m0 2h0m0 2h0m0 14h0m1-59h0m0 18h0m0 6h0m0 4h0m0 1h0m0 3h0m0 8h0m0 8h0m1-44h0m0 1h0m0 3h0m0 7h0m0 1h0m0 3h0m0 10h0m0 6h0m0 7h0m0 3h0m1-41h0m0 1h0m0 3h0m0 2h0m0 4h0m0 6h0m0 3h0m0 2h0m0 1h0m0 5h0m0 4h0m0 3h0m0 9h0m1-47h0m0 3h0m0 1h0m0 4h0m0 3h0m0 1h0m0 1h0m0 5h0m0 2h0m0 1h0m0 1h0m0 2h0m0 3h0m0 9h0m0 4h0m0 4h0m1-41h0m0 5h0m0 7h0m0 12h0m0 3h0m0 11h0m1-34h0m0 2h0m0 1h0m0 2h0m0 5h0m0 5h0m0 5h0m0 6h0m0 1h0m0 1h0m0 3h0m0 5h0m0 6h0m1-38h0m0 3h0m0 5h0m0 4h0m0 1h0m0 2h0m0 6h0m0 7h0m1-33h0m0 12h0m0 7h0m0 2h0m0 2h0m0 7h0m0 6h0m0 2h0m0 5h0m1-48h0m0 5h0m0 2h0m0 4h0m0 4h0m0 5h0m0 13h0m0 5h0m0 2h0m1-33h0m0 1h0m0 1h0m0 1h0m0 3h0m0 4h0m0 5h0m0 3h0m0 3h0m0 2h0m0 5h0m0 7h0m1-41h0m0 2h0m0 4h0m0 3h0m0 2h0m0 2h0m0 4h0m0 12h0m0 1h0m0 1h0m0 5h0m1-33h0m0 3h0m0 2h0m0 4h0m0 8h0m0 2h0m0 4h0m0 8h0m0 3h0m0 1h0m0 2h0m0 3h0m0 4h0m1-35h0m0 3h0m0 2h0m0 7h0m0 2h0m0 15h0m0 1h0m1-39h0m0 5h0m0 4h0m0 7h0m0 3h0m0 6h0m0 1h0m0 2h0m0 1h0m0 3h0m0 4h0m0 3h0m1-33h0m0 4h0m0 7h0m0 4h0m0 8h0m0 4h0m0 11h0m1-40h0m0 2h0m0 3h0m0 4h0m0 1h0m0 5h0m0 5h0m0 3h0m0 37h0m1-73h0m0 12h0m0 7h0m0 5h0m0 3h0m0 6h0m0 7h0m0 4h0m0 1h0m0 1h0m0 2h0m1-37h0m0 5h0m0 6h0m0 7h0m0 2h0m0 6h0m0 2h0m0 4h0m1-29h0m0 1h0m0 2h0m0 8h0m0 1h0m0 9h0m0 13h0m1-40h0m0 12h0m0 2h0m0 3h0m0 4h0m0 3h0m0 6h0m0 3h0m0 4h0m1-36h0m0 4h0m0 1h0m0 3h0m0 5h0m0 5h0m0 7h0m0 1h0m0 7h0m0 5h0m0 5h0m0 8h0m1-43h0m0 6h0m0 7h0m0 9h0m0 13h0m0 14h0m1-52h0m0 2h0m0 3h0m0 1h0m0 6h0m0 3h0m0 3h0m0 5h0m0 4h0m0 3h0m0 2h0m0 3h0m0 8h0m1-44h0m0 2h0m0 4h0m0 4h0m0 2h0m0 1h0m0 1h0m0 7h0m0 3h0m0 2h0m0 14h0m1-31h0m0 8h0m0 3h0m0 5h0m0 5h0m0 2h0m1-38h0m0 6h0m0 2h0m0 4h0m0 2h0m0 1h0m0 13h0m0 7h0m0 4h0m0 1h0m0 3h0m0 8h0m1-46h0m0 2h0m0 6h0m0 6h0m0 2h0m0 3h0m0 5h0m0 4h0m0 3h0m0 9h0m0 5h0m1-47h0m0 1h0m0 10h0m0 4h0m0 5h0m0 3h0m0 3h0m0 3h0m0 6h0m0 10h0m1-42h0m0 3h0m0 6h0m0 3h0m0 1h0m0 2h0m0 4h0m0 7h0m0 3h0m0 3h0m0 3h0m0 4h0m0 2h0m1-49h0m0 1h0m0 3h0m0 1h0m0 7h0m0 1h0m0 1h0m0 1h0m0 14h0m0 7h0m0 7h0m1-38h0m0 3h0m0 1h0m0 9h0m0 1h0m0 4h0m0 2h0m0 2h0m0 5h0m0 7h0m0 7h0m0 1h0m0 8h0m1-53h0m0 3h0m0 4h0m0 4h0m0 8h0m0 9h0m0 3h0m0 2h0m0 6h0m0 1h0m1-41h0m0 2h0m0 1h0m0 7h0m0 5h0m0 5h0m0 3h0m0 3h0m0 10h0m0 2h0m0 6h0m1-37h0m0 5h0m0 5h0m0 5h0m0 9h0m0 2h0m0 8h0m0 1h0m0 2h0m0 18h0m1-59h0m0 5h0m0 7h0m0 9h0m0 3h0m0 1h0m0 4h0m0 2h0m0 3h0m1-43h0m0 6h0m0 2h0m0 2h0m0 6h0m0 6h0m0 3h0m0 2h0m0 1h0m0 14h0m0 3h0m0 1h0m0 11h0m1-54h0m0 4h0m0 5h0m0 1h0m0 1h0m0 3h0m0 2h0m0 12h0m0 5h0m0 12h0m0 3h0m1-39h0m0 12h0m0 4h0m0 5h0m0 6h0m0 1h0m0 3h0m0 5h0m0 12h0m1-54h0m0 1h0m0 1h0m0 5h0m0 3h0m0 5h0m0 5h0m0 7h0m0 10h0m0 2h0m0 2h0m0 8h0m1-42h0m0 5h0m0 5h0m0 6h0m0 1h0m0 4h0m0 1h0m0 2h0m0 2h0m0 2h0m0 5h0m0 2h0m0 3h0m0 3h0m0 6h0m1-50h0m0 5h0m0 4h0m0 9h0m0 13h0m0 5h0m0 4h0m0 1h0m1-50h0m0 5h0m0 1h0m0 14h0m0 4h0m0 7h0m0 5h0m0 1h0m0 3h0m0 4h0m0 1h0m0 6h0m1-49h0m0 7h0m0 2h0m0 1h0m0 4h0m0 2h0m0 5h0m0 7h0m0 3h0m0 7h0m0 8h0m1-42h0m0 1h0m0 2h0m0 1h0m0 3h0m0 13h0m0 4h0m0 4h0m0 3h0m0 3h0m0 1h0m0 2h0m0 4h0m0 3h0m0 2h0m0 11h0m1-49h0m0 3h0m0 2h0m0 2h0m0 5h0m0 1h0m0 2h0m0 9h0m0 7h0m0 3h0m0 3h0m0 1h0m1-40h0m0 8h0m0 3h0m0 1h0m0 8h0m0 3h0m0 4h0m0 2h0m0 12h0m0 3h0m1-47h0m0 6h0m0 10h0m0 2h0m0 8h0m0 8h0m1-35h0m0 4h0m0 6h0m0 3h0m0 4h0m0 4h0m0 1h0m0 7h0m0 5h0m0 2h0m1-35h0m0 3h0m0 5h0m0 3h0m0 1h0m0 4h0m0 8h0m0 7h0m0 6h0m0 4h0m1-41h0m0 5h0m0 7h0m0 3h0m0 1h0m0 2h0m0 4h0m0 1h0m0 3h0m0 4h0m0 6h0m0 5h0m0 1h0m0 1h0m1-40h0m0 6h0m0 5h0m0 5h0m0 7h0m0 2h0m0 5h0m0 1h0m0 1h0m0 7h0m1-42h0m0 7h0m0 5h0m0 5h0m0 5h0m0 5h0m0 4h0m0 2h0m1-32h0m0 1h0m0 2h0m0 3h0m0 1h0m0 2h0m0 4h0m0 5h0m0 5h0m0 8h0m0 14h0m1-48h0m0 6h0m0 7h0m0 6h0m0 3h0m0 5h0m0 4h0m0 3h0m0 5h0m0 12h0m1-42h0m0 7h0m0 8h0m0 2h0m0 3h0m0 26h0m1-48h0m0 4h0m0 3h0m0 4h0m0 3h0m0 11h0m0 4h0m0 3h0m1-34h0m0 4h0m0 10h0m0 3h0m0 2h0m0 3h0m0 2h0m0 6h0m0 17h0m1-51h0m0 1h0m0 3h0m0 1h0m0 4h0m0 2h0m0 3h0m0 2h0m0 7h0m1-18h0m0 2h0m0 6h0m0 6h0m0 9h0m0 2h0m0 2h0m0 3h0m0 3h0m0 7h0m1-40h0m0 16h0m0 2h0m0 2h0m0 9h0m1-25h0m0 1h0m0 1h0m0 2h0m0 2h0m0 2h0m0 10h0m0 4h0m0 5h0m1-35h0m0 1h0m0 5h0m0 1h0m0 12h0m0 4h0m0 5h0m0 1h0m0 3h0m0 4h0m1-37h0m0 4h0m0 8h0m0 10h0m0 4h0m0 11h0m1-39h0m0 4h0m0 1h0m0 4h0m0 3h0m0 4h0m0 2h0m0 2h0m0 8h0m0 3h0m0 3h0m0 3h0m0 10h0m1-34h0m0 3h0m0 7h0m0 1h0m0 1h0m0 4h0m0 5h0m0 1h0m0 4h0m1-41h0m0 3h0m0 2h0m0 4h0m0 3h0m0 8h0m0 3h0m0 5h0m0 5h0m0 7h0m0 3h0m0 5h0m1-32h0m0 6h0m0 11h0m0 3h0m0 3h0m0 2h0m1-43h0m0 7h0m0 5h0m0 4h0m0 5h0m0 6h0m0 2h0m0 3h0m0 8h0m0 9h0m1-43h0m0 3h0m0 4h0m0 6h0m0 2h0m0 1h0m0 12h0m0 2h0m1-29h0m0 1h0m0 4h0m0 4h0m0 9h0m0 5h0m0 6h0m0 2h0m0 2h0m0 4h0m0 3h0m0 1h0m1-43h0m0 3h0m0 1h0m0 2h0m0 4h0m0 7h0m0 6h0m0 4h0m0 9h0m0 1h0m0 4h0m1-43h0m0 6h0m0 7h0m0 1h0m0 1h0m0 2h0m0 5h0m0 6h0m0 4h0m0 5h0m0 6h0m0 5h0m0 2h0m1-40h0m0 1h0m0 14h0m0 5h0m0 4h0m0 15h0m0 8h0m1-55h0m0 4h0m0 1h0m0 12h0m0 1h0m0 7h0m0 7h0m0 1h0m0 8h0m0 2h0m0 3h0m1-53h0m0 5h0m0 5h0m0 5h0m0 1h0m0 3h0m0 2h0m0 2h0m0 5h0m0 5h0m0 3h0m0 5h0m0 5h0m0 2h0m1-49h0m0 10h0m0 3h0m0 3h0m0 1h0m0 10h0m0 4h0m0 3h0m0 7h0m0 2h0m1-30h0m0 9h0m0 8h0m0 8h0m0 1h0m0 14h0m1-40h0m0 3h0m0 3h0m0 5h0m0 1h0m0 8h0m0 3h0m0 8h0m0 2h0m0 2h0m0 3h0m0 4h0m1-47h0m0 6h0m0 7h0m0 7h0m0 3h0m0 3h0m0 2h0m0 1h0m0 1h0m0 4h0m0 7h0m1-41h0m0 1h0m0 6h0m0 2h0m0 5h0m0 3h0m0 3h0m0 8h0m0 8h0m0 8h0m0 1h0m0 1h0m0 1h0m1-50h0m0 2h0m0 12h0m0 6h0m0 8h0m0 8h0m0 1h0m0 1h0m0 2h0m0 15h0m1-50h0m0 2h0m0 4h0m0 6h0m0 8h0m0 6h0m0 3h0m0 2h0m0 4h0m0 3h0m1-43h0m0 8h0m0 2h0m0 1h0m0 3h0m0 3h0m0 2h0m0 3h0m0 12h0m0 2h0m0 6h0m0 3h0m1-47h0m0 6h0m0 2h0m0 2h0m0 14h0m0 2h0m0 3h0m0 2h0m0 2h0m0 2h0m0 6h0m0 2h0m0 10h0m1-49h0m0 1h0m0 6h0m0 1h0m0 3h0m0 2h0m0 1h0m0 3h0m0 7h0m0 10h0m0 4h0m0 2h0m0 4h0m1-40h0m0 4h0m0 12h0m0 1h0m0 7h0m0 5h0m0 21h0m1-55h0m0 1h0m0 2h0m0 6h0m0 2h0m0 5h0m0 3h0m0 8h0m0 4h0m0 6h0m0 3h0m0 2h0m1-39h0m0 3h0m0 7h0m0 7h0m0 1h0m0 3h0m0 9h0m0 3h0m0 2h0m0 5h0m1-34h0m0 7h0m0 1h0m0 8h0m0 4h0m0 6h0m0 2h0m0 3h0m0 5h0m1-40h0m0 7h0m0 1h0m0 9h0m0 5h0m0 3h0m0 1h0m0 3h0m0 4h0m0 4h0m0 1h0m1-36h0m0 2h0m0 3h0m0 5h0m0 2h0m0 1h0m0 3h0m0 2h0m0 2h0m0 4h0m0 3h0m0 4h0m0 2h0m0 7h0m0 1h0m1-50h0m0 9h0m0 8h0m0 3h0m0 9h0m0 6h0m0 2h0m0 14h0m0 11h0m1-56h0m0 1h0m0 1h0m0 5h0m0 3h0m0 8h0m0 3h0m0 2h0m0 4h0m0 1h0m0 3h0m0 2h0m0 4h0m1-36h0m0 4h0m0 6h0m0 2h0m0 3h0m0 6h0m0 2h0m0 1h0m0 10h0m0 2h0m1-43h0m0 4h0m0 3h0m0 4h0m0 4h0m0 4h0m0 6h0m0 6h0m0 3h0m0 3h0m0 11h0m1-43h0m0 1h0m0 5h0m0 1h0m0 10h0m0 4h0m0 10h0m0 1h0m0 1h0m0 2h0m0 1h0m0 1h0m0 2h0m0 2h0m1-56h0m0 27h0m0 2h0m0 2h0m0 4h0m0 4h0m0 1h0m0 3h0m0 12h0m1-36h0m0 5h0m0 19h0m0 14h0m1-36h0m0 12h0m0 4h0m0 3h0m0 1h0m0 4h0m0 2h0m0 2h0m1-32h0m0 9h0m0 2h0m0 2h0m0 6h0m0 10h0m0 3h0m0 2h0m0 2h0m0 2h0m0 17h0m1-54h0m0 2h0m0 1h0m0 1h0m0 1h0m0 2h0m0 10h0m0 4h0m0 1h0m0 3h0m0 4h0m0 8h0m0 7h0m0 2h0m0 4h0m1-40h0m0 4h0m0 5h0m0 14h0m0 5h0m0 9h0m1-53h0m0 7h0m0 7h0m0 3h0m0 10h0m0 3h0m0 3h0m0 4h0m0 3h0m0 5h0m1-45h0m0 4h0m0 1h0m0 2h0m0 4h0m0 1h0m0 6h0m0 4h0m0 1h0m0 13h0m0 3h0m0 1h0m0 1h0m1-31h0m0 3h0m0 2h0m0 5h0m0 2h0m0 4h0m0 3h0m0 4h0m0 2h0m1-32h0m0 6h0m0 2h0m0 7h0m0 2h0m0 9h0m0 1h0m0 6h0m0 12h0m1-45h0m0 3h0m0 9h0m0 9h0m0 3h0m0 1h0m0 3h0m0 6h0m0 1h0m0 2h0m0 9h0m1-47h0m0 5h0m0 3h0m0 2h0m0 2h0m0 8h0m0 2h0m0 10h0m0 4h0m0 3h0m0 13h0m1-57h0m0 8h0m0 12h0m0 2h0m0 8h0m0 3h0m0 22h0m1-48h0m0 5h0m0 3h0m0 8h0m0 5h0m0 5h0m0 2h0m0 3h0m0 1h0m0 2h0m0 2h0m0 4h0m0 5h0m1-41h0m0 7h0m0 8h0m0 4h0m0 8h0m0 4h0m0 1h0m1-36h0m0 1h0m0 1h0m0 5h0m0 7h0m0 4h0m0 4h0m0 3h0m0 2h0m0 8h0m0 27h0m1-58h0m0 5h0m0 6h0m0 5h0m0 9h0m0 2h0m0 1h0m0 5h0m0 3h0m1-43h0m0 6h0m0 1h0m0 3h0m0 4h0m0 1h0m0 6h0m0 6h0m0 4h0m0 7h0m1-41h0m0 3h0m0 1h0m0 17h0m0 6h0m0 3h0m0 1h0m0 1h0m1-36h0m0 10h0m0 2h0m0 1h0m0 3h0m0 2h0m0 1h0m0 3h0m0 2h0m0 4h0m0 2h0m0 10h0m0 2h0m0 1h0m0 5h0m0 2h0m0 1h0m1-43h0m0 3h0m0 15h0m0 6h0m0 6h0m0 7h0m0 1h0m1-41h0m0 8h0m0 2h0m0 6h0m0 1h0m0 7h0m0 5h0m0 2h0m0 4h0m0 7h0m0 6h0m1-44h0m0 8h0m0 2h0m0 5h0m0 3h0m0 3h0m0 8h0m0 4h0m0 2h0m1-42h0m0 5h0m0 5h0m0 3h0m0 11h0m0 6h0m0 3h0m0 4h0m0 1h0m0 3h0m0 5h0m0 1h0m0 1h0m0 1h0m1-45h0m0 4h0m0 9h0m0 2h0m0 2h0m0 6h0m0 2h0m0 4h0m0 8h0m0 3h0m1-42h0m0 4h0m0 5h0m0 4h0m0 12h0m0 3h0m0 5h0m0 10h0m0 3h0m0 3h0m0 9h0m1-62h0m0 6h0m0 1h0m0 6h0m0 1h0m0 4h0m0 1h0m0 6h0m0 2h0m0 1h0m0 9h0m0 3h0m0 3h0m0 2h0m0 9h0m1-46h0m0 3h0m0 3h0m0 1h0m0 7h0m0 1h0m0 6h0m0 5h0m0 7h0m0 1h0m0 1h0m0 5h0m0 7h0m1-40h0m0 4h0m0 10h0m0 4h0m0 6h0m0 6h0m1-38h0m0 10h0m0 4h0m0 4h0m0 1h0m0 4h0m0 4h0m0 2h0m0 5h0m0 2h0m0 5h0m1-42h0m0 1h0m0 2h0m0 4h0m0 1h0m0 8h0m0 5h0m0 3h0m0 2h0m0 6h0m0 7h0m0 4h0m1-40h0m0 2h0m0 2h0m0 2h0m0 3h0m0 2h0m0 4h0m0 11h0m0 8h0m0 7h0m0 1h0m0 2h0m1-52h0m0 2h0m0 23h0m0 2h0m0 8h0m0 1h0m0 3h0m0 6h0m0 1h0m0 17h0m1-56h0m0 4h0m0 4h0m0 6h0m0 3h0m0 6h0m0 2h0m0 8h0m0 7h0m0 2h0m1-42h0m0 1h0m0 2h0m0 1h0m0 2h0m0 5h0m0 8h0m0 10h0m0 5h0m0 2h0m0 6h0m0 3h0m0 3h0m1-44h0m0 2h0m0 7h0m0 3h0m0 5h0m0 6h0m0 1h0m0 1h0m0 4h0m0 6h0m0 14h0m1-48h0m0 4h0m0 1h0m0 4h0m0 4h0m0 3h0m0 3h0m0 2h0m0 4h0m0 4h0m0 7h0m0 7h0m1-43h0m0 1h0m0 3h0m0 17h0m0 11h0m0 1h0m1-39h0m0 5h0m0 6h0m0 2h0m0 4h0m0 3h0m0 4h0m0 3h0m0 6h0m1-28h0m0 3h0m0 5h0m0 2h0m0 1h0m0 4h0m0 2h0m0 5h0m0 1h0m0 1h0m0 3h0m0 2h0m0 2h0m0 2h0m1-28h0m0 13h0m0 6h0m0 1h0m0 1h0m0 1h0m0 1h0m0 3h0m0 4h0m0 1h0m0 1h0m1-36h0m0 1h0m0 5h0m0 6h0m0 2h0m0 5h0m0 3h0m0 1h0m0 3h0m0 6h0m0 4h0m0 26h0m1-65h0m0 7h0m0 4h0m0 2h0m0 7h0m0 2h0m0 4h0m0 7h0m0 5h0m0 20h0m1-54h0m0 1h0m0 6h0m0 3h0m0 4h0m0 4h0m0 5h0m0 4h0m0 1h0m0 2h0m1-34h0m0 1h0m0 2h0m0 1h0m0 4h0m0 5h0m0 3h0m0 6h0m0 4h0m0 3h0m0 5h0m0 1h0m0 3h0m0 3h0m1-42h0m0 20h0m0 5h0m0 13h0m0 35h0m1-75h0m0 7h0m0 2h0m0 4h0m0 2h0m0 3h0m0 3h0m0 6h0m0 1h0m0 2h0m0 2h0m0 1h0m0 2h0m0 3h0m0 1h0m0 3h0m1-39h0m0 3h0m0 1h0m0 5h0m0 3h0m0 2h0m0 2h0m0 1h0m0 1h0m0 3h0m0 1h0m0 2h0m0 5h0m0 1h0m0 1h0m0 1h0m1-32h0m0 5h0m0 2h0m0 7h0m0 1h0m0 1h0m0 8h0" stroke="#ffa526" stroke-width="3.9" stroke-linecap="round" fill="none"/>
<g class="tk" text-anchor="middle"><text transform="translate(117.0 750.5) scale(1.12 1)">0</text><text transform="translate(208.5 750.5) scale(1.12 1)">2</text><text transform="translate(300.0 750.5) scale(1.12 1)">4</text><text transform="translate(391.5 750.5) scale(1.12 1)">6</text><text transform="translate(483.0 750.5) scale(1.12 1)">8</text><text transform="translate(574.5 750.5) scale(1.12 1)">10</text></g>
<g class="tk" text-anchor="end"><text x="106.8" y="719.7">0.3</text><text x="106.8" y="633.5">0.4</text><text x="106.8" y="547.2">0.5</text><text x="106.8" y="461.0">0.6</text></g>
<text class="xl" x="352.7" y="768.2" text-anchor="middle">DSL</text>
<text class="yl" transform="translate(47.7 582.6) rotate(-90) scale(1 0.9)" text-anchor="middle">&#961;</text>
<text class="ti" x="371.4" y="449.2" text-anchor="middle">Red</text>
<path d="M886.5 453.8V712.5M978.0 453.8V712.5M1069.5 453.8V712.5M1161.0 453.8V712.5M1252.5 453.8V712.5M795.0 626.3H1310.0M795.0 540.0H1310.0" stroke="#dadada" stroke-width="2.8" fill="none"/>
<path d="M817.9 453.8V712.5M840.8 453.8V712.5M863.6 453.8V712.5M909.4 453.8V712.5M932.2 453.8V712.5M955.1 453.8V712.5M1000.9 453.8V712.5M1023.8 453.8V712.5M1046.6 453.8V712.5M1092.4 453.8V712.5M1115.2 453.8V712.5M1138.1 453.8V712.5M1183.9 453.8V712.5M1206.8 453.8V712.5M1229.6 453.8V712.5M1275.4 453.8V712.5M1298.2 453.8V712.5" stroke="#aaaaaa" stroke-width="2.7" stroke-dasharray="2.7 3.35" stroke-dashoffset="3.3" fill="none"/>
<path d="M795.0 695.3H1310.0M795.0 678.0H1310.0M795.0 660.8H1310.0M795.0 643.5H1310.0M795.0 609.0H1310.0M795.0 591.8H1310.0M795.0 574.5H1310.0M795.0 557.3H1310.0M795.0 522.8H1310.0M795.0 505.5H1310.0M795.0 488.3H1310.0M795.0 471.0H1310.0" stroke="#aaaaaa" stroke-width="2.7" stroke-dasharray="2.7 3.35" stroke-dashoffset="0.8" fill="none"/>
<path d="M795.0 712.5v-6M795.0 453.8v6M886.5 712.5v-6M886.5 453.8v6M978.0 712.5v-6M978.0 453.8v6M1069.5 712.5v-6M1069.5 453.8v6M1161.0 712.5v-6M1161.0 453.8v6M1252.5 712.5v-6M1252.5 453.8v6M795.0 712.5h6M1310.0 712.5h-6M795.0 626.3h6M1310.0 626.3h-6M795.0 540.0h6M1310.0 540.0h-6M795.0 453.8h6M1310.0 453.8h-6" stroke="#111" stroke-width="2.6" fill="none"/>
<rect x="795.0" y="453.8" width="515.0" height="258.7" fill="none" stroke="#111" stroke-width="2.6"/>
<path d="M805 537h0m0 2h0m0 4h0m0 14h0m0 2h0m0 4h0m0 2h0m0 1h0m0 8h0m1-34h0m0 5h0m0 2h0m0 1h0m0 1h0m0 2h0m0 3h0m0 1h0m0 5h0m0 2h0m0 5h0m0 1h0m0 1h0m0 1h0m0 5h0m0 1h0m0 2h0m0 2h0m0 4h0m0 14h0m1-15h0m0 5h0m0 28h0m1-80h0m1-1h0m0 58h0m0 9h0m1 3h0m1-73h0m1 18h0m0 28h0m1-49h0m1 11h0m0 52h0m1-34h0m0 36h0m2 3h0m1-59h0m0 85h0m1-89h0m0 11h0m0 46h0m1-7h0m1 10h0m1-48h0m0 47h0m1-14h0m0 23h0m1-62h0m1 65h0m1-77h0m1 62h0m0 2h0m0 25h0m2-30h0m0 7h0m1-46h0m1-17h0m0 8h0m0 69h0m1-64h0m2 0h0m0 55h0m0 11h0m1-48h0m1-26h0m1 55h0m1-55h0m1 13h0m1 38h0m0 8h0m1-63h0m1 11h0m0 45h0m0 22h0m1-49h0m1-22h0m0 41h0m1 30h0m4-79h0m0 14h0m0 47h0m0 13h0m1-47h0m1 42h0m1-63h0m1 50h0m0 20h0m1-15h0m1-56h0m0 45h0m0 19h0m1-64h0m0 8h0m1 20h0m0 35h0m1-13h0m1-37h0m1 34h0m1-45h0m1 58h0m1-58h0m1 81h0m1-72h0m0 25h0m0 18h0m3-48h0m1-9h0m0 51h0m0 19h0m1-66h0m0 38h0m1-26h0m0 41h0m4-52h0m0 53h0m1 28h0m2-76h0m1 50h0m1-55h0m0 29h0m1-35h0m0 55h0m1-61h0m0 69h0m1-41h0m0 50h0m1-74h0m0 35h0m1-24h0m0 58h0m1-56h0m0 61h0m2-71h0m1 59h0m1-33h0m0 45h0m1-66h0m0 44h0m1-13h0m0 28h0m2-43h0m1-13h0m0 55h0m0 1h0m1-61h0m0 11h0m0 32h0m1 6h0m3-38h0m0 44h0m1-52h0m0 28h0m1 28h0m3-14h0m0 6h0m0 16h0m1-65h0m0 7h0m1 13h0m0 40h0m2-46h0m0 43h0m1-55h0m0 70h0m1-74h0m1 53h0m1-3h0m2-55h0m0 4h0m0 52h0m1 14h0m0 8h0m1-79h0m0 16h0m0 49h0m1-54h0m0 38h0m0 21h0m1-8h0m0 27h0m2-91h0m0 48h0m2-42h0m0 22h0m0 43h0m0 13h0m1-51h0m0 41h0m1-94h0m0 33h0m0 45h0m0 34h0m2-29h0m0 3h0m2-61h0m0 1h0m1 1h0m1 53h0m1-26h0m2-22h0m0 7h0m1-24h0m0 66h0m2-52h0m0 74h0m1-27h0m0 24h0m2-13h0m1-49h0m1 45h0m1-54h0m0 5h0m0 36h0m2 9h0m2-52h0m0 15h0m0 46h0m1-51h0m1-5h0m0 17h0m0 29h0m1 16h0m1-19h0m1-21h0m2-20h0m1 42h0m0 10h0m1 1h0m1-60h0m0 76h0m1-6h0m1-1h0m1-68h0m0 9h0m0 42h0m1-7h0m1 13h0m1-27h0m1-39h0m0 11h0m0 4h0m0 10h0m2 32h0m1-47h0m0 64h0m2-53h0m1-20h0m0 38h0m0 22h0m0 2h0m0 1h0m1 4h0m1-71h0m0 16h0m0 57h0m1-50h0m1-24h0m0 10h0m1 57h0m0 21h0m1-27h0m2-48h0m1 7h0m0 21h0m2-16h0m0 47h0m0 3h0m1-12h0m1-50h0m0 61h0m2-68h0m0 10h0m1 4h0m0 39h0m3-50h0m0 30h0m0 24h0m1 11h0m1-67h0m0 66h0m2-62h0m0 6h0m0 4h0m0 46h0m0 5h0m3-45h0m1 33h0m0 27h0m2-16h0m1-58h0m0 28h0m0 25h0m1-47h0m0 59h0m0 1h0m4-14h0m0 20h0m1-81h0m0 4h0m0 66h0m1-67h0m0 10h0m2-9h0m0 72h0m1-14h0m1-44h0m2 42h0m0 7h0m0 6h0m1-67h0m0 4h0m1 72h0m2-74h0m0 10h0m0 25h0m1-19h0m0 36h0m0 11h0m1-15h0m1-44h0m2-22h0m0 92h0m1-73h0m0 58h0m0 13h0m1-66h0m0 58h0m1-13h0m0 14h0m1 1h0m1-62h0m0 54h0m1-46h0m1 31h0m1 32h0m2-38h0m0 27h0m0 10h0m1-73h0m1-1h0m0 52h0m1-46h0m0 50h0m2-63h0m0 20h0m0 34h0m0 21h0m1 7h0m1-72h0m0 58h0m2-7h0m1-50h0m1 17h0m0 26h0m0 28h0m1-70h0m0 4h0m1-4h0m1-11h0m0 67h0m2-46h0m1 40h0m0 4h0m0 5h0m1-65h0m0 25h0m0 18h0m1 23h0m1 7h0m0 8h0m1-74h0m1 4h0m1-11h0m1 58h0m0 13h0m1-69h0m1 26h0m0 41h0m1-66h0m0 49h0m1-34h0m0 21h0m0 23h0m2 2h0m0 18h0m1-70h0m1 47h0m1-56h0m0 44h0m2 4h0m0 6h0m1-52h0m0 7h0m0 45h0m1-38h0m0 18h0m2-33h0m0 41h0m1 24h0m1-65h0m0 62h0m1-8h0m1-55h0m1 47h0m1 8h0m0 12h0m1-60h0m0 52h0m0 11h0m2-84h0m0 24h0m0 57h0m1-59h0m1-9h0m0 50h0m1-62h0m1 12h0m0 55h0m0 11h0m2-68h0m0 46h0m1 18h0m2 0h0m1-53h0m0 42h0m1-49h0m1 17h0m0 38h0m1-59h0m0 58h0m1-48h0m1-11h0m3-12h0m0 10h0m0 2h0m1 5h0m0 48h0m0 6h0m1-46h0m0 52h0m1-9h0m1-50h0m0 38h0m3-18h0m1-19h0m1 57h0m1-60h0m0 13h0m0 42h0m1-8h0m4-47h0m0 64h0m1-56h0m0 68h0m1-72h0m0 54h0m0 7h0m1-16h0m0 22h0m1-8h0m0 2h0m2-68h0m2 10h0m1 49h0m1-57h0m0 70h0m2-60h0m1-8h0m0 42h0m0 15h0m1-57h0m2 49h0m0 9h0m1 8h0m1-64h0m0 61h0m1-50h0m0 7h0m0 34h0m2-54h0m0 52h0m0 10h0m1-53h0m0 26h0m2-41h0m1 15h0m1 43h0m0 14h0m1-4h0m1-19h0m1-47h0m0 62h0m0 9h0m1-66h0m2 49h0m2-45h0m1 15h0m0 38h0m1-2h0m1-57h0m1 11h0m0 35h0m3-52h0m0 10h0m0 49h0m0 3h0m2-54h0m2 41h0m0 4h0m1-27h0m0 58h0m1-1h0m1-94h0m0 26h0m0 63h0m1-18h0m0 5h0m0 13h0m1-71h0m1 51h0m1-15h0m0 46h0m1-86h0m0 66h0m1-70h0m0 72h0m0 16h0m1-33h0m0 18h0m1-61h0m0 22h0m0 18h0m1-35h0m1-13h0m0 58h0m1-40h0m0 43h0m1-11h0m0 12h0m1-62h0m0 6h0m0 51h0m0 27h0m3-85h0m0 57h0m2-41h0m0 30h0m0 11h0m2-58h0m0 50h0m1-49h0m0 7h0m1 10h0m1 20h0m0 19h0m0 7h0m1-60h0m0 74h0m3-76h0m0 10h0m0 52h0m1-62h0m0 53h0m1 10h0m1-8h0m1-63h0m0 10h0m1 74h0m1-1h0m1-81h0m1 55h0m0 14h0m1 3h0m1-58h0m1 49h0m0 11h0m1-55h0m0 25h0m0 28h0m1-61h0m0 46h0m2 14h0m1-54h0m1 6h0m1-35h0m0 15h0m0 9h0m0 18h0m1 35h0m1-13h0m2 14h0m0 12h0m1-70h0m0 62h0m0 15h0m2-77h0m0 10h0m0 40h0m0 18h0m1-68h0m1 62h0m1-55h0m1 47h0m1-69h0m0 93h0m1-81h0m2-2h0m0 13h0m0 7h0m0 34h0m1-59h0m1 7h0m0 5h0m2 67h0m1-14h0m1-55h0m1 1h0m0 10h0m0 39h0m1-2h0m1-44h0m0 57h0m0 1h0m0 21h0m2-25h0m1-51h0m0 66h0m2-54h0m0 21h0m1-27h0m0 42h0m1-54h0m0 50h0m2 10h0m1-16h0m1-15h0m1-25h0m0 48h0m1-55h0m0 51h0m1 14h0m2-65h0m0 61h0m0 1h0m0 1h0m1-57h0m0 7h0m3 43h0m1-56h0m2 9h0m1 8h0m0 34h0m2-53h0m0 7h0m1 37h0m0 9h0m0 12h0m1 6h0m1-71h0m0 53h0m0 24h0m2-64h0m0 12h0m1-25h0m0 56h0m1-63h0m0 12h0m0 44h0m1-10h0m0 25h0m0 11h0m1-7h0m1-64h0m0 70h0m1-13h0m1-4h0m1-45h0m0 49h0m1-8h0m0 23h0m1-24h0m0 1h0m1-48h0m1 11h0m2-7h0m0 21h0m1 21h0m1-45h0m2 1h0m0 45h0m1 5h0m1-8h0m0 14h0m0 6h0m1-57h0m0 5h0m1 8h0m0 54h0m1-54h0m1 10h0m1-28h0m0 58h0m1-74h0m0 13h0m0 51h0m0 7h0m1-50h0m0 31h0m2-15h0m0 31h0m3-57h0m0 52h0m0 5h0m1-51h0m3 6h0m0 35h0m1-48h0m2 63h0m1-7h0m0 13h0m2-68h0m0 5h0m2 43h0m0 8h0m1 3h0m0 3h0m1-9h0m0 22h0m1-73h0m0 4h0m0 7h0m0 5h0m0 30h0m1-49h0m0 9h0m0 1h0m0 1h0m0 2h0m0 7h0m0 1h0m0 6h0m0 3h0m0 1h0m0 1h0m0 2h0m0 1h0m0 3h0m0 3h0m0 2h0m0 1h0m0 1h0m0 18h0m1-41h0m0 4h0m0 26h0" stroke="#0000ff" stroke-width="10.2" stroke-linecap="round" fill="none"/>
<path d="M892.5 563H894.5V548H896.5V567H899.5V549H900.5V550H902.5V561H906.5V550H909.5V554H913.5V548H917.5V547H921.5V546H922.5V558H923.5V562H928.5V551H932.5V565H935.5V546H936.5V544H937.5V550H941.5V549H942.5V548H943.5V547H945.5V548H948.5V556H952.5V547H953.5V565H957.5V549H960.5V552H963.5V555H967.5V547H973.5V549H977.5V550H978.5V551H982.5V549H985.5V561H988.5V548H989.5V550H991.5V552H992.5V556H996.5V555H1000.5V547H1001.5V564H1005.5V548H1009.5V544H1010.5V545H1011.5V549H1014.5V546H1016.5V544H1017.5V553H1021.5V552H1022.5V547H1024.5V548H1027.5V550H1031.5V552H1036.5V545H1037.5V546H1038.5V547H1039.5V562H1043.5V550H1046.5V561H1050.5V553H1054.5V546H1056.5V565H1060.5V551H1062.5V550H1066.5V549H1067.5V552H1071.5V549H1073.5V550H1078.5V549H1079.5V546H1083.5V548H1088.5V549H1089.5V550H1092.5V555H1095.5V549H1096.5V548H1097.5V547H1098.5V548H1099.5V551H1100.5V564H1105.5V548H1107.5V562H1111.5V553H1114.5V547H1119.5V543H1120.5V552H1125.5V547H1126.5V562H1132.5V554H1136.5V547H1137.5V543H1138.5V545H1143.5V547H1144.5V549H1149.5V547H1150.5V559H1154.5V556H1158.5V546H1159.5V550H1160.5V552H1164.5V551H1165.5V546H1167.5V555H1171.5V563H1174.5V547H1175.5V554H1179.5V545H1181.5V553H1182.5V554H1186.5V547H1187.5V548H1192.5V545H1193.5V549H1194.5V550H1195.5V553H1199.5V548H1202.5V547H1203.5V546H1204.5V550H1205.5V551H1207.5V557H1211.5V552H1214.5V548H1215.5V551H1218.5V556H1222.5V547H1224.5V550H1227.5V552H1230.5V549H1231.5V555H1232.5V558H1236.5V546H1237.5V552H1241.5V566H1242.5V577H1239.5V573H1235.5V582H1234.5V580H1229.5V582H1224.5V583H1223.5V584H1221.5V585H1215.5V587H1214.5V578H1210.5V584H1209.5V586H1208.5V587H1207.5V582H1205.5V581H1202.5V567H1198.5V568H1197.5V580H1196.5V579H1193.5V580H1192.5V581H1191.5V584H1189.5V568H1186.5V571H1185.5V576H1180.5V585H1175.5V581H1174.5V580H1173.5V579H1172.5V578H1168.5V577H1167.5V576H1163.5V578H1162.5V576H1158.5V577H1157.5V582H1149.5V583H1147.5V586H1146.5V579H1142.5V583H1141.5V582H1136.5V585H1134.5V574H1130.5V586H1129.5V583H1128.5V575H1124.5V585H1123.5V587H1122.5V588H1121.5V587H1119.5V586H1118.5V583H1115.5V581H1113.5V580H1108.5V583H1106.5V582H1103.5V579H1099.5V583H1095.5V585H1094.5V588H1091.5V581H1088.5V580H1085.5V578H1080.5V582H1078.5V581H1074.5V570H1071.5V572H1067.5V581H1064.5V582H1063.5V579H1059.5V581H1057.5V572H1054.5V583H1053.5V573H1049.5V576H1046.5V581H1043.5V580H1038.5V583H1036.5V580H1035.5V574H1032.5V583H1031.5V579H1026.5V581H1022.5V582H1020.5V583H1019.5V577H1015.5V581H1014.5V571H1011.5V588H1010.5V585H1009.5V584H1002.5V581H993.5V582H992.5V581H989.5V582H988.5V581H983.5V579H981.5V566H978.5V579H976.5V585H975.5V580H974.5V567H965.5V576H964.5V564H961.5V575H958.5V582H952.5V579H951.5V578H950.5V577H946.5V578H943.5V580H937.5V581H935.5V583H934.5V582H929.5V587H927.5V574H926.5V573H922.5V581H917.5V584H916.5V583H915.5V582H911.5V583H910.5V581H908.5V580H904.5V579H900.5V575H897.5V579H895.5V573H892.5Z" fill="#ffa526"/>
<path d="M805 541h0m0 6h0m0 6h0m0 10h0m0 2h0m0 2h0m0 2h0m0 7h0m0 4h0m1-37h0m0 2h0m0 2h0m0 3h0m0 3h0m0 1h0m0 1h0m0 3h0m0 1h0m0 1h0m0 3h0m0 7h0m0 1h0m0 2h0m0 1h0m0 1h0m0 1h0m0 1h0m0 3h0m0 1h0m0 4h0m0 12h0m1-56h0m0 10h0m0 1h0m0 1h0m0 1h0m0 1h0m0 1h0m0 1h0m0 4h0m0 1h0m0 4h0m0 2h0m0 4h0m0 6h0m0 5h0m0 5h0m0 29h0m1-73h0m0 1h0m0 4h0m0 5h0m0 17h0m0 10h0m0 5h0m1-41h0m0 3h0m0 2h0m0 5h0m0 3h0m0 2h0m0 4h0m0 2h0m0 7h0m0 4h0m0 1h0m0 4h0m0 2h0m0 3h0m0 13h0m0 1h0m1-52h0m0 1h0m0 4h0m0 9h0m0 6h0m0 37h0m1-70h0m0 11h0m0 6h0m0 3h0m0 5h0m0 3h0m0 4h0m0 3h0m0 6h0m0 3h0m1-35h0m0 6h0m0 8h0m0 5h0m0 2h0m0 4h0m0 3h0m0 1h0m0 1h0m0 3h0m0 1h0m0 4h0m0 3h0m1-43h0m0 2h0m0 1h0m0 1h0m0 1h0m0 6h0m0 2h0m0 12h0m0 6h0m0 6h0m0 3h0m1-37h0m0 1h0m0 4h0m0 2h0m0 1h0m0 3h0m0 3h0m0 2h0m0 4h0m0 5h0m0 15h0m1-28h0m0 6h0m0 7h0m0 3h0m0 2h0m0 3h0m0 2h0m0 3h0m0 4h0m0 7h0m1-45h0m0 1h0m0 9h0m0 3h0m0 2h0m0 3h0m0 1h0m0 6h0m0 2h0m0 6h0m0 2h0m1-34h0m0 2h0m0 3h0m0 4h0m0 13h0m0 8h0m0 1h0m0 4h0m0 6h0m0 4h0m1-52h0m0 11h0m0 2h0m0 6h0m0 1h0m0 2h0m0 5h0m0 7h0m0 13h0m0 2h0m0 30h0m1-74h0m0 1h0m0 2h0m0 8h0m0 9h0m0 5h0m0 2h0m0 5h0m0 2h0m0 7h0m0 1h0m1-37h0m0 2h0m0 2h0m0 8h0m0 2h0m0 3h0m0 12h0m1-33h0m0 12h0m0 1h0m0 7h0m0 4h0m0 3h0m0 2h0m0 5h0m0 2h0m0 7h0m1-48h0m0 4h0m0 4h0m0 5h0m0 2h0m0 6h0m0 7h0m0 4h0m0 2h0m0 14h0m1-43h0m0 5h0m0 13h0m0 6h0m0 4h0m0 3h0m0 21h0m1-55h0m0 1h0m0 5h0m0 3h0m0 6h0m0 2h0m0 1h0m0 6h0m0 6h0m0 3h0m1-30h0m0 4h0m0 5h0m0 14h0m0 3h0m0 4h0m0 26h0m1-63h0m0 8h0m0 1h0m0 6h0m0 5h0m0 4h0m0 2h0m0 1h0m0 4h0m0 1h0m0 5h0m0 1h0m0 3h0m1-36h0m0 1h0m0 4h0m0 2h0m0 6h0m0 4h0m0 4h0m0 13h0m0 8h0m0 2h0m0 26h0m1-69h0m0 5h0m0 4h0m0 14h0m0 4h0m0 1h0m0 6h0m1-33h0m0 6h0m0 7h0m0 3h0m0 1h0m0 3h0m0 3h0m0 4h0m0 1h0m0 1h0m0 2h0m0 5h0m0 2h0m0 2h0m0 5h0m1-49h0m0 5h0m0 1h0m0 8h0m0 11h0m0 10h0m0 3h0m1-37h0m0 1h0m0 1h0m0 6h0m0 2h0m0 3h0m0 3h0m0 1h0m0 2h0m0 2h0m0 6h0m0 1h0m0 4h0m0 28h0m1-61h0m0 7h0m0 5h0m0 5h0m0 6h0m0 8h0m0 3h0m0 3h0m0 3h0m1-36h0m0 10h0m0 3h0m0 9h0m0 6h0m0 8h0m0 1h0m1-39h0m0 1h0m0 2h0m0 3h0m0 2h0m0 1h0m0 8h0m0 2h0m0 3h0m0 5h0m0 7h0m0 3h0m0 1h0m0 1h0m0 2h0m0 10h0m0 10h0m1-54h0m0 6h0m0 12h0m0 3h0m0 4h0m0 5h0m1-41h0m0 2h0m0 4h0m0 3h0m0 6h0m0 5h0m0 1h0m0 1h0m0 3h0m0 2h0m0 5h0m0 3h0m0 5h0m1-34h0m0 3h0m0 1h0m0 3h0m0 6h0m0 10h0m0 9h0m0 9h0m1-46h0m0 10h0m0 6h0m0 1h0m0 5h0m0 6h0m0 3h0m0 2h0m0 4h0m0 2h0m0 4h0m1-45h0m0 1h0m0 6h0m0 4h0m0 4h0m0 2h0m0 1h0m0 2h0m0 4h0m0 3h0m0 10h0m0 1h0m0 6h0m0 2h0m1-44h0m0 5h0m0 3h0m0 1h0m0 1h0m0 3h0m0 6h0m0 1h0m0 2h0m0 5h0m0 2h0m0 3h0m0 3h0m0 6h0m0 1h0m0 9h0m1-55h0m0 2h0m0 2h0m0 5h0m0 2h0m0 5h0m0 12h0m0 5h0m0 5h0m0 5h0m1-37h0m0 1h0m0 1h0m0 5h0m0 6h0m0 1h0m0 2h0m0 2h0m0 13h0m0 8h0m0 1h0m0 2h0m0 20h0m1-64h0m0 5h0m0 2h0m0 7h0m0 4h0m0 2h0m0 2h0m0 4h0m0 2h0m0 3h0m0 5h0m0 4h0m1-42h0m0 4h0m0 1h0m0 7h0m0 1h0m0 13h0m0 7h0m0 5h0m1-30h0m0 3h0m0 7h0m0 6h0m0 7h0m0 4h0m0 1h0m0 31h0m1-71h0m0 6h0m0 5h0m0 8h0m0 6h0m0 5h0m0 2h0m0 1h0m0 11h0m0 1h0m0 1h0m1-43h0m0 3h0m0 3h0m0 4h0m0 2h0m0 3h0m0 1h0m0 1h0m0 3h0m0 5h0m0 4h0m0 4h0m0 1h0m0 5h0m0 5h0m0 2h0m1-42h0m0 2h0m0 6h0m0 1h0m0 4h0m0 1h0m0 5h0m0 4h0m0 9h0m0 10h0m1-41h0m0 4h0m0 4h0m0 8h0m0 5h0m0 5h0m0 4h0m0 2h0m0 1h0m0 3h0m0 1h0m0 1h0m0 3h0m0 4h0m0 13h0m1-62h0m0 1h0m0 5h0m0 5h0m0 2h0m0 4h0m0 6h0m0 5h0m0 3h0m0 3h0m0 3h0m0 1h0m0 10h0m1-46h0m0 5h0m0 6h0m0 3h0m0 4h0m0 6h0m0 16h0m0 16h0m1-57h0m0 4h0m0 4h0m0 6h0m0 2h0m0 12h0m0 2h0m0 1h0m0 2h0m0 3h0m0 1h0m1-39h0m0 4h0m0 9h0m0 10h0m0 2h0m0 4h0m0 6h0m0 1h0m0 5h0m0 4h0m0 8h0m0 12h0m1-59h0m0 2h0m0 2h0m0 6h0m0 3h0m0 1h0m0 7h0m0 3h0m0 7h0m0 3h0m0 10h0m0 3h0m1-50h0m0 8h0m0 6h0m0 1h0m0 1h0m0 3h0m0 1h0m0 3h0m0 6h0m0 2h0m0 24h0m1-46h0m0 2h0m0 4h0m0 5h0m0 5h0m0 8h0m0 3h0m0 4h0m1-41h0m0 2h0m0 1h0m0 2h0m0 11h0m0 4h0m0 9h0m0 2h0m0 6h0m0 1h0m0 3h0m0 13h0m1-46h0m0 1h0m0 2h0m0 3h0m0 2h0m0 1h0m0 2h0m0 1h0m0 3h0m0 2h0m0 1h0m0 8h0m0 5h0m0 1h0m1-36h0m0 4h0m0 21h0m0 4h0m1-30h0m0 2h0m0 7h0m0 3h0m0 2h0m0 4h0m0 2h0m0 9h0m0 4h0m0 2h0m0 2h0m1-40h0m0 2h0m0 8h0m0 9h0m0 6h0m0 2h0m0 5h0m1-25h0m0 5h0m0 2h0m0 2h0m0 8h0m0 6h0m0 4h0m0 3h0m0 15h0m1-48h0m0 4h0m0 8h0m0 5h0m0 1h0m0 3h0m0 4h0m0 5h0m1-30h0m0 2h0m0 5h0m0 7h0m0 3h0m0 4h0m0 2h0m0 4h0m0 3h0m0 3h0m0 40h0m1-76h0m0 5h0m0 7h0m0 1h0m0 2h0m0 16h0m0 1h0m0 4h0m0 10h0m1-40h0m0 2h0m0 5h0m0 6h0m0 3h0m0 4h0m0 2h0m0 7h0m0 1h0m1-28h0m0 2h0m0 7h0m0 3h0m0 3h0m0 3h0m0 1h0m0 1h0m0 4h0m0 4h0m1-37h0m0 2h0m0 1h0m0 2h0m0 1h0m0 8h0m0 2h0m0 2h0m0 6h0m0 4h0m0 1h0m0 1h0m0 2h0m0 4h0m0 1h0m0 2h0m1-31h0m0 3h0m0 10h0m0 2h0m0 5h0m0 6h0m0 2h0m0 4h0m0 21h0m1-58h0m0 13h0m0 3h0m0 5h0m0 3h0m0 5h0m0 4h0m0 5h0m1-37h0m0 2h0m0 3h0m0 4h0m0 7h0m0 1h0m0 4h0m0 1h0m0 4h0m0 1h0m0 3h0m0 2h0m0 10h0m1-39h0m0 5h0m0 1h0m0 3h0m0 1h0m0 15h0m0 6h0m1-38h0m0 3h0m0 1h0m0 6h0m0 13h0m0 2h0m0 3h0m0 4h0m0 7h0m0 1h0m1-36h0m0 11h0m0 4h0m0 1h0m0 7h0m0 8h0m0 1h0m0 7h0m1-40h0m0 2h0m0 2h0m0 1h0m0 3h0m0 2h0m0 5h0m0 3h0m0 1h0m0 2h0m0 2h0m0 5h0m0 1h0m0 3h0m0 4h0m0 2h0m0 6h0m1-47h0m0 2h0m0 12h0m0 2h0m0 2h0m0 10h0m0 1h0m0 1h0m0 1h0m0 5h0m0 4h0m0 34h0m1-76h0m0 2h0m0 9h0m0 18h0m0 6h0m0 4h0m0 2h0m0 2h0m1-37h0m0 2h0m0 6h0m0 3h0m0 3h0m0 3h0m0 1h0m0 1h0m0 2h0m0 6h0m0 12h0m1-42h0m0 2h0m0 5h0m0 3h0m0 3h0m0 2h0m0 12h0m0 7h0m0 3h0m0 2h0m0 10h0m1-50h0m0 6h0m0 16h0m0 2h0m0 8h0m0 2h0m0 9h0m1-44h0m0 1h0m0 4h0m0 5h0m0 3h0m0 4h0m0 2h0m0 1h0m0 2h0m0 5h0m0 1h0m0 3h0m0 6h0m0 7h0m1-42h0m0 6h0m0 3h0m0 3h0m0 10h0m0 7h0m0 3h0m0 6h0m0 2h0m0 1h0m0 9h0m1-54h0m0 1h0m0 1h0m0 5h0m0 5h0m0 4h0m0 3h0m0 10h0m0 4h0m0 5h0m0 26h0m1-67h0m0 11h0m0 8h0m0 6h0m0 1h0m0 2h0m0 6h0m0 6h0m0 2h0m0 1h0m0 3h0m1-36h0m0 4h0m0 1h0m0 3h0m0 2h0m0 4h0m0 1h0m0 5h0m0 8h0m0 9h0m0 3h0m0 10h0m1-51h0m0 1h0m0 2h0m0 3h0m0 2h0m0 6h0m0 1h0m0 3h0m0 6h0m0 2h0m0 10h0m0 2h0m0 19h0m1-62h0m0 9h0m0 6h0m0 4h0m0 6h0m0 4h0m0 2h0m0 4h0m0 2h0m0 1h0m0 12h0m0 1h0m0 2h0m1-55h0m0 7h0m0 7h0m0 1h0m0 1h0m0 3h0m0 1h0m0 5h0m0 3h0m0 1h0m0 6h0m0 6h0m0 2h0m0 4h0m0 12h0m1-50h0m0 4h0m0 6h0m0 6h0m0 1h0m0 1h0m0 7h0m0 4h0m0 7h0m0 2h0m1-40h0m0 3h0m0 3h0m0 9h0m0 2h0m0 9h0m0 1h0m0 6h0m0 3h0m0 4h0m0 1h0m0 6h0m0 3h0m0 6h0m1-59h0m0 3h0m0 3h0m0 3h0m0 4h0m0 3h0m0 1h0m0 1h0m0 2h0m0 7h0m0 3h0m0 1h0m0 1h0m0 1h0m0 4h0m0 2h0m0 7h0m1-44h0m0 5h0m0 6h0m0 3h0m0 5h0m0 3h0m0 2h0m0 4h0m0 3h0m0 12h0m0 8h0m1-49h0m0 5h0m0 4h0m0 2h0m0 7h0m0 1h0m0 1h0m0 5h0m0 5h0m0 1h0m0 8h0m0 1h0m1-40h0m0 1h0m0 5h0m0 2h0m0 1h0m0 3h0m0 3h0m0 14h0m0 1h0m0 4h0m0 4h0m1-43h0m0 8h0m0 9h0m0 13h0m0 1h0m0 16h0m0 5h0m0 1h0m1-48h0m0 14h0m0 2h0m0 1h0m0 1h0m0 9h0m0 5h0m0 3h0m1-37h0m0 3h0m0 4h0m0 3h0m0 3h0m0 5h0m0 3h0m0 10h0m0 1h0m0 1h0m0 5h0m1-33h0m0 3h0m0 4h0m0 4h0m0 13h0m0 4h0m1-29h0m0 3h0m0 3h0m0 8h0m0 11h0m0 4h0m0 6h0m1-37h0m0 12h0m0 4h0m0 1h0m0 1h0m0 1h0m0 12h0m0 5h0m0 2h0m0 6h0m1-43h0m0 27h0m0 1h0m0 1h0m0 1h0m0 1h0m0 4h0m0 9h0m1-41h0m0 4h0m0 2h0m0 1h0m0 23h0m0 2h0m0 5h0m0 5h0m1-44h0m0 4h0m1-8h0m0 11h0m0 4h0m0 18h0m0 12h0m0 3h0m1-51h0m0 2h0m0 1h0m0 4h0m0 2h0m0 3h0m0 6h0m0 20h0m0 5h0m0 9h0m0 8h0m1-55h0m0 1h0m0 5h0m0 3h0m0 1h0m0 22h0m0 4h0m0 4h0m0 5h0m0 3h0m1-12h0m0 7h0m0 7h0m1-48h0m0 31h0m0 3h0m0 3h0m0 5h0m1-42h0m0 1h0m0 2h0m0 1h0m0 40h0m1-44h0m0 1h0m0 3h0m0 55h0m1-63h0m0 9h0m0 26h0m0 1h0m0 1h0m1-37h0m0 3h0m0 1h0m0 35h0m0 1h0m1-38h0m0 3h0m0 2h0m0 34h0m1-38h0m0 33h0m1-41h0m0 7h0m0 34h0m1-39h0m0 5h0m0 36h0m0 7h0m0 10h0m0 8h0m1-66h0m0 4h0m0 35h0m0 13h0m1-49h0m0 35h0m0 1h0m0 3h0m0 14h0m1-8h0m0 28h0m1-38h0m0 4h0m1-58h0m0 19h0m0 4h0m0 30h0m0 6h0m1-40h0m0 1h0m0 9h0m0 19h0m0 1h0m0 4h0m0 1h0m0 3h0m1-32h0m0 1h0m0 1h0m0 1h0m0 2h0m0 1h0m0 15h0m0 3h0m0 1h0m0 6h0m0 17h0m0 11h0m1-66h0m0 4h0m0 9h0m0 1h0m0 3h0m0 10h0m0 5h0m0 1h0m0 3h0m0 23h0m1-64h0m0 6h0m0 5h0m0 7h0m0 4h0m0 11h0m0 5h0m0 6h0m0 1h0m0 36h0m1-83h0m0 5h0m0 4h0m0 3h0m0 4h0m0 1h0m0 3h0m0 5h0m0 10h0m0 1h0m0 7h0m0 4h0m0 2h0m1-46h0m0 3h0m0 9h0m0 22h0m0 2h0m0 6h0m0 9h0m0 2h0m1-45h0m0 7h0m0 2h0m0 1h0m0 2h0m0 15h0m0 3h0m0 9h0m1-48h0m0 2h0m0 1h0m0 3h0m0 1h0m0 1h0m0 2h0m0 1h0m0 32h0m0 1h0m0 2h0m1-35h0m0 35h0m1-34h0m0 30h0m0 6h0m1-35h0m0 4h0m0 5h0m0 1h0m0 2h0m0 17h0m1-32h0m0 1h0m0 11h0m0 3h0m1-17h0m0 1h0m0 1h0m0 2h0m0 3h0m0 2h0m0 2h0m0 1h0m0 1h0m0 22h0m1-36h0m0 7h0m0 8h0m0 19h0m0 1h0m0 1h0m0 5h0m1-43h0m0 2h0m0 15h0m0 1h0m0 1h0m0 23h0m1-44h0m0 7h0m0 62h0m1-67h0m0 2h0m0 34h0m0 3h0m0 2h0m0 23h0m1-59h0m1 38h0m0 2h0m0 4h0m1-45h0m0 32h0m1-32h0m0 42h0m1-48h0m0 4h0m0 33h0m1 3h0m1-37h0m0 32h0m0 4h0m0 5h0m1-39h0m1 0h0m0 30h0m0 2h0m0 15h0m1-46h0m0 4h0m0 2h0m0 22h0m0 9h0m1-38h0m0 5h0m0 24h0m0 6h0m0 2h0m1-34h0m0 26h0m0 1h0m0 22h0m1-53h0m0 1h0m0 8h0m0 22h0m0 5h0m1-36h0m0 2h0m0 31h0m0 2h0m1-35h0m0 2h0m0 3h0m0 1h0m0 1h0m0 1h0m0 8h0m1-11h0m0 1h0m0 6h0m0 1h0m0 1h0m0 1h0m0 2h0m0 18h0m1-36h0m0 2h0m0 9h0m0 32h0m1-43h0m0 4h0m0 5h0m0 3h0m0 24h0m0 13h0m1-58h0m0 11h0m0 1h0m0 3h0m0 6h0m0 1h0m0 3h0m0 2h0m0 1h0m0 17h0m0 29h0m1-51h0m0 1h0m0 2h0m0 14h0m0 29h0m1-57h0m0 27h0m0 2h0m0 5h0m0 21h0m1-59h0m0 35h0m0 1h0m0 1h0m0 1h0m0 3h0m1-49h0m0 11h0m0 1h0m0 2h0m0 13h0m0 1h0m0 1h0m0 1h0m0 3h0m0 3h0m0 2h0m0 6h0m1-29h0m0 12h0m0 22h0m0 2h0m1-41h0m0 5h0m0 1h0m0 1h0m0 14h0m0 3h0m0 5h0m0 4h0m1-46h0m0 9h0m0 3h0m0 1h0m0 1h0m0 6h0m0 1h0m0 9h0m0 3h0m0 7h0m0 2h0m1-34h0m0 3h0m0 1h0m0 4h0m0 5h0m0 9h0m0 1h0m0 2h0m0 2h0m0 5h0m0 5h0m0 2h0m0 2h0m1-41h0m0 8h0m0 5h0m0 12h0m0 4h0m0 5h0m0 5h0m0 4h0m1-39h0m0 1h0m0 8h0m0 12h0m0 4h0m0 4h0m0 26h0m1-54h0m0 4h0m0 1h0m0 1h0m0 20h0m0 5h0m0 4h0m0 2h0m1-17h0m0 5h0m0 3h0m0 3h0m0 1h0m0 5h0m1-45h0m0 7h0m0 21h0m0 1h0m0 2h0m0 5h0m0 7h0m0 4h0m0 2h0m0 1h0m0 1h0m1-22h0m0 2h0m0 1h0m0 3h0m0 11h0m0 10h0m1-48h0m0 20h0m0 4h0m0 6h0m0 2h0m0 1h0m0 3h0m0 8h0m0 4h0m1-48h0m0 20h0m0 6h0m0 7h0m0 7h0m1-46h0m0 7h0m0 1h0m0 19h0m0 2h0m0 5h0m0 5h0m0 5h0m1-40h0m0 33h0m0 2h0m0 1h0m0 2h0m0 2h0m0 25h0m1-29h0m0 2h0m0 2h0m1-41h0m0 4h0m0 32h0m0 3h0m0 4h0m1-45h0m0 4h0m0 1h0m0 2h0m0 1h0m0 18h0m0 1h0m0 2h0m0 8h0m0 6h0m1-41h0m0 6h0m0 16h0m0 9h0m0 2h0m0 2h0m0 4h0m1-18h0m0 6h0m0 2h0m0 6h0m1-28h0m0 15h0m0 3h0m0 6h0m0 4h0m0 3h0m0 2h0m0 11h0m0 2h0m1-54h0m0 5h0m0 19h0m0 1h0m0 10h0m0 6h0m0 1h0m0 5h0m0 2h0m0 4h0m1 0h0m1-47h0m0 5h0m0 25h0m0 1h0m0 1h0m0 5h0m1-40h0m0 2h0m0 3h0m0 7h0m0 1h0m0 1h0m0 1h0m0 21h0m0 9h0m0 4h0m1-47h0m0 8h0m0 2h0m0 3h0m0 20h0m1-33h0m0 3h0m0 2h0m0 9h0m0 19h0m0 4h0m0 7h0m1-36h0m0 5h0m0 20h0m1-37h0m0 4h0m0 1h0m0 10h0m0 1h0m0 23h0m0 3h0m0 2h0m0 4h0m1-46h0m0 35h0m0 15h0m1-50h0m0 4h0m0 31h0m0 5h0m0 9h0m1-42h0m0 1h0m0 1h0m0 30h0m0 4h0m1-46h0m0 2h0m0 1h0m0 2h0m0 4h0m0 31h0m0 2h0m0 3h0m0 1h0m0 6h0m1-39h0m0 26h0m0 8h0m1-44h0m0 3h0m0 1h0m0 1h0m0 1h0m0 29h0m1-41h0m0 10h0m0 3h0m0 2h0m0 1h0m1-7h0m0 1h0m0 1h0m0 4h0m0 27h0m0 2h0m0 25h0m1-59h0m0 5h0m0 26h0m1-33h0m0 7h0m0 25h0m0 6h0m0 8h0m1-54h0m0 7h0m0 1h0m0 3h0m0 3h0m0 27h0m0 4h0m0 4h0m0 1h0m0 4h0m1-47h0m0 1h0m0 6h0m0 2h0m0 5h0m0 1h0m0 19h0m0 11h0m0 8h0m0 2h0m1-61h0m0 4h0m0 15h0m0 1h0m0 3h0m0 17h0m0 3h0m0 6h0m1-44h0m0 4h0m0 2h0m0 2h0m0 2h0m0 2h0m1-13h0m0 2h0m0 13h0m0 29h0m0 5h0m1-51h0m0 1h0m0 3h0m0 1h0m0 3h0m0 3h0m0 3h0m0 4h0m0 2h0m0 22h0m0 2h0m0 2h0m0 20h0m1-72h0m0 3h0m0 3h0m0 2h0m0 3h0m0 40h0m0 1h0m0 3h0m1-52h0m0 4h0m0 5h0m0 35h0m1-41h0m0 5h0m1-1h0m0 1h0m0 37h0m0 4h0m0 13h0m1-59h0m0 2h0m0 35h0m0 8h0m0 9h0m1-52h0m0 2h0m0 25h0m0 1h0m0 14h0m0 1h0m1-14h0m0 2h0m0 6h0m0 2h0m1-39h0m0 4h0m0 21h0m0 8h0m0 1h0m0 10h0m0 4h0m0 6h0m1-61h0m0 11h0m0 22h0m0 3h0m0 12h0m0 1h0m1-41h0m0 1h0m0 25h0m0 2h0m0 2h0m0 2h0m0 3h0m0 3h0m0 3h0m0 5h0m0 17h0m1-29h0m0 12h0m1-49h0m0 1h0m0 1h0m0 32h0m0 4h0m0 2h0m0 12h0m1-48h0m0 3h0m0 2h0m0 1h0m0 28h0m0 3h0m0 4h0m0 4h0m0 6h0m1-56h0m0 11h0m0 25h0m0 3h0m0 3h0m0 2h0m1-42h0m0 2h0m0 2h0m0 35h0m0 1h0m0 2h0m0 10h0m1-44h0m0 31h0m1-36h0m0 2h0m0 2h0m0 36h0m0 22h0m1-62h0m0 34h0m0 1h0m0 11h0m0 3h0m0 12h0m1-66h0m0 6h0m0 51h0m1-52h0m0 34h0m0 6h0m0 13h0m1-52h0m0 32h0m0 1h0m0 19h0m1-58h0m0 7h0m0 1h0m0 44h0m0 1h0m1-48h0m0 3h0m0 29h0m0 4h0m0 1h0m0 13h0m0 1h0m1-20h0m1-28h0m0 34h0m0 26h0m1-66h0m0 6h0m0 30h0m0 18h0m1-53h0m0 3h0m0 3h0m0 25h0m0 1h0m0 5h0m0 13h0m0 3h0m0 12h0m1-62h0m0 4h0m0 22h0m0 4h0m0 5h0m1-42h0m0 5h0m0 6h0m0 21h0m0 5h0m0 2h0m0 5h0m0 4h0m1-45h0m0 1h0m0 7h0m0 22h0m0 18h0m0 1h0m1-48h0m0 2h0m0 2h0m0 2h0m0 23h0m0 1h0m0 1h0m0 5h0m0 2h0m0 11h0m1-49h0m0 5h0m0 43h0m0 11h0m1-59h0m0 36h0m0 1h0m0 1h0m0 3h0m0 24h0m1-64h0m0 1h0m0 9h0m0 4h0m0 24h0m0 12h0m1-49h0m0 2h0m0 4h0m0 6h0m0 20h0m0 8h0m0 6h0m1-42h0m0 3h0m0 4h0m0 4h0m0 18h0m0 4h0m0 4h0m0 1h0m0 6h0m1-54h0m0 6h0m0 9h0m0 2h0m0 5h0m0 21h0m0 3h0m0 1h0m1-42h0m0 3h0m0 4h0m0 27h0m0 3h0m0 4h0m0 2h0m0 18h0m1-62h0m0 2h0m0 2h0m0 3h0m0 8h0m0 1h0m1-17h0m0 6h0m0 31h0m1-26h0m0 30h0m0 2h0m0 9h0m1-49h0m0 2h0m0 1h0m0 1h0m0 7h0m0 3h0m0 16h0m0 2h0m0 4h0m0 1h0m0 3h0m1-43h0m0 1h0m0 2h0m0 3h0m0 1h0m0 2h0m0 3h0m0 5h0m0 19h0m0 6h0m1-39h0m0 5h0m0 9h0m0 14h0m0 5h0m0 5h0m0 5h0m0 2h0m0 3h0m0 4h0m1-57h0m0 1h0m0 1h0m0 4h0m0 6h0m0 3h0m0 1h0m0 2h0m0 13h0m0 3h0m0 3h0m0 1h0m0 2h0m0 3h0m0 1h0m1-42h0m0 8h0m0 20h0m0 5h0m0 3h0m0 7h0m0 1h0m0 12h0m1-27h0m0 5h0m0 5h0m0 3h0m0 3h0m0 17h0m0 11h0m1-72h0m0 3h0m0 1h0m0 25h0m0 3h0m0 3h0m0 9h0m1-43h0m0 6h0m0 20h0m0 1h0m0 1h0m0 2h0m0 1h0m0 3h0m0 4h0m0 2h0m0 3h0m1-49h0m0 6h0m0 5h0m0 21h0m0 3h0m0 7h0m0 10h0m1-43h0m0 8h0m0 7h0m0 7h0m0 7h0m0 14h0m0 12h0m1-58h0m0 1h0m0 1h0m0 2h0m0 1h0m0 1h0m0 9h0m0 3h0m0 11h0m0 5h0m0 4h0m1-40h0m0 3h0m0 7h0m0 1h0m0 4h0m0 1h0m0 13h0m0 1h0m0 7h0m0 8h0m0 13h0m1-59h0m0 4h0m0 9h0m0 4h0m0 6h0m0 15h0m0 5h0m1-35h0m0 2h0m0 6h0m0 1h0m0 1h0m0 4h0m0 15h0m0 2h0m0 3h0m0 10h0m1-53h0m0 2h0m0 2h0m0 15h0m0 2h0m0 2h0m1-14h0m0 28h0m0 6h0m0 7h0m0 6h0m0 17h0m1-66h0m0 1h0m0 30h0m0 2h0m1-32h0m0 37h0m0 5h0m1-47h0m0 37h0m1-33h0m0 1h0m0 31h0m0 6h0m1-36h0m0 28h0m0 2h0m0 5h0m0 4h0m1-42h0m0 3h0m0 21h0m0 1h0m0 3h0m0 16h0m1-40h0m0 24h0m0 1h0m0 4h0m1-35h0m0 7h0m0 24h0m0 1h0m0 6h0m1-40h0m0 5h0m0 3h0m0 18h0m0 3h0m0 7h0m1-36h0m0 26h0m0 3h0m0 11h0m0 2h0m0 1h0m0 16h0m1-54h0m0 20h0m0 5h0m0 1h0m0 11h0m0 13h0m1-53h0m0 1h0m0 23h0m0 6h0m0 2h0m0 4h0m0 9h0m1-41h0m0 20h0m0 2h0m0 5h0m0 1h0m0 2h0m0 4h0m0 1h0m0 1h0m1-41h0m0 35h0m0 8h0m1-38h0m0 31h0m0 10h0m0 14h0m1-60h0m0 4h0m0 1h0m0 31h0m0 16h0m0 10h0m1-61h0m0 2h0m0 35h0m1-3h0m0 2h0m0 11h0m0 5h0m0 6h0m1-59h0m0 33h0m0 1h0m1-38h0m0 41h0m0 4h0m0 7h0m1-45h0m0 29h0m0 6h0m0 4h0m1-48h0m0 6h0m0 33h0m0 4h0m0 1h0m0 7h0m0 13h0m1-63h0m0 8h0m0 33h0m1-40h0m0 1h0m0 1h0m0 6h0m0 31h0m0 8h0m1-49h0m0 9h0m0 32h0m0 6h0m0 12h0m1-58h0m0 7h0m0 33h0m0 3h0m0 1h0m0 8h0m0 2h0m1-49h0m0 3h0m0 1h0m0 32h0m0 5h0m0 11h0m1-54h0m0 6h0m0 32h0m0 7h0m0 1h0m0 3h0m1-49h0m0 2h0m0 41h0m1-36h0m0 5h0m0 27h0m0 1h0m0 1h0m0 2h0m0 6h0m1-49h0m0 3h0m0 1h0m0 5h0m0 3h0m0 33h0m0 4h0m1-43h0m0 2h0m0 5h0m0 31h0m1-45h0m0 8h0m0 2h0m0 32h0m0 1h0m0 1h0m0 2h0m0 1h0m1-40h0m0 3h0m0 1h0m0 1h0m0 1h0m0 28h0m0 1h0m1-42h0m0 5h0m0 36h0m1-45h0m0 9h0m0 35h0m1-38h0m0 1h0m0 6h0m0 30h0m0 5h0m0 6h0m1-44h0m0 3h0m0 11h0m0 20h0m0 2h0m0 7h0m0 5h0m1-52h0m0 11h0m0 3h0m0 3h0m0 2h0m0 1h0m0 15h0m0 4h0m0 1h0m0 5h0m1-44h0m0 2h0m0 4h0m0 2h0m0 6h0m0 5h0m0 15h0m1-29h0m0 6h0m0 3h0m0 5h0m0 16h0m0 2h0m0 2h0m1-37h0m0 2h0m0 3h0m0 1h0m0 5h0m0 1h0m0 5h0m1-9h0m0 5h0m0 22h0m0 4h0m1-41h0m0 3h0m0 2h0m0 10h0m0 1h0m0 1h0m1-5h0m0 27h0m0 13h0m1-52h0m0 3h0m0 2h0m0 2h0m0 1h0m0 6h0m0 2h0m0 21h0m0 6h0m0 5h0m1-46h0m0 8h0m0 7h0m0 19h0m0 2h0m1-34h0m0 1h0m0 7h0m0 1h0m0 4h0m0 34h0m1-47h0m0 3h0m0 2h0m0 4h0m0 1h0m0 2h0m0 18h0m1-30h0m0 4h0m0 27h0m1-32h0m0 1h0m0 4h0m0 28h0m0 3h0m0 3h0m0 2h0m0 11h0m1-50h0m0 2h0m0 1h0m0 61h0m1-70h0m0 2h0m0 38h0m0 12h0m0 6h0m1-20h0m0 1h0m0 6h0m0 18h0m1-24h0m0 7h0m0 11h0m0 1h0m1-55h0m0 39h0m1-43h0m0 1h0m0 43h0m1-42h0m1-2h0m0 3h0m0 1h0m0 2h0m0 2h0m0 1h0m0 36h0m1-36h0m0 35h0m0 6h0m1-52h0m0 11h0m0 36h0m0 18h0m1-59h0m0 5h0m0 33h0m0 1h0m1-43h0m0 8h0m0 1h0m0 24h0m0 2h0m0 3h0m0 2h0m0 1h0m0 9h0m1-51h0m0 2h0m0 3h0m0 1h0m0 1h0m0 1h0m0 10h0m0 1h0m0 18h0m0 4h0m0 11h0m1-41h0m0 4h0m0 5h0m0 19h0m0 1h0m1-41h0m0 5h0m0 5h0m0 4h0m0 3h0m0 4h0m0 14h0m0 2h0m1-29h0m0 3h0m0 5h0m0 5h0m0 15h0m0 7h0m0 2h0m0 8h0m1-50h0m0 2h0m0 12h0m0 4h0m0 14h0m0 6h0m0 19h0m0 4h0m1-60h0m0 3h0m0 2h0m0 2h0m0 2h0m0 2h0m0 18h0m0 1h0m0 3h0m0 8h0m0 7h0m0 8h0m1-51h0m0 1h0m0 3h0m0 4h0m0 1h0m0 3h0m0 18h0m0 3h0m0 7h0m0 1h0m1-49h0m0 5h0m0 3h0m0 4h0m0 6h0m0 1h0m0 17h0m0 7h0m1-35h0m0 4h0m0 20h0m0 6h0m0 2h0m0 5h0m0 11h0m1-51h0m0 7h0m0 21h0m0 1h0m0 9h0m0 1h0m1-39h0m0 2h0m0 2h0m0 32h0m1-40h0m0 9h0m0 33h0m1-41h0m0 1h0m0 37h0m0 4h0m1-44h0m0 49h0m0 12h0m0 1h0m1-22h0m0 7h0m0 11h0m1-55h0m0 38h0m1-38h0m0 35h0m0 1h0m0 15h0m0 8h0m1-60h0m0 35h0m0 4h0m0 2h0m1-39h0m0 1h0m0 32h0m0 9h0m0 3h0m1-12h0m0 5h0m0 4h0m1-39h0m0 30h0m0 4h0m0 3h0m1-42h0m0 6h0m0 31h0m0 3h0m0 9h0m0 2h0m1-9h0m0 7h0m0 3h0m1-48h0m0 6h0m0 28h0m0 6h0m0 6h0m1-48h0m0 1h0m0 9h0m0 27h0m0 7h0m1-40h0m0 1h0m0 1h0m0 4h0m0 3h0m0 23h0m0 6h0m1-44h0m0 4h0m0 7h0m1-6h0m0 6h0m0 28h0m0 7h0m0 1h0m1-44h0m0 5h0m0 1h0m0 2h0m0 1h0m0 2h0m0 25h0m0 7h0m0 3h0m1-47h0m0 5h0m0 1h0m0 4h0m1-10h0m0 2h0m0 34h0m0 6h0m1-42h0m0 6h0m0 27h0m1-30h0m0 1h0m0 2h0m0 3h0m0 21h0m0 2h0m0 2h0m0 3h0m1-37h0m0 30h0m0 5h0m0 6h0m0 28h0m1-69h0m0 3h0m0 1h0m0 1h0m0 24h0m0 7h0m0 2h0m0 30h0m1-68h0m0 5h0m0 1h0m0 31h0m0 1h0m0 23h0m1-31h0m0 1h0m0 15h0m0 3h0m0 16h0m1-69h0m0 10h0m0 25h0m0 2h0m0 6h0m1-39h0m0 1h0m0 5h0m0 27h0m0 3h0m0 8h0m1-45h0m0 5h0m0 26h0m0 5h0m0 5h0m0 34h0m1-44h0m0 5h0m0 1h0m0 3h0m0 2h0m0 14h0m1-59h0m0 4h0m0 2h0m0 4h0m0 2h0m0 22h0m0 1h0m0 8h0m0 2h0m0 16h0m0 15h0m1-73h0m0 9h0m0 1h0m0 25h0m0 1h0m0 1h0m0 3h0m0 3h0m0 15h0m1-64h0m0 7h0m0 3h0m0 1h0m0 28h0m0 3h0m0 6h0m1-36h0m0 4h0m0 22h0m1-34h0m0 4h0m0 5h0m0 4h0m0 4h0m0 1h0m0 1h0m0 16h0m0 7h0m0 7h0m1-48h0m0 2h0m0 5h0m0 1h0m0 1h0m0 7h0m0 3h0m0 16h0m0 17h0m1-49h0m0 3h0m0 8h0m0 1h0m0 5h0m0 16h0m0 11h0m0 6h0m1-56h0m0 9h0m0 5h0m0 5h0m0 3h0m0 17h0m0 1h0m0 10h0m0 27h0m1-72h0m0 1h0m0 6h0m0 7h0m0 2h0m0 1h0m0 21h0m1-39h0m0 5h0m0 3h0m0 33h0m1-42h0m0 3h0m0 3h0m0 36h0m0 3h0m1-48h0m0 9h0m0 4h0m1-13h0m0 4h0m0 2h0m0 3h0m0 3h0m0 1h0m0 35h0m1-37h0m0 27h0m0 7h0m1-35h0m0 25h0m0 1h0m0 3h0m0 2h0m0 1h0m0 1h0m0 1h0m1-49h0m0 8h0m0 1h0m0 2h0m0 3h0m0 26h0m0 5h0m0 11h0m1-54h0m0 6h0m0 3h0m0 2h0m0 4h0m0 33h0m1-38h0m0 1h0m0 5h0m0 27h0m0 7h0m0 8h0m1-52h0m0 3h0m0 1h0m0 2h0m0 4h0m0 23h0m0 2h0m0 32h0m1-58h0m0 1h0m0 14h0m0 1h0m0 1h0m0 1h0m0 3h0m0 1h0m0 5h0m1-33h0m0 21h0m0 9h0m0 5h0m0 8h0m1-49h0m0 4h0m0 3h0m0 27h0m0 20h0m1-51h0m0 4h0m0 20h0m0 3h0m0 1h0m0 7h0m0 2h0m0 2h0m0 4h0m1-18h0m0 2h0m0 6h0m0 6h0m0 2h0m0 11h0m1-48h0m1-6h0m0 2h0m0 37h0m0 3h0m1-39h0m0 1h0m0 34h0m0 1h0m0 29h0m1-64h0m0 3h0m0 60h0m1-65h0m0 5h0m0 2h0m0 27h0m1-28h0m0 2h0m0 1h0m0 26h0m0 6h0m0 13h0m1-28h0m0 5h0m0 4h0m0 2h0m0 20h0m1-55h0m0 7h0m0 15h0m0 1h0m0 4h0m0 8h0m0 1h0m0 14h0m1-48h0m0 1h0m0 4h0m0 19h0m0 5h0m0 5h0m0 4h0m0 2h0m0 2h0m0 12h0m1-54h0m0 1h0m0 1h0m0 1h0m0 16h0m0 8h0m0 4h0m0 20h0m1-51h0m0 18h0m0 6h0m0 3h0m0 5h0m0 4h0m0 1h0m0 1h0m1-39h0m0 20h0m0 4h0m0 1h0m0 6h0m0 4h0m0 9h0m1-45h0m0 23h0m0 1h0m0 28h0m1-17h0m0 5h0m0 1h0m0 6h0m1-47h0m0 1h0m0 3h0m0 31h0m0 1h0m0 3h0m0 4h0m1-47h0m0 1h0m0 3h0m0 4h0m0 31h0m0 7h0m1-37h0m0 31h0m0 3h0m0 8h0m1-46h0m0 6h0m0 1h0m0 2h0m0 1h0m0 25h0m0 2h0m0 12h0m1-52h0m0 4h0m0 2h0m0 3h0m0 34h0m1-41h0m0 7h0m0 28h0m0 4h0m0 8h0m0 14h0m1-67h0m0 5h0m0 2h0m0 5h0m0 4h0m0 1h0m0 21h0m0 1h0m0 3h0m0 15h0m0 14h0m1-68h0m0 5h0m0 4h0m0 3h0m0 23h0m0 5h0m1-43h0m0 12h0m0 33h0m0 2h0m0 17h0m1-61h0m0 5h0m0 3h0m0 1h0m0 27h0m0 2h0m0 1h0m0 4h0m1-45h0m0 4h0m0 4h0m0 1h0m0 40h0m0 8h0m1-56h0m0 2h0m0 3h0m0 1h0m0 3h0m0 34h0m0 3h0m0 1h0m1-37h0m0 38h0m1-43h0m0 6h0m0 1h0m0 2h0m0 32h0m0 25h0m1-70h0m0 3h0m0 4h0m0 6h0m0 30h0m1-48h0m0 10h0m0 4h0m0 5h0m0 28h0m1-41h0m0 3h0m0 3h0m0 6h0m0 29h0m1-44h0m0 7h0m0 4h0m0 1h0m0 2h0m0 30h0m0 4h0m1-42h0m1-3h0m0 2h0m0 3h0m0 33h0m0 1h0m0 1h0m1-39h0m0 2h0m0 35h0m0 7h0m0 16h0m1-54h0m0 30h0m0 12h0m1-47h0m0 4h0m0 32h0m1-37h0m0 4h0m0 3h0m0 35h0m1-39h0m0 33h0m0 1h0m1-30h0m0 28h0m0 3h0m0 13h0m0 1h0m0 22h0m1-70h0m0 1h0m0 1h0m0 2h0m1-8h0m0 6h0m0 1h0m0 3h0m0 25h0m0 14h0m1-45h0m0 6h0m0 2h0m0 1h0m0 22h0m0 29h0m1-64h0m0 36h0m0 6h0m1-37h0m0 8h0m0 17h0m0 8h0m0 8h0m1-42h0m0 4h0m0 2h0m0 3h0m0 15h0m0 1h0m0 2h0m0 1h0m0 6h0m0 3h0m0 5h0m1-46h0m0 1h0m0 1h0m0 1h0m0 1h0m0 1h0m0 4h0m0 2h0m0 17h0m0 6h0m0 1h0m0 7h0m1-38h0m0 2h0m0 26h0m0 6h0m0 5h0m1-14h0m0 5h0m0 1h0m0 3h0m0 1h0m0 6h0m0 7h0m1-52h0m0 7h0m0 26h0m0 3h0m0 13h0m1-49h0m0 2h0m0 1h0m0 1h0m0 2h0m0 2h0m0 5h0m0 4h0m0 23h0m1-23h0m0 3h0m0 7h0m0 16h0m1-50h0m0 7h0m0 1h0m0 1h0m0 1h0m0 1h0m0 6h0m0 1h0m0 2h0m0 2h0m0 6h0m0 3h0m0 1h0m0 5h0m0 2h0m0 4h0m0 1h0m0 2h0m1-40h0m0 8h0m0 10h0m0 4h0m0 7h0m0 5h0m0 21h0m1-49h0m0 10h0m0 2h0m0 1h0m0 2h0m0 5h0m0 6h0m0 5h0m1-36h0m0 1h0m0 3h0m0 5h0m0 1h0m0 2h0m0 11h0m0 5h0m0 4h0m0 3h0m0 14h0m0 3h0m1-51h0m0 1h0m0 1h0m0 1h0m0 3h0m0 2h0m0 8h0m0 3h0m0 5h0m0 11h0m0 10h0m1-48h0m0 4h0m0 1h0m0 8h0m0 3h0m0 5h0m0 3h0m0 5h0m0 3h0m0 3h0m0 4h0m0 1h0m0 1h0m1-33h0m0 4h0m0 3h0m0 11h0m0 4h0m0 10h0m1-38h0m0 8h0m0 8h0m0 1h0m0 3h0m0 6h0m0 6h0m0 3h0m0 5h0m0 7h0m1-44h0m0 1h0m0 7h0m0 3h0m0 8h0m0 7h0m0 10h0m1-35h0m0 3h0m0 6h0m0 6h0m0 3h0m0 2h0m0 5h0m0 3h0m0 1h0m0 2h0m0 2h0m1-34h0m0 2h0m0 2h0m0 1h0m0 1h0m0 2h0m0 5h0m0 11h0m0 13h0m1-45h0m0 2h0m0 2h0m0 1h0m0 5h0m0 5h0m0 3h0m0 7h0m0 8h0m0 1h0m0 2h0m0 3h0m0 3h0m0 3h0m1-34h0m0 4h0m0 2h0m0 3h0m0 3h0m0 5h0m0 2h0m0 9h0m0 4h0m0 3h0m1-44h0m0 5h0m0 4h0m0 5h0m0 6h0m0 2h0m0 2h0m0 4h0m0 4h0m0 3h0m0 6h0m0 2h0m1-46h0m0 6h0m0 7h0m0 1h0m0 6h0m0 9h0m0 2h0m0 3h0m0 1h0m0 2h0m0 9h0m0 1h0m0 10h0m1-49h0m0 8h0m0 6h0m0 5h0m0 6h0m0 8h0m0 1h0m0 1h0m0 23h0m1-63h0m0 2h0m0 1h0m0 2h0m0 1h0m0 7h0m0 3h0m0 1h0m0 4h0m0 5h0m0 6h0m0 4h0m0 1h0m0 5h0m0 1h0m0 23h0m1-60h0m0 2h0m0 1h0m0 2h0m0 4h0m0 2h0m0 7h0m0 4h0m0 4h0m0 2h0m0 5h0m0 8h0m1-44h0m0 11h0m0 5h0m0 3h0m0 7h0m0 8h0m0 7h0m1-44h0m0 2h0m0 2h0m0 4h0m0 2h0m0 1h0m0 8h0m0 5h0m0 1h0m0 2h0m0 5h0m0 2h0m0 3h0m0 4h0m0 4h0m1-43h0m0 4h0m0 7h0m0 3h0m0 4h0m0 18h0m1-36h0m0 12h0m0 3h0m0 6h0m0 5h0m0 2h0m0 4h0m0 1h0m0 4h0m0 6h0m0 8h0m0 3h0m0 10h0m1-61h0m0 1h0m0 2h0m0 1h0m0 1h0m0 2h0m0 12h0m0 3h0m0 1h0m0 3h0m0 6h0m0 2h0m0 19h0m1-50h0m0 7h0m0 4h0m0 2h0m0 3h0m0 1h0m0 8h0m0 13h0m0 20h0m1-60h0m0 4h0m0 2h0m0 4h0m0 3h0m0 10h0m0 6h0m0 4h0m0 1h0m0 2h0m0 1h0m0 8h0m1-48h0m0 2h0m0 10h0m0 6h0m0 2h0m0 3h0m0 6h0m0 5h0m0 11h0m1-41h0m0 1h0m0 4h0m0 5h0m0 8h0m0 4h0m0 2h0m0 3h0m0 3h0m0 3h0m0 1h0m0 9h0m1-43h0m0 3h0m0 2h0m0 3h0m0 4h0m0 3h0m0 14h0m0 6h0m0 23h0m1-58h0m0 4h0m0 8h0m0 8h0m0 6h0m0 1h0m0 5h0m0 1h0m0 1h0m0 1h0m0 1h0m1-37h0m0 2h0m0 2h0m0 4h0m0 3h0m0 1h0m0 3h0m0 3h0m0 3h0m0 3h0m0 8h0m0 1h0m0 1h0m1-24h0m0 20h0m0 1h0m0 2h0m1-27h0m0 5h0m0 6h0m0 2h0m0 4h0m0 3h0m0 1h0m1-29h0m0 1h0m0 1h0m0 3h0m0 6h0m0 3h0m0 2h0m0 1h0m0 7h0m0 7h0m1-31h0m0 8h0m0 11h0m0 6h0m0 1h0m0 2h0m0 4h0m0 1h0m0 2h0m0 1h0m0 2h0m1-41h0m0 7h0m0 2h0m0 3h0m0 3h0m0 10h0m0 4h0m0 4h0m1-27h0m0 10h0m0 2h0m0 1h0m0 1h0m0 3h0m0 9h0m0 4h0m0 2h0m1-37h0m0 6h0m0 1h0m0 2h0m0 3h0m0 3h0m0 4h0m0 4h0m0 3h0m0 2h0m0 3h0m0 5h0m0 4h0m1-38h0m0 1h0m0 7h0m0 4h0m0 8h0m0 3h0m0 7h0m0 2h0m0 5h0m0 6h0m1-36h0m0 4h0m0 5h0m0 8h0m0 3h0m0 6h0m0 2h0m0 1h0m0 11h0m0 9h0m1-56h0m0 4h0m0 1h0m0 10h0m0 2h0m0 1h0m0 6h0m0 8h0m1-30h0m0 1h0m0 4h0m0 1h0m0 1h0m0 4h0m0 1h0m0 7h0m0 1h0m0 1h0m0 6h0m0 6h0m0 8h0m0 1h0m0 21h0m1-63h0m0 2h0m0 6h0m0 3h0m0 6h0m0 7h0m0 12h0m0 4h0m1-40h0m0 4h0m0 9h0m0 1h0m0 13h0m0 2h0m0 4h0m1-34h0m0 2h0m0 8h0m0 2h0m0 6h0m0 2h0m0 2h0m0 1h0m0 3h0m0 4h0m0 4h0m0 15h0m1-53h0m0 8h0m0 4h0m0 1h0m0 7h0m0 9h0m0 6h0m0 2h0m0 3h0m0 7h0m0 4h0m1-49h0m0 1h0m0 5h0m0 1h0m0 5h0m0 3h0m0 5h0m0 2h0m0 2h0m0 6h0m0 4h0m0 2h0m0 2h0m0 1h0m0 6h0m1-42h0m0 5h0m0 8h0m0 2h0m0 9h0m0 6h0m0 1h0m0 9h0m0 2h0m1-41h0m0 7h0m0 1h0m0 3h0m0 5h0m0 3h0m0 5h0m0 10h0m0 2h0m0 4h0m0 2h0m1-45h0m0 6h0m0 4h0m0 4h0m0 3h0m0 7h0m0 6h0m0 5h0m0 3h0m1-39h0m0 4h0m0 5h0m0 2h0m0 5h0m0 6h0m0 4h0m0 7h0m0 4h0m0 1h0m1-41h0m0 2h0m0 2h0m0 3h0m0 2h0m0 6h0m0 4h0m0 4h0m0 5h0m0 4h0m0 6h0m0 11h0m1-47h0m0 2h0m0 11h0m0 1h0m0 4h0m0 4h0m0 1h0m0 7h0m0 3h0m0 10h0m1-34h0m0 2h0m0 4h0m0 1h0m0 9h0m0 3h0m0 10h0m0 4h0m1-41h0m0 3h0m0 2h0m0 2h0m0 11h0m0 1h0m0 12h0m0 3h0m0 5h0m1-41h0m0 4h0m0 1h0m0 8h0m0 2h0m0 9h0m0 4h0m0 2h0m0 3h0m0 5h0m0 1h0m0 2h0m1-41h0m0 6h0m0 5h0m0 3h0m0 4h0m0 4h0m0 5h0m0 3h0m0 8h0m1-38h0m0 8h0m0 2h0m0 9h0m0 6h0m0 6h0m0 4h0m1-36h0m0 1h0m0 4h0m0 1h0m0 8h0m0 3h0m0 5h0m0 7h0m0 3h0m0 3h0m0 4h0m0 5h0m0 10h0m1-50h0m0 1h0m0 3h0m0 4h0m0 6h0m0 6h0m0 3h0m0 9h0m0 3h0m0 1h0m0 8h0m0 11h0m1-57h0m0 4h0m0 4h0m0 4h0m0 2h0m0 5h0m0 9h0m0 3h0m0 3h0m0 3h0m0 9h0m1-50h0m0 3h0m0 1h0m0 3h0m0 2h0m0 1h0m0 1h0m0 1h0m0 13h0m0 3h0m0 2h0m0 5h0m0 4h0m0 7h0m1-40h0m0 5h0m0 4h0m0 5h0m0 1h0m0 6h0m0 5h0m0 4h0m0 6h0m0 1h0m0 3h0m1-33h0m0 4h0m0 7h0m0 4h0m0 6h0m0 4h0m0 6h0m0 5h0m1-42h0m0 9h0m0 6h0m0 3h0m0 5h0m0 7h0m0 2h0m0 1h0m0 5h0m0 8h0m0 3h0m1-43h0m0 3h0m0 3h0m0 3h0m0 8h0m0 2h0m0 2h0m0 8h0m0 1h0m0 1h0m0 24h0m1-62h0m0 1h0m0 2h0m0 1h0m0 7h0m0 10h0m0 8h0m0 1h0m0 6h0m1-37h0m0 2h0m0 4h0m0 1h0m0 1h0m0 5h0m0 2h0m0 2h0m0 1h0m0 1h0m0 1h0m0 1h0m0 2h0m0 1h0m0 1h0m0 1h0m0 1h0m0 5h0m0 2h0m0 1h0m0 14h0m1-38h0m0 14h0m0 16h0" stroke="#ffa526" stroke-width="3.9" stroke-linecap="round" fill="none"/>
<g class="tk" text-anchor="middle"><text transform="translate(795.0 750.5) scale(1.12 1)">0</text><text transform="translate(886.5 750.5) scale(1.12 1)">2</text><text transform="translate(978.0 750.5) scale(1.12 1)">4</text><text transform="translate(1069.5 750.5) scale(1.12 1)">6</text><text transform="translate(1161.0 750.5) scale(1.12 1)">8</text><text transform="translate(1252.5 750.5) scale(1.12 1)">10</text></g>
<g class="tk" text-anchor="end"><text x="784.8" y="719.7">0.4</text><text x="784.8" y="633.5">0.5</text><text x="784.8" y="547.2">0.6</text><text x="784.8" y="461.0">0.7</text></g>
<text class="xl" x="1026.0" y="777.2" text-anchor="middle">DSL</text>
<text class="yl" transform="translate(725.7 582.6) rotate(-90) scale(1 0.9)" text-anchor="middle">&#961;</text>
<text class="ti" x="1056.6" y="449.7" text-anchor="middle">NIR</text>
<path d="M1565.3 453.8V712.5M1656.8 453.8V712.5M1748.3 453.8V712.5M1839.8 453.8V712.5M1931.3 453.8V712.5M1473.8 626.3H1988.6M1473.8 540.0H1988.6" stroke="#dadada" stroke-width="2.8" fill="none"/>
<path d="M1496.7 453.8V712.5M1519.5 453.8V712.5M1542.4 453.8V712.5M1588.2 453.8V712.5M1611.0 453.8V712.5M1633.9 453.8V712.5M1679.7 453.8V712.5M1702.5 453.8V712.5M1725.4 453.8V712.5M1771.2 453.8V712.5M1794.0 453.8V712.5M1816.9 453.8V712.5M1862.7 453.8V712.5M1885.5 453.8V712.5M1908.4 453.8V712.5M1954.2 453.8V712.5M1977.0 453.8V712.5" stroke="#aaaaaa" stroke-width="2.7" stroke-dasharray="2.7 3.35" stroke-dashoffset="3.3" fill="none"/>
<path d="M1473.8 695.3H1988.6M1473.8 678.0H1988.6M1473.8 660.8H1988.6M1473.8 643.5H1988.6M1473.8 609.0H1988.6M1473.8 591.8H1988.6M1473.8 574.5H1988.6M1473.8 557.3H1988.6M1473.8 522.8H1988.6M1473.8 505.5H1988.6M1473.8 488.3H1988.6M1473.8 471.0H1988.6" stroke="#aaaaaa" stroke-width="2.7" stroke-dasharray="2.7 3.35" stroke-dashoffset="0.8" fill="none"/>
<path d="M1473.8 712.5v-6M1473.8 453.8v6M1565.3 712.5v-6M1565.3 453.8v6M1656.8 712.5v-6M1656.8 453.8v6M1748.3 712.5v-6M1748.3 453.8v6M1839.8 712.5v-6M1839.8 453.8v6M1931.3 712.5v-6M1931.3 453.8v6M1473.8 712.5h6M1988.6 712.5h-6M1473.8 626.3h6M1988.6 626.3h-6M1473.8 540.0h6M1988.6 540.0h-6M1473.8 453.8h6M1988.6 453.8h-6" stroke="#111" stroke-width="2.6" fill="none"/>
<rect x="1473.8" y="453.8" width="514.8" height="258.7" fill="none" stroke="#111" stroke-width="2.6"/>
<path d="M1484 528h0m0 5h0m0 1h0m0 12h0m0 1h0m0 2h0m0 4h0m0 4h0m0 1h0m0 2h0m0 1h0m0 3h0m0 1h0m0 1h0m0 1h0m0 5h0m0 3h0m0 2h0m0 1h0m0 4h0m0 3h0m0 8h0m1-58h0m0 5h0m0 3h0m0 2h0m0 5h0m0 6h0m0 15h0m0 8h0m0 10h0m0 3h0m1-53h0m2 12h0m1 16h0m1-41h0m0 14h0m0 18h0m0 36h0m1-60h0m0 63h0m2-49h0m0 45h0m2-67h0m0 15h0m1-12h0m0 22h0m1-14h0m0 25h0m0 23h0m1-59h0m1 17h0m0 12h0m0 44h0m1-52h0m0 61h0m2-13h0m1 18h0m1-86h0m0 7h0m0 25h0m1 46h0m1-64h0m0 6h0m1-6h0m0 12h0m0 80h0m2-74h0m0 34h0m0 14h0m1-62h0m0 19h0m0 37h0m0 7h0m0 10h0m0 17h0m1-43h0m0 25h0m1-82h0m0 85h0m1-73h0m0 23h0m0 36h0m0 2h0m1-56h0m0 57h0m0 1h0m1-28h0m0 21h0m1 10h0m1-79h0m0 64h0m0 4h0m1-46h0m1-13h0m0 26h0m1 31h0m0 14h0m1-73h0m0 6h0m0 65h0m0 14h0m1-29h0m1-62h0m0 5h0m0 15h0m0 39h0m0 11h0m2-43h0m1 24h0m1-55h0m1 21h0m0 43h0m1-54h0m0 6h0m1 12h0m1 3h0m0 33h0m1-61h0m0 6h0m1 17h0m1 30h0m1-37h0m1 58h0m1-80h0m0 5h0m0 11h0m0 52h0m2-71h0m0 37h0m1-23h0m0 56h0m1-71h0m0 27h0m1-3h0m0 14h0m2-37h0m0 7h0m0 24h0m0 12h0m0 29h0m2-64h0m0 50h0m1-41h0m0 68h0m1-12h0m0 5h0m1-53h0m0 18h0m1-30h0m0 27h0m0 53h0m0 17h0m1-91h0m0 49h0m1-53h0m1-11h0m0 28h0m1 45h0m0 10h0m1-62h0m2 1h0m0 57h0m0 9h0m1-61h0m1-5h0m1 55h0m0 6h0m1-95h0m0 79h0m1-8h0m1-47h0m0 9h0m0 51h0m0 30h0m1-88h0m1-10h0m0 13h0m0 2h0m1 65h0m1-61h0m0 7h0m1 31h0m0 17h0m1-73h0m0 9h0m0 60h0m0 5h0m1-61h0m0 79h0m1-96h0m0 67h0m0 1h0m2-14h0m1-24h0m1-32h0m0 11h0m0 15h0m0 42h0m2-69h0m1 6h0m0 13h0m1 7h0m0 45h0m1-29h0m1-44h0m0 67h0m0 5h0m1-57h0m0 15h0m3-24h0m0 16h0m1 52h0m1-81h0m0 13h0m0 8h0m0 47h0m1-77h0m0 12h0m0 29h0m1-20h0m1 0h0m0 28h0m0 30h0m0 17h0m2-71h0m1-10h0m0 6h0m0 7h0m0 9h0m0 9h0m1 11h0m0 30h0m1-58h0m0 1h0m1-22h0m1 92h0m1-63h0m0 6h0m1-12h0m0 57h0m0 4h0m1-41h0m1-18h0m0 67h0m0 3h0m0 6h0m1-66h0m0 49h0m1-13h0m0 26h0m3 3h0m1-68h0m0 15h0m1 52h0m1-57h0m0 48h0m0 9h0m1-72h0m0 53h0m0 20h0m1-64h0m0 30h0m0 28h0m1-69h0m0 9h0m0 89h0m2-129h0m0 96h0m1-74h0m1 8h0m0 62h0m1-71h0m0 26h0m0 39h0m1-79h0m0 18h0m0 7h0m0 6h0m3-36h0m0 17h0m0 33h0m2-34h0m0 66h0m1-59h0m0 20h0m1-28h0m0 4h0m0 13h0m0 47h0m2-54h0m0 15h0m1-27h0m0 28h0m4 4h0m1-30h0m0 6h0m0 8h0m0 3h0m0 51h0m4-65h0m0 17h0m0 4h0m1-31h0m0 12h0m0 6h0m0 19h0m1-24h0m0 67h0m1-6h0m1-58h0m0 38h0m1-31h0m0 63h0m1-67h0m0 8h0m0 1h0m1 16h0m0 33h0m0 12h0m0 2h0m0 9h0m1-70h0m0 61h0m1-54h0m0 38h0m1-45h0m1 9h0m1 39h0m0 7h0m0 6h0m3-17h0m0 15h0m1-60h0m1 3h0m0 8h0m1 10h0m0 39h0m1-71h0m0 8h0m0 38h0m0 20h0m1 15h0m1-86h0m0 20h0m0 46h0m1-65h0m3 8h0m0 54h0m1 9h0m1-58h0m0 11h0m1-38h0m0 3h0m0 2h0m1 10h0m1 57h0m0 4h0m0 9h0m1-94h0m0 5h0m0 15h0m0 20h0m0 35h0m1 25h0m1-69h0m1-3h0m1-11h0m0 30h0m2 39h0m1-50h0m0 3h0m0 41h0m1-59h0m2-5h0m0 14h0m2-14h0m0 8h0m0 6h0m0 14h0m0 7h0m1-33h0m0 67h0m1-46h0m0 56h0m1-54h0m1-28h0m0 81h0m1-36h0m1-26h0m0 47h0m0 21h0m0 5h0m1-70h0m0 51h0m1-58h0m1-7h0m0 58h0m1-41h0m0 8h0m0 4h0m2-41h0m0 28h0m0 33h0m1 20h0m0 8h0m0 8h0m1-65h0m0 13h0m2 25h0m0 19h0m2-60h0m0 11h0m0 13h0m3 20h0m0 12h0m0 23h0m1-71h0m1-9h0m1-20h0m0 18h0m0 67h0m1-13h0m0 11h0m1-71h0m0 3h0m1-11h0m0 5h0m0 15h0m0 9h0m0 28h0m0 15h0m2-82h0m0 20h0m0 62h0m1-54h0m0 49h0m2-71h0m0 28h0m1-33h0m0 69h0m1-62h0m0 8h0m0 48h0m1-64h0m1 23h0m1-24h0m0 26h0m1-13h0m0 20h0m0 36h0m3-66h0m0 16h0m0 19h0m1-43h0m1 12h0m0 17h0m0 7h0m1-34h0m0 100h0m2-82h0m0 57h0m0 7h0m0 6h0m1-49h0m0 44h0m1-75h0m1 14h0m1-9h0m0 17h0m0 7h0m0 34h0m0 29h0m0 13h0m1-70h0m2-25h0m0 3h0m0 60h0m0 25h0m2-82h0m0 64h0m0 1h0m0 13h0m1-73h0m0 3h0m0 43h0m0 39h0m1-76h0m0 6h0m0 58h0m1-14h0m0 15h0m1-23h0m1 17h0m1-62h0m1-11h0m0 53h0m1-29h0m1-25h0m0 18h0m0 66h0m1-21h0m0 8h0m1-73h0m0 6h0m0 6h0m0 1h0m0 49h0m0 9h0m1-44h0m0 27h0m0 23h0m0 7h0m1-23h0m2-67h0m0 24h0m0 43h0m0 15h0m1-87h0m0 17h0m0 67h0m2-102h0m0 12h0m0 66h0m1-66h0m0 19h0m0 44h0m1-50h0m0 18h0m0 42h0m2-84h0m0 100h0m1-87h0m1 24h0m0 51h0m1-82h0m0 14h0m0 25h0m0 20h0m1-52h0m0 15h0m2-26h0m0 20h0m1 25h0m0 35h0m1-49h0m0 8h0m1-26h0m0 37h0m1-80h0m0 64h0m1-36h0m1 27h0m1-28h0m0 14h0m0 6h0m0 75h0m2-52h0m1-13h0m0 21h0m1-14h0m0 62h0m1-86h0m0 97h0m1-86h0m0 1h0m1 22h0m0 39h0m0 6h0m0 11h0m1-16h0m0 3h0m1-24h0m0 11h0m0 26h0m1-72h0m0 10h0m1-13h0m0 28h0m1-29h0m0 7h0m1 13h0m0 50h0m1-58h0m1 0h0m0 53h0m1-15h0m0 21h0m0 10h0m1-62h0m0 40h0m1 22h0m2-2h0m1-59h0m0 50h0m1-7h0m0 3h0m0 9h0m1-67h0m0 1h0m0 3h0m0 83h0m2-93h0m0 2h0m0 21h0m1-23h0m0 63h0m1-65h0m0 10h0m1 9h0m0 40h0m0 31h0m1-107h0m0 17h0m0 61h0m1-6h0m1-56h0m0 3h0m1-7h0m1-7h0m0 22h0m0 5h0m1-35h0m1 73h0m1-72h0m0 8h0m0 6h0m0 30h0m2-7h0m1-14h0m0 7h0m0 50h0m1-61h0m0 22h0m3-28h0m0 22h0m0 33h0m0 10h0m2-40h0m1-35h0m0 3h0m0 11h0m0 6h0m0 5h0m0 17h0m1-34h0m1 68h0m0 5h0m1-76h0m1 35h0m1-9h0m1-11h0m0 31h0m0 17h0m1 12h0m0 13h0m1-81h0m1 4h0m0 10h0m1 6h0m0 44h0m0 6h0m1 0h0m0 7h0m1-52h0m0 49h0m1-66h0m0 5h0m0 77h0m1-33h0m0 27h0m2 3h0m1-65h0m0 44h0m1-49h0m0 64h0m1-48h0m0 39h0m1-8h0m0 41h0m1-79h0m0 68h0m0 25h0m1-112h0m0 9h0m0 42h0m0 25h0m1-80h0m0 72h0m1-25h0m1-52h0m0 1h0m0 13h0m0 59h0m1 0h0m0 13h0m1-77h0m0 55h0m1-46h0m0 5h0m0 46h0m1-69h0m1 26h0m0 42h0m2-77h0m0 64h0m1-60h0m1 11h0m0 6h0m1-14h0m1 22h0m0 4h0m0 40h0m2-68h0m0 12h0m0 72h0m1-117h0m0 71h0m2-34h0m0 62h0m1-46h0m0 6h0m1-14h0m0 20h0m0 32h0m2-65h0m1-14h0m0 37h0m0 13h0m1 43h0m1-77h0m0 13h0m0 13h0m0 4h0m1-25h0m1-2h0m0 58h0m0 9h0m1-65h0m1 15h0m0 42h0m1-54h0m1 1h0m0 2h0m0 1h0m0 58h0m1-36h0m0 54h0m1-6h0m1-91h0m0 36h0m0 46h0m0 4h0m0 7h0m1-69h0m1 64h0m0 11h0m1-26h0m0 38h0m1-81h0m0 59h0m1-45h0m0 50h0m0 9h0m2-99h0m0 31h0m1-14h0m0 3h0m0 7h0m0 83h0m1-37h0m0 20h0m0 12h0m1-88h0m0 26h0m0 36h0m0 28h0m2-21h0m1 14h0m1-84h0m0 6h0m0 51h0m1-46h0m0 17h0m0 51h0m1-84h0m0 21h0m0 5h0m0 49h0m0 3h0m0 6h0m1-13h0m1-74h0m1 17h0m0 6h0m0 36h0m0 6h0m2-64h0m1 10h0m0 21h0m0 40h0m1-65h0m2-6h0m0 21h0m1-17h0m0 59h0m2-46h0m0 47h0m0 12h0m1-64h0m1-24h0m0 36h0m1-30h0m0 18h0m0 45h0m1-59h0m2 7h0m0 25h0m0 39h0m0 15h0m1-90h0m0 68h0m1-42h0m0 6h0m0 59h0m1-33h0m1-37h0m0 5h0m0 65h0m1-77h0m0 64h0m2-76h0m0 5h0m0 64h0m1-63h0m2 1h0m0 17h0m0 11h0m0 45h0m1-73h0m0 11h0m0 12h0m0 38h0m0 12h0m1 1h0m1-39h0m0 36h0m0 17h0m1-84h0m0 59h0m0 30h0m1-28h0m0 2h0m0 9h0m1-67h0m0 48h0m0 20h0m1 4h0m0 5h0m1-69h0m0 73h0m0 8h0m1-74h0m0 50h0m1-35h0m0 27h0m0 27h0m1-88h0m0 50h0m2-43h0m2-11h0m0 17h0m1-29h0m0 9h0m0 9h0m0 48h0m1 11h0m0 11h0m0 5h0m0 9h0m1-61h0m0 31h0m0 11h0m1-8h0m3-71h0m0 10h0m0 11h0m1-19h0m0 24h0m1-31h0m0 35h0m1-14h0m0 9h0m1-4h0m0 16h0m0 42h0m1-15h0m2-66h0m0 83h0m1-76h0m0 7h0m1-22h0m0 25h0m0 16h0m0 32h0m1 0h0m1-58h0m1 16h0m0 4h0m1 38h0m1-67h0m0 10h0m1 32h0m0 18h0m1-60h0m0 23h0m0 4h0m0 6h0m1-30h0m0 13h0m2-10h0m0 68h0m1-3h0m2 9h0m0 25h0m1-95h0m0 14h0m1-2h0m0 9h0m0 8h0m1-26h0m0 72h0m1-70h0m1 3h0m0 5h0m0 46h0m0 24h0m1-18h0m1-44h0m0 60h0m2-54h0m1 46h0m3-64h0m0 5h0m0 44h0m0 7h0m0 12h0m0 1h0m1 9h0m1-67h0m0 55h0m1 14h0m1-86h0m0 1h0m0 1h0m0 69h0m1-62h0m0 60h0m1-46h0m1-35h0m0 63h0m0 8h0m0 8h0m0 14h0m1-69h0m0 17h0m0 28h0m1-64h0m0 10h0m2 15h0m1-22h0m0 50h0m1-47h0m0 5h0m0 7h0m0 3h0m0 1h0m0 7h0m0 1h0m0 10h0m0 4h0m0 5h0m0 2h0m0 5h0m0 3h0m0 1h0m1-55h0m0 7h0m0 3h0m0 4h0m0 4h0m0 2h0m0 2h0m0 5h0m0 1h0m0 4h0m0 1h0m0 5h0m0 7h0" stroke="#0000ff" stroke-width="10.2" stroke-linecap="round" fill="none"/>
<path d="M1484.5 565H1485.5V567H1489.5V565H1493.5V562H1495.5V565H1496.5V566H1500.5V564H1503.5V563H1504.5V562H1506.5V567H1507.5V572H1511.5V568H1513.5V565H1515.5V562H1517.5V570H1522.5V567H1525.5V562H1526.5V561H1528.5V567H1533.5V563H1538.5V569H1539.5V570H1543.5V565H1545.5V564H1546.5V565H1549.5V572H1553.5V567H1554.5V560H1556.5V558H1558.5V559H1559.5V560H1560.5V561H1561.5V562H1565.5V561H1566.5V564H1569.5V562H1571.5V560H1574.5V563H1580.5V560H1581.5V561H1582.5V570H1585.5V561H1588.5V560H1589.5V565H1592.5V567H1595.5V562H1596.5V567H1599.5V560H1600.5V563H1601.5V564H1602.5V565H1606.5V564H1607.5V561H1608.5V562H1609.5V563H1614.5V566H1618.5V568H1622.5V562H1623.5V561H1626.5V560H1627.5V562H1631.5V559H1632.5V562H1637.5V574H1640.5V569H1643.5V564H1647.5V561H1648.5V564H1651.5V565H1655.5V572H1659.5V560H1661.5V565H1665.5V564H1669.5V558H1670.5V561H1677.5V560H1678.5V556H1679.5V562H1680.5V563H1682.5V571H1685.5V567H1689.5V562H1691.5V571H1693.5V580H1697.5V568H1699.5V562H1700.5V563H1704.5V562H1707.5V566H1711.5V561H1717.5V562H1718.5V563H1719.5V564H1722.5V563H1723.5V564H1725.5V565H1729.5V563H1730.5V567H1735.5V563H1737.5V568H1738.5V569H1742.5V565H1744.5V571H1747.5V567H1751.5V563H1753.5V560H1754.5V562H1757.5V563H1760.5V579H1761.5V594H1760.5V595H1759.5V583H1753.5V590H1746.5V594H1743.5V593H1739.5V591H1735.5V590H1734.5V589H1730.5V590H1729.5V595H1728.5V594H1727.5V589H1724.5V592H1723.5V591H1722.5V590H1721.5V589H1718.5V591H1717.5V592H1714.5V582H1711.5V585H1709.5V586H1707.5V589H1706.5V590H1702.5V592H1701.5V593H1700.5V586H1696.5V590H1693.5V585H1689.5V591H1675.5V587H1672.5V593H1671.5V595H1668.5V583H1665.5V588H1662.5V589H1661.5V592H1657.5V591H1656.5V588H1653.5V590H1652.5V589H1648.5V591H1645.5V600H1644.5V597H1642.5V590H1636.5V591H1635.5V590H1631.5V592H1630.5V590H1629.5V587H1625.5V593H1622.5V594H1621.5V593H1615.5V585H1610.5V592H1608.5V593H1607.5V587H1603.5V592H1598.5V593H1594.5V597H1593.5V589H1589.5V594H1587.5V588H1583.5V595H1580.5V591H1578.5V583H1577.5V582H1574.5V583H1573.5V591H1570.5V590H1569.5V589H1567.5V588H1563.5V589H1559.5V590H1558.5V591H1556.5V592H1555.5V593H1554.5V594H1553.5V593H1551.5V592H1550.5V589H1547.5V585H1543.5V590H1540.5V591H1539.5V592H1538.5V589H1533.5V586H1529.5V588H1525.5V586H1521.5V590H1517.5V591H1512.5V581H1509.5V589H1508.5V587H1504.5V592H1503.5V591H1495.5V580H1492.5V590H1490.5V593H1489.5V591H1488.5V590H1484.5Z" fill="#ffa526"/>
<path d="M1484 553h0m0 4h0m0 9h0m0 5h0m0 1h0m0 1h0m0 1h0m0 1h0m0 2h0m0 1h0m0 1h0m0 1h0m0 2h0m0 3h0m0 4h0m0 1h0m0 1h0m0 4h0m1-34h0m0 3h0m0 3h0m0 1h0m0 1h0m0 2h0m0 10h0m0 1h0m0 2h0m0 3h0m0 2h0m0 2h0m1-25h0m0 1h0m1-11h0m0 11h0m0 23h0m1-29h0m0 2h0m1 3h0m0 26h0m0 6h0m1-34h0m0 1h0m0 26h0m0 1h0m0 1h0m0 1h0m1-4h0m0 7h0m1-40h0m0 23h0m0 2h0m0 1h0m0 4h0m0 3h0m1-29h0m0 1h0m0 2h0m0 1h0m0 15h0m0 3h0m0 11h0m1-10h0m0 1h0m0 4h0m0 3h0m0 8h0m1-38h0m0 1h0m0 17h0m0 3h0m0 5h0m1-32h0m0 5h0m0 1h0m0 18h0m0 10h0m1-25h0m0 1h0m0 25h0m1-33h0m1-18h0m0 18h0m0 8h0m0 25h0m0 1h0m0 2h0m0 3h0m1-37h0m0 2h0m0 1h0m0 2h0m0 1h0m0 26h0m0 17h0m1 1h0m1-45h0m0 26h0m0 4h0m0 6h0m1-37h0m0 27h0m0 1h0m0 3h0m0 19h0m0 1h0m1-60h0m0 1h0m0 1h0m0 5h0m0 27h0m0 3h0m0 7h0m0 21h0m1-32h0m0 2h0m0 2h0m0 5h0m0 2h0m0 8h0m1-58h0m0 13h0m0 4h0m0 1h0m0 20h0m0 10h0m0 1h0m1-42h0m0 2h0m0 3h0m0 3h0m0 6h0m0 29h0m0 35h0m1-72h0m0 7h0m0 3h0m0 16h0m0 5h0m0 1h0m0 3h0m1-47h0m0 17h0m0 5h0m0 9h0m0 1h0m0 1h0m0 1h0m0 4h0m0 1h0m0 1h0m0 2h0m0 2h0m0 1h0m0 10h0m1-62h0m0 19h0m0 2h0m0 3h0m0 14h0m0 3h0m0 12h0m0 6h0m0 1h0m0 2h0m0 1h0m0 14h0m0 11h0m1-67h0m0 5h0m0 2h0m0 14h0m0 1h0m0 3h0m0 3h0m0 1h0m0 3h0m0 4h0m0 19h0m1-88h0m0 31h0m0 2h0m0 17h0m0 3h0m0 4h0m0 4h0m0 4h0m0 3h0m0 10h0m0 8h0m1-64h0m0 6h0m0 6h0m0 2h0m0 14h0m0 1h0m0 2h0m0 7h0m0 4h0m0 1h0m0 7h0m0 1h0m1-45h0m0 38h0m0 3h0m0 2h0m0 8h0m1-49h0m0 4h0m0 37h0m0 12h0m1-51h0m0 2h0m0 27h0m0 10h0m1-45h0m0 1h0m0 4h0m0 3h0m0 26h0m0 1h0m0 6h0m1-41h0m0 2h0m0 7h0m0 3h0m0 22h0m0 5h0m0 3h0m1-43h0m0 4h0m0 3h0m0 38h0m1-52h0m0 10h0m0 3h0m0 3h0m0 5h0m0 25h0m0 4h0m0 13h0m1-54h0m0 4h0m0 1h0m0 23h0m0 1h0m0 1h0m0 1h0m0 1h0m0 1h0m0 8h0m0 14h0m0 13h0m1-69h0m0 6h0m0 4h0m0 2h0m0 27h0m1-34h0m0 5h0m0 1h0m0 22h0m0 1h0m0 4h0m0 1h0m0 3h0m0 6h0m1-43h0m0 24h0m0 4h0m0 2h0m0 10h0m1-35h0m0 20h0m1-29h0m0 3h0m0 1h0m0 2h0m0 1h0m0 2h0m0 21h0m0 4h0m0 2h0m1-34h0m0 1h0m0 27h0m0 9h0m1-35h0m0 1h0m0 1h0m0 24h0m0 8h0m1-30h0m0 1h0m1-6h0m0 26h0m0 3h0m0 4h0m1-27h0m0 25h0m0 1h0m1-32h0m0 1h0m0 24h0m0 7h0m1-32h0m0 2h0m0 1h0m0 2h0m0 1h0m0 19h0m0 3h0m0 1h0m0 2h0m0 7h0m1-37h0m0 3h0m0 23h0m0 1h0m1-34h0m0 34h0m1-34h0m0 8h0m0 26h0m0 25h0m1-63h0m0 4h0m0 4h0m0 30h0m0 7h0m0 1h0m1-39h0m0 34h0m1-37h0m0 7h0m0 4h0m0 2h0m0 1h0m0 23h0m1-34h0m0 6h0m0 5h0m0 1h0m0 22h0m1-38h0m0 1h0m0 15h0m0 36h0m1-44h0m0 3h0m0 1h0m0 5h0m0 19h0m0 8h0m1-43h0m0 30h0m0 5h0m1-33h0m0 8h0m0 3h0m0 1h0m0 1h0m0 18h0m0 1h0m0 4h0m0 4h0m0 1h0m1-41h0m0 3h0m0 4h0m0 1h0m0 20h0m0 4h0m1-28h0m0 2h0m0 1h0m0 20h0m0 7h0m0 3h0m1-32h0m0 2h0m0 24h0m0 1h0m0 1h0m0 4h0m0 1h0m0 1h0m0 14h0m1-49h0m0 4h0m0 21h0m0 7h0m0 5h0m0 4h0m1-43h0m0 10h0m0 1h0m1-15h0m0 3h0m0 4h0m0 2h0m0 1h0m0 3h0m0 1h0m0 3h0m0 18h0m0 10h0m0 17h0m0 17h0m1-78h0m0 12h0m0 23h0m0 1h0m0 1h0m1-34h0m0 4h0m0 4h0m0 5h0m0 27h0m0 7h0m0 2h0m0 1h0m1-78h0m0 20h0m0 8h0m0 3h0m0 7h0m0 3h0m0 22h0m1-40h0m0 7h0m0 3h0m0 37h0m0 3h0m0 5h0m1-58h0m0 5h0m0 8h0m0 2h0m0 27h0m0 3h0m0 1h0m0 4h0m1-42h0m0 32h0m0 2h0m1-36h0m0 34h0m0 11h0m0 7h0m0 8h0m1-16h0m0 1h0m1-44h0m0 33h0m0 8h0m0 2h0m1-11h0m0 17h0m0 2h0m1-97h0m0 48h0m0 37h0m0 5h0m1-13h0m0 4h0m0 4h0m0 1h0m0 6h0m1-48h0m0 6h0m0 28h0m0 4h0m0 3h0m0 2h0m0 1h0m0 30h0m1-73h0m0 31h0m0 5h0m1-36h0m0 5h0m0 26h0m0 7h0m1-38h0m0 3h0m0 3h0m0 25h0m0 10h0m0 3h0m0 6h0m0 8h0m1-54h0m0 28h0m0 4h0m0 4h0m0 3h0m1-35h0m0 24h0m0 5h0m0 12h0m1-42h0m0 38h0m0 9h0m1-49h0m0 28h0m0 1h0m0 3h0m0 37h0m1-72h0m0 37h0m0 3h0m2-14h0m0 3h0m0 4h0m1-32h0m0 1h0m0 1h0m0 22h0m0 14h0m1-11h0m0 3h0m0 6h0m1-40h0m0 26h0m1-23h0m0 4h0m0 19h0m0 6h0m0 4h0m1-28h0m0 20h0m0 4h0m0 3h0m1-32h0m0 4h0m0 22h0m0 1h0m0 12h0m1-38h0m0 31h0m0 1h0m0 2h0m1-41h0m0 3h0m0 1h0m0 38h0m0 1h0m0 3h0m0 11h0m0 4h0m1-54h0m0 7h0m1-4h0m0 1h0m0 3h0m0 3h0m0 19h0m0 4h0m0 2h0m1-38h0m0 4h0m0 5h0m0 22h0m0 1h0m0 3h0m0 3h0m0 1h0m1-38h0m0 6h0m0 3h0m0 3h0m1-13h0m0 4h0m0 27h0m0 4h0m0 6h0m1-49h0m0 2h0m0 37h0m0 1h0m0 3h0m0 2h0m0 3h0m0 20h0m1-90h0m0 19h0m0 14h0m1-3h0m0 6h0m0 31h0m1-36h0m0 1h0m0 5h0m0 1h0m0 24h0m0 1h0m0 2h0m0 3h0m0 3h0m0 9h0m1-46h0m0 28h0m0 4h0m0 2h0m0 6h0m1-46h0m0 4h0m0 2h0m0 4h0m0 1h0m0 31h0m1-57h0m0 13h0m0 8h0m0 29h0m0 7h0m1-44h0m0 9h0m0 29h0m0 1h0m0 2h0m0 3h0m0 3h0m1-46h0m0 2h0m0 5h0m0 3h0m0 3h0m0 26h0m0 1h0m0 5h0m0 4h0m0 5h0m1-99h0m0 54h0m0 1h0m0 2h0m0 27h0m0 4h0m1-33h0m0 3h0m0 26h0m0 16h0m1-62h0m0 14h0m0 2h0m0 30h0m0 1h0m1-39h0m0 5h0m0 4h0m0 34h0m0 4h0m0 1h0m0 2h0m1-44h0m0 5h0m0 1h0m0 25h0m0 5h0m1-57h0m0 18h0m0 1h0m0 4h0m0 42h0m0 2h0m0 3h0m0 10h0m1-57h0m0 1h0m0 26h0m0 17h0m1-42h0m0 28h0m0 3h0m0 5h0m0 1h0m0 6h0m1-54h0m0 5h0m0 6h0m0 23h0m0 8h0m1-40h0m0 31h0m0 4h0m0 9h0m0 5h0m0 5h0m1-46h0m0 29h0m0 1h0m0 2h0m0 21h0m1-68h0m0 10h0m0 1h0m0 4h0m0 24h0m0 2h0m0 1h0m0 6h0m0 8h0m1-43h0m0 30h0m0 9h0m0 1h0m0 11h0m1-52h0m0 1h0m0 30h0m0 1h0m0 5h0m0 8h0m0 8h0m1-75h0m0 24h0m0 22h0m0 1h0m0 2h0m0 10h0m0 2h0m0 2h0m0 3h0m0 31h0m1-78h0m0 5h0m0 22h0m0 3h0m0 1h0m0 1h0m0 19h0m1-53h0m0 7h0m0 21h0m0 9h0m0 47h0m1-55h0m0 4h0m0 3h0m0 2h0m0 9h0m1-80h0m0 37h0m0 3h0m0 33h0m0 1h0m0 12h0m1-59h0m0 12h0m0 1h0m0 2h0m0 1h0m0 20h0m0 2h0m0 1h0m0 2h0m0 3h0m0 6h0m1-41h0m0 28h0m0 16h0m1-36h0m0 26h0m0 4h0m1-64h0m0 33h0m0 27h0m0 3h0m1-32h0m0 1h0m0 53h0m1-50h0m0 25h0m1-50h0m0 12h0m0 9h0m0 4h0m0 25h0m0 1h0m1-36h0m0 5h0m0 4h0m0 1h0m0 27h0m1-45h0m0 11h0m0 33h0m0 24h0m2-62h0m0 36h0m0 9h0m1-53h0m0 12h0m0 27h0m0 1h0m0 2h0m0 4h0m1-37h0m0 2h0m0 1h0m0 1h0m0 30h0m0 6h0m1-48h0m0 12h0m1 26h0m0 3h0m1-28h0m0 27h0m0 2h0m0 6h0m1-47h0m0 9h0m0 34h0m1-3h0m0 1h0m0 3h0m1-38h0m0 3h0m0 3h0m0 28h0m0 5h0m0 2h0m1-35h0m0 27h0m1-36h0m1 8h0m0 30h0m0 1h0m1-31h0m0 1h0m0 7h0m0 3h0m0 2h0m0 20h0m0 8h0m1-49h0m0 9h0m0 2h0m0 7h0m0 3h0m0 21h0m0 8h0m1-51h0m0 11h0m0 2h0m0 1h0m0 1h0m0 3h0m0 5h0m0 15h0m0 12h0m1-40h0m0 5h0m0 1h0m0 6h0m0 15h0m0 9h0m0 1h0m1-39h0m0 9h0m0 3h0m0 2h0m0 20h0m0 2h0m0 2h0m1-42h0m0 3h0m0 1h0m0 5h0m0 4h0m0 21h0m0 1h0m0 6h0m0 4h0m0 11h0m1-52h0m0 3h0m0 29h0m1-28h0m0 3h0m0 1h0m0 29h0m0 3h0m0 4h0m0 6h0m0 2h0m0 8h0m1-27h0m0 1h0m0 2h0m0 18h0m1-56h0m0 1h0m0 32h0m0 3h0m0 5h0m0 1h0m1-37h0m0 27h0m0 7h0m0 3h0m0 11h0m1-51h0m0 1h0m0 30h0m1-28h0m0 27h0m0 3h0m0 3h0m0 2h0m0 2h0m0 6h0m1 3h0m1-20h0m1-53h0m0 28h0m0 25h0m0 1h0m0 4h0m0 10h0m0 2h0m0 5h0m1-18h0m0 10h0m1-52h0m0 14h0m0 23h0m0 3h0m0 3h0m0 2h0m0 7h0m1-34h0m0 2h0m0 16h0m0 8h0m0 4h0m0 1h0m0 11h0m1-50h0m0 2h0m0 1h0m0 2h0m0 5h0m0 20h0m0 15h0m1-34h0m0 17h0m0 1h0m0 1h0m0 27h0m1-66h0m0 5h0m0 6h0m0 3h0m0 2h0m0 25h0m0 2h0m0 5h0m1-41h0m0 4h0m0 5h0m0 3h0m0 1h0m0 26h0m1-45h0m0 8h0m0 9h0m0 22h0m2-33h0m0 3h0m0 3h0m0 25h0m0 2h0m0 6h0m1-33h0m0 24h0m0 17h0m1-53h0m0 3h0m0 3h0m0 2h0m0 4h0m0 23h0m1-39h0m0 4h0m0 2h0m0 6h0m0 3h0m0 1h0m0 19h0m0 1h0m0 1h0m0 2h0m0 5h0m0 1h0m0 10h0m1-47h0m0 7h0m0 22h0m1-26h0m0 4h0m0 23h0m0 2h0m0 1h0m0 2h0m0 4h0m0 12h0m1-80h0m0 11h0m0 3h0m0 15h0m0 7h0m0 19h0m0 3h0m0 9h0m1-35h0m0 1h0m0 22h0m0 12h0m0 23h0m1-23h0m1-37h0m0 35h0m1-32h0m0 27h0m0 1h0m0 7h0m1-9h0m0 4h0m0 1h0m0 1h0m1-32h0m0 30h0m0 7h0m1-44h0m0 2h0m0 31h0m0 5h0m1-31h0m0 26h0m0 2h0m0 6h0m0 3h0m1-7h0m0 19h0m1-54h0m0 3h0m0 33h0m0 3h0m0 3h0m0 2h0m1-41h0m0 1h0m0 38h0m1-44h0m0 4h0m0 4h0m0 28h0m0 5h0m1-44h0m0 3h0m0 1h0m0 3h0m0 4h0m0 29h0m0 7h0m0 1h0m1-42h0m0 12h0m0 1h0m0 1h0m0 19h0m0 16h0m1-43h0m0 4h0m0 1h0m0 3h0m0 20h0m0 6h0m0 9h0m1-69h0m0 25h0m0 3h0m0 7h0m0 24h0m0 9h0m1-61h0m0 16h0m0 1h0m0 4h0m0 3h0m0 23h0m0 5h0m0 10h0m1-48h0m0 2h0m0 4h0m0 2h0m0 3h0m0 1h0m0 24h0m0 2h0m0 2h0m0 7h0m0 7h0m0 3h0m1-59h0m0 3h0m0 3h0m0 29h0m0 5h0m0 1h0m0 7h0m0 1h0m1-38h0m0 46h0m1-53h0m0 4h0m0 2h0m0 1h0m0 18h0m0 1h0m0 1h0m0 1h0m0 3h0m0 5h0m0 10h0m1-44h0m0 26h0m0 12h0m0 7h0m0 8h0m1-31h0m0 5h0m0 2h0m0 4h0m0 1h0m0 13h0m1-96h0m0 49h0m0 3h0m0 3h0m0 2h0m0 15h0m0 4h0m0 9h0m0 2h0m0 1h0m0 4h0m1-43h0m0 4h0m0 5h0m0 5h0m0 1h0m0 2h0m0 6h0m0 1h0m0 11h0m0 4h0m0 9h0m0 3h0m0 10h0m1-66h0m0 1h0m0 4h0m0 3h0m0 6h0m0 3h0m0 1h0m0 1h0m0 3h0m0 8h0m0 3h0m0 5h0m0 5h0m0 3h0m1-40h0m0 2h0m0 6h0m0 9h0m0 10h0m0 6h0m0 9h0m1-38h0m0 2h0m0 2h0m0 1h0m0 8h0m0 10h0m0 4h0m0 2h0m0 1h0m0 3h0m0 8h0m1-48h0m0 8h0m0 7h0m0 4h0m0 1h0m0 6h0m0 3h0m0 2h0m0 8h0m0 2h0m0 1h0m1-50h0m0 11h0m0 5h0m0 7h0m0 2h0m0 1h0m0 1h0m0 7h0m0 14h0m1-43h0m0 8h0m0 3h0m0 28h0m0 6h0m1-41h0m0 1h0m0 1h0m0 23h0m0 1h0m0 2h0m0 3h0m0 4h0m0 3h0m0 7h0m1-18h0m0 1h0m0 1h0m0 4h0m0 12h0m0 7h0m0 14h0m1-34h0m0 11h0m1-41h0m0 28h0m0 9h0m0 2h0m0 8h0m1-55h0m0 5h0m0 30h0m0 10h0m0 5h0m0 10h0m1-20h0m0 6h0m0 17h0m1-56h0m0 29h0m1-39h0m0 36h0m0 2h0m0 7h0m0 11h0m1-50h0m0 4h0m0 1h0m0 3h0m0 20h0m0 7h0m0 1h0m0 2h0m1-42h0m0 6h0m0 2h0m0 4h0m0 39h0m1-47h0m0 4h0m0 4h0m0 20h0m0 3h0m0 3h0m0 2h0m0 2h0m0 3h0m1-39h0m0 22h0m0 1h0m0 1h0m0 6h0m0 6h0m0 1h0m1-36h0m0 3h0m0 1h0m0 17h0m0 3h0m0 5h0m0 2h0m0 13h0m1-51h0m0 34h0m0 6h0m1-36h0m0 3h0m0 21h0m0 3h0m0 2h0m0 5h0m0 3h0m0 2h0m1-48h0m0 7h0m0 26h0m0 1h0m0 1h0m0 1h0m0 5h0m0 3h0m0 16h0m0 2h0m1-56h0m0 2h0m0 35h0m1-44h0m0 12h0m0 31h0m0 6h0m1-6h0m0 1h0m1-34h0m0 4h0m0 34h0m0 7h0m0 2h0m1-16h0m0 13h0m0 2h0m1-60h0m0 20h0m0 25h0m0 6h0m0 4h0m1-42h0m0 34h0m1-36h0m0 3h0m0 4h0m1-3h0m0 4h0m0 1h0m0 27h0m0 1h0m0 1h0m0 10h0m0 16h0m2-55h0m0 1h0m0 24h0m0 4h0m0 1h0m0 7h0m0 5h0m1-45h0m0 32h0m0 1h0m0 7h0m1-42h0m0 2h0m0 4h0m0 26h0m0 4h0m0 2h0m1-36h0m0 3h0m0 28h0m1-32h0m0 5h0m0 30h0m0 24h0m0 12h0m1-68h0m0 1h0m0 25h0m0 1h0m0 4h0m1-36h0m0 9h0m0 35h0m0 28h0m1-72h0m0 4h0m0 6h0m0 21h0m0 9h0m0 4h0m0 22h0m1-62h0m0 28h0m0 6h0m0 9h0m1-67h0m0 22h0m0 6h0m0 25h0m0 6h0m0 10h0m0 3h0m0 11h0m1-71h0m0 12h0m0 2h0m0 27h0m0 1h0m0 5h0m0 1h0m0 4h0m0 32h0m1-71h0m0 2h0m0 26h0m0 6h0m0 3h0m0 22h0m1-64h0m0 5h0m0 4h0m0 23h0m0 5h0m0 1h0m0 4h0m0 6h0m0 14h0m1-51h0m0 28h0m0 4h0m1-31h0m0 22h0m0 1h0m0 3h0m0 9h0m0 11h0m1-54h0m0 3h0m0 4h0m0 30h0m0 15h0m1-76h0m0 28h0m0 2h0m0 31h0m0 2h0m0 7h0m1-46h0m0 2h0m0 3h0m0 27h0m1-26h0m0 1h0m0 1h0m0 1h0m0 30h0m0 2h0m0 17h0m1-55h0m0 3h0m0 3h0m0 23h0m0 10h0m0 4h0m0 17h0m1-70h0m0 2h0m0 2h0m0 3h0m0 2h0m0 1h0m0 2h0m0 5h0m0 20h0m0 1h0m0 8h0m0 1h0m0 8h0m1-44h0m0 2h0m0 23h0m0 3h0m0 4h0m0 18h0m0 8h0m1-61h0m0 3h0m0 1h0m0 1h0m0 2h0m0 30h0m1-50h0m1-11h0m0 21h0m0 2h0m0 28h0m0 1h0m0 2h0m0 10h0m0 14h0m1-59h0m0 2h0m0 4h0m0 2h0m0 1h0m0 36h0m0 24h0m1-75h0m0 6h0m0 32h0m1-65h0m0 31h0m0 2h0m0 1h0m0 4h0m0 34h0m1-48h0m0 10h0m0 1h0m0 1h0m0 1h0m0 21h0m0 1h0m0 2h0m0 4h0m0 6h0m1-35h0m0 1h0m0 25h0m0 1h0m0 4h0m0 5h0m0 2h0m1-37h0m0 20h0m0 6h0m0 10h0m0 6h0m1-60h0m0 12h0m0 1h0m0 26h0m0 8h0m0 2h0m0 1h0m0 4h0m0 14h0m1-50h0m0 1h0m0 20h0m0 4h0m0 7h0m1-36h0m0 26h0m0 5h0m0 4h0m0 2h0m0 5h0m1-44h0m0 1h0m0 1h0m0 5h0m0 2h0m0 26h0m0 5h0m1-44h0m0 8h0m0 3h0m0 6h0m0 3h0m0 3h0m0 1h0m0 2h0m0 4h0m0 5h0m0 2h0m0 5h0m0 3h0m1-44h0m0 10h0m0 3h0m0 1h0m0 2h0m0 10h0m0 13h0m0 8h0m1-63h0m0 20h0m0 1h0m0 2h0m0 3h0m0 8h0m0 3h0m0 6h0m0 4h0m0 1h0m0 4h0m0 5h0m1-39h0m0 12h0m0 5h0m0 3h0m0 4h0m0 3h0m0 4h0m0 5h0m0 3h0m0 2h0m1-31h0m0 1h0m0 3h0m0 9h0m0 1h0m0 4h0m1-23h0m0 1h0m0 1h0m0 1h0m0 4h0m0 3h0m0 3h0m0 2h0m0 2h0m0 4h0m0 4h0m0 2h0m0 1h0m0 2h0m0 3h0m1-97h0m0 59h0m0 1h0m0 8h0m0 4h0m0 10h0m0 15h0m0 6h0m1-73h0m0 32h0m0 3h0m0 8h0m0 1h0m0 2h0m0 5h0m0 3h0m0 3h0m0 5h0m1-25h0m0 5h0m0 6h0m0 5h0m0 7h0m0 5h0m0 1h0m0 3h0m1-58h0m0 17h0m0 9h0m0 3h0m0 2h0m0 6h0m0 2h0m0 6h0m0 2h0m0 4h0m0 20h0m1-42h0m0 5h0m0 6h0m0 4h0m0 9h0m0 3h0m0 4h0m1-38h0m0 4h0m0 8h0m0 1h0m0 7h0m0 7h0m0 1h0m0 10h0m1-34h0m0 2h0m0 2h0m0 2h0m0 6h0m0 7h0m0 1h0m0 9h0m0 3h0m1-26h0m0 5h0m0 3h0m0 2h0m0 3h0m0 4h0m0 3h0m0 20h0m1-57h0m0 13h0m0 7h0m0 7h0m0 4h0m0 7h0m0 2h0m0 29h0m1-58h0m0 1h0m0 4h0m0 3h0m0 4h0m0 7h0m0 4h0m0 1h0m0 5h0m1-25h0m0 1h0m0 6h0m0 3h0m0 3h0m0 4h0m0 3h0m0 1h0m0 6h0m0 3h0m0 6h0m0 14h0m1-59h0m0 5h0m0 8h0m0 6h0m0 7h0m0 4h0m0 2h0m0 5h0m0 5h0m0 2h0m1-39h0m0 4h0m0 2h0m0 4h0m0 2h0m0 6h0m0 3h0m0 4h0m0 5h0m0 19h0m0 4h0m1-61h0m0 10h0m0 1h0m0 6h0m0 6h0m0 1h0m0 5h0m0 1h0m0 2h0m0 1h0m0 2h0m0 5h0m1-54h0m0 20h0m0 2h0m0 4h0m0 8h0m0 2h0m0 4h0m0 5h0m0 1h0m0 4h0m0 3h0m0 5h0m0 4h0m1-38h0m0 5h0m0 2h0m0 5h0m0 5h0m0 1h0m0 3h0m0 5h0m0 2h0m0 9h0m0 16h0m1-55h0m0 5h0m0 6h0m0 3h0m0 4h0m0 5h0m0 6h0m0 2h0m0 11h0m0 1h0m0 5h0m1-47h0m0 3h0m0 8h0m0 3h0m0 1h0m0 1h0m0 1h0m0 6h0m0 5h0m0 3h0m0 2h0m0 3h0m0 10h0m1-47h0m0 7h0m0 1h0m0 1h0m0 6h0m0 3h0m0 3h0m0 5h0m0 3h0m0 6h0m0 7h0m0 9h0m1-58h0m0 4h0m0 2h0m0 3h0m0 20h0m0 10h0m0 13h0m0 10h0m1-56h0m0 5h0m0 1h0m0 5h0m0 1h0m0 2h0m0 3h0m0 3h0m0 5h0m0 3h0m0 2h0m0 3h0m0 1h0m0 2h0m0 1h0m0 4h0m1-41h0m0 2h0m0 6h0m0 5h0m0 4h0m0 8h0m0 1h0m0 12h0m0 19h0m1-50h0m0 3h0m0 12h0m0 6h0m0 4h0m0 5h0m0 1h0m1-37h0m0 3h0m0 11h0m0 2h0m0 2h0m0 3h0m0 2h0m0 6h0m0 8h0m0 3h0m0 9h0m0 2h0m0 1h0m1-45h0m0 4h0m0 1h0m0 14h0m0 5h0m0 1h0m0 11h0m1-45h0m0 2h0m0 1h0m0 4h0m0 4h0m0 6h0m0 2h0m0 2h0m0 2h0m0 3h0m0 4h0m0 5h0m0 5h0m0 1h0m0 11h0m1-53h0m0 2h0m0 2h0m0 1h0m0 3h0m0 9h0m0 17h0m0 40h0m1-87h0m0 24h0m0 3h0m0 4h0m0 8h0m0 3h0m0 2h0m0 1h0m0 4h0m0 5h0m1-43h0m0 7h0m0 2h0m0 3h0m0 5h0m0 6h0m0 2h0m0 7h0m0 6h0m1-38h0m0 7h0m0 8h0m0 4h0m0 3h0m0 4h0m0 4h0m0 6h0m0 10h0m1-47h0m0 3h0m0 6h0m0 3h0m0 3h0m0 4h0m0 6h0m0 5h0m0 3h0m0 5h0m1-29h0m0 3h0m0 4h0m0 5h0m0 6h0m0 2h0m0 2h0m0 4h0m0 13h0m0 23h0m1-69h0m0 11h0m0 6h0m0 5h0m0 9h0m0 3h0m0 3h0m1-33h0m0 4h0m0 6h0m0 9h0m0 2h0m0 10h0m0 2h0m1-43h0m0 12h0m0 1h0m0 1h0m0 3h0m0 4h0m0 4h0m0 1h0m0 5h0m0 3h0m0 1h0m0 1h0m0 1h0m1-32h0m0 3h0m0 1h0m0 1h0m0 7h0m0 3h0m0 3h0m0 3h0m0 2h0m0 4h0m0 3h0m1-36h0m0 8h0m0 2h0m0 3h0m0 8h0m0 4h0m0 4h0m0 3h0m0 10h0m1-53h0m0 24h0m0 3h0m0 1h0m0 6h0m0 10h0m0 2h0m0 6h0m1-35h0m0 13h0m0 7h0m0 1h0m0 4h0m0 7h0m0 5h0m0 4h0m1-60h0m0 20h0m0 2h0m0 6h0m0 6h0m0 9h0m0 2h0m0 3h0m0 5h0m0 4h0m0 16h0m1-60h0m0 6h0m0 6h0m0 6h0m0 4h0m0 2h0m0 4h0m0 2h0m0 7h0m0 11h0m1-44h0m0 1h0m0 9h0m0 12h0m0 7h0m0 7h0m0 2h0m1-34h0m0 1h0m0 2h0m0 5h0m0 3h0m0 1h0m0 4h0m0 3h0m0 3h0m0 5h0m0 11h0m1-35h0m0 3h0m0 2h0m0 6h0m0 10h0m0 6h0m0 4h0m1-23h0m0 5h0m0 1h0m0 3h0m0 6h0m0 2h0m0 4h0m1-28h0m0 9h0m0 9h0m0 7h0m1-27h0m0 5h0m0 2h0m0 7h0m0 2h0m0 6h0m0 2h0m0 2h0m0 5h0m0 3h0m1-30h0m0 3h0m0 3h0m0 9h0m0 15h0m1-35h0m0 1h0m0 3h0m0 9h0m0 4h0m0 3h0m0 4h0m1-25h0m0 6h0m0 2h0m0 3h0m0 4h0m0 3h0m0 5h0m0 4h0m0 2h0m0 3h0m1-32h0m0 2h0m0 1h0m0 8h0m0 1h0m0 3h0m0 9h0m0 5h0m0 2h0m1-28h0m0 2h0m0 2h0m0 4h0m0 9h0m0 2h0m0 5h0m0 5h0m0 6h0m0 6h0m1-54h0m0 19h0m0 4h0m0 4h0m0 2h0m0 5h0m0 4h0m0 7h0m0 1h0m1-43h0m0 3h0m0 10h0m0 9h0m0 8h0m0 3h0m0 2h0m0 3h0m0 1h0m1-28h0m0 5h0m0 2h0m0 3h0m0 2h0m0 2h0m0 3h0m0 12h0m1-36h0m0 2h0m0 4h0m0 1h0m0 2h0m0 17h0m0 2h0m0 2h0m0 3h0m0 6h0m0 3h0m1-41h0m0 10h0m0 3h0m0 1h0m0 2h0m0 6h0m0 21h0m0 13h0m1-85h0m0 35h0m0 9h0m0 4h0m0 2h0m0 3h0m0 1h0m0 5h0m0 7h0m0 4h0m1-42h0m0 3h0m0 4h0m0 3h0m0 2h0m0 17h0m0 1h0m0 2h0m0 6h0m0 1h0m1-30h0m0 4h0m0 3h0m0 2h0m0 5h0m0 5h0m0 4h0m0 9h0m0 33h0m1-70h0m0 8h0m0 1h0m0 2h0m0 1h0m0 5h0m0 5h0m0 6h0m0 12h0m0 2h0m0 8h0m1-52h0m0 5h0m0 1h0m0 1h0m0 15h0m0 5h0m0 2h0m0 4h0m0 2h0m0 2h0m0 13h0m1-52h0m0 3h0m0 4h0m0 5h0m0 6h0m0 1h0m0 8h0m0 13h0m0 2h0m0 2h0m0 2h0m0 1h0m0 8h0m0 12h0m1-53h0m0 2h0m0 6h0m0 9h0m0 1h0m0 3h0m0 2h0m0 15h0m0 11h0m1-62h0m0 3h0m0 4h0m0 2h0m0 6h0m0 2h0m0 7h0m0 4h0m0 3h0m0 1h0m0 1h0m0 1h0m1-29h0m0 1h0m0 5h0m0 5h0m0 3h0m0 7h0m0 3h0m0 9h0m0 2h0m0 7h0m0 16h0m1-63h0m0 2h0m0 1h0m0 6h0m0 4h0m0 9h0m0 3h0m0 8h0m0 3h0m0 9h0m1-44h0m0 6h0m0 8h0m0 3h0m0 1h0m0 7h0m0 2h0m0 3h0m0 5h0m0 3h0m0 7h0m1-38h0m0 1h0m0 2h0m0 10h0m0 2h0m0 7h0m0 3h0m0 13h0m0 1h0m0 4h0m1-53h0m0 8h0m0 6h0m0 2h0m0 2h0m0 9h0m0 11h0m0 2h0m0 2h0m0 5h0m0 16h0m0 20h0m1-80h0m0 3h0m0 1h0m0 13h0m0 2h0m0 4h0m0 3h0m0 1h0m0 3h0m0 2h0m0 1h0m0 5h0m0 1h0m0 27h0m0 32h0m1-102h0m0 11h0m0 3h0m0 1h0m0 2h0m0 2h0m0 2h0m0 4h0m0 38h0m1-60h0m0 3h0m0 1h0m0 4h0m0 2h0m0 15h0m0 4h0m0 4h0m0 19h0m1-58h0m0 11h0m0 2h0m0 1h0m0 8h0m0 4h0m0 4h0m0 3h0m0 2h0m0 1h0m0 4h0m0 2h0m1-37h0m0 1h0m0 2h0m0 1h0m0 3h0m0 5h0m0 2h0m0 6h0m0 2h0m0 6h0m0 4h0m0 1h0m0 3h0m0 7h0m0 4h0m0 6h0m1-36h0m0 3h0m0 6h0m0 2h0m0 5h0m0 15h0m0 15h0m1-69h0m0 5h0m0 5h0m0 1h0m0 3h0m0 2h0m0 7h0m0 7h0m0 9h0m0 2h0m0 2h0m1-24h0m0 2h0m0 6h0m0 5h0m0 4h0m0 3h0m0 8h0m0 2h0m1-46h0m0 9h0m0 6h0m0 7h0m0 4h0m0 5h0m0 3h0m0 5h0m0 2h0m1-38h0m0 1h0m0 3h0m0 5h0m0 7h0m0 4h0m0 7h0m0 4h0m0 1h0m0 5h0m0 7h0m0 4h0m1-49h0m0 10h0m0 5h0m0 8h0m0 3h0m0 5h0m0 4h0m1-48h0m0 15h0m0 4h0m0 2h0m0 4h0m0 3h0m0 4h0m0 1h0m0 8h0m0 8h0m0 1h0m0 3h0m1-49h0m0 17h0m0 10h0m0 7h0m0 6h0m0 4h0m1-29h0m0 1h0m0 4h0m0 2h0m0 2h0m0 5h0m0 2h0m0 6h0m0 3h0m0 1h0m0 1h0m0 14h0m1-60h0m0 17h0m0 1h0m0 1h0m0 2h0m0 1h0m0 9h0m0 6h0m0 12h0m1-24h0m0 1h0m0 7h0m0 6h0m0 2h0m0 2h0m0 4h0m0 5h0m1-35h0m0 5h0m0 7h0m0 3h0m0 1h0m0 3h0m0 10h0m0 7h0m0 1h0m0 28h0m1-64h0m0 3h0m0 6h0m0 13h0m0 9h0m0 26h0m1-93h0m0 41h0m0 1h0m0 7h0m0 4h0m0 3h0m0 4h0m0 2h0m0 1h0m0 4h0m1-33h0m0 3h0m0 6h0m0 4h0m0 3h0m0 6h0m0 9h0m0 5h0m0 5h0m1-38h0m0 7h0m0 2h0m0 5h0m0 2h0m0 3h0m0 2h0m0 10h0m1-39h0m0 7h0m0 7h0m0 6h0m0 8h0m0 2h0m0 2h0m0 1h0m0 2h0m0 6h0m0 1h0m1-35h0m0 2h0m0 2h0m0 3h0m0 1h0m0 3h0m0 7h0m0 12h0m0 1h0m1-38h0m0 10h0m0 2h0m0 3h0m0 6h0m0 2h0m0 8h0m0 10h0m1-37h0m0 4h0m0 4h0m0 8h0m0 4h0m0 3h0m0 2h0m0 4h0m0 1h0m0 1h0m0 4h0m0 8h0m1-68h0m0 31h0m0 1h0m0 3h0m0 3h0m0 4h0m0 5h0m0 4h0m0 2h0m0 5h0m0 2h0m0 19h0m1-44h0m0 1h0m0 9h0m0 30h0m1-54h0m0 4h0m0 3h0m0 2h0m0 1h0m0 4h0m0 5h0m0 2h0m0 4h0m0 3h0m0 8h0m1-32h0m0 3h0m0 10h0m0 3h0m0 11h0m0 1h0m0 2h0m1-23h0m0 1h0m0 1h0m0 10h0m0 4h0m0 6h0m0 3h0m0 8h0m1-40h0m0 4h0m0 7h0m0 3h0m0 3h0m0 2h0m0 2h0m0 4h0m0 4h0m0 5h0m1-29h0m0 3h0m0 13h0m0 5h0m0 7h0m0 1h0m0 3h0m1-36h0m0 4h0m0 7h0m0 3h0m0 2h0m0 7h0m0 4h0m0 3h0m1-41h0m0 14h0m0 3h0m0 3h0m0 6h0m0 3h0m0 2h0m0 6h0m0 3h0m0 3h0m0 6h0m1-42h0m0 6h0m0 9h0m0 2h0m0 5h0m0 5h0m0 7h0m0 1h0m0 2h0m0 4h0m0 26h0m1-58h0m0 2h0m0 15h0m0 6h0m0 6h0m0 7h0m0 7h0m0 5h0m1-84h0m0 31h0m0 1h0m0 8h0m0 3h0m0 3h0m0 1h0m0 3h0m0 4h0m0 2h0m0 2h0m0 17h0m0 2h0m0 6h0m1-74h0m0 20h0m0 5h0m0 6h0m0 11h0m0 9h0m0 2h0m0 23h0m1-58h0m0 7h0m0 1h0m0 6h0m0 3h0m0 4h0m0 5h0m0 2h0m0 5h0m0 10h0m0 5h0m0 2h0m0 4h0m0 10h0m1-64h0m0 4h0m0 5h0m0 5h0m0 6h0m0 10h0m0 7h0m0 24h0m0 15h0m1-75h0m0 6h0m0 9h0m0 3h0m0 4h0m0 1h0m0 3h0m0 6h0m0 1h0m0 2h0m0 9h0m0 8h0m1-50h0m0 5h0m0 2h0m0 5h0m0 5h0m0 9h0m0 9h0m0 6h0m0 1h0m0 2h0m0 24h0m1-65h0m0 5h0m0 1h0m0 5h0m0 4h0m0 4h0m0 2h0m0 4h0m0 2h0m0 5h0m0 5h0m0 3h0m0 4h0m1-66h0m0 18h0m0 22h0m0 1h0m0 10h0m0 3h0m0 4h0m0 5h0m0 1h0m0 12h0m0 4h0m1-75h0m0 17h0m0 1h0m0 2h0m0 5h0m0 1h0m0 4h0m0 4h0m0 6h0m0 9h0m0 12h0m0 27h0m1-75h0m0 4h0m0 4h0m0 2h0m0 6h0m0 2h0m0 7h0m0 5h0m0 1h0m0 8h0m0 22h0m0 13h0m1-79h0m0 7h0m0 4h0m0 8h0m0 6h0m0 3h0m0 4h0m0 7h0m0 2h0m0 10h0m0 27h0m1-69h0m0 8h0m0 4h0m0 3h0m0 17h0m0 2h0m0 7h0m0 2h0m0 2h0m1-50h0m0 1h0m0 9h0m0 3h0m0 10h0m0 2h0m0 2h0m0 3h0m0 2h0m0 1h0m0 1h0m0 2h0m0 4h0m0 4h0m0 10h0m1-40h0m0 2h0m0 2h0m0 2h0m0 9h0m0 7h0m0 47h0m1-86h0m0 6h0m0 7h0m0 14h0m0 2h0m0 6h0m0 9h0m0 14h0m1-60h0m0 11h0m0 2h0m0 1h0m0 2h0m0 1h0m0 1h0m0 3h0m0 4h0m0 2h0m0 13h0m0 5h0m0 23h0m1-56h0m0 2h0m0 4h0m0 5h0m0 8h0m0 2h0m0 2h0m0 1h0m0 3h0m0 2h0m0 4h0m0 14h0m0 2h0m0 10h0m1-61h0m0 8h0m0 1h0m0 6h0m0 4h0m0 5h0m0 5h0m0 3h0m0 13h0m1-44h0m0 1h0m0 7h0m0 3h0m0 6h0m0 15h0m0 2h0m1-41h0m0 10h0m0 11h0m0 5h0m0 2h0m0 3h0m0 2h0m0 4h0m0 2h0m0 2h0m1-26h0m0 2h0m0 1h0m0 6h0m0 6h0m0 4h0m0 1h0m0 1h0m0 4h0m1-31h0m0 5h0m0 1h0m0 12h0m0 5h0m1-24h0m0 1h0m0 3h0m0 1h0m0 1h0m0 6h0m0 2h0m0 3h0m0 6h0m0 18h0m1-48h0m0 2h0m0 1h0m0 4h0m0 5h0m0 4h0m0 9h0m0 3h0m0 3h0m1-20h0m0 11h0m0 9h0m0 5h0m1-32h0m0 1h0m0 5h0m0 4h0m0 4h0m0 2h0m0 4h0m0 3h0m0 1h0m0 3h0m0 1h0m0 1h0m0 1h0m1-30h0m0 6h0m0 5h0m0 18h0m0 7h0m1-35h0m0 7h0m0 5h0m0 5h0m0 3h0m0 4h0m0 5h0m0 1h0m0 2h0m1-30h0m0 1h0m0 4h0m0 3h0m0 4h0m0 5h0m0 2h0m0 4h0m0 3h0m0 2h0m0 5h0m0 43h0m1-73h0m0 11h0m0 9h0m1-31h0m0 5h0m0 4h0m0 6h0m0 3h0m0 3h0m0 6h0m0 2h0m0 5h0m0 3h0m1-41h0m0 12h0m0 1h0m0 4h0m0 5h0m0 6h0m0 8h0m1-25h0m0 5h0m0 3h0m0 6h0m0 6h0m0 2h0m0 7h0m0 6h0m1-38h0m0 6h0m0 8h0m0 6h0m0 5h0m0 4h0m1-31h0m0 5h0m0 1h0m0 4h0m0 2h0m0 2h0m0 5h0m0 8h0m0 1h0m0 4h0m0 17h0m0 8h0m1-59h0m0 5h0m0 14h0m0 4h0m0 3h0m0 5h0m0 3h0m0 6h0m1-31h0m0 1h0m0 5h0m0 10h0m0 2h0m0 3h0m0 5h0m0 1h0m0 27h0m1-70h0m0 15h0m0 5h0m0 4h0m0 1h0m0 3h0m0 2h0m0 7h0m1-28h0m0 4h0m0 2h0m0 3h0m0 6h0m0 14h0m0 5h0m0 2h0m0 7h0m0 18h0m1-56h0m0 7h0m0 5h0m0 3h0m0 2h0m0 2h0m0 2h0m0 2h0m0 3h0m0 18h0m1-42h0m0 6h0m0 14h0m0 4h0m0 3h0m0 2h0m1-34h0m0 5h0m0 3h0m0 1h0m0 4h0m0 4h0m0 1h0m0 3h0m0 2h0m0 7h0m0 7h0m0 1h0m1-42h0m0 4h0m0 7h0m0 1h0m0 2h0m0 1h0m0 3h0m0 13h0m0 6h0m0 2h0m1-32h0m0 2h0m0 8h0m0 2h0m0 5h0m0 5h0m0 9h0m1-39h0m0 2h0m0 3h0m0 1h0m0 4h0m0 6h0m0 6h0m0 3h0m0 2h0m0 2h0m0 5h0m0 2h0m0 1h0m0 2h0m0 19h0m1-54h0m0 8h0m0 1h0m0 5h0m0 3h0m0 1h0m0 4h0m0 6h0m0 5h0m0 6h0m0 11h0m1-48h0m0 6h0m0 4h0m0 2h0m0 13h0m0 5h0m0 23h0m1-55h0m0 5h0m0 1h0m0 6h0m0 8h0m0 4h0m0 5h0m0 11h0m0 8h0m0 18h0m1-72h0m0 16h0m0 4h0m0 2h0m0 2h0m0 5h0m0 9h0m0 3h0m0 1h0m0 4h0m0 32h0m1-78h0m0 12h0m0 1h0m0 12h0m0 7h0m0 1h0m0 5h0m0 3h0m0 2h0m0 4h0m0 1h0m0 11h0m1-60h0m0 9h0m0 1h0m0 4h0m0 4h0m0 1h0m0 5h0m0 4h0m0 2h0m0 7h0m0 6h0m0 2h0m0 12h0m0 1h0m0 5h0m0 8h0m1-63h0m0 3h0m0 4h0m0 4h0m0 1h0m0 2h0m0 1h0m0 10h0m0 7h0m0 7h0m0 3h0m0 1h0m0 22h0m1-67h0m0 1h0m0 7h0m0 3h0m0 6h0m0 3h0m0 9h0m0 3h0m0 1h0m0 2h0m0 4h0m0 6h0m0 2h0m0 5h0m0 18h0m0 5h0m1-83h0m0 11h0m0 9h0m0 11h0m0 2h0m0 3h0m0 8h0m0 3h0m0 2h0m0 1h0m0 7h0m0 4h0m1-51h0m0 4h0m0 4h0m0 3h0m0 4h0m0 1h0m0 6h0m0 7h0m0 5h0m0 9h0m0 1h0m0 32h0m1-79h0m0 10h0m0 1h0m0 2h0m0 1h0m0 2h0m0 1h0m0 5h0m0 6h0m0 2h0m0 2h0m0 4h0m0 1h0m0 5h0m1-37h0m0 2h0m0 12h0m0 3h0m0 2h0m0 2h0m0 6h0m0 4h0m0 3h0m0 8h0m0 1h0m1-49h0m0 2h0m0 3h0m0 5h0m0 9h0m0 1h0m0 13h0m0 3h0m0 6h0m0 2h0m0 6h0m1-42h0m0 3h0m0 2h0m0 2h0m0 1h0m0 9h0m0 4h0m0 1h0m0 5h0m0 4h0m0 12h0m1-49h0m0 2h0m0 15h0m0 2h0m0 1h0m0 3h0m0 2h0m0 5h0m0 10h0m1-45h0m0 5h0m0 1h0m0 3h0m0 1h0m0 5h0m0 3h0m0 2h0m0 13h0m0 5h0m0 2h0m0 6h0m0 7h0m1-40h0m0 6h0m0 7h0m0 4h0m0 7h0m0 8h0m0 6h0m0 8h0m0 7h0m0 10h0m1-69h0m0 2h0m0 4h0m0 3h0m0 5h0m0 2h0m0 2h0m0 3h0m0 7h0m0 5h0m0 3h0m0 2h0m0 13h0m1-49h0m0 4h0m0 4h0m0 6h0m0 9h0m0 9h0m0 6h0m1-41h0m0 1h0m0 6h0m0 2h0m0 4h0m0 7h0m0 3h0m0 1h0m0 7h0m0 3h0m1-30h0m0 11h0m0 12h0m0 1h0m1-24h0m0 4h0m0 3h0m0 7h0m0 3h0m0 2h0m0 9h0m0 4h0m1-39h0m0 6h0m0 3h0m0 6h0m0 2h0m0 3h0m0 4h0m0 4h0m0 2h0m0 3h0m0 3h0m1-35h0m0 1h0m0 4h0m0 5h0m0 2h0m0 21h0m0 7h0m0 18h0m1-60h0m0 11h0m0 9h0m0 3h0m0 2h0m0 2h0m0 3h0m0 2h0m0 6h0m1-38h0m0 3h0m0 6h0m0 5h0m0 1h0m0 2h0m0 10h0m0 2h0m0 6h0m0 3h0m0 38h0m1-72h0m0 11h0m0 4h0m0 2h0m0 3h0m0 14h0m0 3h0m1-31h0m0 13h0m0 4h0m0 4h0m0 2h0m0 4h0m0 1h0m0 1h0m1-35h0m0 5h0m0 2h0m0 4h0m0 2h0m0 3h0m0 9h0m0 4h0m0 4h0m0 24h0m1-54h0m0 3h0m0 5h0m0 4h0m0 3h0m0 3h0m0 1h0m0 6h0m1-48h0m0 27h0m0 1h0m0 3h0m0 10h0m0 13h0m0 5h0m1-37h0m0 2h0m0 4h0m0 6h0m0 3h0m0 7h0m0 2h0m0 7h0m1-22h0m0 2h0m0 6h0m0 9h0m0 1h0m0 1h0m0 6h0m1-24h0m0 4h0m0 6h0m0 4h0m0 1h0m0 3h0m0 3h0m1-32h0m0 4h0m0 1h0m0 3h0m0 11h0m0 3h0m0 3h0m0 4h0m0 2h0m1-33h0m0 1h0m0 3h0m0 6h0m0 2h0m0 3h0m0 4h0m0 3h0m0 4h0m0 6h0m0 10h0m1-26h0m0 11h0m0 13h0m1-49h0m0 14h0m0 3h0m0 5h0m0 5h0m0 3h0m0 3h0m0 4h0m0 2h0m0 6h0m1-71h0m0 38h0m0 2h0m0 6h0m0 16h0m0 2h0m0 2h0m1-26h0m0 2h0m0 3h0m0 2h0m0 3h0m0 2h0m0 2h0m0 3h0m0 3h0m0 6h0m0 1h0m0 2h0m0 6h0m1-38h0m0 1h0m0 14h0m0 8h0m0 4h0m0 3h0m0 3h0m0 4h0m0 4h0m1-40h0m0 6h0m0 1h0m0 2h0m0 2h0m0 6h0m0 2h0m0 3h0m0 4h0m0 6h0m0 1h0m1-30h0m0 9h0m0 9h0m0 2h0m0 1h0m0 1h0m0 1h0m0 1h0m0 4h0m0 1h0m0 2h0m1-36h0m0 1h0m0 3h0m0 2h0m0 4h0m0 2h0m0 5h0m0 4h0m0 11h0m0 5h0m0 6h0m0 28h0m1-71h0m0 5h0m0 6h0m0 2h0m0 5h0m0 6h0m0 2h0m0 11h0m0 4h0m0 5h0m1-44h0m0 4h0m0 9h0m0 7h0m0 7h0m0 1h0m0 4h0m0 2h0m0 8h0m0 1h0m1-51h0m0 5h0m0 7h0m0 3h0m0 1h0m0 3h0m0 5h0m0 2h0m0 3h0m0 5h0m0 5h0m0 6h0m0 14h0m1-58h0m0 5h0m0 2h0m0 2h0m0 6h0m0 1h0m0 14h0m0 1h0m0 4h0m0 3h0m0 2h0m0 16h0m1-75h0m0 15h0m0 14h0m0 3h0m0 6h0m0 2h0m0 2h0m0 4h0m0 18h0m0 8h0m0 4h0m0 6h0m1-55h0m0 5h0m0 5h0m0 7h0m0 6h0m0 2h0m0 4h0m0 4h0m0 3h0m0 1h0m0 2h0m0 5h0m0 3h0m1-49h0m0 1h0m0 1h0m0 3h0m0 5h0m0 3h0m0 4h0m0 4h0m0 2h0m0 5h0m0 5h0m0 5h0m0 2h0m0 15h0m1-59h0m0 10h0m0 3h0m0 6h0m0 8h0m0 8h0m0 2h0m0 10h0m0 1h0m0 1h0m1-44h0m0 4h0m0 1h0m0 6h0m0 7h0m0 4h0m0 3h0m0 13h0m0 7h0m0 6h0m0 4h0m1-54h0m0 6h0m0 3h0m0 5h0m0 6h0m0 7h0m0 3h0m0 2h0m0 1h0m0 6h0m0 3h0m0 1h0m0 2h0m0 1h0m1-46h0m0 5h0m0 3h0m0 4h0m0 5h0m0 6h0m0 3h0m0 4h0m0 7h0m0 12h0m0 2h0m1-52h0m0 6h0m0 9h0m0 6h0m0 1h0m0 7h0m0 1h0m0 7h0m1-46h0m0 5h0m0 3h0m0 4h0m0 1h0m0 1h0m0 6h0m0 7h0m0 7h0m0 20h0m0 6h0m1-56h0m0 7h0m0 6h0m0 5h0m0 9h0m0 4h0m0 1h0m0 2h0m0 3h0m0 32h0m1-59h0m0 1h0m0 1h0m0 3h0m0 4h0m0 2h0m0 4h0m0 4h0m0 2h0m0 3h0m0 2h0m0 4h0m0 15h0m1-45h0m0 1h0m0 4h0m0 2h0m0 6h0m0 3h0m0 14h0m0 1h0m0 40h0m1-79h0m0 2h0m0 3h0m0 2h0m0 1h0m0 11h0m0 8h0m0 2h0m0 7h0m0 17h0m1-47h0m0 6h0m0 1h0m0 3h0m0 3h0m0 4h0m0 2h0m0 6h0m0 1h0m0 1h0m0 4h0m0 6h0m0 8h0m1-45h0m0 2h0m0 1h0m0 1h0m0 2h0m0 2h0m0 6h0m0 7h0m0 5h0m0 3h0m0 1h0m1-34h0m0 15h0m0 6h0m0 4h0m0 3h0m0 4h0m0 5h0m0 1h0m0 8h0m0 16h0m1-54h0m0 2h0m0 8h0m0 4h0m0 5h0m0 9h0m0 1h0m1-32h0m0 8h0m0 1h0m0 2h0m0 4h0m0 2h0m0 7h0m0 3h0m1-23h0m0 3h0m0 12h0m0 2h0m0 4h0m0 1h0m1-25h0m0 1h0m0 9h0m0 2h0m0 2h0m0 6h0m1-21h0m0 1h0m0 3h0m0 2h0m0 2h0m0 10h0m0 1h0m0 1h0m0 3h0m0 3h0m0 4h0m1-24h0m0 1h0m0 1h0m0 1h0m0 2h0m0 1h0m0 2h0m0 1h0m0 1h0m0 1h0m0 1h0m0 5h0m0 2h0m0 2h0m0 2h0m1-28h0m0 2h0m0 2h0m0 1h0m0 3h0m0 2h0m0 3h0m0 3h0m0 1h0" stroke="#ffa526" stroke-width="3.9" stroke-linecap="round" fill="none"/>
<g class="tk" text-anchor="middle"><text transform="translate(1473.8 750.5) scale(1.12 1)">0</text><text transform="translate(1565.3 750.5) scale(1.12 1)">2</text><text transform="translate(1656.8 750.5) scale(1.12 1)">4</text><text transform="translate(1748.3 750.5) scale(1.12 1)">6</text><text transform="translate(1839.8 750.5) scale(1.12 1)">8</text><text transform="translate(1931.3 750.5) scale(1.12 1)">10</text></g>
<g class="tk" text-anchor="end"><text x="1463.6" y="719.7">0.5</text><text x="1463.6" y="633.5">0.6</text><text x="1463.6" y="547.2">0.7</text><text x="1463.6" y="461.0">0.8</text></g>
<text class="xl" x="1712.5" y="777.5" text-anchor="middle">DSL</text>
<text class="yl" transform="translate(1404.5 582.6) rotate(-90) scale(1 0.9)" text-anchor="middle">&#961;</text>
<text class="ti" x="1733.4" y="448.6" text-anchor="middle">SWIR1</text>
<path d="M208.5 814.8V1073.0M300.0 814.8V1073.0M391.5 814.8V1073.0M483.0 814.8V1073.0M574.5 814.8V1073.0M117.0 986.9H632.2M117.0 900.9H632.2" stroke="#dadada" stroke-width="2.8" fill="none"/>
<path d="M139.9 814.8V1073.0M162.8 814.8V1073.0M185.6 814.8V1073.0M231.4 814.8V1073.0M254.2 814.8V1073.0M277.1 814.8V1073.0M322.9 814.8V1073.0M345.8 814.8V1073.0M368.6 814.8V1073.0M414.4 814.8V1073.0M437.2 814.8V1073.0M460.1 814.8V1073.0M505.9 814.8V1073.0M528.8 814.8V1073.0M551.6 814.8V1073.0M597.4 814.8V1073.0M620.2 814.8V1073.0" stroke="#aaaaaa" stroke-width="2.7" stroke-dasharray="2.7 3.35" stroke-dashoffset="3.3" fill="none"/>
<path d="M117.0 1055.8H632.2M117.0 1038.6H632.2M117.0 1021.4H632.2M117.0 1004.1H632.2M117.0 969.7H632.2M117.0 952.5H632.2M117.0 935.3H632.2M117.0 918.1H632.2M117.0 883.7H632.2M117.0 866.4H632.2M117.0 849.2H632.2M117.0 832.0H632.2" stroke="#aaaaaa" stroke-width="2.7" stroke-dasharray="2.7 3.35" stroke-dashoffset="0.8" fill="none"/>
<path d="M117.0 1073.0v-6M117.0 814.8v6M208.5 1073.0v-6M208.5 814.8v6M300.0 1073.0v-6M300.0 814.8v6M391.5 1073.0v-6M391.5 814.8v6M483.0 1073.0v-6M483.0 814.8v6M574.5 1073.0v-6M574.5 814.8v6M117.0 1073.0h6M632.2 1073.0h-6M117.0 986.9h6M632.2 986.9h-6M117.0 900.9h6M632.2 900.9h-6M117.0 814.8h6M632.2 814.8h-6" stroke="#111" stroke-width="2.6" fill="none"/>
<rect x="117.0" y="814.8" width="515.2" height="258.2" fill="none" stroke="#111" stroke-width="2.6"/>
<path d="M127 925h0m0 2h0m0 9h0m0 36h0m1-94h0m0 3h0m0 1h0m0 1h0m0 7h0m0 3h0m0 1h0m0 4h0m0 5h0m0 1h0m0 17h0m0 17h0m0 9h0m1-59h0m0 9h0m0 9h0m0 2h0m0 3h0m0 5h0m0 8h0m1-12h0m0 1h0m0 2h0m0 14h0m0 38h0m1-24h0m1 18h0m1-73h0m0 6h0m1-14h0m0 4h0m0 18h0m0 12h0m0 42h0m1-58h0m0 56h0m0 1h0m1-35h0m0 10h0m0 8h0m0 9h0m0 19h0m1-17h0m1-41h0m0 59h0m1-2h0m0 5h0m2-78h0m0 14h0m0 58h0m1-77h0m0 28h0m0 42h0m0 2h0m0 1h0m0 9h0m1-59h0m0 31h0m0 10h0m1-53h0m0 1h0m1 25h0m0 9h0m1-43h0m0 71h0m0 11h0m1-71h0m0 67h0m1-78h0m0 91h0m1-100h0m0 71h0m1-52h0m0 7h0m0 38h0m0 16h0m0 11h0m1-95h0m0 32h0m0 9h0m1-19h0m0 28h0m0 25h0m1-62h0m1-4h0m0 81h0m1-52h0m0 20h0m0 14h0m0 36h0m1-82h0m1-6h0m0 44h0m1-58h0m0 41h0m0 35h0m1-53h0m0 57h0m1-91h0m0 23h0m0 18h0m0 25h0m1 13h0m1-61h0m0 32h0m1-43h0m0 19h0m0 62h0m0 3h0m1-92h0m0 43h0m0 34h0m0 2h0m1-69h0m0 51h0m0 39h0m1-66h0m1-17h0m0 52h0m1-45h0m0 26h0m1-38h0m0 7h0m1 67h0m1-55h0m1-18h0m0 11h0m0 14h0m0 12h0m0 17h0m0 9h0m1-62h0m0 59h0m0 11h0m1-23h0m0 18h0m1-74h0m0 22h0m0 63h0m0 15h0m0 5h0m1-67h0m2-26h0m0 7h0m0 8h0m0 60h0m2 5h0m1-67h0m0 13h0m0 41h0m0 16h0m1-82h0m0 58h0m1-25h0m1-14h0m0 31h0m0 4h0m0 23h0m1-9h0m1-61h0m0 80h0m1-93h0m0 89h0m1 4h0m2-75h0m0 28h0m0 18h0m0 12h0m1-49h0m0 5h0m0 51h0m1-70h0m0 28h0m0 13h0m0 29h0m1-71h0m1 84h0m1-105h0m0 6h0m0 32h0m0 42h0m1-62h0m0 9h0m0 40h0m0 34h0m1-71h0m0 13h0m1 4h0m0 30h0m0 17h0m1-80h0m0 15h0m0 39h0m0 18h0m1-28h0m0 7h0m1-59h0m0 6h0m0 77h0m1-69h0m0 17h0m0 60h0m1-49h0m0 21h0m1 11h0m1-17h0m1-65h0m0 20h0m0 5h0m1-18h0m0 26h0m0 7h0m0 51h0m1-16h0m0 27h0m0 2h0m1-89h0m0 73h0m1-84h0m0 43h0m1 26h0m0 11h0m1-53h0m1-22h0m0 5h0m1 9h0m0 16h0m0 25h0m1 12h0m0 7h0m1-39h0m0 28h0m2-48h0m1-12h0m0 18h0m0 54h0m1-79h0m0 12h0m0 41h0m0 22h0m1-30h0m1 14h0m0 8h0m1-63h0m0 75h0m1-48h0m0 14h0m0 42h0m1-83h0m0 17h0m0 69h0m1-80h0m0 2h0m0 64h0m1-58h0m0 20h0m0 55h0m1-88h0m0 23h0m0 52h0m1-22h0m0 7h0m0 7h0m0 15h0m2-66h0m0 13h0m1 14h0m1-22h0m0 72h0m1-77h0m0 22h0m0 29h0m0 20h0m2-35h0m0 24h0m1 24h0m1-90h0m0 2h0m0 65h0m0 5h0m0 12h0m1-72h0m0 2h0m0 38h0m0 27h0m1-59h0m0 42h0m1-30h0m0 7h0m0 21h0m1-34h0m0 50h0m1-87h0m0 4h0m0 5h0m0 7h0m1-14h0m0 83h0m1-54h0m0 11h0m0 10h0m0 5h0m0 4h0m1-52h0m0 9h0m0 63h0m0 21h0m1-28h0m2-9h0m1-63h0m0 10h0m1 11h0m0 26h0m0 18h0m0 16h0m1-78h0m0 26h0m1-48h0m0 46h0m0 46h0m1-77h0m0 21h0m0 39h0m1 2h0m0 21h0m1-66h0m0 33h0m0 46h0m1-88h0m1 66h0m0 21h0m1-100h0m0 8h0m0 35h0m1-22h0m0 12h0m0 43h0m1 4h0m1-79h0m0 24h0m0 36h0m0 2h0m0 18h0m1-69h0m0 60h0m2-60h0m0 9h0m1-13h0m0 21h0m0 47h0m0 6h0m0 5h0m2-85h0m0 66h0m1-48h0m0 15h0m0 7h0m1-21h0m0 84h0m2-93h0m0 10h0m0 4h0m1 16h0m0 11h0m0 10h0m0 11h0m1 11h0m0 8h0m2-83h0m0 35h0m0 25h0m0 10h0m1-46h0m1-15h0m0 7h0m0 75h0m1-85h0m0 21h0m0 10h0m0 11h0m0 35h0m1-37h0m0 11h0m0 17h0m2-70h0m0 17h0m1 68h0m0 12h0m1-89h0m0 20h0m0 31h0m1-40h0m0 15h0m0 13h0m0 20h0m0 28h0m1-102h0m0 92h0m0 8h0m1-79h0m1-15h0m0 76h0m0 3h0m1-100h0m0 31h0m1-12h0m0 11h0m0 18h0m0 17h0m0 11h0m0 15h0m0 32h0m1-63h0m1 23h0m1-56h0m0 13h0m0 14h0m0 13h0m1-60h0m0 1h0m0 78h0m0 3h0m1-76h0m1 21h0m0 15h0m0 29h0m2-56h0m1-1h0m1 21h0m1-29h0m0 62h0m0 6h0m1-63h0m0 10h0m0 60h0m0 6h0m0 19h0m2-78h0m0 25h0m1-52h0m0 78h0m0 27h0m1-10h0m1-77h0m0 88h0m1-74h0m0 39h0m1-65h0m0 30h0m0 26h0m1-48h0m0 10h0m0 60h0m2-27h0m1-57h0m0 10h0m0 14h0m0 51h0m0 9h0m1-82h0m0 11h0m0 18h0m0 13h0m1 35h0m0 2h0m1-63h0m0 32h0m0 17h0m0 18h0m2-66h0m0 1h0m0 66h0m1-84h0m0 29h0m0 2h0m0 6h0m1 46h0m0 13h0m1-74h0m0 35h0m1 12h0m0 11h0m1-8h0m1-47h0m2 20h0m0 39h0m0 30h0m1-113h0m0 31h0m0 6h0m0 56h0m1-70h0m0 27h0m0 34h0m0 7h0m0 4h0m1-8h0m1-83h0m0 50h0m0 29h0m0 11h0m1-80h0m0 1h0m1 2h0m0 12h0m0 35h0m0 7h0m0 5h0m1-82h0m0 27h0m0 11h0m0 8h0m1-26h0m0 87h0m1-56h0m0 43h0m1-95h0m0 59h0m0 22h0m0 18h0m1-55h0m1 46h0m1-71h0m1-14h0m0 20h0m0 8h0m1 39h0m0 13h0m0 18h0m1-88h0m1-6h0m0 12h0m0 17h0m0 12h0m0 29h0m1-67h0m3 16h0m0 6h0m0 8h0m0 16h0m0 16h0m1-67h0m0 61h0m0 11h0m1-15h0m1-44h0m0 17h0m0 18h0m1-39h0m0 9h0m0 59h0m0 3h0m0 5h0m2-85h0m0 40h0m1-42h0m1 10h0m0 17h0m0 37h0m0 8h0m1-47h0m0 9h0m0 36h0m1-53h0m0 71h0m1-87h0m0 78h0m1-88h0m0 15h0m1 6h0m1 16h0m0 7h0m0 4h0m1-35h0m0 11h0m0 5h0m0 43h0m0 20h0m0 8h0m1-94h0m0 55h0m0 42h0m1-47h0m0 27h0m1-48h0m0 41h0m3-29h0m0 4h0m0 54h0m0 27h0m1-94h0m0 52h0m0 6h0m1-66h0m0 56h0m0 29h0m1-36h0m1-52h0m0 19h0m0 13h0m0 10h0m1-27h0m0 72h0m0 1h0m1-92h0m0 75h0m0 6h0m0 9h0m1-18h0m1-65h0m0 5h0m0 22h0m0 32h0m0 26h0m1-98h0m0 34h0m0 67h0m1-97h0m0 48h0m0 9h0m1 16h0m1-51h0m0 43h0m0 3h0m0 15h0m1-93h0m0 19h0m0 24h0m0 28h0m0 12h0m1-61h0m1 48h0m1-65h0m0 23h0m0 66h0m1-80h0m0 47h0m0 25h0m1-69h0m0 18h0m0 6h0m1-40h0m0 69h0m0 12h0m1-79h0m0 22h0m0 23h0m1-38h0m0 60h0m2-17h0m0 18h0m1-65h0m0 68h0m0 17h0m1-68h0m0 6h0m0 47h0m1-60h0m0 44h0m0 7h0m1-18h0m0 21h0m0 8h0m1-40h0m1-39h0m0 81h0m1-70h0m1-6h0m0 16h0m0 57h0m1-52h0m0 39h0m2-51h0m0 82h0m1-60h0m0 35h0m1-77h0m0 91h0m0 4h0m1-86h0m0 2h0m0 29h0m0 54h0m0 4h0m1-32h0m0 40h0m1-95h0m1 5h0m0 5h0m0 4h0m0 4h0m0 24h0m0 29h0m0 4h0m1-78h0m0 10h0m0 1h0m0 25h0m0 76h0m1-89h0m1-14h0m0 56h0m1 2h0m0 18h0m0 7h0m1-64h0m0 1h0m1 62h0m1-31h0m1 29h0m1-54h0m0 9h0m0 27h0m0 8h0m1-58h0m1-16h0m0 41h0m1-11h0m0 45h0m0 17h0m1-72h0m0 68h0m1-9h0m1-91h0m0 39h0m0 6h0m0 14h0m0 12h0m0 8h0m1-59h0m0 14h0m0 2h0m0 68h0m1-79h0m0 71h0m0 8h0m1-93h0m0 34h0m0 44h0m2-72h0m0 58h0m0 12h0m0 21h0m1-35h0m0 5h0m0 25h0m1-64h0m0 16h0m0 32h0m1-70h0m0 5h0m0 8h0m0 51h0m1-11h0m1-20h0m0 45h0m1-52h0m0 70h0m1-111h0m0 8h0m0 16h0m0 11h0m1 49h0m0 9h0m1-91h0m0 79h0m1-83h0m0 70h0m0 36h0m1-88h0m0 12h0m0 15h0m1-39h0m0 72h0m0 9h0m1-63h0m1 26h0m1-36h0m0 77h0m1-81h0m0 9h0m0 19h0m0 56h0m1 6h0m0 29h0m1-99h0m0 54h0m0 27h0m1-87h0m0 43h0m0 11h0m1-24h0m0 32h0m1-71h0m0 3h0m1-14h0m0 30h0m0 20h0m0 18h0m0 35h0m1-87h0m0 43h0m1-15h0m0 47h0m1-86h0m0 16h0m0 16h0m0 38h0m1-6h0m1-52h0m0 33h0m1-33h0m0 8h0m0 19h0m0 39h0m1-50h0m0 29h0m0 29h0m1-56h0m0 20h0m0 44h0m1-78h0m1 45h0m1-19h0m0 35h0m1-9h0m1-61h0m1 15h0m0 16h0m0 47h0m1-71h0m0 13h0m0 18h0m0 15h0m0 26h0m1-5h0m1-6h0m0 21h0m1-93h0m0 85h0m1-87h0m0 47h0m1-26h0m0 10h0m0 46h0m1-54h0m1-13h0m1-21h0m0 13h0m0 5h0m0 10h0m0 17h0m0 6h0m0 17h0m0 34h0m1-26h0m0 5h0m0 13h0m1-72h0m2-5h0m0 21h0m0 26h0m0 25h0m1-79h0m0 19h0m1-15h0m0 41h0m1-8h0m0 39h0m1-60h0m0 8h0m0 47h0m1-29h0m1-45h0m0 25h0m0 37h0m0 7h0m1-58h0m0 4h0m0 20h0m0 3h0m1 45h0m0 14h0m1-118h0m0 19h0m1 1h0m0 7h0m0 77h0m1-29h0m0 2h0m0 19h0m0 1h0m1-70h0m0 8h0m0 14h0m0 6h0m0 10h0m0 31h0m1-56h0m0 46h0m2-43h0m0 51h0m1-65h0m0 65h0m1-14h0m0 40h0m1-100h0m0 91h0m1-100h0m0 27h0m0 11h0m0 18h0m0 36h0m1-72h0m0 30h0m0 50h0m1-24h0m0 10h0m0 2h0m0 8h0m1-85h0m0 23h0m0 14h0m1-33h0m0 24h0m1-19h0m0 2h0m0 5h0m0 2h0m1 1h0m0 36h0m1-4h0m0 16h0m0 12h0m0 8h0m0 7h0m1-72h0m0 22h0m0 18h0m1-31h0m0 45h0m1 34h0m1-28h0m0 13h0m3-69h0m0 12h0m0 30h0m0 4h0m0 17h0m1-79h0m0 4h0m0 2h0m1 62h0m0 18h0m1-62h0m0 4h0m0 6h0m0 9h0m0 43h0m2-73h0m0 1h0m0 6h0m0 56h0m0 15h0m2-4h0m1-81h0m0 16h0m0 62h0m0 12h0m1-96h0m0 60h0m0 20h0m1-11h0m1-72h0m0 17h0m0 16h0m0 23h0m1-56h0m1-9h0m0 14h0m0 37h0m0 29h0m0 9h0m1-49h0m2-43h0m0 9h0m0 17h0m0 9h0m0 7h0m1-41h0m0 23h0m0 54h0m1-19h0m0 29h0m1-6h0m0 18h0m1-96h0m0 69h0m1-65h0m0 6h0m0 82h0m1-77h0m0 6h0m0 5h0m0 15h0m0 23h0m2 7h0m1-85h0m0 19h0m0 79h0m1-104h0m0 78h0m0 14h0m1-66h0m1 7h0m0 17h0m1-25h0m0 15h0m1-44h0m0 80h0m1 21h0m0 6h0m1-79h0m0 19h0m0 43h0m1-63h0m1-1h0m0 68h0m1-76h0m0 7h0m0 47h0m0 42h0m1-87h0m0 4h0m0 2h0m0 7h0m0 4h0m0 11h0m0 33h0m1 26h0m1-61h0m0 51h0m1-66h0m0 62h0m2-57h0m0 27h0m0 12h0m1-22h0m0 19h0m1-51h0m0 20h0m0 43h0m0 17h0m0 3h0m0 9h0m2-47h0m1-29h0m0 57h0m1 15h0m0 5h0m1-74h0m0 10h0m1-29h0m1 26h0m0 33h0m0 4h0m0 27h0m1-56h0m0 59h0m1-76h0m0 23h0m0 40h0m1-83h0m0 95h0m1-24h0m0 8h0m1-63h0m0 9h0m1-13h0m0 25h0m1-7h0m0 30h0m1-37h0m0 66h0m1-79h0m0 57h0m0 8h0m0 16h0m1-60h0m0 13h0m1-44h0m0 14h0m0 71h0m1-39h0m1-39h0m0 16h0m0 57h0m1-75h0m1 51h0m0 36h0m1-99h0m0 44h0m0 26h0m0 7h0m1-75h0m0 15h0m0 10h0m0 58h0m1-8h0m0 16h0m1-83h0m0 23h0m1-9h0m0 33h0m0 14h0m1-94h0m0 127h0m1-99h0m0 2h0m0 11h0m0 20h0m0 24h0m2-31h0m0 12h0m0 9h0m1-38h0m0 69h0m0 15h0m0 16h0m1-45h0m0 6h0m0 12h0m0 3h0m1-68h0m1 37h0m1-41h0m0 18h0m0 45h0m0 29h0m1-82h0m2-20h0m0 3h0m0 10h0m0 20h0m0 81h0m1-44h0m1-28h0m0 20h0m0 15h0m1 14h0m1-65h0m0 53h0m0 1h0m1-69h0m0 75h0m1-49h0m0 54h0m1-72h0m0 13h0m0 41h0m1-22h0m0 17h0m1-64h0m0 8h0m0 30h0m1-13h0m0 4h0m1 49h0m0 18h0m1-104h0m0 19h0m0 73h0m1-65h0m0 75h0m1-52h0m1-36h0m0 23h0m0 31h0m0 11h0m0 23h0m1-71h0m0 28h0m0 36h0m0 36h0m1-85h0m0 46h0m0 4h0m1-93h0m0 70h0m1-67h0m0 16h0m0 6h0m0 58h0m2-63h0m0 13h0m0 48h0m0 23h0m1-108h0m0 69h0m1-59h0m0 7h0m0 60h0m2-33h0m0 52h0m1-95h0m0 16h0m0 14h0m0 33h0m0 19h0m0 9h0m1-87h0m0 70h0m1-74h0m0 20h0m1 30h0m0 18h0m0 18h0m1-13h0m1-68h0m0 20h0m0 61h0m1-83h0m0 8h0m0 6h0m0 19h0m0 25h0m0 23h0m1-90h0m2 89h0m2-71h0m0 10h0m0 9h0m0 3h0m0 16h0m0 8h0m0 6h0m0 2h0m0 6h0m1-56h0m0 2h0m0 11h0m0 26h0m0 25h0m1-67h0m0 6h0m0 17h0m0 1h0m0 1h0m0 4h0m0 3h0m0 3h0m0 13h0m0 21h0m0 10h0m0 8h0m1-76h0" stroke="#0000ff" stroke-width="10.2" stroke-linecap="round" fill="none"/>
<path d="M498.5 929H502.5V926H505.5V924H506.5V925H510.5V931H516.5V923H518.5V930H522.5V927H525.5V922H527.5V924H531.5V909H533.5V908H534.5V907H536.5V911H540.5V910H545.5V915H546.5V917H548.5V922H551.5V925H554.5V938H553.5V937H552.5V935H549.5V932H547.5V926H546.5V924H543.5V933H542.5V925H539.5V927H538.5V928H537.5V932H532.5V927H527.5V928H526.5V934H524.5V941H523.5V935H517.5V943H515.5V946H514.5V942H512.5V941H509.5V938H504.5V947H502.5V946H501.5V938H500.5V932H499.5V931H498.5Z" fill="#ffa526"/>
<path d="M127 923h0m0 2h0m0 10h0m0 36h0m1-81h0m0 9h0m0 3h0m0 2h0m0 4h0m0 2h0m0 5h0m0 3h0m0 1h0m0 8h0m0 4h0m0 1h0m0 15h0m1-44h0m0 5h0m0 2h0m0 6h0m0 1h0m0 5h0m0 2h0m0 4h0m1-13h0m0 8h0m0 1h0m0 3h0m0 2h0m0 5h0m0 4h0m0 2h0m0 1h0m1-33h0m0 10h0m0 2h0m0 7h0m0 4h0m0 4h0m0 2h0m0 4h0m0 3h0m0 11h0m1-45h0m0 6h0m0 2h0m0 11h0m0 5h0m0 26h0m1-57h0m0 4h0m0 6h0m0 3h0m0 5h0m0 1h0m0 6h0m0 5h0m0 3h0m0 5h0m1-33h0m0 1h0m0 3h0m0 1h0m0 3h0m0 2h0m0 8h0m0 5h0m0 6h0m0 3h0m0 9h0m0 7h0m1-52h0m0 9h0m0 8h0m0 3h0m0 3h0m0 1h0m0 8h0m0 1h0m0 1h0m0 3h0m0 12h0m1-36h0m0 3h0m0 6h0m0 2h0m0 2h0m0 9h0m0 4h0m0 3h0m1-34h0m0 1h0m0 12h0m0 5h0m0 7h0m0 1h0m0 4h0m0 1h0m0 3h0m1-35h0m0 6h0m0 1h0m0 12h0m0 12h0m0 4h0m0 2h0m0 1h0m0 19h0m1-53h0m0 1h0m0 1h0m0 4h0m0 5h0m0 2h0m0 1h0m0 1h0m0 6h0m0 29h0m0 5h0m1-69h0m0 4h0m0 8h0m0 9h0m0 3h0m0 6h0m0 1h0m0 1h0m0 1h0m0 5h0m0 2h0m0 1h0m0 1h0m0 2h0m0 3h0m0 3h0m0 17h0m1-59h0m0 13h0m0 1h0m0 1h0m0 12h0m0 13h0m0 2h0m0 13h0m0 2h0m1-67h0m0 9h0m0 8h0m0 2h0m0 3h0m0 2h0m0 4h0m0 2h0m0 2h0m0 2h0m0 1h0m0 1h0m0 2h0m0 3h0m0 2h0m0 5h0m0 7h0m0 5h0m0 3h0m1-55h0m0 12h0m0 2h0m0 4h0m0 14h0m0 7h0m0 6h0m1-44h0m0 11h0m0 8h0m0 3h0m0 2h0m0 7h0m0 2h0m0 2h0m0 3h0m0 2h0m0 15h0m1-47h0m0 8h0m0 9h0m0 11h0m1-26h0m0 11h0m0 4h0m0 3h0m0 1h0m0 1h0m0 2h0m0 8h0m0 5h0m0 8h0m0 1h0m0 11h0m1-49h0m0 7h0m0 5h0m0 4h0m0 1h0m0 2h0m0 3h0m1-32h0m0 3h0m0 14h0m0 10h0m0 3h0m0 1h0m0 8h0m0 13h0m0 15h0m1-78h0m0 7h0m0 13h0m0 4h0m0 3h0m0 4h0m0 4h0m0 8h0m0 17h0m1-44h0m0 9h0m0 5h0m0 2h0m0 4h0m0 7h0m0 1h0m0 3h0m0 1h0m0 9h0m1-52h0m0 14h0m0 3h0m0 5h0m0 5h0m0 4h0m0 1h0m0 7h0m0 2h0m1-36h0m0 6h0m0 4h0m0 4h0m0 6h0m0 4h0m0 2h0m0 5h0m0 5h0m0 2h0m0 6h0m1-50h0m0 18h0m0 2h0m0 4h0m0 12h0m0 4h0m0 5h0m0 16h0m1-51h0m0 1h0m0 3h0m0 4h0m0 3h0m0 1h0m0 3h0m0 3h0m0 1h0m0 3h0m0 14h0m0 1h0m0 13h0m1-51h0m0 1h0m0 5h0m0 1h0m0 12h0m0 3h0m0 1h0m0 2h0m0 7h0m0 2h0m0 6h0m0 2h0m0 26h0m1-76h0m0 3h0m0 3h0m0 5h0m0 4h0m0 2h0m0 4h0m0 9h0m0 5h0m0 1h0m0 6h0m1-32h0m0 1h0m0 11h0m0 10h0m0 1h0m0 1h0m0 6h0m0 6h0m1-55h0m0 10h0m0 3h0m0 10h0m0 2h0m0 2h0m0 8h0m0 1h0m0 2h0m0 2h0m0 4h0m0 22h0m1-56h0m0 10h0m0 1h0m0 8h0m0 1h0m0 3h0m0 5h0m0 1h0m0 5h0m0 3h0m0 1h0m1-44h0m0 4h0m0 5h0m0 1h0m0 9h0m0 4h0m0 10h0m0 2h0m0 1h0m0 4h0m0 2h0m1-29h0m0 4h0m0 4h0m0 7h0m0 3h0m0 6h0m0 2h0m0 1h0m0 5h0m0 10h0m1-62h0m0 20h0m0 7h0m0 3h0m0 2h0m0 5h0m0 2h0m0 5h0m0 1h0m1-39h0m0 8h0m0 2h0m0 1h0m0 2h0m0 15h0m0 9h0m0 5h0m0 16h0m0 3h0m1-62h0m0 5h0m0 3h0m0 1h0m0 4h0m0 4h0m0 2h0m0 1h0m0 2h0m0 2h0m0 9h0m0 4h0m0 10h0m0 7h0m1-47h0m0 5h0m0 6h0m0 6h0m0 1h0m0 1h0m0 2h0m0 3h0m0 19h0m0 21h0m1-68h0m0 1h0m0 2h0m0 9h0m0 6h0m0 2h0m0 3h0m0 6h0m0 1h0m0 2h0m1-45h0m0 6h0m0 13h0m0 2h0m0 3h0m0 15h0m0 1h0m0 11h0m0 2h0m0 1h0m1-29h0m0 2h0m0 1h0m0 1h0m0 1h0m0 3h0m0 3h0m0 10h0m1-35h0m0 3h0m0 10h0m0 2h0m0 2h0m0 3h0m0 1h0m0 21h0m0 11h0m1-43h0m0 1h0m0 13h0m0 3h0m0 6h0m0 17h0m0 4h0m1-64h0m0 24h0m0 7h0m0 1h0m0 9h0m0 13h0m0 4h0m1-51h0m0 2h0m0 3h0m0 2h0m0 10h0m0 1h0m0 2h0m0 1h0m0 3h0m0 2h0m0 2h0m0 3h0m0 2h0m0 2h0m0 5h0m0 9h0m0 4h0m1-54h0m0 1h0m0 3h0m0 1h0m0 3h0m0 16h0m0 5h0m0 7h0m0 6h0m0 14h0m1-39h0m0 2h0m0 9h0m0 5h0m0 4h0m1-31h0m0 8h0m0 7h0m0 2h0m0 4h0m0 1h0m0 4h0m0 1h0m0 1h0m0 11h0m0 1h0m0 13h0m1-48h0m0 3h0m0 2h0m0 2h0m0 6h0m0 1h0m0 1h0m0 3h0m0 10h0m0 23h0m1-56h0m0 9h0m0 4h0m0 9h0m0 5h0m0 3h0m0 3h0m0 1h0m1-35h0m0 3h0m0 3h0m0 11h0m0 6h0m0 5h0m0 9h0m0 3h0m0 18h0m1-49h0m0 4h0m0 3h0m0 4h0m0 4h0m0 1h0m0 4h0m0 3h0m0 3h0m0 3h0m1-36h0m0 11h0m0 6h0m0 7h0m0 8h0m0 30h0m1-56h0m0 3h0m0 1h0m0 3h0m0 7h0m0 1h0m0 4h0m0 3h0m0 4h0m0 12h0m0 3h0m0 3h0m0 1h0m1-51h0m0 5h0m0 10h0m0 14h0m0 11h0m0 7h0m0 4h0m1-40h0m0 2h0m0 3h0m0 2h0m0 5h0m0 3h0m0 7h0m0 3h0m0 2h0m0 5h0m0 1h0m1-38h0m0 2h0m0 1h0m0 4h0m0 8h0m0 8h0m0 1h0m0 1h0m0 1h0m0 2h0m0 3h0m0 2h0m0 3h0m0 20h0m1-57h0m0 5h0m0 15h0m0 1h0m0 4h0m0 4h0m0 3h0m0 6h0m0 8h0m0 5h0m1-58h0m0 9h0m0 3h0m0 7h0m0 2h0m0 3h0m0 7h0m0 12h0m0 5h0m0 6h0m0 2h0m0 17h0m1-88h0m0 12h0m0 11h0m0 6h0m0 6h0m0 3h0m0 2h0m0 4h0m0 2h0m0 8h0m0 6h0m0 23h0m1-60h0m0 8h0m0 2h0m0 10h0m0 4h0m0 3h0m0 4h0m0 3h0m0 3h0m0 1h0m0 3h0m0 24h0m1-51h0m0 3h0m0 2h0m0 7h0m0 5h0m0 12h0m1-42h0m0 6h0m0 4h0m0 8h0m0 3h0m0 11h0m0 5h0m0 3h0m0 5h0m1-37h0m0 5h0m0 2h0m0 2h0m0 9h0m0 3h0m0 3h0m0 1h0m0 3h0m0 5h0m0 1h0m0 8h0m0 4h0m1-55h0m0 7h0m0 3h0m0 2h0m0 6h0m0 5h0m0 2h0m0 4h0m0 6h0m0 2h0m0 1h0m0 1h0m0 16h0m1-62h0m0 12h0m0 3h0m0 4h0m0 3h0m0 5h0m0 2h0m0 2h0m0 6h0m0 3h0m0 6h0m0 7h0m1-56h0m0 26h0m0 5h0m0 2h0m0 1h0m0 1h0m0 1h0m0 1h0m0 2h0m0 40h0m1-76h0m0 14h0m0 2h0m0 5h0m0 5h0m0 13h0m0 1h0m0 6h0m0 2h0m1-48h0m0 9h0m0 2h0m0 6h0m0 10h0m0 1h0m0 12h0m0 3h0m0 8h0m0 1h0m0 1h0m1-43h0m0 2h0m0 3h0m0 2h0m0 4h0m0 3h0m0 2h0m0 4h0m0 4h0m0 3h0m1-25h0m0 12h0m0 1h0m0 4h0m0 9h0m0 2h0m0 7h0m0 2h0m0 16h0m1-74h0m0 19h0m0 6h0m0 3h0m0 2h0m0 14h0m0 12h0m0 5h0m0 2h0m0 3h0m0 4h0m1-56h0m0 9h0m0 3h0m0 9h0m0 5h0m0 5h0m0 5h0m0 2h0m0 3h0m0 4h0m1-51h0m0 4h0m0 6h0m0 9h0m0 5h0m0 3h0m0 1h0m0 2h0m0 5h0m0 5h0m0 4h0m1-56h0m0 24h0m0 6h0m0 3h0m0 6h0m0 8h0m0 3h0m0 2h0m0 5h0m0 4h0m1-40h0m0 5h0m0 5h0m0 3h0m0 4h0m0 4h0m0 2h0m0 1h0m0 5h0m0 5h0m1-39h0m0 4h0m0 3h0m0 3h0m0 7h0m0 3h0m0 7h0m0 1h0m0 3h0m0 8h0m0 4h0m0 12h0m1-48h0m0 5h0m0 10h0m0 2h0m0 7h0m0 19h0m1-46h0m0 1h0m0 1h0m0 9h0m0 3h0m0 6h0m0 4h0m0 2h0m0 1h0m0 6h0m0 1h0m0 14h0m1-59h0m0 10h0m0 4h0m0 1h0m0 3h0m0 2h0m0 1h0m0 1h0m0 1h0m0 1h0m0 1h0m0 2h0m0 4h0m0 6h0m0 5h0m0 4h0m0 15h0m1-46h0m0 1h0m0 3h0m0 6h0m0 2h0m0 3h0m0 3h0m0 11h0m0 4h0m0 26h0m0 2h0m1-73h0m0 1h0m0 2h0m0 4h0m0 1h0m0 19h0m0 3h0m0 2h0m0 6h0m0 19h0m1-60h0m0 5h0m0 4h0m0 4h0m0 12h0m0 12h0m0 1h0m0 13h0m0 2h0m1-36h0m0 2h0m0 5h0m0 4h0m0 4h0m0 3h0m0 1h0m0 4h0m0 16h0m1-40h0m0 3h0m0 7h0m0 3h0m0 11h0m0 6h0m1-38h0m0 1h0m0 1h0m0 1h0m0 2h0m0 4h0m0 4h0m0 1h0m0 5h0m1-21h0m0 1h0m0 8h0m0 5h0m0 5h0m0 6h0m0 1h0m0 4h0m0 2h0m0 11h0m1-41h0m0 9h0m0 5h0m0 6h0m0 2h0m0 3h0m0 5h0m0 8h0m0 1h0m0 4h0m1-46h0m0 2h0m0 7h0m0 9h0m0 2h0m0 4h0m0 1h0m0 4h0m0 9h0m1-44h0m0 5h0m0 2h0m0 2h0m0 3h0m0 2h0m0 1h0m0 5h0m0 1h0m0 2h0m0 6h0m0 7h0m1-28h0m0 3h0m0 7h0m0 1h0m0 3h0m0 15h0m1-29h0m0 2h0m0 6h0m0 4h0m0 4h0m0 3h0m0 3h0m0 4h0m0 7h0m0 3h0m0 2h0m0 4h0m0 8h0m1-54h0m0 9h0m0 6h0m0 4h0m0 4h0m0 5h0m0 3h0m0 1h0m0 4h0m0 12h0m1-49h0m0 9h0m0 3h0m0 2h0m0 6h0m0 4h0m0 1h0m0 3h0m0 14h0m0 2h0m1-36h0m0 9h0m0 1h0m0 6h0m0 6h0m0 4h0m0 8h0m1-33h0m0 1h0m0 17h0m0 2h0m0 4h0m0 1h0m1-26h0m0 4h0m0 1h0m0 2h0m0 6h0m0 2h0m0 11h0m0 1h0m0 27h0m1-60h0m0 6h0m0 5h0m0 5h0m0 1h0m0 2h0m0 4h0m0 6h0m0 5h0m1-28h0m0 5h0m0 11h0m0 4h0m0 5h0m0 5h0m0 13h0m0 1h0m1-44h0m0 1h0m0 3h0m0 1h0m0 9h0m0 4h0m0 3h0m0 9h0m0 28h0m1-60h0m0 12h0m0 4h0m0 4h0m0 3h0m0 3h0m0 1h0m0 4h0m0 3h0m0 1h0m0 6h0m1-41h0m0 6h0m0 1h0m0 9h0m0 10h0m0 3h0m0 2h0m0 8h0m0 7h0m0 12h0m1-53h0m0 5h0m0 4h0m0 4h0m0 1h0m0 2h0m0 4h0m0 5h0m0 13h0m0 16h0m1-59h0m0 5h0m0 4h0m0 1h0m0 2h0m0 12h0m0 8h0m0 1h0m0 4h0m0 4h0m0 14h0m1-58h0m0 15h0m0 1h0m0 3h0m0 2h0m0 3h0m0 6h0m0 1h0m0 1h0m0 5h0m0 3h0m0 3h0m0 6h0m1-42h0m0 2h0m0 4h0m0 5h0m0 1h0m0 4h0m0 4h0m0 2h0m0 13h0m0 6h0m0 2h0m0 20h0m1-82h0m0 17h0m0 5h0m0 4h0m0 4h0m0 16h0m0 1h0m0 1h0m0 2h0m0 1h0m0 3h0m0 2h0m0 1h0m0 20h0m0 1h0m1-53h0m0 5h0m0 1h0m0 3h0m0 3h0m0 4h0m0 5h0m0 11h0m0 5h0m1-40h0m0 12h0m0 4h0m0 3h0m0 1h0m0 4h0m0 8h0m0 1h0m0 3h0m0 8h0m0 12h0m1-57h0m0 3h0m0 2h0m0 3h0m0 3h0m0 5h0m0 6h0m0 4h0m0 3h0m0 2h0m0 6h0m0 4h0m0 4h0m0 14h0m0 10h0m1-74h0m0 8h0m0 4h0m0 1h0m0 4h0m0 1h0m0 6h0m0 6h0m0 5h0m0 8h0m0 1h0m0 12h0m0 9h0m1-62h0m0 5h0m0 18h0m0 4h0m0 1h0m0 4h0m0 3h0m0 2h0m0 12h0m0 11h0m1-60h0m0 6h0m0 1h0m0 2h0m0 6h0m0 2h0m0 4h0m0 7h0m0 1h0m0 6h0m0 1h0m0 5h0m0 3h0m0 3h0m0 4h0m1-40h0m0 3h0m0 1h0m0 10h0m0 1h0m0 4h0m0 2h0m0 6h0m0 4h0m1-46h0m0 8h0m0 1h0m0 2h0m0 1h0m0 6h0m0 3h0m0 7h0m0 3h0m0 5h0m0 18h0m1-57h0m0 2h0m0 3h0m0 1h0m0 1h0m0 1h0m0 7h0m0 2h0m0 4h0m0 9h0m0 7h0m0 1h0m0 5h0m0 5h0m1-50h0m0 2h0m0 17h0m0 1h0m0 6h0m0 1h0m0 1h0m0 2h0m0 4h0m0 3h0m0 18h0m0 2h0m0 5h0m1-59h0m0 5h0m0 1h0m0 8h0m0 1h0m0 2h0m0 1h0m0 2h0m0 2h0m0 4h0m0 9h0m0 8h0m0 1h0m0 1h0m0 4h0m0 5h0m1-55h0m0 3h0m0 7h0m0 1h0m0 8h0m0 8h0m0 2h0m0 1h0m0 1h0m0 2h0m0 1h0m0 1h0m0 3h0m0 2h0m0 3h0m0 8h0m0 28h0m1-84h0m0 5h0m0 2h0m0 4h0m0 6h0m0 4h0m0 10h0m0 9h0m0 4h0m0 4h0m0 1h0m0 1h0m0 6h0m0 12h0m1-50h0m0 8h0m0 4h0m0 10h0m0 6h0m1-31h0m0 1h0m0 20h0m0 4h0m0 1h0m0 2h0m0 2h0m0 16h0m1-59h0m0 12h0m0 1h0m0 4h0m0 2h0m0 3h0m0 1h0m0 3h0m0 5h0m0 1h0m0 3h0m0 4h0m0 6h0m0 2h0m0 11h0m1-53h0m0 7h0m0 2h0m0 3h0m0 11h0m0 11h0m0 2h0m0 6h0m1-44h0m0 5h0m0 10h0m0 2h0m0 5h0m0 2h0m0 1h0m0 4h0m0 2h0m0 4h0m0 6h0m0 6h0m1-67h0m0 9h0m0 16h0m0 3h0m0 4h0m0 5h0m0 2h0m0 10h0m0 4h0m0 2h0m0 16h0m1-54h0m0 5h0m0 7h0m0 5h0m0 10h0m0 4h0m0 4h0m0 2h0m0 7h0m0 12h0m1-47h0m0 1h0m0 8h0m0 4h0m0 2h0m0 6h0m0 2h0m0 7h0m0 3h0m0 2h0m0 16h0m1-57h0m0 4h0m0 4h0m0 7h0m0 1h0m0 8h0m0 1h0m0 1h0m0 2h0m0 23h0m0 4h0m1-59h0m0 27h0m0 7h0m0 10h0m1-43h0m0 10h0m0 1h0m0 3h0m0 4h0m0 3h0m0 2h0m0 19h0m0 10h0m0 21h0m1-65h0m0 1h0m0 1h0m0 1h0m0 4h0m0 1h0m0 2h0m0 16h0m1-17h0m0 3h0m0 5h0m0 2h0m0 4h0m0 1h0m0 3h0m0 6h0m0 13h0m1-56h0m0 11h0m0 3h0m0 1h0m0 1h0m0 8h0m0 6h0m0 6h0m0 1h0m0 2h0m1-38h0m0 2h0m0 7h0m0 3h0m0 3h0m0 1h0m0 4h0m0 6h0m0 2h0m0 7h0m0 1h0m0 3h0m1-34h0m0 5h0m0 9h0m0 11h0m0 9h0m0 8h0m1-40h0m0 1h0m0 4h0m0 3h0m0 3h0m0 3h0m0 1h0m0 2h0m0 5h0m0 3h0m0 1h0m0 19h0m1-45h0m0 3h0m0 2h0m0 15h0m0 13h0m1-45h0m0 7h0m0 5h0m0 1h0m0 6h0m0 2h0m0 3h0m0 10h0m0 2h0m0 2h0m0 13h0m0 8h0m0 5h0m1-48h0m0 8h0m0 2h0m0 2h0m0 2h0m0 6h0m0 2h0m0 1h0m0 3h0m0 4h0m0 1h0m1-47h0m0 19h0m0 1h0m0 2h0m0 4h0m0 2h0m0 5h0m0 7h0m0 12h0m1-46h0m0 6h0m0 8h0m0 1h0m0 5h0m0 7h0m0 5h0m0 13h0m1-35h0m0 6h0m0 5h0m0 3h0m0 1h0m0 4h0m0 3h0m0 3h0m0 42h0m1-78h0m0 6h0m0 4h0m0 4h0m0 1h0m0 4h0m0 15h0m0 7h0m0 6h0m0 6h0m1-48h0m0 3h0m0 3h0m0 2h0m0 4h0m0 4h0m0 1h0m0 1h0m0 3h0m0 2h0m0 1h0m0 1h0m0 1h0m0 6h0m0 6h0m0 6h0m1-44h0m0 7h0m0 2h0m0 2h0m0 7h0m0 10h0m0 3h0m0 2h0m0 13h0m1-51h0m0 8h0m0 9h0m0 2h0m0 4h0m0 1h0m0 4h0m0 6h0m0 13h0m0 3h0m0 15h0m1-64h0m0 26h0m0 1h0m0 4h0m0 1h0m0 8h0m0 2h0m1-44h0m0 17h0m0 1h0m0 1h0m0 8h0m0 1h0m0 7h0m0 8h0m0 8h0m0 1h0m0 1h0m1-41h0m0 11h0m0 1h0m0 7h0m0 2h0m0 4h0m0 4h0m1-46h0m0 6h0m0 6h0m0 17h0m0 2h0m0 5h0m0 1h0m0 45h0m1-80h0m0 5h0m0 5h0m0 11h0m0 3h0m0 2h0m0 3h0m0 4h0m0 3h0m0 16h0m0 9h0m0 10h0m1-53h0m0 5h0m0 7h0m0 1h0m0 1h0m0 16h0m0 1h0m0 6h0m0 3h0m0 1h0m0 7h0m1-54h0m0 3h0m0 3h0m0 16h0m0 3h0m0 12h0m0 16h0m1-51h0m0 6h0m0 3h0m0 7h0m0 1h0m0 4h0m0 3h0m0 12h0m0 1h0m0 1h0m0 4h0m0 2h0m0 1h0m0 2h0m1-42h0m0 4h0m0 8h0m0 9h0m0 4h0m0 1h0m0 1h0m0 6h0m0 9h0m0 8h0m0 5h0m0 15h0m1-77h0m0 3h0m0 8h0m0 1h0m0 9h0m0 2h0m0 5h0m0 3h0m0 3h0m0 3h0m0 3h0m0 1h0m0 12h0m0 1h0m1-48h0m0 6h0m0 5h0m0 4h0m0 2h0m0 7h0m0 3h0m0 11h0m0 1h0m0 16h0m0 13h0m1-76h0m0 1h0m0 11h0m0 9h0m0 4h0m0 1h0m0 1h0m0 1h0m0 1h0m0 4h0m0 3h0m0 1h0m0 2h0m0 11h0m0 17h0m0 8h0m1-61h0m0 3h0m0 3h0m0 19h0m0 18h0m1-39h0m0 3h0m0 5h0m0 2h0m0 7h0m0 4h0m0 8h0m0 2h0m0 5h0m0 5h0m0 1h0m1-62h0m0 2h0m0 9h0m0 12h0m0 2h0m0 5h0m0 1h0m0 2h0m0 4h0m1-30h0m0 8h0m0 3h0m0 1h0m0 2h0m0 5h0m0 3h0m0 3h0m0 3h0m0 1h0m0 1h0m0 2h0m0 2h0m0 1h0m0 14h0m1-42h0m0 4h0m0 5h0m0 4h0m0 15h0m0 6h0m1-42h0m0 4h0m0 5h0m0 3h0m0 2h0m0 10h0m0 4h0m0 4h0m0 7h0m1-40h0m0 4h0m0 7h0m0 6h0m0 3h0m0 2h0m0 5h0m0 7h0m0 1h0m0 1h0m0 8h0m1-71h0m0 21h0m0 18h0m0 3h0m0 5h0m0 3h0m0 1h0m0 5h0m0 1h0m0 4h0m0 8h0m0 5h0m1-62h0m0 22h0m0 1h0m0 5h0m0 3h0m0 9h0m1-21h0m0 6h0m0 6h0m0 1h0m0 3h0m0 4h0m0 4h0m0 9h0m1-44h0m0 4h0m0 5h0m0 4h0m0 1h0m0 3h0m0 4h0m0 4h0m0 9h0m0 11h0m1-41h0m0 2h0m0 9h0m0 13h0m0 1h0m0 3h0m0 12h0m0 7h0m0 1h0m1-45h0m0 2h0m0 5h0m0 4h0m0 1h0m0 4h0m0 3h0m0 6h0m1-30h0m0 1h0m0 18h0m0 6h0m0 5h0m1-30h0m0 5h0m0 4h0m0 2h0m0 3h0m0 6h0m0 2h0m0 6h0m0 8h0m0 3h0m0 1h0m1-35h0m0 1h0m0 1h0m0 4h0m0 3h0m0 3h0m0 9h0m0 6h0m0 1h0m0 8h0m0 4h0m0 30h0m1-78h0m0 7h0m0 13h0m0 2h0m0 3h0m0 2h0m0 5h0m1-20h0m0 4h0m0 4h0m0 3h0m0 8h0m0 2h0m0 2h0m1-42h0m0 10h0m0 2h0m0 3h0m0 2h0m0 4h0m0 4h0m0 8h0m0 2h0m0 7h0m0 7h0m0 35h0m1-65h0m0 10h0m0 1h0m0 3h0m0 6h0m0 3h0m0 31h0m1-51h0m0 1h0m0 3h0m0 11h0m0 8h0m0 39h0m1-78h0m0 11h0m0 2h0m0 9h0m0 2h0m0 1h0m0 5h0m0 1h0m0 2h0m0 3h0m1-36h0m0 5h0m0 4h0m0 7h0m0 2h0m0 17h0m1-29h0m0 2h0m0 4h0m0 3h0m0 6h0m0 5h0m0 1h0m0 5h0m0 6h0m0 8h0m1-35h0m0 7h0m0 5h0m0 2h0m0 6h0m0 4h0m1-28h0m0 5h0m0 1h0m0 6h0m0 1h0m0 10h0m0 1h0m0 5h0m0 4h0m1-41h0m0 5h0m0 6h0m0 1h0m0 1h0m0 14h0m0 1h0m0 6h0m0 6h0m0 4h0m0 15h0m1-60h0m0 2h0m0 4h0m0 4h0m0 9h0m0 5h0m0 2h0m0 3h0m0 3h0m0 5h0m1-17h0m0 3h0m0 10h0m0 9h0m0 6h0m0 9h0m1-46h0m0 11h0m0 6h0m0 3h0m0 4h0m0 2h0m0 1h0m0 3h0m0 3h0m0 4h0m1-39h0m0 3h0m0 10h0m0 3h0m0 6h0m0 3h0m0 4h0m0 1h0m0 1h0m0 3h0m0 3h0m0 3h0m1-44h0m0 3h0m0 2h0m0 2h0m0 2h0m0 8h0m0 3h0m0 3h0m0 2h0m0 12h0m0 18h0m0 1h0m1-66h0m0 13h0m0 2h0m0 10h0m0 3h0m0 1h0m0 5h0m0 4h0m0 6h0m1-32h0m0 8h0m0 4h0m0 1h0m0 3h0m0 4h0m0 6h0m0 1h0m0 2h0m0 1h0m0 7h0m0 15h0m0 2h0m1-55h0m0 12h0m0 3h0m0 1h0m0 6h0m0 3h0m0 4h0m0 4h0m0 2h0m0 3h0m0 1h0m1-42h0m0 18h0m0 3h0m0 2h0m0 5h0m0 9h0m0 3h0m0 6h0m0 1h0m1-33h0m0 11h0m0 5h0m0 2h0m0 4h0m0 4h0m0 3h0m1-35h0m0 8h0m0 11h0m0 5h0m0 2h0m0 2h0m0 3h0m0 6h0m1-47h0m0 7h0m0 2h0m0 7h0m0 2h0m0 2h0m0 1h0m0 5h0m0 4h0m0 2h0m0 4h0m0 4h0m0 2h0m0 3h0m0 6h0m0 2h0m0 3h0m1-30h0m0 8h0m0 9h0m0 1h0m0 4h0m0 1h0m0 2h0m0 3h0m0 4h0m0 2h0m0 29h0m1-102h0m0 21h0m0 12h0m0 5h0m0 3h0m0 3h0m0 2h0m0 3h0m0 2h0m0 3h0m0 10h0m0 1h0m0 4h0m0 14h0m1-55h0m0 1h0m0 1h0m0 6h0m0 4h0m0 10h0m0 4h0m0 5h0m0 15h0m0 7h0m0 3h0m1-57h0m0 6h0m0 10h0m0 1h0m0 6h0m0 5h0m0 1h0m0 6h0m0 3h0m0 6h0m0 3h0m1-55h0m0 12h0m0 8h0m0 3h0m0 3h0m0 3h0m0 1h0m0 1h0m0 5h0m0 4h0m0 13h0m0 6h0m0 4h0m0 1h0m1-58h0m0 10h0m0 9h0m0 3h0m0 1h0m0 6h0m0 3h0m0 3h0m0 6h0m0 2h0m0 10h0m1-56h0m0 7h0m0 4h0m0 6h0m0 2h0m0 1h0m0 6h0m0 8h0m0 1h0m0 9h0m0 10h0m1-70h0m0 9h0m0 14h0m0 1h0m0 11h0m0 4h0m0 3h0m0 4h0m0 4h0m0 5h0m1-33h0m0 3h0m0 4h0m0 6h0m0 1h0m0 3h0m0 5h0m0 2h0m0 2h0m0 37h0m1-64h0m0 1h0m0 4h0m0 4h0m0 6h0m0 5h0m0 8h0m0 4h0m0 4h0m0 2h0m0 4h0m0 8h0m1-65h0m0 14h0m0 8h0m0 3h0m0 10h0m0 5h0m0 5h0m0 3h0m0 1h0m0 4h0m0 6h0m0 11h0m1-51h0m0 6h0m0 1h0m0 4h0m0 2h0m0 3h0m0 2h0m0 19h0m0 3h0m1-49h0m0 6h0m0 6h0m0 14h0m0 6h0m0 1h0m0 2h0m0 1h0m0 15h0m1-44h0m0 3h0m0 1h0m0 1h0m0 2h0m0 2h0m0 3h0m0 1h0m0 9h0m0 3h0m0 4h0m1-40h0m0 23h0m0 4h0m0 1h0m0 6h0m0 9h0m1-26h0m0 2h0m0 5h0m0 7h0m0 6h0m0 3h0m0 12h0m0 1h0m0 14h0m1-66h0m0 8h0m0 1h0m0 6h0m0 5h0m0 6h0m0 1h0m0 4h0m0 6h0m0 2h0m0 7h0m1-38h0m0 2h0m0 5h0m0 7h0m0 2h0m0 6h0m0 4h0m1-44h0m0 18h0m0 4h0m0 2h0m0 1h0m0 2h0m0 2h0m0 5h0m0 5h0m0 4h0m0 5h0m0 4h0m1-47h0m0 14h0m0 4h0m0 3h0m0 4h0m0 6h0m0 7h0m0 2h0m0 2h0m0 13h0m1-43h0m0 10h0m0 4h0m0 3h0m0 7h0m0 10h0m1-39h0m0 4h0m0 3h0m0 11h0m0 1h0m0 2h0m0 1h0m0 3h0m0 1h0m0 3h0m1-39h0m0 14h0m0 5h0m0 1h0m0 3h0m0 1h0m0 1h0m0 3h0m0 19h0m0 4h0m1-41h0m0 7h0m0 3h0m0 5h0m0 9h0m0 6h0m0 3h0m0 7h0m1-31h0m0 3h0m0 5h0m0 3h0m0 2h0m0 3h0m1-24h0m0 6h0m0 6h0m0 7h0m0 3h0m0 16h0m0 5h0m0 5h0m1-49h0m0 16h0m0 6h0m1-29h0m0 6h0m0 1h0m0 3h0m0 4h0m0 3h0m0 1h0m0 4h0m0 3h0m0 1h0m0 6h0m0 3h0m0 2h0m0 3h0m0 16h0m1-52h0m0 4h0m0 1h0m0 5h0m0 1h0m0 4h0m0 3h0m0 4h0m0 1h0m0 6h0m0 7h0m1-34h0m0 5h0m0 2h0m0 1h0m0 2h0m0 4h0m0 6h0m0 4h0m0 1h0m0 1h0m0 6h0m0 1h0m1-37h0m0 8h0m0 2h0m0 11h0m0 10h0m0 6h0m1-53h0m0 16h0m0 2h0m0 6h0m0 4h0m0 4h0m0 10h0m0 5h0m0 3h0m0 10h0m0 8h0m0 8h0m1-69h0m0 11h0m0 12h0m0 5h0m0 1h0m0 3h0m0 5h0m0 3h0m0 2h0m0 7h0m0 4h0m0 8h0m1-62h0m0 9h0m0 11h0m0 8h0m0 5h0m0 3h0m0 4h0m1-37h0m0 5h0m0 2h0m0 3h0m0 5h0m0 5h0m0 2h0m0 3h0m0 17h0m0 15h0m0 7h0m1-48h0m0 2h0m0 5h0m0 2h0m0 4h0m0 4h0m0 2h0m1-29h0m0 2h0m0 6h0m0 6h0m0 1h0m0 4h0m0 4h0m0 2h0m0 3h0m0 2h0m0 1h0m0 2h0m0 1h0m0 1h0m0 4h0m0 3h0m0 12h0m0 2h0m1-66h0m0 26h0m0 7h0m0 3h0m0 1h0m0 10h0m0 1h0m0 5h0m0 2h0m0 1h0m0 17h0m0 4h0m1-52h0m0 3h0m0 8h0m0 4h0m0 2h0m0 4h0m0 22h0m1-49h0m0 6h0m0 9h0m0 2h0m0 4h0m0 2h0m0 3h0m0 7h0m0 6h0m1-43h0m0 8h0m0 1h0m0 5h0m0 5h0m0 1h0m0 2h0m0 2h0m0 1h0m0 5h0m0 1h0m0 3h0m0 1h0m0 4h0m0 8h0m1-38h0m0 3h0m0 3h0m0 8h0m0 4h0m0 5h0m0 1h0m0 4h0m1-38h0m0 2h0m0 5h0m0 16h0m0 8h0m0 6h0m0 4h0m0 2h0m0 3h0m0 19h0m0 27h0m1-92h0m0 6h0m0 5h0m0 1h0m0 3h0m0 3h0m0 2h0m0 3h0m0 3h0m0 3h0m0 1h0m0 4h0m0 2h0m0 12h0m0 2h0m0 1h0m1-61h0m0 11h0m0 17h0m0 6h0m0 3h0m0 5h0m0 6h0m0 3h0m0 7h0m0 14h0m0 3h0m0 10h0m1-67h0m0 6h0m0 3h0m0 4h0m0 16h0m0 2h0m0 4h0m0 14h0m1-57h0m0 6h0m0 3h0m0 5h0m0 6h0m0 1h0m0 5h0m0 2h0m0 3h0m0 2h0m0 2h0m0 11h0m0 6h0m0 1h0m0 3h0m1-40h0m0 3h0m0 1h0m0 3h0m0 4h0m0 12h0m0 2h0m0 12h0m0 6h0m0 14h0m0 2h0m1-86h0m0 20h0m0 1h0m0 4h0m0 10h0m0 6h0m0 3h0m0 1h0m0 5h0m0 4h0m0 1h0m0 15h0m0 13h0m1-34h0m0 1h0m0 15h0m0 1h0m1-52h0m0 7h0m0 5h0m0 5h0m0 3h0m0 3h0m0 1h0m0 4h0m0 4h0m0 6h0m0 6h0m0 1h0m0 2h0m0 25h0m1-64h0m0 1h0m0 12h0m0 1h0m0 2h0m0 2h0m0 4h0m0 2h0m0 8h0m0 2h0m0 8h0m0 27h0m1-69h0m0 4h0m0 4h0m0 2h0m0 8h0m0 3h0m0 16h0m0 1h0m1-47h0m0 13h0m0 14h0m0 11h0m0 1h0m0 1h0m0 2h0m0 9h0m1-34h0m0 3h0m0 1h0m0 1h0m0 5h0m0 1h0m0 3h0m0 4h0m0 2h0m0 12h0m0 12h0m1-70h0m0 8h0m0 17h0m0 6h0m0 6h0m0 4h0m0 1h0m0 27h0m1-53h0m0 4h0m0 1h0m0 3h0m0 3h0m0 4h0m0 4h0m1-28h0m0 10h0m0 3h0m0 2h0m0 2h0m0 6h0m0 2h0m0 2h0m0 5h0m0 11h0m1-35h0m0 13h0m0 9h0m0 2h0m0 3h0m0 30h0m1-54h0m0 4h0m0 2h0m0 2h0m0 1h0m0 3h0m0 4h0m0 4h0m0 6h0m1-25h0m0 1h0m0 3h0m0 4h0m0 2h0m0 4h0m0 1h0m0 3h0m0 2h0m0 7h0m0 4h0m0 1h0m1-45h0m0 2h0m0 5h0m0 1h0m0 1h0m0 8h0m0 4h0m0 5h0m0 6h0m0 1h0m0 1h0m0 1h0m0 1h0m0 1h0m0 14h0m1-47h0m0 10h0m0 2h0m0 2h0m0 2h0m0 1h0m0 4h0m0 7h0m0 3h0m1-26h0m0 4h0m0 3h0m0 7h0m0 3h0m0 3h0m0 1h0m0 2h0m0 4h0m1-30h0m0 4h0m0 15h0m0 16h0m1-34h0m0 5h0m0 8h0m0 1h0m0 7h0m0 3h0m0 4h0m0 4h0m1-42h0m0 7h0m0 3h0m0 2h0m0 1h0m0 1h0m0 4h0m0 2h0m0 1h0m0 1h0m0 4h0m0 5h0m0 2h0m0 1h0m0 7h0m0 1h0m0 1h0m0 3h0m0 3h0m1-44h0m0 1h0m0 3h0m0 5h0m0 2h0m0 9h0m0 1h0m0 1h0m0 4h0m0 6h0m0 6h0m0 16h0m0 1h0m1-64h0m0 11h0m0 1h0m0 8h0m0 9h0m0 4h0m0 2h0m0 1h0m0 15h0m1-45h0m0 1h0m0 6h0m0 10h0m0 2h0m0 2h0m0 1h0m0 6h0m0 4h0m0 9h0m0 10h0m0 1h0m1-64h0m0 13h0m0 4h0m0 2h0m0 3h0m0 1h0m0 3h0m0 8h0m0 5h0m0 6h0m0 2h0m1-35h0m0 5h0m0 2h0m0 2h0m0 2h0m0 5h0m0 3h0m0 33h0m1-52h0m0 1h0m0 3h0m0 5h0m0 3h0m0 5h0m0 4h0m0 2h0m0 4h0m0 1h0m0 1h0m0 2h0m0 1h0m0 1h0m0 8h0m1-44h0m0 11h0m0 2h0m0 4h0m0 4h0m0 16h0m0 7h0m1-44h0m0 7h0m0 2h0m0 15h0m0 3h0m0 1h0m0 3h0m0 5h0m0 5h0m0 6h0m0 3h0m1-49h0m0 4h0m0 1h0m0 8h0m0 2h0m0 3h0m0 3h0m0 4h0m0 7h0m0 1h0m1-27h0m0 3h0m0 8h0m0 2h0m0 7h0m0 2h0m0 8h0m0 3h0m0 7h0m1-33h0m0 1h0m0 9h0m0 8h0m0 5h0m0 10h0m1-46h0m0 3h0m0 3h0m0 3h0m0 5h0m0 7h0m0 3h0m0 10h0m0 5h0m0 4h0m1-43h0m0 1h0m0 1h0m0 5h0m0 2h0m0 7h0m0 2h0m0 3h0m0 6h0m0 2h0m0 11h0m0 1h0m0 1h0m0 4h0m1-30h0m0 1h0m0 5h0m0 3h0m0 4h0m0 3h0m0 1h0m0 2h0m0 5h0m0 1h0m0 8h0m0 9h0m1-56h0m0 1h0m0 8h0m0 6h0m0 2h0m0 4h0m1-17h0m0 1h0m0 5h0m0 6h0m0 6h0m0 3h0m0 5h0m0 6h0m0 7h0m0 5h0m0 2h0m0 1h0m1-53h0m0 4h0m0 1h0m0 12h0m0 2h0m0 3h0m0 1h0m0 4h0m0 3h0m0 16h0m0 10h0m0 6h0m1-60h0m0 15h0m0 5h0m0 7h0m0 2h0m0 4h0m0 2h0m0 2h0m1-45h0m0 4h0m0 16h0m0 1h0m0 3h0m0 7h0m0 5h0m0 6h0m0 4h0m0 3h0m0 9h0m1-39h0m0 3h0m0 3h0m0 2h0m0 3h0m0 3h0m0 5h0m0 2h0m0 3h0m0 8h0m0 17h0m0 2h0m0 3h0m1-63h0m0 1h0m0 4h0m0 4h0m0 8h0m0 10h0m0 6h0m0 4h0m0 2h0m0 8h0m0 1h0m0 11h0m1-51h0m0 3h0m0 11h0m0 3h0m0 5h0m0 3h0m0 2h0m0 28h0m1-47h0m0 3h0m0 9h0m0 3h0m0 6h0m0 4h0m1-31h0m0 7h0m0 4h0m0 3h0m0 1h0m0 10h0m0 3h0m0 4h0m0 1h0m0 5h0m0 3h0m0 11h0m1-55h0m0 9h0m0 2h0m0 13h0m0 2h0m0 5h0m0 6h0m0 3h0m0 4h0m0 4h0m1-44h0m0 2h0m0 7h0m0 3h0m0 2h0m0 2h0m0 3h0m0 29h0m1-61h0m0 16h0m0 4h0m0 10h0m0 2h0m0 3h0m0 1h0m0 2h0m0 2h0m0 14h0m0 1h0m1-42h0m0 5h0m0 1h0m0 4h0m0 3h0m0 4h0m0 2h0m0 5h0m0 3h0m0 7h0m0 5h0m0 2h0m0 2h0m0 16h0m1-51h0m0 4h0m0 1h0m0 1h0m0 11h0m0 3h0m0 3h0m0 2h0m0 22h0m1-37h0m0 1h0m0 2h0m0 4h0m0 4h0m0 4h0m0 4h0m0 7h0m1-63h0m0 18h0m0 1h0m0 5h0m0 6h0m0 4h0m0 7h0m0 1h0m0 9h0m0 1h0m0 3h0m1-38h0m0 3h0m0 3h0m0 2h0m0 1h0m0 1h0m0 7h0m0 1h0m0 5h0m0 1h0m0 2h0m0 3h0m0 6h0m0 25h0m1-59h0m0 8h0m0 1h0m0 2h0m0 3h0m0 6h0m0 11h0m0 4h0m0 4h0m0 1h0m0 4h0m0 6h0m1-52h0m0 2h0m0 12h0m0 5h0m0 4h0m0 6h0m0 3h0m0 14h0m1-38h0m0 9h0m0 5h0m0 4h0m0 3h0m0 15h0m0 2h0m1-35h0m0 4h0m0 4h0m0 10h0m0 4h0m0 4h0m1-34h0m0 2h0m0 2h0m0 3h0m0 5h0m0 4h0m0 5h0m0 2h0m0 5h0m0 30h0m1-71h0m0 5h0m0 4h0m0 3h0m0 10h0m0 2h0m0 2h0m0 5h0m0 22h0m0 1h0m0 6h0m1-54h0m0 6h0m0 2h0m0 1h0m0 3h0m0 3h0m0 2h0m0 2h0m0 6h0m0 2h0m0 3h0m0 12h0m1-34h0m0 4h0m0 6h0m0 4h0m0 8h0m0 1h0m1-23h0m0 5h0m0 10h0m0 3h0m0 7h0m1-28h0m0 4h0m0 3h0m0 4h0m0 4h0m0 4h0m0 4h0m0 1h0m0 1h0m0 44h0m1-84h0m0 7h0m0 14h0m0 4h0m0 4h0m0 7h0m0 19h0m1-44h0m0 3h0m0 3h0m0 4h0m0 11h0m0 5h0m0 9h0m0 18h0m1-63h0m0 3h0m0 3h0m0 3h0m0 4h0m0 6h0m0 2h0m0 1h0m0 2h0m0 2h0m0 7h0m1-34h0m0 19h0m0 11h0m0 5h0m0 4h0m0 1h0m0 2h0m0 4h0m0 5h0m1-56h0m0 7h0m0 5h0m0 4h0m0 1h0m0 4h0m0 2h0m0 5h0m0 2h0m0 8h0m0 4h0m1-38h0m0 9h0m0 3h0m0 5h0m0 3h0m0 5h0m0 4h0m0 3h0m0 4h0m0 24h0m0 4h0m1-56h0m0 7h0m0 5h0m0 10h0m0 20h0m1-32h0m0 2h0m0 1h0m0 2h0m0 4h0m0 7h0m0 4h0m0 1h0m1-29h0m0 4h0m0 3h0m0 9h0m0 1h0m0 1h0m0 4h0m0 5h0m0 5h0m0 2h0m0 1h0m0 11h0m1-62h0m0 4h0m0 3h0m0 7h0m0 4h0m0 2h0m0 5h0m0 2h0m0 3h0m0 5h0m0 5h0m0 3h0m0 18h0m0 10h0m1-62h0m0 1h0m0 9h0m0 4h0m0 3h0m0 5h0m0 6h0m0 7h0m0 7h0m0 56h0m1-99h0m0 12h0m0 8h0m0 2h0m0 2h0m0 7h0m0 5h0m0 7h0m0 39h0m1-82h0m0 4h0m0 6h0m0 4h0m0 3h0m0 8h0m0 1h0m0 1h0m0 2h0m0 4h0m0 4h0m1-33h0m0 1h0m0 5h0m0 2h0m0 4h0m0 1h0m0 1h0m0 3h0m0 2h0m0 4h0m0 8h0m0 13h0m0 8h0m1-62h0m0 10h0m0 1h0m0 1h0m0 9h0m0 4h0m0 4h0m0 5h0m0 3h0m0 5h0m0 2h0m0 1h0m0 4h0m0 3h0m1-41h0m0 4h0m0 12h0m0 2h0m0 10h0m0 9h0m0 1h0m0 35h0m1-80h0m0 11h0m0 10h0m0 6h0m0 5h0m0 2h0m0 3h0m0 20h0m1-47h0m0 2h0m0 4h0m0 3h0m0 2h0m0 4h0m0 11h0m0 1h0m0 5h0m0 5h0m1-58h0m0 17h0m0 3h0m0 7h0m0 7h0m0 1h0m0 2h0m0 2h0m0 4h0m0 1h0m0 4h0m0 14h0m1-41h0m0 4h0m0 1h0m0 5h0m0 7h0m0 14h0m0 1h0m0 3h0m0 5h0m0 5h0m1-38h0m0 2h0m0 1h0m0 1h0m0 1h0m0 6h0m0 29h0m1-52h0m0 8h0m0 11h0m0 10h0m0 3h0m0 1h0m0 17h0m0 1h0m1-45h0m0 6h0m0 8h0m0 1h0m0 3h0m0 1h0m0 4h0m0 1h0m0 2h0m0 2h0m0 1h0m0 5h0m0 6h0m1-44h0m0 17h0m0 1h0m0 2h0m0 1h0m0 3h0m0 1h0m0 9h0m0 1h0m0 7h0m0 4h0m0 22h0m1-68h0m0 2h0m0 13h0m0 2h0m0 4h0m0 10h0m0 15h0m0 6h0m1-42h0m0 11h0m0 3h0m0 2h0m0 2h0m0 6h0m0 1h0m0 1h0m0 9h0m0 3h0m0 9h0m1-51h0m0 2h0m0 8h0m0 5h0m0 9h0m0 5h0m0 6h0m0 9h0m0 1h0m0 2h0m1-50h0m0 5h0m0 1h0m0 6h0m0 7h0m0 2h0m0 7h0m0 1h0m0 3h0m0 5h0m0 2h0m0 4h0m0 10h0m1-51h0m0 6h0m0 7h0m0 1h0m0 8h0m0 2h0m0 6h0m0 1h0m0 1h0m0 5h0m1-36h0m0 9h0m0 2h0m0 2h0m0 6h0m0 13h0m0 2h0m0 18h0m0 1h0m1-58h0m0 2h0m0 5h0m0 5h0m0 1h0m0 10h0m0 6h0m0 4h0m0 4h0m0 4h0m0 3h0m0 15h0m1-44h0m0 4h0m0 6h0m0 2h0m0 8h0m0 9h0m0 4h0m0 4h0m1-44h0m0 6h0m0 3h0m0 3h0m0 9h0m0 2h0m0 1h0m0 8h0m0 3h0m0 3h0m0 2h0m0 1h0m0 20h0m1-52h0m0 1h0m0 6h0m0 3h0m0 3h0m0 1h0m0 1h0m0 2h0m0 1h0m0 2h0m0 1h0m0 5h0m0 5h0m1-48h0m0 14h0m0 10h0m0 4h0m0 2h0m0 5h0m0 6h0m0 3h0m0 9h0m1-43h0m0 8h0m0 1h0m0 1h0m0 3h0m0 3h0m0 10h0m0 9h0m0 3h0m0 1h0m1-32h0m0 1h0m0 1h0m0 2h0m0 1h0m0 1h0m0 2h0m0 5h0m0 5h0m0 4h0m0 1h0m0 4h0m0 6h0m0 7h0m1-52h0m0 5h0m0 6h0m0 1h0m0 1h0m0 5h0m0 4h0m0 3h0m0 6h0m0 3h0m1-42h0m0 3h0m0 7h0m0 3h0m0 8h0m0 6h0m0 10h0m0 6h0m0 14h0m1-45h0m0 5h0m0 1h0m0 4h0m0 10h0m0 2h0m0 1h0m0 2h0m0 1h0m0 6h0m0 3h0m0 3h0m1-36h0m0 5h0m0 6h0m0 2h0m0 2h0m0 3h0m0 1h0m0 9h0m1-29h0m0 1h0m0 10h0m0 13h0m0 3h0m0 5h0m1-51h0m0 12h0m0 2h0m0 2h0m0 4h0m0 1h0m0 2h0m0 5h0m0 2h0m0 5h0m0 1h0m0 4h0m0 5h0m0 1h0m0 3h0m0 6h0m0 2h0m1-59h0m0 6h0m0 11h0m0 3h0m0 3h0m0 3h0m0 4h0m0 2h0m0 3h0m0 7h0m0 1h0m0 3h0m1-32h0m0 2h0m0 3h0m0 7h0m0 2h0m0 1h0m0 6h0m0 5h0m0 5h0m0 5h0m1-40h0m0 22h0m0 6h0m0 3h0m0 1h0m0 1h0m0 2h0m1-41h0m0 8h0m0 2h0m0 11h0m0 2h0m0 9h0m0 12h0m0 3h0m0 3h0m0 3h0m0 1h0m1-42h0m0 11h0m0 3h0m0 3h0m0 1h0m0 6h0m0 4h0m0 2h0m0 6h0m0 2h0m1-40h0m0 5h0m0 2h0m0 3h0m0 13h0m0 16h0m1-37h0m0 6h0m0 1h0m0 5h0m0 1h0m0 3h0m0 7h0m0 2h0m0 1h0m0 2h0m0 12h0m1-39h0m0 1h0m0 14h0m0 1h0m0 2h0m0 1h0m0 7h0m0 2h0m0 3h0m0 7h0m0 2h0m0 7h0m1-74h0m0 3h0m0 13h0m0 20h0m0 4h0m0 5h0m0 3h0m0 1h0m0 10h0m1-57h0m0 3h0m0 8h0m0 5h0m0 2h0m0 1h0m0 1h0m0 9h0m0 3h0m0 3h0m0 2h0m0 5h0m0 10h0m0 1h0m0 1h0m0 3h0m1-25h0m0 9h0m0 1h0m0 11h0m0 4h0m0 8h0m0 1h0m1-51h0m0 5h0m0 4h0m0 1h0m0 12h0m0 3h0m0 1h0m0 5h0m0 9h0m0 5h0m0 4h0m1-42h0m0 2h0m0 5h0m0 1h0m0 1h0m0 3h0m0 3h0m0 2h0m0 5h0m0 9h0m0 20h0m1-50h0m0 2h0m0 8h0m0 19h0m1-36h0m0 3h0m0 6h0m0 3h0m0 5h0m0 3h0m0 1h0m0 3h0m0 4h0m0 12h0m0 6h0m1-47h0m0 9h0m0 5h0m0 4h0m0 7h0m0 3h0m0 4h0m0 1h0m0 4h0m0 10h0m0 2h0m1-50h0m0 7h0m0 15h0m0 11h0m0 1h0m0 17h0m0 23h0m1-85h0m0 11h0m0 2h0m0 8h0m0 2h0m0 3h0m0 2h0m0 2h0m0 4h0m0 4h0m0 18h0m0 20h0m1-68h0m0 10h0m0 4h0m0 10h0m0 6h0m0 2h0m0 1h0m0 2h0m0 8h0m0 1h0m0 3h0m0 1h0m0 9h0m0 4h0m1-50h0m0 4h0m0 4h0m0 3h0m0 1h0m0 14h0m0 3h0m0 8h0m0 20h0m1-44h0m0 13h0m0 1h0m0 1h0m0 4h0m0 2h0m0 3h0m0 3h0m0 2h0m0 3h0m1-56h0m0 5h0m0 13h0m0 1h0m0 2h0m0 8h0m0 1h0m0 1h0m0 1h0m0 5h0m0 8h0m0 15h0m0 7h0m1-52h0m0 2h0m0 2h0m0 3h0m0 4h0m0 7h0m0 1h0m0 5h0m0 4h0m0 2h0m1-39h0m0 5h0m0 3h0m0 2h0m0 2h0m0 6h0m0 2h0m0 4h0m0 12h0m0 4h0m1-30h0m0 3h0m0 8h0m0 2h0m0 1h0m0 18h0m0 3h0m0 6h0m1-49h0m0 5h0m0 6h0m0 23h0m0 2h0m0 4h0m0 12h0m0 3h0m0 3h0m1-65h0m0 6h0m0 9h0m0 6h0m0 1h0m0 4h0m0 20h0m1-37h0m0 2h0m0 3h0m0 2h0m0 3h0m0 1h0m0 2h0m0 1h0m0 2h0m0 14h0m0 9h0m0 5h0m1-30h0m0 19h0m0 2h0m0 6h0m0 8h0m0 2h0m0 27h0m1-69h0m0 1h0m0 5h0m0 13h0m0 9h0m0 11h0m0 2h0m1-42h0m0 8h0m0 13h0m0 13h0m1-26h0m0 13h0m0 3h0m0 5h0m0 11h0m1-45h0m0 9h0m0 20h0m0 5h0m0 7h0m0 3h0m0 3h0m0 9h0m1-63h0m0 8h0m0 6h0m0 6h0m0 2h0m0 1h0m0 2h0m0 1h0m0 15h0m0 7h0m0 6h0m1-41h0m0 7h0m0 6h0m0 10h0m0 1h0m0 9h0m0 3h0m0 2h0m0 17h0m1-47h0m0 1h0m0 4h0m0 24h0m0 2h0m0 16h0m1-52h0m0 21h0m0 4h0m0 4h0m0 16h0m1-44h0m0 4h0m0 1h0m0 4h0m0 13h0m0 1h0m0 1h0m0 7h0m0 9h0m0 1h0m0 4h0m0 11h0m1-63h0m0 4h0m0 2h0m0 1h0m0 2h0m0 6h0m0 17h0m0 13h0m1-40h0m0 23h0m0 6h0m0 3h0m0 4h0m0 5h0m1-49h0m0 24h0m0 2h0m0 1h0m0 3h0m0 6h0m0 13h0m0 7h0m1-56h0m0 7h0m0 1h0m0 3h0m0 2h0m0 2h0m0 3h0m0 13h0m0 22h0m0 12h0m1-64h0m0 7h0m0 3h0m0 3h0m0 9h0m0 5h0m0 4h0m0 2h0m0 2h0m0 5h0m0 3h0m1-40h0m0 6h0m0 3h0m0 9h0m0 5h0m0 3h0m0 3h0m0 4h0m0 2h0m1-50h0m0 4h0m0 1h0m0 13h0m0 1h0m0 6h0m0 1h0m0 2h0m0 6h0m0 5h0m0 8h0m1-43h0m0 5h0m0 5h0m0 1h0m0 4h0m0 3h0m0 15h0m0 6h0m0 6h0m0 4h0m0 11h0m1-46h0m0 3h0m0 5h0m0 9h0m0 5h0m0 4h0m0 1h0m0 14h0m1-57h0m0 13h0m0 8h0m0 2h0m0 1h0m0 4h0m0 4h0m0 2h0m0 2h0m0 6h0m0 2h0m0 1h0m0 5h0m1-47h0m0 5h0m0 7h0m0 20h0m0 4h0m0 2h0m0 4h0m1-44h0m0 6h0m0 5h0m0 2h0m0 4h0m0 3h0m0 4h0m0 1h0m0 5h0m0 5h0m1-40h0m0 10h0m0 11h0m0 1h0m0 11h0m0 1h0m0 4h0m0 4h0m0 3h0m0 9h0m1-37h0m0 3h0m0 5h0m0 3h0m0 9h0m0 2h0m0 1h0m0 3h0m0 3h0m0 3h0m1-39h0m0 2h0m0 4h0m0 9h0m0 3h0m0 4h0m0 4h0m0 1h0m0 1h0m0 3h0m1-54h0m0 25h0m0 2h0m0 1h0m0 1h0m0 3h0m0 2h0m0 3h0m0 3h0m0 5h0m0 1h0m0 4h0m0 8h0m0 6h0m1-47h0m0 6h0m0 11h0m0 1h0m0 2h0m0 4h0m0 3h0m0 2h0m0 9h0m1-12h0m0 3h0m0 1h0m0 10h0m0 3h0m0 1h0m1-47h0m0 7h0m0 1h0m0 24h0m0 8h0m0 5h0m1-58h0m0 12h0m0 3h0m0 4h0m0 1h0m0 24h0m0 7h0m0 3h0m0 10h0m0 10h0m1-62h0m0 3h0m0 4h0m0 4h0m0 22h0m0 7h0m1-32h0m0 3h0m0 20h0m0 11h0m0 2h0m1-32h0m0 17h0m0 1h0m0 2h0m0 3h0m0 10h0m1-50h0m0 10h0m0 8h0m0 14h0m0 1h0m0 6h0m0 4h0m0 1h0m0 1h0m0 1h0m1-60h0m0 22h0m0 30h0m0 14h0m1-47h0m0 2h0m0 6h0m0 2h0m0 1h0m0 14h0m0 10h0m0 6h0m0 1h0m0 9h0m1-47h0m0 22h0m0 3h0m0 9h0m0 4h0m0 7h0m0 3h0m1-53h0m0 29h0m0 3h0m0 1h0m0 1h0m0 6h0m0 3h0m1-31h0m0 14h0m0 3h0m0 1h0m0 6h0m0 4h0m0 4h0m0 2h0m0 4h0m1-52h0m0 7h0m0 20h0m0 7h0m0 5h0m0 29h0m1-61h0m0 2h0m0 2h0m0 1h0m0 3h0m0 3h0m0 1h0m0 1h0m0 1h0m0 7h0m0 9h0m0 7h0m0 2h0m1-16h0m0 6h0m0 34h0m1-48h0m0 10h0m0 1h0m0 8h0m0 20h0m1-61h0m0 16h0m0 5h0m0 1h0m0 3h0m0 1h0m0 10h0m0 12h0m0 2h0m0 2h0m1-33h0m0 1h0m0 16h0m0 2h0m0 1h0m0 9h0m1-35h0m0 8h0m0 5h0m0 12h0m0 10h0m0 5h0m0 2h0m1-29h0m0 3h0m0 10h0m0 8h0m0 24h0m1-59h0m0 7h0m0 10h0m0 10h0m0 2h0m0 1h0m0 8h0m0 3h0m0 13h0m0 1h0m0 7h0m1-64h0m0 12h0m0 3h0m0 8h0m0 12h0m0 8h0m0 2h0m1-26h0m0 1h0m0 2h0m0 4h0m0 3h0m0 1h0m0 3h0m0 1h0m0 3h0m0 2h0m0 22h0m0 3h0m1-53h0m0 2h0m0 2h0m0 1h0m0 2h0m0 5h0m0 6h0m0 8h0m0 1h0m0 2h0m0 9h0m0 2h0m1-46h0m0 14h0m0 4h0m0 2h0m0 4h0m0 1h0m0 7h0m0 6h0m0 9h0m0 12h0m0 1h0m0 6h0m1-59h0m0 2h0m0 3h0m0 5h0m0 1h0m0 3h0m0 2h0m0 1h0m0 4h0m0 3h0m0 1h0m0 1h0m0 1h0m0 3h0m0 4h0m1-38h0m0 4h0m0 11h0m0 15h0m0 7h0m0 11h0m0 1h0m1-42h0m0 3h0m0 4h0m0 4h0m0 3h0m0 2h0m0 4h0m0 2h0m0 6h0m0 1h0m0 2h0m0 3h0m1-37h0m0 9h0m0 1h0m0 10h0m0 4h0m0 2h0m0 8h0m0 19h0m0 3h0m1-60h0m0 9h0m0 1h0m0 1h0m0 5h0m0 4h0m0 3h0m0 25h0m0 4h0m1-61h0m0 20h0m0 3h0m0 5h0m0 1h0m0 6h0m0 1h0m0 5h0m0 1h0m0 9h0m1-42h0m0 12h0m0 4h0m0 3h0m0 1h0m0 4h0m0 5h0m0 5h0m0 4h0m0 1h0m0 3h0m0 6h0m0 2h0m1-56h0m0 10h0m0 7h0m0 5h0m0 12h0m0 1h0m0 3h0m0 1h0m0 2h0m0 2h0m0 1h0m1-48h0m0 9h0m0 1h0m0 8h0m0 3h0m0 1h0m0 1h0m0 6h0m0 5h0m0 30h0m1-50h0m0 4h0m0 1h0m0 20h0m1-37h0m0 8h0m0 7h0m0 7h0m0 1h0m0 2h0m0 2h0m0 1h0m0 5h0m0 5h0m0 4h0m1-39h0m0 4h0m0 2h0m0 6h0m0 4h0m0 8h0m0 5h0m0 4h0m0 6h0m0 2h0m0 6h0m1-40h0m0 6h0m0 4h0m0 7h0m0 3h0m0 8h0m1-48h0m0 21h0m0 4h0m0 3h0m0 4h0m0 2h0m0 11h0m0 10h0m0 1h0m1-49h0m0 8h0m0 3h0m0 3h0m0 4h0m0 4h0m0 7h0m0 7h0m0 1h0m0 1h0m0 9h0m0 11h0m1-61h0m0 4h0m0 8h0m0 6h0m0 1h0m0 2h0m0 1h0m0 7h0m0 5h0m0 1h0m0 17h0m0 11h0m1-63h0m0 4h0m0 4h0m0 6h0m0 1h0m0 2h0m0 1h0m0 5h0m0 4h0m0 11h0m0 6h0m0 13h0m0 12h0m1-62h0m0 1h0m0 11h0m0 4h0m0 3h0m0 3h0m0 2h0m0 3h0m0 5h0m0 5h0m0 2h0m0 12h0m1-73h0m0 6h0m0 18h0m0 17h0m0 16h0m0 2h0m0 3h0m1-55h0m0 17h0m0 6h0m0 3h0m0 2h0m0 1h0m0 1h0m0 3h0m0 2h0m0 4h0m0 6h0m0 1h0m0 3h0m1-38h0m0 3h0m0 2h0m0 4h0m0 18h0m0 1h0m0 9h0m0 5h0m0 3h0m0 1h0m1-48h0m0 22h0m0 1h0m0 5h0m0 1h0m1-29h0m0 4h0m0 3h0m0 4h0m0 1h0m0 1h0m0 3h0m0 2h0m0 1h0m0 12h0m0 2h0m0 4h0m0 4h0m0 2h0m1-64h0m0 19h0m0 5h0m0 2h0m0 5h0m0 5h0m0 1h0m0 1h0m0 3h0m0 5h0m0 7h0m0 42h0m1-72h0m0 2h0m0 4h0m0 1h0m0 2h0m0 4h0m0 7h0m0 3h0m0 3h0m0 2h0m0 2h0m0 1h0m0 10h0m0 5h0m1-51h0m0 2h0m0 3h0m0 17h0m0 4h0m0 4h0m0 7h0m0 1h0m0 1h0m0 2h0m1-35h0m0 7h0m0 2h0m0 1h0m0 6h0m0 1h0m0 7h0m0 2h0m0 9h0m0 4h0m1-35h0m0 2h0m0 3h0m0 10h0m0 1h0m0 2h0m0 11h0m0 2h0m0 14h0m0 16h0m0 18h0m1-81h0m0 4h0m0 7h0m0 9h0m0 6h0m0 2h0m0 1h0m0 4h0m0 1h0m0 5h0m0 13h0m1-46h0m0 2h0m0 6h0m0 9h0m0 3h0m0 4h0m0 4h0m0 3h0m0 1h0m1-38h0m0 12h0m0 4h0m0 1h0m0 2h0m0 6h0m0 7h0m0 18h0m1-54h0m0 24h0m0 1h0m0 8h0m0 4h0m0 12h0m0 30h0m1-73h0m0 8h0m0 4h0m0 2h0m0 8h0m0 4h0m0 1h0m0 1h0m1-28h0m0 11h0m0 5h0m0 8h0m1-33h0m0 2h0m0 15h0m0 6h0m0 5h0m0 1h0m0 3h0m0 3h0m0 3h0m0 4h0m0 5h0m0 45h0m1-95h0m0 17h0m0 4h0m0 4h0m0 5h0m0 2h0m0 11h0m0 6h0m0 3h0m0 7h0m1-44h0m0 6h0m0 3h0m0 4h0m0 9h0m0 2h0m0 4h0m0 2h0m0 6h0m0 1h0m0 8h0m1-43h0m0 1h0m0 2h0m0 2h0m0 7h0m0 5h0m0 6h0m0 7h0m1-24h0m0 1h0m0 4h0m0 1h0m0 2h0m0 3h0m0 2h0m0 6h0m0 2h0m0 9h0m0 5h0m0 2h0m0 4h0m1-67h0m0 6h0m0 15h0m0 2h0m0 15h0m0 3h0m0 1h0m0 4h0m0 2h0m0 3h0m0 3h0m0 18h0m0 7h0m1-61h0m0 3h0m0 11h0m0 2h0m0 1h0m0 4h0m0 11h0m0 16h0m0 10h0m1-71h0m0 5h0m0 7h0m0 11h0m0 16h0m0 7h0m0 3h0m0 4h0m0 1h0m1-32h0m0 2h0m0 2h0m0 1h0m0 3h0m0 1h0m0 1h0m0 4h0m0 6h0m0 2h0m0 5h0m0 3h0m0 3h0m0 3h0m1-50h0m0 2h0m0 2h0m0 3h0m0 3h0m0 4h0m0 7h0m0 4h0m0 6h0m0 5h0m0 4h0m0 1h0m0 5h0m0 1h0m1-35h0m0 4h0m0 4h0m0 6h0m0 1h0m0 1h0m0 11h0m0 11h0m0 2h0m1-39h0m0 3h0m0 2h0m0 7h0m0 5h0m0 3h0m0 2h0m0 3h0m0 1h0m0 9h0m0 24h0m1-89h0m0 38h0m0 2h0m0 3h0m0 4h0m0 6h0m0 2h0m0 5h0m0 20h0m1-52h0m0 3h0m0 1h0m0 4h0m0 16h0m0 1h0m0 6h0m0 3h0m0 2h0m0 1h0m0 2h0m1-43h0m0 10h0m0 5h0m0 2h0m0 5h0m0 3h0m0 2h0m0 6h0m0 3h0m1-40h0m0 10h0m0 4h0m0 3h0m0 3h0m0 4h0m0 6h0m0 6h0m0 4h0m0 4h0m0 25h0m1-53h0m0 5h0m0 6h0m0 8h0m0 5h0m0 6h0m0 6h0m0 10h0m0 33h0m1-99h0m0 14h0m0 12h0m0 8h0m0 2h0m0 1h0m0 2h0m0 1h0m0 7h0m0 8h0m0 6h0m1-63h0m0 12h0m0 2h0m0 4h0m0 1h0m0 1h0m0 2h0m0 5h0m0 4h0m0 3h0m0 10h0m1-38h0m0 1h0m0 13h0m0 1h0m0 4h0m0 2h0m0 2h0m0 7h0m0 4h0m0 11h0m0 1h0m0 7h0m1-47h0m0 2h0m0 7h0m0 2h0m0 4h0m0 3h0m0 3h0m0 9h0m0 1h0m0 5h0m0 1h0m1-36h0m0 2h0m0 7h0m0 2h0m0 8h0m0 4h0m0 1h0m0 3h0m0 1h0m0 18h0m0 9h0m1-74h0m0 15h0m0 5h0m0 6h0m0 9h0m0 5h0m0 4h0m0 3h0m0 5h0m0 9h0m1-53h0m0 2h0m0 3h0m0 3h0m0 3h0m0 2h0m0 4h0m0 7h0m0 4h0m0 7h0m0 1h0m0 3h0m1-49h0m0 21h0m0 2h0m0 1h0m0 6h0m0 1h0m0 4h0m0 5h0m0 2h0m0 3h0m1-19h0m0 1h0m0 6h0m0 4h0m0 5h0m0 2h0m0 1h0m0 7h0m0 22h0m1-61h0m0 2h0m0 2h0m0 3h0m0 4h0m0 3h0m0 10h0m0 3h0m0 18h0m0 2h0m0 12h0m1-67h0m0 2h0m0 1h0m0 5h0m0 6h0m0 9h0m0 1h0m0 2h0m0 4h0m0 1h0m0 11h0m0 2h0m0 20h0m1-58h0m0 2h0m0 6h0m0 3h0m0 10h0m0 5h0m0 4h0m0 2h0m0 1h0m0 6h0m1-42h0m0 2h0m0 13h0m0 3h0m0 5h0m0 6h0m0 7h0m0 8h0m1-43h0m0 4h0m0 5h0m0 3h0m0 3h0m0 10h0m0 4h0m0 1h0m0 4h0m0 3h0m0 6h0m0 10h0m1-51h0m0 6h0m0 4h0m0 12h0m0 4h0m0 9h0m0 4h0m0 4h0m0 5h0m1-57h0m0 8h0m0 5h0m0 8h0m0 3h0m0 1h0m0 1h0m0 1h0m0 1h0m0 4h0m0 6h0m0 19h0m1-56h0m0 23h0m0 5h0m0 5h0m0 2h0m0 7h0m0 6h0m0 13h0m1-47h0m0 2h0m0 2h0m0 2h0m0 4h0m0 7h0m0 8h0m0 2h0m0 4h0m0 9h0m1-50h0m0 3h0m0 7h0m0 1h0m0 7h0m0 5h0m0 8h0m0 2h0m0 7h0m0 9h0m1-45h0m0 2h0m0 1h0m0 1h0m0 1h0m0 7h0m0 9h0m0 4h0m0 17h0m1-35h0m0 1h0m0 4h0m0 1h0m0 2h0m0 2h0m0 2h0m0 3h0m0 3h0m0 3h0m0 5h0m0 2h0m0 2h0m1-32h0m0 7h0m0 1h0m0 3h0m0 8h0m0 6h0m0 2h0m0 1h0m0 3h0m1-33h0m0 4h0m0 4h0m0 8h0m0 8h0m0 3h0m0 1h0m0 20h0m0 9h0m0 8h0m1-52h0" stroke="#ffa526" stroke-width="3.9" stroke-linecap="round" fill="none"/>
<g class="tk" text-anchor="middle"><text transform="translate(117.0 1110.0) scale(1.12 1)">0</text><text transform="translate(208.5 1110.0) scale(1.12 1)">2</text><text transform="translate(300.0 1110.0) scale(1.12 1)">4</text><text transform="translate(391.5 1110.0) scale(1.12 1)">6</text><text transform="translate(483.0 1110.0) scale(1.12 1)">8</text><text transform="translate(574.5 1110.0) scale(1.12 1)">10</text></g>
<g class="tk" text-anchor="end"><text x="106.8" y="1080.2">0.4</text><text x="106.8" y="994.1">0.5</text><text x="106.8" y="908.1">0.6</text><text x="106.8" y="822.0">0.7</text></g>
<text class="xl" x="348.2" y="1137.2" text-anchor="middle">DSL</text>
<text class="yl" transform="translate(47.7 943.4) rotate(-90) scale(1 0.9)" text-anchor="middle">&#961;</text>
<text class="ti" x="369.4" y="810.7" text-anchor="middle">SWIR2</text>

<rect x="690" y="830" width="499.5" height="40.5" fill="#fff" stroke="#5a5a5a" stroke-width="1.1"/>
<text class="lg" x="698.5" y="860.3" textLength="479" lengthAdjust="spacingAndGlyphs">DSL (Decimal year since OLI launch)</text>
<rect x="711.6" y="875.6" width="448.4" height="81.5" fill="#fff" stroke="#5a5a5a" stroke-width="1.1"/>
<circle cx="739.4" cy="896.4" r="5.1" fill="#0000ff"/>
<circle cx="739.5" cy="935.7" r="4.6" fill="#ffa526"/>
<text class="lg" x="767.8" y="903" textLength="386.5" lengthAdjust="spacingAndGlyphs">Before BRDF TOA reflectance</text>
<text class="lg" x="767.2" y="942.2" textLength="369.5" lengthAdjust="spacingAndGlyphs">After BRDF TOA reflectance</text>

</svg>
</body></html>
